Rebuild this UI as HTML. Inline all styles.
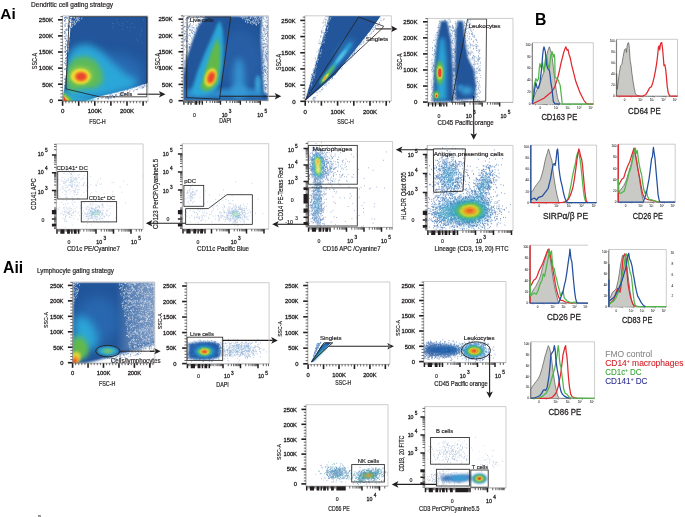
<!DOCTYPE html><html><head><meta charset="utf-8"><style>html,body{margin:0;padding:0;background:#fff;overflow:hidden}svg{display:block;will-change:transform}</style></head><body><svg width="685" height="517" viewBox="0 0 685 517" font-family='"Liberation Sans", sans-serif'>
<defs><filter id="b0_5" x="-50%" y="-50%" width="200%" height="200%"><feGaussianBlur stdDeviation="0.5"/></filter><filter id="b0_6" x="-50%" y="-50%" width="200%" height="200%"><feGaussianBlur stdDeviation="0.6"/></filter><filter id="b0_7" x="-50%" y="-50%" width="200%" height="200%"><feGaussianBlur stdDeviation="0.7"/></filter><filter id="b0_8" x="-50%" y="-50%" width="200%" height="200%"><feGaussianBlur stdDeviation="0.8"/></filter><filter id="b0_9" x="-50%" y="-50%" width="200%" height="200%"><feGaussianBlur stdDeviation="0.9"/></filter><filter id="b1" x="-50%" y="-50%" width="200%" height="200%"><feGaussianBlur stdDeviation="1"/></filter><filter id="b1_2" x="-50%" y="-50%" width="200%" height="200%"><feGaussianBlur stdDeviation="1.2"/></filter><filter id="b1_3" x="-50%" y="-50%" width="200%" height="200%"><feGaussianBlur stdDeviation="1.3"/></filter><filter id="b1_4" x="-50%" y="-50%" width="200%" height="200%"><feGaussianBlur stdDeviation="1.4"/></filter><filter id="b1_5" x="-50%" y="-50%" width="200%" height="200%"><feGaussianBlur stdDeviation="1.5"/></filter><filter id="b1_6" x="-50%" y="-50%" width="200%" height="200%"><feGaussianBlur stdDeviation="1.6"/></filter><filter id="b1_8" x="-50%" y="-50%" width="200%" height="200%"><feGaussianBlur stdDeviation="1.8"/></filter><filter id="b2" x="-50%" y="-50%" width="200%" height="200%"><feGaussianBlur stdDeviation="2"/></filter><filter id="b2_2" x="-50%" y="-50%" width="200%" height="200%"><feGaussianBlur stdDeviation="2.2"/></filter><filter id="b2_5" x="-50%" y="-50%" width="200%" height="200%"><feGaussianBlur stdDeviation="2.5"/></filter><filter id="b3" x="-50%" y="-50%" width="200%" height="200%"><feGaussianBlur stdDeviation="3"/></filter><filter id="b3_5" x="-50%" y="-50%" width="200%" height="200%"><feGaussianBlur stdDeviation="3.5"/></filter><filter id="b4" x="-50%" y="-50%" width="200%" height="200%"><feGaussianBlur stdDeviation="4"/></filter><filter id="b5" x="-50%" y="-50%" width="200%" height="200%"><feGaussianBlur stdDeviation="5"/></filter><filter id="b6" x="-50%" y="-50%" width="200%" height="200%"><feGaussianBlur stdDeviation="6"/></filter></defs>
<rect width="685" height="517" fill="#fff"/>
<text x="0.30" y="19.30" font-size="15.4" text-anchor="start" fill="#000" font-weight="bold" >Ai</text>
<text x="31.10" y="6.60" font-size="6.4" text-anchor="start" fill="#231f20" stroke="#231f20" stroke-width="0.19" textLength="82.00" lengthAdjust="spacingAndGlyphs" >Dendritic cell gating strategy</text>
<text x="535.00" y="25.40" font-size="15.8" text-anchor="start" fill="#000" font-weight="bold" >B</text>
<text x="3.00" y="272.50" font-size="15.8" text-anchor="start" fill="#000" font-weight="bold" >Aii</text>
<text x="37.10" y="273.20" font-size="6.4" text-anchor="start" fill="#231f20" stroke="#231f20" stroke-width="0.19" textLength="76.80" lengthAdjust="spacingAndGlyphs" >Lymphocyte gating strategy</text>
<clipPath id="c1"><rect x="62.90" y="16.10" width="85.10" height="85.10"/></clipPath>
<g clip-path="url(#c1)">
<path d="M72.00 16.50 L148.00 16.50 L148.00 83.00 L140.00 85.50 L130.00 88.50 L120.00 91.00 L110.00 93.50 L100.00 96.00 L92.00 98.50 L84.00 101.20 L63.50 101.20 L64.00 92.00 L66.00 75.00 L68.50 50.00 L70.50 28.00 Z" fill="#22559a" filter="url(#b0_5)"/>
<path d="M65.3 55.4h0.8M70.0 18.3h0.8M64.7 26.3h0.8M67.7 56.4h0.8M70.6 37.7h0.8M65.4 78.3h0.8M69.5 54.2h0.8M67.5 62.7h0.8M66.4 79.4h0.8M72.7 26.2h0.8M68.7 37.9h0.8M64.8 86.8h0.8M68.3 27.7h0.8M70.7 32.0h0.8M64.3 31.9h0.8M67.5 53.0h0.8M67.4 17.3h0.8M64.5 18.7h0.8M67.1 41.1h0.8M64.9 29.6h0.8M64.2 82.3h0.8M68.7 26.0h0.8M71.4 31.5h0.8M64.6 63.3h0.8M73.0 18.1h0.8M72.1 31.0h0.8M64.9 17.4h0.8M66.9 73.4h0.8M66.2 40.9h0.8M68.4 40.8h0.8M71.5 19.2h0.8M64.7 47.9h0.8M65.5 65.5h0.8M65.4 51.0h0.8M71.6 18.8h0.8M67.6 28.9h0.8M66.4 44.2h0.8M64.6 84.8h0.8M70.4 28.6h0.8M69.0 22.2h0.8M70.1 34.3h0.8M64.4 25.1h0.8M67.2 66.8h0.8M67.5 26.3h0.8M67.2 47.2h0.8M64.9 60.4h0.8M71.0 21.3h0.8M65.4 52.7h0.8M64.5 79.3h0.8M65.4 46.8h0.8M69.0 38.6h0.8M66.4 65.2h0.8M67.6 74.0h0.8M66.9 79.1h0.8M68.2 59.7h0.8M65.0 41.7h0.8M69.5 18.3h0.8M65.5 79.1h0.8M67.0 66.9h0.8M67.4 75.2h0.8M67.8 28.1h0.8M69.7 20.9h0.8M65.1 85.2h0.8M67.7 23.2h0.8M65.4 64.7h0.8M68.1 57.7h0.8M69.0 26.6h0.8M65.7 16.9h0.8M64.7 52.3h0.8M65.2 49.1h0.8M66.1 72.4h0.8M69.4 38.7h0.8M65.6 44.6h0.8M69.1 21.6h0.8M64.5 33.3h0.8M70.1 18.3h0.8M64.5 51.7h0.8M65.5 61.4h0.8M64.9 68.4h0.8M68.5 25.3h0.8M65.8 39.0h0.8M65.7 54.5h0.8M68.9 42.2h0.8M65.7 62.9h0.8M68.0 26.0h0.8M64.3 46.9h0.8M68.8 57.4h0.8M68.0 47.6h0.8M64.4 79.1h0.8M66.5 18.3h0.8M68.4 44.8h0.8M70.6 28.9h0.8M64.1 62.8h0.8M64.2 18.2h0.8M70.0 33.9h0.8M64.7 26.1h0.8M67.7 42.6h0.8M67.7 30.5h0.8M69.8 16.2h0.8M67.8 41.1h0.8M67.9 20.0h0.8M67.5 67.8h0.8M68.4 33.0h0.8M64.2 31.7h0.8M68.4 56.6h0.8M71.6 21.6h0.8M70.8 19.8h0.8M66.5 73.1h0.8M66.7 18.5h0.8M66.5 17.7h0.8M72.1 25.7h0.8M67.1 62.2h0.8M67.1 46.0h0.8M65.0 46.7h0.8M64.3 33.7h0.8M66.7 69.7h0.8M65.8 30.3h0.8M68.2 26.5h0.8M67.9 43.1h0.8M64.9 51.6h0.8M65.5 81.9h0.8M65.9 57.5h0.8M67.2 66.8h0.8M67.2 55.8h0.8M68.6 53.5h0.8M66.6 36.1h0.8M70.3 34.1h0.8M64.2 69.4h0.8M66.6 80.6h0.8M65.7 34.0h0.8M67.6 25.1h0.8M65.5 17.5h0.8M67.8 58.3h0.8M65.0 38.6h0.8M66.2 40.4h0.8M67.2 61.4h0.8M67.3 41.8h0.8M72.3 17.0h0.8M64.1 20.5h0.8M66.4 57.0h0.8M66.5 53.7h0.8M64.5 38.7h0.8M65.6 57.9h0.8M70.7 19.3h0.8M65.4 86.7h0.8M67.2 65.3h0.8M64.9 24.1h0.8M70.9 40.5h0.8M65.1 51.4h0.8M68.8 53.0h0.8M70.2 37.6h0.8M65.1 43.6h0.8M64.5 86.2h0.8M66.4 30.3h0.8M69.5 27.4h0.8M67.1 55.6h0.8M64.3 17.5h0.8M66.6 63.1h0.8M69.9 22.4h0.8M64.6 76.1h0.8M66.0 78.4h0.8M68.6 16.5h0.8M69.6 51.0h0.8M64.7 36.6h0.8M67.1 43.3h0.8M71.1 29.2h0.8M68.4 63.9h0.8M64.8 31.1h0.8M66.2 28.9h0.8M64.8 32.6h0.8M66.2 53.9h0.8M70.5 44.7h0.8M65.7 23.5h0.8M66.6 29.5h0.8M71.2 32.1h0.8M64.4 21.3h0.8M68.4 44.7h0.8M70.8 22.6h0.8M66.5 70.2h0.8M66.0 60.7h0.8M65.3 63.6h0.8M67.1 44.4h0.8M65.6 16.7h0.8M68.2 29.9h0.8M66.6 71.4h0.8M65.3 58.4h0.8M65.1 58.7h0.8M69.4 43.4h0.8M67.5 72.2h0.8M68.8 48.2h0.8M65.1 38.3h0.8M66.7 71.0h0.8M71.1 32.9h0.8M65.1 20.0h0.8M64.3 36.8h0.8M65.6 51.4h0.8M67.5 47.2h0.8M70.1 46.8h0.8M66.2 50.5h0.8M66.2 45.7h0.8M64.8 69.2h0.8M71.3 18.3h0.8M67.0 76.7h0.8M66.0 58.4h0.8M65.2 87.8h0.8M67.3 62.0h0.8M67.9 25.4h0.8M65.2 19.6h0.8M65.7 35.4h0.8M65.0 46.7h0.8M64.8 49.1h0.8M64.8 21.2h0.8M65.0 46.8h0.8M71.4 34.4h0.8M66.9 53.2h0.8M64.7 51.5h0.8M64.6 79.2h0.8M64.5 85.5h0.8M66.8 59.2h0.8M66.3 68.3h0.8" stroke="#22559a" stroke-width="0.8" opacity="0.85"/>
<path d="M71.1 27.4h0.8M78.6 17.0h0.8M71.2 21.8h0.8M77.2 18.3h0.8M73.1 23.1h0.8M77.7 17.6h0.8M71.0 27.5h0.8M71.7 23.7h0.8M75.2 19.9h0.8M72.2 23.2h0.8M76.1 17.0h0.8M75.9 21.4h0.8M78.4 19.1h0.8M81.1 18.8h0.8M74.5 24.3h0.8M76.0 22.1h0.8M74.2 17.4h0.8M81.6 17.9h0.8M77.7 20.9h0.8M75.5 19.0h0.8M74.0 24.8h0.8M74.4 20.9h0.8M76.5 18.9h0.8M77.5 19.9h0.8M78.9 20.7h0.8M73.7 17.7h0.8M72.5 25.3h0.8M74.0 22.5h0.8M71.7 21.6h0.8M73.6 17.3h0.8M77.4 20.0h0.8M71.6 26.9h0.8M71.3 17.4h0.8M71.6 25.3h0.8M77.4 17.0h0.8M78.9 18.3h0.8M74.4 23.9h0.8M75.1 23.7h0.8M76.7 21.0h0.8M72.2 17.0h0.8M73.6 21.7h0.8M72.3 20.7h0.8M74.5 22.9h0.8M73.8 18.3h0.8M71.7 26.1h0.8M70.6 24.0h0.8M77.5 19.7h0.8M73.7 21.3h0.8M76.8 18.7h0.8M76.2 18.0h0.8" stroke="#fff" stroke-width="0.8" opacity="0.8"/>
<path d="M108.3 98.1h0.8M98.4 97.9h0.8M123.4 91.5h0.8M143.0 86.8h0.8M106.8 98.1h0.8M145.3 83.4h0.8M118.8 93.7h0.8M127.7 89.4h0.8M110.4 97.6h0.8M116.4 95.0h0.8M107.8 97.2h0.8M111.4 93.8h0.8M127.1 89.8h0.8M105.2 98.0h0.8M119.4 95.5h0.8M136.1 87.0h0.8M101.6 97.7h0.8M131.9 88.9h0.8M109.7 95.5h0.8M135.8 89.4h0.8M116.3 96.3h0.8M108.0 98.8h0.8M127.3 90.1h0.8M120.9 91.8h0.8M108.8 97.9h0.8M110.6 95.7h0.8M136.7 89.7h0.8M121.2 95.3h0.8M106.8 96.7h0.8M146.3 84.3h0.8M124.6 93.6h0.8M120.5 95.4h0.8M138.7 86.9h0.8M107.6 98.7h0.8M97.5 98.8h0.8M115.9 92.6h0.8M132.9 91.2h0.8M125.7 90.8h0.8M143.0 87.5h0.8M117.9 91.9h0.8M119.9 93.3h0.8M114.0 97.7h0.8M117.0 92.3h0.8M111.0 97.3h0.8M113.3 97.1h0.8M122.3 90.9h0.8M140.7 88.0h0.8M133.7 90.2h0.8M144.1 86.4h0.8M115.5 95.2h0.8M144.1 85.6h0.8M114.2 96.5h0.8M140.4 86.6h0.8M142.3 87.9h0.8M112.4 95.5h0.8M129.8 90.9h0.8M111.0 94.7h0.8M144.5 86.7h0.8M145.3 86.1h0.8M120.9 93.8h0.8M143.3 85.1h0.8M134.6 89.3h0.8M138.8 87.7h0.8M110.5 98.5h0.8M147.3 85.5h0.8M120.1 95.3h0.8M129.0 90.9h0.8M109.3 95.9h0.8M122.8 93.2h0.8M147.2 86.4h0.8M105.6 98.0h0.8M113.3 96.4h0.8M142.1 86.3h0.8M134.5 86.7h0.8M106.9 96.9h0.8M97.4 98.9h0.8M114.7 94.5h0.8M115.1 95.5h0.8M134.8 87.0h0.8M102.0 97.1h0.8M101.5 98.4h0.8M103.2 97.1h0.8M124.1 90.5h0.8M137.6 88.2h0.8M144.9 83.4h0.8M109.6 94.6h0.8M121.1 93.1h0.8M130.6 89.6h0.8M141.8 86.9h0.8M114.4 93.1h0.8M105.6 97.7h0.8M110.5 95.0h0.8M114.1 97.1h0.8M130.4 88.9h0.8M112.1 95.2h0.8M142.0 87.9h0.8M107.8 97.7h0.8M126.3 90.0h0.8M137.0 89.0h0.8M122.1 94.7h0.8M121.7 93.5h0.8M144.3 84.4h0.8M144.0 85.6h0.8M140.9 86.3h0.8M97.9 98.8h0.8M113.2 97.1h0.8M121.5 92.5h0.8M115.7 94.5h0.8M141.4 86.9h0.8M144.4 84.8h0.8" stroke="#22559a" stroke-width="0.8" opacity="0.85"/>
<path d="M121.4 91.6h0.8M125.6 89.3h0.8M105.7 96.1h0.8M106.4 95.3h0.8M137.7 86.2h0.8M121.3 91.7h0.8M105.2 96.4h0.8M108.2 95.0h0.8M100.7 96.9h0.8M126.2 89.8h0.8M126.6 89.9h0.8M137.4 88.2h0.8M129.7 90.5h0.8M118.6 91.5h0.8M143.7 86.6h0.8M113.7 92.9h0.8M118.8 92.4h0.8M126.4 89.6h0.8M102.6 96.7h0.8M121.3 92.1h0.8M110.7 93.9h0.8M125.9 91.5h0.8M121.1 90.7h0.8M133.4 89.2h0.8M146.7 85.7h0.8M118.3 91.7h0.8M120.8 91.6h0.8M137.1 86.5h0.8M125.3 90.9h0.8M123.8 91.5h0.8M124.6 90.2h0.8M134.9 89.2h0.8M139.5 87.8h0.8M125.6 90.3h0.8M144.4 86.5h0.8M119.8 91.4h0.8M115.0 93.3h0.8M139.8 85.6h0.8M130.1 89.4h0.8M146.1 84.9h0.8M141.1 86.5h0.8M101.8 96.4h0.8M135.3 88.5h0.8M114.2 94.4h0.8M132.0 88.3h0.8M137.9 87.3h0.8M140.7 86.9h0.8M115.3 93.7h0.8M134.0 89.3h0.8M113.2 94.2h0.8M132.5 89.5h0.8M117.7 91.6h0.8M134.9 87.1h0.8M145.3 85.5h0.8M130.6 88.5h0.8M135.5 87.4h0.8M103.8 97.0h0.8M133.2 87.3h0.8M124.5 90.7h0.8M136.5 87.9h0.8M141.8 87.1h0.8M129.0 89.1h0.8M131.0 88.0h0.8M142.9 84.7h0.8M137.6 87.0h0.8M106.9 94.6h0.8M141.9 85.0h0.8M116.2 93.6h0.8M138.2 87.2h0.8M146.3 84.5h0.8M140.0 86.9h0.8M135.0 88.0h0.8M136.8 87.9h0.8M131.3 88.8h0.8M131.3 87.8h0.8M107.0 95.5h0.8M125.6 91.2h0.8M122.5 90.6h0.8M121.4 91.5h0.8M103.2 96.0h0.8M100.3 97.3h0.8M113.8 94.2h0.8M133.3 89.5h0.8M144.7 84.8h0.8M113.6 94.5h0.8M117.6 91.6h0.8M105.4 94.9h0.8M129.6 90.3h0.8M108.5 95.5h0.8M115.0 92.9h0.8M107.1 94.5h0.8M132.7 88.2h0.8M111.1 94.9h0.8M110.4 95.2h0.8M133.0 89.6h0.8M99.6 97.6h0.8M123.9 90.6h0.8M144.4 85.0h0.8M130.4 89.5h0.8M106.8 95.7h0.8M101.4 97.1h0.8M135.1 87.2h0.8M102.4 96.2h0.8M123.8 91.7h0.8M145.3 86.5h0.8M128.4 89.1h0.8M120.0 92.5h0.8M147.2 86.2h0.8M103.1 97.0h0.8M141.5 84.9h0.8M103.2 96.2h0.8M133.1 88.1h0.8M129.0 88.4h0.8M114.3 93.7h0.8M104.3 95.3h0.8M138.1 88.4h0.8M115.9 92.9h0.8M131.0 89.6h0.8M143.5 85.7h0.8M117.6 92.6h0.8" stroke="#fff" stroke-width="0.8" opacity="0.8"/>
<path d="M116.5 19.2h0.8M127.4 21.9h0.8M134.5 27.3h0.8M137.5 40.8h0.8M118.7 24.3h0.8M136.7 39.2h0.8M117.2 22.6h0.8M112.5 23.4h0.8M122.5 29.3h0.8M143.2 20.4h0.8M130.0 27.4h0.8M127.2 27.2h0.8M141.0 29.2h0.8M141.8 42.7h0.8M122.0 23.4h0.8M112.4 28.3h0.8M147.9 28.9h0.8M112.5 23.5h0.8M112.5 26.3h0.8M121.9 25.6h0.8M129.6 30.8h0.8M131.7 23.5h0.8M139.8 33.8h0.8M140.0 36.2h0.8M141.5 31.5h0.8" stroke="#6f95c8" stroke-width="0.8" opacity="0.6"/>
<clipPath id="c2"><path d="M72.00 16.50 L148.00 16.50 L148.00 83.50 L140.00 86.00 L130.00 89.00 L120.00 91.50 L110.00 94.00 L100.00 96.50 L92.00 99.00 L84.00 101.20 L63.50 101.20 L64.00 92.00 L66.00 75.00 L68.50 50.00 L70.50 28.00 Z"/></clipPath>
<g clip-path="url(#c2)">
<ellipse cx="110.00" cy="75.00" rx="34.00" ry="22.00" fill="#2a6db5" filter="url(#b6)" opacity="0.9"/>
<path d="M66.00 70.00 L68.00 55.00 L76.00 46.00 L88.00 44.00 L100.00 50.00 L112.00 62.00 L126.00 74.00 L140.00 82.00 L130.00 89.00 L112.00 94.00 L95.00 98.00 L80.00 101.00 L66.00 101.00 Z" fill="#2aa6d8" filter="url(#b3_5)"/>
<path d="M66.00 82.00 L68.00 66.00 L75.00 58.00 L86.00 56.00 L96.00 61.00 L102.00 71.00 L103.00 82.00 L96.00 88.00 L82.00 89.00 L70.00 92.00 Z" fill="#5cba5a" filter="url(#b2_5)"/>
<ellipse cx="81.00" cy="75.50" rx="12.00" ry="9.50" fill="#8cc84a" filter="url(#b2)"/>
<ellipse cx="80.60" cy="76.30" rx="9.80" ry="7.60" fill="#f2e435" filter="url(#b1_3)"/>
<ellipse cx="81.00" cy="76.50" rx="7.00" ry="5.20" fill="#f39a2b" filter="url(#b1)"/>
<ellipse cx="81.20" cy="76.60" rx="5.00" ry="3.80" fill="#e8452e" filter="url(#b0_9)"/>
</g>
<path d="M63.50 90.00 L70.00 95.00 L80.00 98.00 L95.00 99.00 L95.00 101.50 L63.50 101.50 Z" fill="#30a8d0" filter="url(#b1_5)"/>
<path d="M63.50 92.00 L68.00 96.00 L72.00 99.00 L72.00 101.50 L63.50 101.50 Z" fill="#62b94a" filter="url(#b1_2)"/>
<path d="M63.50 94.00 L66.50 98.00 L70.00 100.50 L63.50 101.50 Z" fill="#f2e435" filter="url(#b0_8)"/>
<path d="M63.50 95.50 L65.50 99.00 L68.00 101.00 L63.50 101.50 Z" fill="#e8452e" filter="url(#b0_6)"/>
</g>
<path d="M65.90 88.90 L69.30 16.60 L146.90 16.60 L146.90 96.80 L99.40 96.80 Z" stroke="#231f20" stroke-width="0.8" fill="none" stroke-linejoin="miter" />
<text x="120.00" y="96.00" font-size="5.2" text-anchor="start" fill="#231f20" stroke="#231f20" stroke-width="0.16" textLength="12.20" lengthAdjust="spacingAndGlyphs" >Cells</text>
<line x1="137.50" y1="94.20" x2="160.40" y2="94.20" stroke="#231f20" stroke-width="1.1" />
<path d="M165.50 94.20 L158.90 97.50 L160.48 94.20 L158.90 90.90 Z" fill="#231f20"/>
<path d="M62.60 15.80 H148.00 V101.20" stroke="#b8b8b8" stroke-width="0.7" fill="none"/>
<path d="M62.60 15.80 V101.20 H148.00" stroke="#555" stroke-width="0.5" fill="none"/>
<line x1="58.00" y1="100.30" x2="62.60" y2="100.30" stroke="#231f20" stroke-width="1.6"/>
<text x="53.00" y="102.60" font-size="6.1" text-anchor="end" fill="#231f20" stroke="#231f20" stroke-width="0.30" >0</text>
<line x1="58.00" y1="84.20" x2="62.60" y2="84.20" stroke="#231f20" stroke-width="1.6"/>
<text x="53.00" y="86.50" font-size="6.1" text-anchor="end" fill="#231f20" stroke="#231f20" stroke-width="0.30" >50K</text>
<line x1="58.00" y1="68.10" x2="62.60" y2="68.10" stroke="#231f20" stroke-width="1.6"/>
<text x="53.00" y="70.40" font-size="6.1" text-anchor="end" fill="#231f20" stroke="#231f20" stroke-width="0.30" >100K</text>
<line x1="58.00" y1="52.00" x2="62.60" y2="52.00" stroke="#231f20" stroke-width="1.6"/>
<text x="53.00" y="54.30" font-size="6.1" text-anchor="end" fill="#231f20" stroke="#231f20" stroke-width="0.30" >150K</text>
<line x1="58.00" y1="35.90" x2="62.60" y2="35.90" stroke="#231f20" stroke-width="1.6"/>
<text x="53.00" y="38.20" font-size="6.1" text-anchor="end" fill="#231f20" stroke="#231f20" stroke-width="0.30" >200K</text>
<line x1="58.00" y1="19.80" x2="62.60" y2="19.80" stroke="#231f20" stroke-width="1.6"/>
<text x="53.00" y="22.10" font-size="6.1" text-anchor="end" fill="#231f20" stroke="#231f20" stroke-width="0.30" >250K</text>
<path d="M60.40 97.08H62.60M60.40 93.86H62.60M60.40 90.64H62.60M60.40 87.42H62.60M60.40 80.98H62.60M60.40 77.76H62.60M60.40 74.54H62.60M60.40 71.32H62.60M60.40 64.88H62.60M60.40 61.66H62.60M60.40 58.44H62.60M60.40 55.22H62.60M60.40 48.78H62.60M60.40 45.56H62.60M60.40 42.34H62.60M60.40 39.12H62.60M60.40 32.68H62.60M60.40 29.46H62.60M60.40 26.24H62.60M60.40 23.02H62.60M60.40 16.58H62.60" stroke="#231f20" stroke-width="0.7"/>
<line x1="62.60" y1="101.20" x2="62.60" y2="105.80" stroke="#231f20" stroke-width="1.6"/>
<text x="62.60" y="113.20" font-size="6.1" text-anchor="middle" fill="#231f20" stroke="#231f20" stroke-width="0.30" >0</text>
<line x1="78.70" y1="101.20" x2="78.70" y2="105.80" stroke="#231f20" stroke-width="1.6"/>
<line x1="94.80" y1="101.20" x2="94.80" y2="105.80" stroke="#231f20" stroke-width="1.6"/>
<text x="94.80" y="113.20" font-size="6.1" text-anchor="middle" fill="#231f20" stroke="#231f20" stroke-width="0.30" >100K</text>
<line x1="110.90" y1="101.20" x2="110.90" y2="105.80" stroke="#231f20" stroke-width="1.6"/>
<line x1="127.00" y1="101.20" x2="127.00" y2="105.80" stroke="#231f20" stroke-width="1.6"/>
<text x="127.00" y="113.20" font-size="6.1" text-anchor="middle" fill="#231f20" stroke="#231f20" stroke-width="0.30" >200K</text>
<line x1="143.10" y1="101.20" x2="143.10" y2="105.80" stroke="#231f20" stroke-width="1.6"/>
<path d="M65.82 101.20V103.20M69.04 101.20V103.20M72.26 101.20V103.20M75.48 101.20V103.20M81.92 101.20V103.20M85.14 101.20V103.20M88.36 101.20V103.20M91.58 101.20V103.20M98.02 101.20V103.20M101.24 101.20V103.20M104.46 101.20V103.20M107.68 101.20V103.20M114.12 101.20V103.20M117.34 101.20V103.20M120.56 101.20V103.20M123.78 101.20V103.20M130.22 101.20V103.20M133.44 101.20V103.20M136.66 101.20V103.20M139.88 101.20V103.20M146.32 101.20V103.20" stroke="#231f20" stroke-width="0.7"/>
<text x="97.50" y="124.10" font-size="6.5" text-anchor="middle" fill="#231f20" stroke="#231f20" stroke-width="0.20" textLength="16.50" lengthAdjust="spacingAndGlyphs" >FSC-H</text>
<text x="37.20" y="61.00" font-size="6.5" text-anchor="middle" fill="#231f20" stroke="#231f20" stroke-width="0.20" textLength="16.30" lengthAdjust="spacingAndGlyphs" transform="rotate(-90 37.20 61.00)" >SSC-A</text>
<clipPath id="c3"><rect x="183.40" y="16.00" width="85.00" height="84.70"/></clipPath>
<g clip-path="url(#c3)">
<path d="M206.00 16.00 L268.40 16.00 L268.40 101.00 L183.00 101.00 L183.00 76.00 L186.00 60.00 L192.50 40.00 L198.00 26.00 Z" fill="#22559a" filter="url(#b1_2)"/>
<path d="M200.0 21.3h0.8M193.2 22.7h0.8M188.3 27.1h0.8M193.6 16.0h0.8M189.2 44.3h0.8M193.3 27.5h0.8M187.9 26.2h0.8M183.3 27.6h0.8M198.2 16.7h0.8M200.0 20.6h0.8M205.1 17.1h0.8M183.3 21.8h0.8M184.1 26.5h0.8M189.7 26.8h0.8M193.1 31.4h0.8M201.9 16.9h0.8M186.2 58.0h0.8M203.0 17.8h0.8M200.3 16.6h0.8M184.9 26.6h0.8M201.4 16.4h0.8M184.4 61.9h0.8M187.5 41.5h0.8M205.3 16.5h0.8M192.0 30.2h0.8M196.7 17.8h0.8M183.5 27.4h0.8M191.8 32.7h0.8M183.6 41.6h0.8M189.3 33.5h0.8M184.5 33.6h0.8M192.8 17.6h0.8M183.3 16.6h0.8M186.1 41.0h0.8M183.7 39.2h0.8M189.7 29.9h0.8M187.3 51.7h0.8M184.9 36.7h0.8M189.2 30.0h0.8M189.3 47.9h0.8M183.3 68.4h0.8M189.3 24.8h0.8M184.0 33.7h0.8M185.3 60.8h0.8M191.5 18.0h0.8M185.4 19.8h0.8M194.2 32.2h0.8M191.3 31.8h0.8M198.6 24.0h0.8M196.4 17.0h0.8M184.5 40.1h0.8M199.5 19.9h0.8M194.2 34.5h0.8M185.4 47.0h0.8M186.9 18.5h0.8M183.6 16.6h0.8M189.1 16.4h0.8M196.4 27.9h0.8M201.5 19.6h0.8M189.7 35.3h0.8M199.1 24.4h0.8M189.0 47.9h0.8M188.6 35.3h0.8M191.6 25.8h0.8M186.6 47.4h0.8M189.9 36.3h0.8M185.6 56.5h0.8M185.2 31.9h0.8M185.2 38.8h0.8M195.7 25.2h0.8M186.6 29.6h0.8M183.7 39.8h0.8M189.2 21.9h0.8M191.4 30.7h0.8M201.2 20.7h0.8M189.1 46.8h0.8M185.9 18.8h0.8M191.3 38.1h0.8M187.4 38.2h0.8M183.0 69.7h0.8M184.4 34.0h0.8M183.1 74.2h0.8M200.0 19.0h0.8M186.2 55.7h0.8M186.5 40.6h0.8M185.8 45.3h0.8M189.3 25.3h0.8M192.3 33.5h0.8M186.4 37.1h0.8M196.3 16.9h0.8M196.7 28.8h0.8M187.0 25.2h0.8M187.9 44.0h0.8M188.3 18.3h0.8M184.1 68.7h0.8M194.5 20.5h0.8M189.0 26.2h0.8M190.2 24.0h0.8M185.4 31.1h0.8M190.4 19.0h0.8M203.7 17.2h0.8M190.9 43.9h0.8M183.9 45.4h0.8M185.8 41.2h0.8M190.0 30.0h0.8M197.3 18.7h0.8M188.2 18.0h0.8M188.4 28.0h0.8M189.3 16.4h0.8M189.4 47.2h0.8" stroke="#22559a" stroke-width="0.8" opacity="0.85"/>
<path d="M191.8 28.0h0.8M185.1 55.2h0.8M184.2 49.3h0.8M197.6 19.0h0.8M193.1 22.2h0.8M192.4 27.2h0.8M184.6 46.7h0.8M185.6 58.3h0.8M193.1 21.2h0.8M187.5 49.1h0.8M198.8 17.6h0.8M194.3 29.3h0.8M187.5 34.5h0.8M190.6 33.9h0.8M185.7 34.1h0.8M186.4 35.6h0.8M184.0 30.6h0.8M193.9 27.9h0.8M185.5 61.3h0.8M189.0 39.6h0.8M184.2 63.8h0.8M200.6 21.6h0.8M193.4 28.1h0.8M183.6 25.0h0.8M187.1 45.9h0.8M193.1 24.4h0.8M201.9 21.0h0.8M191.6 29.4h0.8M187.5 53.7h0.8M184.0 39.9h0.8M187.9 52.7h0.8M184.3 60.4h0.8M199.1 20.3h0.8M184.6 37.4h0.8M183.8 31.5h0.8M184.9 22.7h0.8M196.0 28.0h0.8M195.5 19.2h0.8M187.5 36.6h0.8M187.5 46.4h0.8M195.9 28.2h0.8M184.3 40.2h0.8M184.8 38.8h0.8M186.6 49.3h0.8M184.6 54.6h0.8M184.0 49.5h0.8M188.5 18.9h0.8M194.7 34.4h0.8M184.4 63.0h0.8M190.2 23.7h0.8M191.5 27.4h0.8M197.0 17.6h0.8M186.6 18.7h0.8M183.8 63.4h0.8M191.0 32.4h0.8M196.9 21.2h0.8M183.5 36.1h0.8M184.8 23.2h0.8M188.4 16.2h0.8M185.6 39.8h0.8M197.8 23.5h0.8M187.4 53.6h0.8M184.6 57.7h0.8M183.3 24.9h0.8M183.7 54.3h0.8M188.0 28.7h0.8M183.2 51.6h0.8M196.4 28.2h0.8M184.8 61.0h0.8M189.6 19.5h0.8M188.1 22.7h0.8M185.6 59.6h0.8M185.9 52.6h0.8M203.4 18.2h0.8M183.1 68.1h0.8M186.0 40.2h0.8M187.1 27.5h0.8M187.9 47.2h0.8M194.7 18.7h0.8M183.8 36.4h0.8" stroke="#6f95c8" stroke-width="0.8" opacity="0.7"/>
<path d="M262.00 16.00 L268.40 16.00 L268.40 96.00 L264.00 92.00 L262.50 70.00 L261.00 40.00 Z" fill="#fff" filter="url(#b0_8)"/>
<path d="M266.1 67.3h0.7M262.0 25.1h0.7M265.8 84.3h0.7M262.5 33.4h0.7M266.3 53.7h0.7M264.1 43.9h0.7M263.2 47.1h0.7M265.0 70.7h0.7M265.6 75.4h0.7M265.0 84.1h0.7M267.9 17.0h0.7M267.1 36.3h0.7M265.6 77.2h0.7M267.3 91.2h0.7M265.7 84.7h0.7M264.7 34.7h0.7M262.2 55.8h0.7M266.5 51.9h0.7M266.0 26.0h0.7M268.2 53.9h0.7M267.1 74.3h0.7M266.8 46.7h0.7M261.8 52.4h0.7M263.5 47.9h0.7M268.3 40.7h0.7M266.8 29.3h0.7M265.4 43.7h0.7M262.8 47.4h0.7M267.9 62.3h0.7M264.8 80.3h0.7M264.7 25.0h0.7M262.0 73.5h0.7M264.5 32.7h0.7M268.2 37.6h0.7M266.8 41.3h0.7M266.5 58.2h0.7M263.2 50.8h0.7M264.3 69.8h0.7M264.6 69.3h0.7M262.1 69.4h0.7M261.5 23.0h0.7M267.5 76.0h0.7M261.7 38.5h0.7M267.3 78.1h0.7M266.2 69.8h0.7M261.2 20.5h0.7M263.2 62.2h0.7M267.1 51.4h0.7M262.8 66.8h0.7M268.0 54.8h0.7M265.2 39.2h0.7M266.6 27.7h0.7M266.0 33.5h0.7M266.0 56.2h0.7M267.1 61.3h0.7M267.7 52.1h0.7M266.7 81.8h0.7M267.1 26.1h0.7M267.5 22.7h0.7M263.3 28.8h0.7M264.6 31.2h0.7M262.6 62.3h0.7M262.2 54.6h0.7M266.1 17.3h0.7M267.5 76.4h0.7M266.6 73.9h0.7M268.1 27.5h0.7M265.6 89.9h0.7M261.7 44.2h0.7M266.6 43.9h0.7M263.2 30.4h0.7M266.4 49.5h0.7M265.5 92.2h0.7M262.3 67.5h0.7M266.0 56.7h0.7M263.5 29.0h0.7M263.8 60.3h0.7M268.2 37.9h0.7M267.4 78.8h0.7M263.7 62.1h0.7M264.6 28.3h0.7M266.9 85.7h0.7M266.5 94.6h0.7M263.1 60.3h0.7M264.3 67.1h0.7M263.1 70.5h0.7M264.5 46.7h0.7M266.2 37.8h0.7M263.9 43.1h0.7M268.1 91.0h0.7M267.8 23.9h0.7M267.0 32.8h0.7M265.8 84.5h0.7M266.5 20.7h0.7M265.4 29.7h0.7M267.1 34.1h0.7M262.5 44.4h0.7M265.1 88.2h0.7M262.3 83.2h0.7M265.7 33.7h0.7M264.8 75.4h0.7M267.2 53.4h0.7M263.8 74.9h0.7M261.8 72.5h0.7M263.9 71.6h0.7M261.6 36.2h0.7M263.1 40.3h0.7M268.2 84.3h0.7M261.6 62.2h0.7M268.0 80.8h0.7M266.8 88.2h0.7M265.3 51.0h0.7M262.4 63.6h0.7M263.1 39.0h0.7M264.9 21.9h0.7M264.6 36.1h0.7M264.4 31.0h0.7M266.5 85.1h0.7M266.1 87.6h0.7M267.5 63.1h0.7M266.6 27.4h0.7M265.1 93.3h0.7M266.5 93.6h0.7M263.3 27.8h0.7M261.5 17.6h0.7M265.4 72.4h0.7M262.3 92.2h0.7M263.1 34.9h0.7M266.2 18.1h0.7M264.4 69.5h0.7M265.1 34.6h0.7M267.0 60.4h0.7M265.2 46.9h0.7M268.2 20.6h0.7M262.9 73.2h0.7M263.3 76.4h0.7M266.5 49.1h0.7M267.2 71.5h0.7M266.0 59.6h0.7M265.2 89.7h0.7M267.1 35.7h0.7M267.6 64.7h0.7M264.5 59.0h0.7M265.0 54.7h0.7M268.1 76.3h0.7M261.8 38.5h0.7M265.2 66.3h0.7M268.1 82.1h0.7M262.7 36.5h0.7M265.4 56.4h0.7M268.0 70.6h0.7M262.0 72.2h0.7M265.0 87.4h0.7M266.7 93.4h0.7M264.8 55.6h0.7M262.8 37.1h0.7M265.4 69.0h0.7M261.9 58.8h0.7M261.1 19.0h0.7M265.2 72.2h0.7M264.1 66.1h0.7M267.2 59.2h0.7M267.6 54.0h0.7M267.1 67.9h0.7M265.7 55.3h0.7M266.8 66.7h0.7M267.4 83.9h0.7M265.9 44.9h0.7M268.0 65.7h0.7M263.0 82.1h0.7M262.7 16.8h0.7M267.6 35.3h0.7M263.7 54.2h0.7M261.8 56.2h0.7M263.8 19.2h0.7M263.7 70.2h0.7M267.9 64.6h0.7M268.1 65.1h0.7M263.9 65.9h0.7M265.6 81.1h0.7M264.5 80.6h0.7M262.6 40.4h0.7M264.2 36.6h0.7M263.3 43.9h0.7M266.6 53.7h0.7M262.7 22.7h0.7M267.4 72.4h0.7M266.0 22.5h0.7M261.2 32.5h0.7M268.2 51.6h0.7M266.6 88.9h0.7M264.7 78.2h0.7M265.4 52.4h0.7M266.8 31.5h0.7M262.8 62.6h0.7M262.9 26.0h0.7M265.2 71.2h0.7M263.7 47.6h0.7M265.5 38.9h0.7M263.4 30.6h0.7M266.3 53.8h0.7M266.7 58.1h0.7M267.1 68.3h0.7M264.5 66.1h0.7M266.0 29.9h0.7M264.4 28.3h0.7M266.5 58.3h0.7M267.2 45.7h0.7M267.4 20.7h0.7M261.6 42.4h0.7M262.7 54.2h0.7M263.0 72.8h0.7M267.0 80.1h0.7M267.1 26.3h0.7M262.6 86.0h0.7M267.7 93.8h0.7M267.9 57.1h0.7M263.0 18.4h0.7M264.7 20.1h0.7M265.2 25.8h0.7M262.3 35.0h0.7M264.6 33.2h0.7M264.0 88.4h0.7M264.1 84.8h0.7M263.9 29.8h0.7M263.5 84.8h0.7M265.4 44.3h0.7M262.6 67.9h0.7M264.0 81.3h0.7M262.2 89.8h0.7M266.7 78.9h0.7M265.0 70.9h0.7M262.5 58.3h0.7M265.6 46.2h0.7M265.0 89.2h0.7M264.1 40.6h0.7M264.3 86.8h0.7M262.1 51.0h0.7M266.1 39.6h0.7M264.8 87.5h0.7M263.3 51.7h0.7M261.8 25.2h0.7M265.7 60.8h0.7M266.8 33.0h0.7M267.2 47.0h0.7M262.3 68.0h0.7M265.0 57.5h0.7M261.6 26.3h0.7M263.5 43.9h0.7M267.3 25.5h0.7M266.7 27.3h0.7M265.2 87.1h0.7M266.2 73.3h0.7M264.7 21.7h0.7M267.4 86.9h0.7M261.7 59.0h0.7M262.7 80.9h0.7M262.9 49.2h0.7M266.5 41.4h0.7M261.5 37.9h0.7" stroke="#22559a" stroke-width="0.7" opacity="0.9"/>
<path d="M245.9 20.1h0.7M251.8 21.1h0.7M251.5 21.7h0.7M259.0 16.9h0.7M255.8 24.2h0.7M255.1 20.1h0.7M260.6 16.3h0.7M257.3 22.0h0.7M247.1 17.8h0.7M253.4 20.4h0.7M255.2 19.7h0.7M255.6 16.8h0.7M249.2 20.6h0.7M242.5 18.2h0.7M242.6 18.6h0.7M250.0 18.1h0.7M245.5 19.3h0.7M240.5 17.0h0.7M255.2 24.3h0.7M254.5 18.5h0.7M258.4 18.4h0.7M258.5 21.9h0.7M259.0 22.4h0.7M246.2 18.8h0.7M256.7 17.4h0.7M255.5 21.5h0.7M249.9 18.3h0.7M254.4 23.3h0.7M253.0 22.6h0.7M255.0 17.1h0.7M257.9 20.5h0.7M243.4 16.9h0.7M256.3 19.1h0.7M252.7 20.0h0.7M248.6 20.3h0.7M250.6 17.4h0.7M256.1 24.2h0.7M250.8 23.1h0.7M254.5 22.0h0.7M244.8 20.0h0.7M246.4 19.7h0.7M248.4 19.3h0.7M253.8 19.7h0.7M256.1 24.9h0.7M247.1 20.1h0.7M243.6 17.2h0.7M256.7 20.2h0.7M249.4 20.6h0.7M251.0 16.2h0.7M251.9 18.4h0.7M241.8 16.8h0.7M253.1 16.3h0.7M247.0 22.4h0.7M246.0 17.2h0.7M255.0 17.6h0.7M248.3 19.4h0.7M247.1 19.6h0.7M259.2 17.5h0.7M258.2 23.7h0.7M253.1 23.1h0.7M250.2 22.8h0.7M252.1 22.0h0.7M255.8 22.5h0.7M256.6 19.3h0.7M247.1 19.9h0.7M258.7 18.8h0.7M260.4 19.6h0.7M246.0 17.0h0.7M241.7 17.4h0.7M244.2 18.9h0.7M238.4 16.2h0.7M256.3 24.2h0.7M245.3 21.7h0.7M258.3 23.1h0.7M245.4 21.8h0.7M247.2 22.9h0.7M251.9 24.7h0.7M250.2 16.9h0.7M250.2 18.4h0.7M250.1 18.1h0.7M252.3 22.4h0.7M260.8 18.8h0.7M256.4 18.5h0.7M244.5 17.8h0.7M251.6 17.3h0.7M251.8 21.7h0.7M250.3 21.3h0.7M254.0 17.2h0.7M258.6 19.1h0.7M255.0 20.6h0.7M259.9 16.8h0.7M249.9 22.6h0.7M241.4 16.5h0.7M254.1 17.7h0.7M246.7 16.3h0.7M253.6 18.0h0.7M243.8 17.3h0.7M247.1 21.2h0.7M248.5 19.8h0.7M256.2 18.0h0.7M254.2 22.7h0.7M244.8 16.8h0.7M252.7 20.7h0.7M257.4 19.6h0.7M250.3 23.6h0.7M258.4 21.9h0.7M254.5 22.9h0.7M248.4 22.4h0.7M260.3 19.6h0.7M255.9 25.3h0.7M256.7 20.3h0.7M255.4 23.6h0.7M260.0 18.1h0.7M252.9 23.4h0.7M242.4 18.9h0.7M247.6 22.1h0.7M255.0 16.9h0.7M253.4 21.2h0.7M245.1 21.6h0.7M249.7 18.4h0.7" stroke="#fff" stroke-width="0.7" opacity="0.8"/>
<ellipse cx="240.00" cy="60.00" rx="22.00" ry="30.00" fill="#2a64aa" filter="url(#b5)" opacity="0.7"/>
<path d="M186.00 89.00 L262.00 89.00 L263.00 97.00 L186.00 99.00 Z" fill="#2d8ccc" filter="url(#b2)"/>
<ellipse cx="239.00" cy="78.00" rx="5.50" ry="20.00" fill="#3592d0" filter="url(#b3)"/>
<ellipse cx="239.00" cy="91.00" rx="8.50" ry="6.50" fill="#3598d4" filter="url(#b2_5)"/>
<ellipse cx="258.00" cy="84.00" rx="3.00" ry="9.00" fill="#38a0d6" filter="url(#b1_8)"/>
<path d="M191.00 93.00 L193.00 86.00 L197.80 70.70 L204.90 52.90 L212.00 36.90 L217.40 24.50 L220.00 20.50 L222.70 29.80 L223.60 47.60 L222.70 65.40 L220.00 83.20 L215.60 90.30 L206.70 94.50 L196.00 96.00 Z" fill="#2aa6d8" filter="url(#b1_6)"/>
<path d="M200.50 87.50 L206.70 65.40 L212.90 47.60 L217.40 38.00 L220.00 47.60 L220.00 65.40 L217.40 83.20 L210.20 90.30 L204.00 91.00 Z" fill="#62b94a" filter="url(#b1_6)"/>
<ellipse cx="210.60" cy="77.50" rx="5.60" ry="9.40" fill="#f2e435" filter="url(#b1_2)" transform="rotate(18 210.60 77.50)"/>
<ellipse cx="211.00" cy="77.50" rx="4.10" ry="7.00" fill="#f39a2b" filter="url(#b0_9)" transform="rotate(18 211.00 77.50)"/>
<ellipse cx="211.30" cy="77.50" rx="3.00" ry="5.30" fill="#e8452e" filter="url(#b0_8)" transform="rotate(18 211.30 77.50)"/>
</g>
<path d="M186.60 97.60 L187.10 17.00 L230.70 17.00 L219.50 99.20 Z" stroke="#231f20" stroke-width="0.8" fill="none" stroke-linejoin="miter" />
<text x="189.80" y="22.20" font-size="5.2" text-anchor="start" fill="#231f20" stroke="#231f20" stroke-width="0.16" textLength="24.00" lengthAdjust="spacingAndGlyphs" >Live cells</text>
<line x1="219.70" y1="96.20" x2="276.20" y2="96.20" stroke="#231f20" stroke-width="1.1" />
<path d="M281.30 96.20 L274.70 99.50 L276.28 96.20 L274.70 92.90 Z" fill="#231f20"/>
<path d="M183.10 15.70 H268.40 V100.70" stroke="#b8b8b8" stroke-width="0.7" fill="none"/>
<path d="M183.10 15.70 V100.70 H268.40" stroke="#555" stroke-width="0.5" fill="none"/>
<line x1="178.50" y1="100.70" x2="183.10" y2="100.70" stroke="#231f20" stroke-width="1.6"/>
<text x="172.70" y="103.00" font-size="6.1" text-anchor="end" fill="#231f20" stroke="#231f20" stroke-width="0.30" >0</text>
<line x1="178.50" y1="84.38" x2="183.10" y2="84.38" stroke="#231f20" stroke-width="1.6"/>
<text x="172.70" y="86.68" font-size="6.1" text-anchor="end" fill="#231f20" stroke="#231f20" stroke-width="0.30" >50K</text>
<line x1="178.50" y1="68.06" x2="183.10" y2="68.06" stroke="#231f20" stroke-width="1.6"/>
<text x="172.70" y="70.36" font-size="6.1" text-anchor="end" fill="#231f20" stroke="#231f20" stroke-width="0.30" >100K</text>
<line x1="178.50" y1="51.74" x2="183.10" y2="51.74" stroke="#231f20" stroke-width="1.6"/>
<text x="172.70" y="54.04" font-size="6.1" text-anchor="end" fill="#231f20" stroke="#231f20" stroke-width="0.30" >150K</text>
<line x1="178.50" y1="35.42" x2="183.10" y2="35.42" stroke="#231f20" stroke-width="1.6"/>
<text x="172.70" y="37.72" font-size="6.1" text-anchor="end" fill="#231f20" stroke="#231f20" stroke-width="0.30" >200K</text>
<line x1="178.50" y1="19.10" x2="183.10" y2="19.10" stroke="#231f20" stroke-width="1.6"/>
<text x="172.70" y="21.40" font-size="6.1" text-anchor="end" fill="#231f20" stroke="#231f20" stroke-width="0.30" >250K</text>
<path d="M180.90 97.44H183.10M180.90 94.17H183.10M180.90 90.91H183.10M180.90 87.64H183.10M180.90 81.12H183.10M180.90 77.85H183.10M180.90 74.59H183.10M180.90 71.32H183.10M180.90 64.80H183.10M180.90 61.53H183.10M180.90 58.27H183.10M180.90 55.00H183.10M180.90 48.48H183.10M180.90 45.21H183.10M180.90 41.95H183.10M180.90 38.68H183.10M180.90 32.16H183.10M180.90 28.89H183.10M180.90 25.63H183.10M180.90 22.36H183.10M180.90 15.84H183.10" stroke="#231f20" stroke-width="0.7"/>
<path d="M183.90 100.70V104.70M188.15 100.70V104.70M190.98 100.70V104.70M195.22 100.70V104.70M196.64 100.70V104.70M199.47 100.70V104.70M202.30 100.70V104.70M220.50 100.70V104.70M240.40 100.70V104.70M260.30 100.70V104.70" stroke="#231f20" stroke-width="1.3"/>
<path d="M185.32 100.70V103.00M186.73 100.70V103.00M189.56 100.70V103.00M192.39 100.70V103.00M193.81 100.70V103.00M198.05 100.70V103.00M200.88 100.70V103.00M206.59 100.70V103.00M210.09 100.70V103.00M212.58 100.70V103.00M214.51 100.70V103.00M216.09 100.70V103.00M217.42 100.70V103.00M218.57 100.70V103.00M219.59 100.70V103.00M226.49 100.70V103.00M229.99 100.70V103.00M232.48 100.70V103.00M234.41 100.70V103.00M235.99 100.70V103.00M237.32 100.70V103.00M238.47 100.70V103.00M239.49 100.70V103.00M246.39 100.70V103.00M249.89 100.70V103.00M252.38 100.70V103.00M254.31 100.70V103.00M255.89 100.70V103.00M257.22 100.70V103.00M258.37 100.70V103.00M259.39 100.70V103.00" stroke="#231f20" stroke-width="0.7"/>
<text x="194.50" y="116.60" font-size="5.2" text-anchor="middle" fill="#231f20" stroke="#231f20" stroke-width="0.16" >0</text>
<text x="221.65" y="116.60" font-size="5.3" text-anchor="start" fill="#231f20" stroke="#231f20" stroke-width="0.28" >10</text>
<text x="228.75" y="112.70" font-size="4.77" text-anchor="start" fill="#231f20" stroke="#231f20" stroke-width="0.28" >3</text>
<text x="257.35" y="116.60" font-size="5.3" text-anchor="start" fill="#231f20" stroke="#231f20" stroke-width="0.28" >10</text>
<text x="264.45" y="112.70" font-size="4.77" text-anchor="start" fill="#231f20" stroke="#231f20" stroke-width="0.28" >5</text>
<text x="225.30" y="123.00" font-size="6.5" text-anchor="middle" fill="#231f20" stroke="#231f20" stroke-width="0.20" textLength="12.00" lengthAdjust="spacingAndGlyphs" >DAPI</text>
<text x="159.60" y="61.00" font-size="6.5" text-anchor="middle" fill="#231f20" stroke="#231f20" stroke-width="0.20" textLength="16.30" lengthAdjust="spacingAndGlyphs" transform="rotate(-90 159.60 61.00)" >SSC-A</text>
<clipPath id="c4"><rect x="305.20" y="16.10" width="86.10" height="85.00"/></clipPath>
<g clip-path="url(#c4)">
<path d="M305.00 101.00 L329.40 15.60 L381.00 15.60 L371.00 29.80 L360.50 43.10 L349.80 56.50 L335.60 74.30 L317.80 90.30 Z" fill="#22559a" filter="url(#b0_5)"/>
<path d="M328.5 21.8h0.7M323.3 33.9h0.7M322.7 43.0h0.7M310.9 77.7h0.7M322.3 43.0h0.7M306.7 94.9h0.7M306.8 94.2h0.7M320.3 36.4h0.7M323.1 20.9h0.7M325.5 16.4h0.7M315.3 62.1h0.7M317.4 55.8h0.7M327.8 18.3h0.7M322.4 32.4h0.7M323.9 37.5h0.7M322.4 38.4h0.7M321.1 42.5h0.7M330.4 17.4h0.7M319.6 49.7h0.7M324.6 22.6h0.7M315.8 61.4h0.7M322.5 41.4h0.7M328.5 22.8h0.7M311.3 74.3h0.7M324.9 21.2h0.7M320.3 41.8h0.7M312.4 75.1h0.7M320.9 36.1h0.7M326.5 30.7h0.7M327.7 22.6h0.7M318.0 54.6h0.7M323.0 30.1h0.7M322.1 44.5h0.7M325.5 23.8h0.7M325.2 24.2h0.7M328.5 23.0h0.7M323.8 19.1h0.7M314.2 70.0h0.7M312.2 75.6h0.7M317.9 55.8h0.7M319.3 48.3h0.7M326.6 23.8h0.7M330.3 16.7h0.7M316.1 64.8h0.7M319.9 45.0h0.7M325.1 22.6h0.7M320.4 46.9h0.7M328.3 17.4h0.7M327.4 27.8h0.7M321.5 32.7h0.7M326.9 28.4h0.7M322.2 42.5h0.7M318.0 58.0h0.7M327.1 22.2h0.7M320.9 31.1h0.7M306.9 93.8h0.7M327.6 24.3h0.7M322.7 22.7h0.7M313.9 65.0h0.7M323.4 33.1h0.7M318.3 54.1h0.7M314.3 70.9h0.7M325.8 28.9h0.7M321.9 28.1h0.7M327.6 17.1h0.7M325.2 19.5h0.7M319.3 40.0h0.7M315.1 59.4h0.7M312.7 69.9h0.7M321.2 32.1h0.7M320.1 37.7h0.7M313.3 68.7h0.7M319.7 43.9h0.7M312.8 70.0h0.7M311.2 75.0h0.7M324.5 25.1h0.7M322.4 40.5h0.7M325.7 19.9h0.7M324.1 35.9h0.7M326.9 16.2h0.7M310.2 78.9h0.7M325.8 32.2h0.7M326.0 16.6h0.7M323.4 33.0h0.7M323.3 26.4h0.7M317.9 49.8h0.7M326.8 19.9h0.7M322.0 44.8h0.7M328.0 21.9h0.7M317.9 51.5h0.7M318.6 43.4h0.7M318.6 43.6h0.7M327.2 20.7h0.7M312.2 75.0h0.7M328.3 16.3h0.7M320.2 35.9h0.7M321.0 47.6h0.7M323.1 35.6h0.7M324.2 35.3h0.7M322.7 22.8h0.7M321.5 30.7h0.7M311.4 80.0h0.7M318.8 49.0h0.7M311.4 75.6h0.7M321.7 31.1h0.7M326.4 29.9h0.7M329.4 18.7h0.7M325.4 29.6h0.7M318.7 42.0h0.7M312.3 73.6h0.7M326.1 26.6h0.7M327.6 16.9h0.7M330.4 17.8h0.7M325.1 31.7h0.7M306.3 96.8h0.7M314.8 58.8h0.7M319.9 43.6h0.7M314.8 57.8h0.7M323.1 38.5h0.7M324.4 37.7h0.7M318.5 56.0h0.7M317.2 61.3h0.7M327.0 22.0h0.7M309.5 85.4h0.7M311.2 74.3h0.7M312.8 71.2h0.7M321.9 37.3h0.7M321.1 31.8h0.7M314.8 62.8h0.7M325.8 26.4h0.7M325.7 19.7h0.7M324.8 17.9h0.7M326.5 29.0h0.7M317.9 50.8h0.7M320.1 43.5h0.7M310.6 76.8h0.7M321.5 33.2h0.7M316.6 52.1h0.7M318.5 55.9h0.7M321.4 45.7h0.7M311.8 78.0h0.7M328.3 16.4h0.7M324.2 36.1h0.7M326.4 28.8h0.7M316.1 64.0h0.7M326.8 27.4h0.7M310.8 80.8h0.7M328.2 21.3h0.7M324.9 25.7h0.7M330.0 18.6h0.7" stroke="#22559a" stroke-width="0.7" opacity="0.7"/>
<path d="M374.9 27.8h0.7M372.6 31.7h0.7M362.9 43.0h0.7M375.4 25.6h0.7M381.5 20.5h0.7M329.1 80.5h0.7M325.5 83.6h0.7M327.8 82.7h0.7M366.8 35.8h0.7M314.4 97.3h0.7M326.4 82.1h0.7M361.5 41.2h0.7M344.9 61.2h0.7M366.2 35.6h0.7M355.7 50.1h0.7M334.7 74.3h0.7M331.4 79.4h0.7M362.6 39.5h0.7M340.0 66.4h0.7M345.9 59.4h0.7M328.6 83.1h0.7M355.9 47.3h0.7M312.0 98.9h0.7M370.5 31.1h0.7M353.8 51.2h0.7M312.9 97.4h0.7M358.7 48.1h0.7M378.9 23.0h0.7M377.9 26.2h0.7M313.5 100.0h0.7M371.1 33.7h0.7M339.0 69.0h0.7M341.6 65.5h0.7M379.3 22.9h0.7M346.8 58.8h0.7M332.1 78.6h0.7M330.1 77.3h0.7M336.7 70.4h0.7M340.9 68.9h0.7M374.3 29.7h0.7M384.2 18.8h0.7M348.2 56.3h0.7M334.7 74.8h0.7M313.7 99.8h0.7M332.1 77.8h0.7M353.8 53.7h0.7M357.7 45.3h0.7M375.1 27.8h0.7M377.3 25.4h0.7M313.6 97.5h0.7M350.7 57.0h0.7M374.7 26.8h0.7M324.5 85.6h0.7M352.6 53.4h0.7M348.3 58.2h0.7M371.1 32.9h0.7M361.6 42.3h0.7M322.4 87.8h0.7M313.3 98.4h0.7M343.7 62.5h0.7M370.0 34.1h0.7M320.1 91.2h0.7M332.2 77.1h0.7M321.1 89.5h0.7M326.3 84.3h0.7M354.2 53.4h0.7M368.6 32.5h0.7M350.3 57.8h0.7M356.8 50.3h0.7M346.0 60.0h0.7M360.1 42.2h0.7M342.3 67.2h0.7M330.3 77.7h0.7M336.4 72.2h0.7M378.2 24.1h0.7M373.7 27.5h0.7M344.5 63.7h0.7M329.0 78.2h0.7M366.8 37.3h0.7M363.5 41.0h0.7M314.5 97.5h0.7M330.3 77.2h0.7M364.6 39.0h0.7M315.4 97.2h0.7M316.7 92.7h0.7M314.0 97.6h0.7M340.6 65.3h0.7M366.5 35.4h0.7M349.0 55.0h0.7M332.9 75.2h0.7M340.9 64.5h0.7M316.6 92.6h0.7M339.8 66.1h0.7M383.3 19.1h0.7M326.0 86.0h0.7M380.0 20.8h0.7M324.6 85.4h0.7M373.0 27.5h0.7M377.6 25.5h0.7M376.5 25.3h0.7M361.5 43.2h0.7M313.8 100.0h0.7M375.1 25.5h0.7M339.4 68.9h0.7M359.3 45.3h0.7M334.6 73.0h0.7M354.3 52.9h0.7M373.8 29.4h0.7M361.1 41.2h0.7M373.2 30.9h0.7M361.4 44.6h0.7M369.1 35.1h0.7M316.8 95.4h0.7M322.8 88.7h0.7M313.5 99.0h0.7M359.2 44.1h0.7M321.0 89.8h0.7M379.2 22.7h0.7M380.5 18.6h0.7M360.1 43.5h0.7M372.1 29.5h0.7M353.9 51.0h0.7M340.8 68.8h0.7M351.8 54.1h0.7M343.6 63.5h0.7M364.4 38.5h0.7M383.0 19.9h0.7M324.8 84.4h0.7M353.8 51.1h0.7M353.9 53.4h0.7M330.8 76.9h0.7M373.1 31.4h0.7M337.5 71.8h0.7M339.7 66.2h0.7M332.2 78.0h0.7M372.5 29.1h0.7M360.2 44.7h0.7M350.3 53.7h0.7M322.0 89.7h0.7M341.9 65.2h0.7M352.2 55.3h0.7M352.4 55.2h0.7M369.3 31.6h0.7M363.5 41.5h0.7M363.5 42.4h0.7M314.8 98.4h0.7M374.9 26.7h0.7M343.7 61.7h0.7M344.5 61.8h0.7M319.3 91.7h0.7" stroke="#22559a" stroke-width="0.7" opacity="0.7"/>
<path d="M317.1 61.9h0.7M320.7 45.4h0.7M319.2 51.1h0.7M312.2 80.6h0.7M320.3 45.7h0.7M312.1 80.8h0.7M322.8 33.2h0.7M312.7 74.8h0.7M310.8 81.3h0.7M314.9 64.6h0.7M327.3 24.8h0.7M324.8 31.5h0.7M324.0 35.3h0.7M313.7 75.7h0.7M319.6 54.1h0.7M330.4 18.8h0.7M317.4 59.4h0.7M315.6 67.0h0.7M324.3 38.4h0.7M317.4 62.4h0.7M316.2 65.1h0.7M317.0 60.0h0.7M323.8 42.0h0.7M310.6 84.4h0.7M322.7 40.8h0.7M329.8 19.2h0.7M309.3 84.5h0.7M317.5 58.3h0.7M309.9 82.8h0.7M328.3 21.2h0.7M312.0 78.6h0.7M312.6 71.2h0.7M325.7 26.0h0.7M310.4 80.1h0.7M316.9 57.4h0.7M324.0 42.0h0.7M314.6 74.8h0.7M312.8 74.1h0.7M326.6 21.4h0.7M311.4 82.1h0.7M317.1 61.2h0.7M320.2 52.1h0.7M323.6 42.9h0.7M321.1 49.6h0.7M323.9 29.3h0.7M313.9 75.3h0.7M325.7 23.6h0.7M318.1 55.3h0.7M313.7 69.5h0.7M323.5 39.9h0.7M313.8 78.3h0.7M327.0 31.5h0.7M324.4 34.7h0.7M326.0 22.9h0.7M315.3 66.5h0.7M306.4 95.1h0.7M313.3 75.7h0.7M327.7 19.6h0.7M328.4 17.2h0.7M317.9 59.7h0.7M326.6 27.5h0.7M329.4 20.9h0.7M322.8 42.1h0.7M315.2 63.0h0.7M311.8 76.5h0.7M320.9 45.2h0.7M307.0 93.0h0.7M323.5 30.7h0.7M327.6 27.4h0.7M316.3 60.1h0.7M311.0 85.0h0.7M325.8 23.3h0.7M325.0 30.9h0.7M323.8 33.7h0.7M328.6 20.6h0.7M327.6 25.1h0.7M324.3 30.8h0.7M314.3 68.0h0.7M315.9 67.8h0.7M316.1 66.2h0.7M311.2 80.6h0.7M320.3 43.5h0.7M322.4 43.1h0.7M320.7 53.7h0.7M317.7 56.5h0.7M317.6 53.6h0.7M324.7 38.3h0.7M318.9 48.0h0.7M322.9 38.1h0.7M316.4 62.3h0.7M327.0 27.7h0.7M329.7 18.4h0.7M328.4 22.6h0.7M311.4 84.0h0.7M309.4 86.6h0.7M314.7 71.0h0.7M325.1 33.7h0.7M319.9 44.9h0.7M313.1 77.3h0.7M314.1 77.0h0.7M322.2 43.1h0.7M314.1 68.2h0.7M310.2 91.6h0.7M319.8 56.4h0.7M321.1 50.8h0.7M313.1 71.8h0.7M326.7 23.1h0.7M311.4 86.0h0.7M330.6 17.6h0.7M320.0 44.9h0.7M321.5 49.9h0.7M319.8 53.4h0.7M323.7 36.0h0.7M308.8 95.0h0.7M327.3 29.2h0.7M314.1 75.1h0.7M320.9 52.3h0.7M314.8 63.4h0.7M325.1 33.6h0.7M325.4 31.3h0.7M326.9 28.0h0.7M319.9 53.4h0.7M319.4 52.4h0.7M320.5 42.7h0.7M327.4 24.6h0.7M313.0 73.4h0.7M327.0 28.8h0.7M327.6 17.8h0.7M328.8 18.8h0.7M315.1 73.0h0.7M310.8 78.4h0.7M313.1 74.6h0.7M314.7 68.0h0.7M326.3 32.1h0.7M315.7 59.6h0.7M308.1 94.6h0.7M318.8 49.2h0.7M323.8 29.4h0.7M324.8 36.6h0.7M314.5 66.8h0.7M314.8 69.8h0.7M328.0 26.3h0.7M312.4 79.5h0.7M317.8 59.4h0.7M330.5 17.6h0.7M316.8 59.3h0.7M324.7 29.8h0.7M328.2 21.1h0.7M315.9 60.0h0.7M314.3 74.2h0.7" stroke="#fff" stroke-width="0.7" opacity="0.7"/>
<ellipse cx="345.00" cy="50.00" rx="14.00" ry="6.00" fill="#2c72b8" filter="url(#b3)" transform="rotate(-52 345.00 50.00)"/>
<ellipse cx="336.00" cy="63.00" rx="26.00" ry="2.30" fill="#2aa6d8" filter="url(#b1_3)" transform="rotate(-52.5 336.00 63.00)"/>
<ellipse cx="341.00" cy="56.50" rx="9.00" ry="1.20" fill="#6fd0ee" filter="url(#b1)" transform="rotate(-52.5 341.00 56.50)"/>
<ellipse cx="327.50" cy="74.50" rx="12.00" ry="1.70" fill="#62b94a" filter="url(#b0_9)" transform="rotate(-52.5 327.50 74.50)"/>
<ellipse cx="325.50" cy="77.50" rx="5.00" ry="1.00" fill="#f2e435" filter="url(#b0_6)" transform="rotate(-52.5 325.50 77.50)"/>
<ellipse cx="324.80" cy="78.60" rx="2.50" ry="0.80" fill="#f39a2b" filter="url(#b0_5)" transform="rotate(-52.5 324.80 78.60)"/>
</g>
<path d="M305.00 100.40 L358.70 17.00 L383.60 26.20 L382.20 28.40 Z" stroke="#231f20" stroke-width="0.8" fill="none" stroke-linejoin="miter" />
<text x="365.80" y="40.90" font-size="5.4" text-anchor="start" fill="#231f20" stroke="#231f20" stroke-width="0.16" textLength="22.30" lengthAdjust="spacingAndGlyphs" >Singlets</text>
<line x1="375.50" y1="28.90" x2="392.40" y2="28.90" stroke="#231f20" stroke-width="1.1" />
<path d="M397.50 28.90 L390.90 32.20 L392.48 28.90 L390.90 25.60 Z" fill="#231f20"/>
<path d="M304.90 15.80 H391.30 V101.10" stroke="#b8b8b8" stroke-width="0.7" fill="none"/>
<path d="M304.90 15.80 V101.10 H391.30" stroke="#555" stroke-width="0.5" fill="none"/>
<line x1="300.30" y1="101.30" x2="304.90" y2="101.30" stroke="#231f20" stroke-width="1.6"/>
<text x="295.60" y="103.60" font-size="6.1" text-anchor="end" fill="#231f20" stroke="#231f20" stroke-width="0.30" >0</text>
<line x1="300.30" y1="85.12" x2="304.90" y2="85.12" stroke="#231f20" stroke-width="1.6"/>
<text x="295.60" y="87.42" font-size="6.1" text-anchor="end" fill="#231f20" stroke="#231f20" stroke-width="0.30" >50K</text>
<line x1="300.30" y1="68.94" x2="304.90" y2="68.94" stroke="#231f20" stroke-width="1.6"/>
<text x="295.60" y="71.24" font-size="6.1" text-anchor="end" fill="#231f20" stroke="#231f20" stroke-width="0.30" >100K</text>
<line x1="300.30" y1="52.76" x2="304.90" y2="52.76" stroke="#231f20" stroke-width="1.6"/>
<text x="295.60" y="55.06" font-size="6.1" text-anchor="end" fill="#231f20" stroke="#231f20" stroke-width="0.30" >150K</text>
<line x1="300.30" y1="36.58" x2="304.90" y2="36.58" stroke="#231f20" stroke-width="1.6"/>
<text x="295.60" y="38.88" font-size="6.1" text-anchor="end" fill="#231f20" stroke="#231f20" stroke-width="0.30" >200K</text>
<line x1="300.30" y1="20.40" x2="304.90" y2="20.40" stroke="#231f20" stroke-width="1.6"/>
<text x="295.60" y="22.70" font-size="6.1" text-anchor="end" fill="#231f20" stroke="#231f20" stroke-width="0.30" >250K</text>
<path d="M302.70 98.06H304.90M302.70 94.83H304.90M302.70 91.59H304.90M302.70 88.36H304.90M302.70 81.88H304.90M302.70 78.65H304.90M302.70 75.41H304.90M302.70 72.18H304.90M302.70 65.70H304.90M302.70 62.47H304.90M302.70 59.23H304.90M302.70 56.00H304.90M302.70 49.52H304.90M302.70 46.29H304.90M302.70 43.05H304.90M302.70 39.82H304.90M302.70 33.34H304.90M302.70 30.11H304.90M302.70 26.87H304.90M302.70 23.64H304.90M302.70 17.16H304.90" stroke="#231f20" stroke-width="0.7"/>
<line x1="305.20" y1="101.10" x2="305.20" y2="105.70" stroke="#231f20" stroke-width="1.6"/>
<text x="305.20" y="114.40" font-size="6.1" text-anchor="middle" fill="#231f20" stroke="#231f20" stroke-width="0.30" >0</text>
<line x1="321.40" y1="101.10" x2="321.40" y2="105.70" stroke="#231f20" stroke-width="1.6"/>
<line x1="337.60" y1="101.10" x2="337.60" y2="105.70" stroke="#231f20" stroke-width="1.6"/>
<text x="337.60" y="114.40" font-size="6.1" text-anchor="middle" fill="#231f20" stroke="#231f20" stroke-width="0.30" >100K</text>
<line x1="353.80" y1="101.10" x2="353.80" y2="105.70" stroke="#231f20" stroke-width="1.6"/>
<line x1="370.00" y1="101.10" x2="370.00" y2="105.70" stroke="#231f20" stroke-width="1.6"/>
<text x="370.00" y="114.40" font-size="6.1" text-anchor="middle" fill="#231f20" stroke="#231f20" stroke-width="0.30" >200K</text>
<line x1="386.20" y1="101.10" x2="386.20" y2="105.70" stroke="#231f20" stroke-width="1.6"/>
<path d="M308.44 101.10V103.10M311.68 101.10V103.10M314.92 101.10V103.10M318.16 101.10V103.10M324.64 101.10V103.10M327.88 101.10V103.10M331.12 101.10V103.10M334.36 101.10V103.10M340.84 101.10V103.10M344.08 101.10V103.10M347.32 101.10V103.10M350.56 101.10V103.10M357.04 101.10V103.10M360.28 101.10V103.10M363.52 101.10V103.10M366.76 101.10V103.10M373.24 101.10V103.10M376.48 101.10V103.10M379.72 101.10V103.10M382.96 101.10V103.10M389.44 101.10V103.10" stroke="#231f20" stroke-width="0.7"/>
<text x="345.50" y="124.10" font-size="6.5" text-anchor="middle" fill="#231f20" stroke="#231f20" stroke-width="0.20" textLength="16.50" lengthAdjust="spacingAndGlyphs" >SSC-H</text>
<text x="281.30" y="62.00" font-size="6.5" text-anchor="middle" fill="#231f20" stroke="#231f20" stroke-width="0.20" textLength="16.30" lengthAdjust="spacingAndGlyphs" transform="rotate(-90 281.30 62.00)" >SSC-A</text>
<clipPath id="c5"><rect x="427.90" y="18.70" width="85.10" height="83.70"/></clipPath>
<g clip-path="url(#c5)">
<path d="M435.0 87.5h0.7M450.5 68.6h0.7M443.6 70.2h0.7M459.3 90.3h0.7M443.5 54.1h0.7M453.8 100.0h0.7M441.1 67.0h0.7M463.5 93.3h0.7M439.1 31.7h0.7M461.6 101.5h0.7M433.3 65.6h0.7M444.1 77.6h0.7M443.1 39.0h0.7M464.0 82.2h0.7M446.6 87.9h0.7M440.1 95.5h0.7M434.2 78.7h0.7M441.6 51.0h0.7M463.3 85.9h0.7M431.8 92.8h0.7M431.4 70.3h0.7M452.1 26.1h0.7M446.2 66.7h0.7M456.1 67.6h0.7M448.7 90.8h0.7M450.6 77.8h0.7M436.8 81.4h0.7M448.1 78.0h0.7M432.7 87.4h0.7M449.9 48.4h0.7M450.7 36.3h0.7M439.2 84.1h0.7M446.9 87.3h0.7M437.5 89.5h0.7M448.3 81.4h0.7M435.5 39.6h0.7M456.0 72.1h0.7M433.6 84.3h0.7M448.3 66.9h0.7M441.3 52.7h0.7M444.2 98.3h0.7M448.3 36.4h0.7M436.9 65.3h0.7M441.8 75.5h0.7M437.9 79.1h0.7M455.2 83.6h0.7M453.6 89.5h0.7M443.3 25.7h0.7M440.8 91.4h0.7M461.8 73.5h0.7M465.1 87.0h0.7M441.8 30.1h0.7M442.4 44.6h0.7M440.0 33.9h0.7M453.9 49.7h0.7M447.3 82.3h0.7M454.8 36.1h0.7M456.7 87.4h0.7M449.5 99.2h0.7M460.2 73.0h0.7M452.3 100.2h0.7M450.2 70.2h0.7M451.8 55.6h0.7M441.0 23.1h0.7M438.4 38.8h0.7M447.5 80.1h0.7M431.6 71.9h0.7M440.3 73.6h0.7M447.0 18.2h0.7M439.5 61.2h0.7M443.2 50.3h0.7M452.0 53.7h0.7M447.2 46.9h0.7M455.0 79.9h0.7M441.2 80.4h0.7M450.5 80.7h0.7M450.8 35.3h0.7M433.3 79.3h0.7M453.7 81.7h0.7M449.4 73.8h0.7M447.6 26.1h0.7M465.9 95.5h0.7M431.9 54.6h0.7M457.6 60.9h0.7M436.9 32.5h0.7M449.7 94.6h0.7M438.8 90.1h0.7M447.0 45.4h0.7M446.9 47.8h0.7M438.4 64.7h0.7M447.9 59.1h0.7M443.5 72.3h0.7M432.2 98.2h0.7M438.7 55.7h0.7M452.1 73.6h0.7M449.3 74.7h0.7M437.9 42.6h0.7M433.1 88.0h0.7M454.2 70.2h0.7M438.4 83.6h0.7M434.9 78.5h0.7M431.6 95.4h0.7M464.7 101.4h0.7M448.8 68.3h0.7M434.0 53.7h0.7M432.0 71.6h0.7M457.8 97.3h0.7M458.1 96.4h0.7M440.1 100.1h0.7M442.2 74.8h0.7M455.6 92.7h0.7M443.5 39.4h0.7M459.4 77.4h0.7M452.0 25.3h0.7M440.0 72.8h0.7M445.6 39.5h0.7M443.7 31.1h0.7M455.8 92.5h0.7M458.9 87.1h0.7M430.7 81.7h0.7M446.1 76.4h0.7M452.9 31.4h0.7M438.1 39.2h0.7M450.2 77.0h0.7M446.5 29.2h0.7M438.0 40.6h0.7M453.4 68.9h0.7M448.7 19.6h0.7M457.3 53.2h0.7M463.6 85.9h0.7M437.7 70.2h0.7M452.8 92.7h0.7M466.3 87.2h0.7M448.0 85.0h0.7M437.4 27.6h0.7M465.5 83.6h0.7M437.3 61.6h0.7M467.3 95.4h0.7M437.6 85.8h0.7M435.9 69.6h0.7M452.3 75.7h0.7M453.9 89.1h0.7M441.9 67.0h0.7M458.0 90.0h0.7M433.8 76.2h0.7M438.6 76.6h0.7M468.4 96.5h0.7M451.1 85.3h0.7M451.2 87.5h0.7M447.5 36.2h0.7M438.4 52.0h0.7M455.8 43.3h0.7M439.7 21.6h0.7M457.4 100.1h0.7M443.6 102.0h0.7M459.4 60.9h0.7M438.9 70.3h0.7M436.9 101.0h0.7M459.6 71.6h0.7M451.6 30.6h0.7M431.9 96.2h0.7M439.7 98.5h0.7M447.6 28.1h0.7M449.1 42.5h0.7M444.7 98.6h0.7M438.2 66.3h0.7M457.4 97.9h0.7M448.4 55.5h0.7M439.9 82.8h0.7M432.8 77.9h0.7M459.3 85.9h0.7M440.0 57.5h0.7M436.7 68.9h0.7M457.8 65.5h0.7M451.8 26.0h0.7M434.2 94.6h0.7M443.9 78.2h0.7M452.9 55.6h0.7M431.3 100.6h0.7M445.8 22.2h0.7M431.0 83.2h0.7M443.2 87.5h0.7M441.8 61.2h0.7M444.5 91.0h0.7M441.6 50.4h0.7M439.4 56.3h0.7M453.6 45.8h0.7M432.7 89.7h0.7M448.8 22.0h0.7M437.5 73.8h0.7M443.6 22.2h0.7M434.8 84.8h0.7M442.0 87.4h0.7M441.3 75.0h0.7M453.9 34.5h0.7M440.0 52.4h0.7M452.1 80.4h0.7M438.6 50.0h0.7M448.4 55.4h0.7M450.7 35.7h0.7M453.4 76.1h0.7M453.5 68.9h0.7M453.8 84.7h0.7M443.4 96.0h0.7M438.5 61.0h0.7M436.7 47.8h0.7M444.9 99.6h0.7M442.5 41.3h0.7M454.3 30.9h0.7M454.2 63.4h0.7M453.3 64.6h0.7M461.5 100.7h0.7M441.3 52.9h0.7M451.8 35.1h0.7M448.3 82.9h0.7M434.7 37.4h0.7M460.5 82.8h0.7M454.6 65.2h0.7M433.7 65.3h0.7M457.9 73.5h0.7M464.9 100.2h0.7M449.6 57.3h0.7M450.6 80.5h0.7M449.4 83.7h0.7M442.5 33.6h0.7M447.6 62.8h0.7M468.8 97.9h0.7M453.3 65.7h0.7M460.8 87.4h0.7M440.0 75.6h0.7M463.4 75.1h0.7M437.1 59.9h0.7M443.1 32.3h0.7M440.0 33.1h0.7M442.2 92.3h0.7M444.7 44.1h0.7M446.5 72.4h0.7M456.8 89.3h0.7M453.3 27.5h0.7M457.1 61.2h0.7M433.9 40.3h0.7M447.3 30.1h0.7M455.4 71.3h0.7M445.5 53.8h0.7M466.8 89.3h0.7M450.2 66.5h0.7M445.0 82.9h0.7M464.6 80.5h0.7M454.3 51.5h0.7M457.1 52.1h0.7M446.0 33.0h0.7M434.6 50.1h0.7M432.0 68.7h0.7M448.5 68.4h0.7M431.1 94.7h0.7M451.0 87.5h0.7M450.3 21.1h0.7M439.0 21.2h0.7M454.7 67.7h0.7M462.0 75.7h0.7M447.7 52.2h0.7M459.6 89.9h0.7M454.2 68.8h0.7M459.6 91.3h0.7M432.4 92.5h0.7M440.7 69.7h0.7M437.4 101.0h0.7M441.2 46.6h0.7M436.9 62.8h0.7M468.1 95.7h0.7M451.1 48.7h0.7M453.6 57.2h0.7M452.5 90.5h0.7M450.6 27.3h0.7M464.8 91.7h0.7M440.6 47.9h0.7M457.7 74.4h0.7M446.0 26.1h0.7M437.2 54.5h0.7M436.9 69.9h0.7M438.8 27.9h0.7M455.5 36.6h0.7M437.4 86.8h0.7M440.3 36.1h0.7M447.8 50.0h0.7M437.3 87.9h0.7M446.9 86.0h0.7M448.6 45.4h0.7M452.8 50.5h0.7M441.6 46.7h0.7M443.2 85.9h0.7M434.1 60.1h0.7M438.8 62.3h0.7M431.1 85.2h0.7M439.2 41.7h0.7M446.6 22.2h0.7M441.3 28.2h0.7M448.8 76.0h0.7M439.7 21.9h0.7M459.4 57.3h0.7M433.0 70.4h0.7M444.2 42.6h0.7M449.6 91.8h0.7M461.5 88.5h0.7M454.6 71.4h0.7M464.8 83.5h0.7M453.3 62.6h0.7M455.2 74.4h0.7M439.3 73.0h0.7M433.2 40.2h0.7M435.1 53.8h0.7M457.9 59.0h0.7M452.8 57.2h0.7M434.8 72.3h0.7M439.6 48.9h0.7M434.9 90.9h0.7M443.4 99.4h0.7M438.8 56.8h0.7M463.1 77.9h0.7M433.9 90.8h0.7M450.9 81.2h0.7M431.4 64.0h0.7M454.4 70.5h0.7M448.8 18.1h0.7M465.3 83.7h0.7M432.7 66.8h0.7M461.0 94.3h0.7M449.5 40.1h0.7M454.0 93.4h0.7M456.0 76.7h0.7M441.1 92.1h0.7M453.2 30.8h0.7M442.3 62.4h0.7M458.1 52.1h0.7M453.7 38.7h0.7M440.4 31.3h0.7M444.1 39.9h0.7M447.4 89.3h0.7M440.5 41.8h0.7M432.3 69.0h0.7M449.4 95.7h0.7M462.3 85.7h0.7M458.4 54.7h0.7M432.0 50.7h0.7M433.6 66.2h0.7M446.3 69.4h0.7M451.1 76.6h0.7M457.9 72.5h0.7M445.7 46.2h0.7M458.8 88.3h0.7M450.0 33.5h0.7M452.4 31.3h0.7M435.2 72.7h0.7M462.1 81.4h0.7M451.3 80.8h0.7M434.3 84.1h0.7M451.0 65.4h0.7M461.8 70.4h0.7M444.9 29.9h0.7M454.7 72.3h0.7M435.0 84.8h0.7M437.2 78.3h0.7M452.7 70.0h0.7M453.9 85.1h0.7M467.0 97.9h0.7M439.5 73.4h0.7M438.4 30.5h0.7M458.1 66.5h0.7M443.6 25.8h0.7M451.8 32.7h0.7M434.1 54.3h0.7M447.2 36.1h0.7M446.2 49.0h0.7M447.6 49.3h0.7M436.9 100.4h0.7M449.9 68.7h0.7M441.0 77.8h0.7M460.4 68.2h0.7M435.2 73.5h0.7M455.6 71.7h0.7M439.5 46.4h0.7M454.6 84.9h0.7M454.4 69.1h0.7M456.9 99.8h0.7M459.2 80.0h0.7M434.6 70.8h0.7M438.4 35.3h0.7M461.4 70.7h0.7M457.9 73.4h0.7M443.7 37.8h0.7M454.8 79.4h0.7M432.1 47.6h0.7M456.9 62.2h0.7M466.7 92.6h0.7M461.5 90.6h0.7M465.5 93.6h0.7M440.0 61.5h0.7M446.0 48.0h0.7M457.6 94.6h0.7M450.4 41.9h0.7M447.2 26.1h0.7M463.9 98.7h0.7M436.9 34.4h0.7M435.6 79.2h0.7M441.1 39.1h0.7M449.6 89.1h0.7M442.3 28.6h0.7M432.5 99.3h0.7M434.0 100.8h0.7M443.2 48.9h0.7M446.6 54.3h0.7M448.0 92.6h0.7M447.2 75.7h0.7M467.0 102.0h0.7M443.3 30.8h0.7M449.3 97.5h0.7M452.8 26.4h0.7M439.6 59.1h0.7M445.8 65.6h0.7M452.7 101.5h0.7M430.9 80.0h0.7M441.9 60.2h0.7M450.6 29.7h0.7M456.3 44.0h0.7M449.2 26.4h0.7M448.0 61.4h0.7M457.2 62.8h0.7M466.1 98.6h0.7M434.0 51.0h0.7M452.2 56.9h0.7M444.4 63.6h0.7M457.6 53.5h0.7M449.9 68.0h0.7M450.0 43.1h0.7M434.0 75.6h0.7M434.9 83.5h0.7M454.4 83.9h0.7M431.5 87.6h0.7M461.7 68.0h0.7M444.9 20.7h0.7M433.0 55.6h0.7M448.0 71.3h0.7M447.3 60.2h0.7M449.1 61.9h0.7M461.2 67.7h0.7M433.7 100.4h0.7M442.5 57.4h0.7M451.7 57.8h0.7M446.6 101.4h0.7M446.1 28.4h0.7M446.8 77.0h0.7M431.4 89.1h0.7M459.1 100.8h0.7M456.1 64.2h0.7M459.8 59.7h0.7M454.1 49.9h0.7M457.9 91.1h0.7M434.3 73.6h0.7M433.8 91.3h0.7M444.6 86.4h0.7M452.0 76.7h0.7M449.9 53.0h0.7M445.5 73.1h0.7M448.6 88.3h0.7M436.5 32.9h0.7M457.3 80.9h0.7M434.6 95.7h0.7M454.5 65.0h0.7M435.0 56.5h0.7M452.6 95.7h0.7M448.1 26.8h0.7M452.8 69.5h0.7M452.2 27.5h0.7M449.7 92.4h0.7M435.9 54.1h0.7M432.5 42.7h0.7M453.3 43.8h0.7M453.9 87.9h0.7M460.4 79.4h0.7M434.2 62.5h0.7M450.0 72.6h0.7M451.6 56.0h0.7M447.2 45.3h0.7M451.2 30.5h0.7M440.0 41.5h0.7M437.0 95.5h0.7M457.5 80.7h0.7M455.1 70.1h0.7M457.0 66.5h0.7M461.4 73.4h0.7M443.2 40.2h0.7M454.1 30.1h0.7M461.8 98.3h0.7M431.8 67.1h0.7M443.9 82.7h0.7M457.4 56.6h0.7M437.4 47.8h0.7M446.7 48.6h0.7M452.6 85.6h0.7M438.1 83.3h0.7M443.0 31.1h0.7M444.6 80.6h0.7M448.9 58.4h0.7M443.2 99.7h0.7M435.0 85.6h0.7M438.8 99.0h0.7M457.8 62.1h0.7M439.8 35.8h0.7M436.3 70.8h0.7M447.5 78.8h0.7M449.8 94.5h0.7M452.6 89.8h0.7M464.5 93.1h0.7M451.6 42.0h0.7M432.6 54.3h0.7M459.3 77.0h0.7M451.7 75.9h0.7M453.7 67.6h0.7M446.8 60.7h0.7M443.4 46.6h0.7M446.8 90.6h0.7M455.9 84.1h0.7M438.2 90.2h0.7M462.9 93.6h0.7M465.2 94.7h0.7M448.5 29.8h0.7M437.4 79.9h0.7M452.0 90.5h0.7M439.1 67.5h0.7M446.8 70.7h0.7M448.4 100.2h0.7M436.8 93.6h0.7M459.8 81.0h0.7M435.4 46.6h0.7M455.4 73.9h0.7M465.4 94.1h0.7M461.5 72.4h0.7M436.8 66.1h0.7M458.4 92.3h0.7M430.7 100.2h0.7M447.5 43.9h0.7M440.8 63.8h0.7M433.8 71.3h0.7M462.4 99.7h0.7M453.1 71.8h0.7M433.1 85.9h0.7M458.5 76.4h0.7M431.2 94.0h0.7M437.7 63.5h0.7M440.4 69.1h0.7M451.7 98.9h0.7M447.3 58.2h0.7M442.4 64.2h0.7M439.2 46.7h0.7M441.8 91.3h0.7M442.4 25.8h0.7M450.5 83.5h0.7M446.9 37.0h0.7M459.9 98.6h0.7M445.5 72.9h0.7M447.5 87.0h0.7M455.0 34.7h0.7M450.8 50.9h0.7M448.0 99.3h0.7M450.4 36.4h0.7M439.0 51.6h0.7M436.5 73.3h0.7M442.1 76.1h0.7M459.5 79.2h0.7M462.3 77.3h0.7M447.5 59.0h0.7M450.9 42.4h0.7M443.4 31.2h0.7M450.3 74.8h0.7M460.0 91.8h0.7M445.6 80.2h0.7M452.4 74.5h0.7M433.6 71.1h0.7M446.6 37.7h0.7M436.7 68.1h0.7M451.2 87.3h0.7M444.4 36.6h0.7M450.8 82.7h0.7M435.5 87.0h0.7M438.9 87.2h0.7M431.5 99.1h0.7M463.6 90.5h0.7M450.3 26.8h0.7M441.9 61.1h0.7M434.5 95.9h0.7M440.6 90.6h0.7M447.9 18.7h0.7M443.2 71.8h0.7M437.2 55.6h0.7M449.0 51.9h0.7M437.0 86.6h0.7M454.7 81.9h0.7M432.5 64.0h0.7M453.7 79.2h0.7M444.3 20.5h0.7M441.0 37.4h0.7M445.3 88.1h0.7M434.6 51.8h0.7M449.5 101.4h0.7M438.3 27.5h0.7M453.1 70.7h0.7M438.5 96.9h0.7M452.1 42.3h0.7M443.9 97.8h0.7M442.7 77.0h0.7M438.4 38.1h0.7M441.0 37.0h0.7M439.7 46.7h0.7M435.4 45.6h0.7M454.9 65.7h0.7M457.1 65.9h0.7M439.1 79.2h0.7M432.0 100.7h0.7M463.4 79.5h0.7M434.9 77.1h0.7M436.8 32.7h0.7M442.2 75.4h0.7M444.2 53.8h0.7M468.0 95.9h0.7M445.8 34.1h0.7M438.4 59.6h0.7M433.2 65.1h0.7M436.9 53.7h0.7M449.1 83.0h0.7M439.6 92.2h0.7M458.4 60.1h0.7M440.2 41.3h0.7M452.6 36.9h0.7M439.8 58.9h0.7M446.8 68.7h0.7M450.1 22.2h0.7M434.1 101.9h0.7M438.1 83.8h0.7M442.9 97.4h0.7M441.1 87.7h0.7M455.2 80.3h0.7M452.4 49.6h0.7M449.5 93.6h0.7M448.0 28.8h0.7M448.1 62.0h0.7M443.0 50.4h0.7M434.1 49.7h0.7M450.9 95.2h0.7M447.9 54.4h0.7M461.6 91.6h0.7M437.4 63.0h0.7M436.4 43.3h0.7M437.5 32.1h0.7M450.2 87.8h0.7M450.3 70.6h0.7M447.1 83.0h0.7M452.2 40.7h0.7M445.8 79.0h0.7M440.0 52.7h0.7M432.0 96.1h0.7M449.8 27.1h0.7M455.2 52.1h0.7M447.4 67.9h0.7M453.1 49.1h0.7M461.9 74.8h0.7M436.6 52.3h0.7M448.8 94.3h0.7M452.5 40.5h0.7M436.5 69.8h0.7M433.7 83.8h0.7M454.0 42.0h0.7M437.1 40.3h0.7M431.4 98.3h0.7M437.2 95.1h0.7M438.9 29.9h0.7M437.1 100.9h0.7M431.5 60.4h0.7M431.1 69.6h0.7M451.2 77.0h0.7M436.0 58.7h0.7M441.4 36.4h0.7M431.5 67.2h0.7M456.1 59.1h0.7M440.6 72.1h0.7M435.5 52.2h0.7M446.4 44.5h0.7M444.9 74.7h0.7M457.1 72.0h0.7M439.1 43.2h0.7M454.2 91.8h0.7M452.4 70.0h0.7M450.2 34.3h0.7M456.1 80.7h0.7M453.7 56.2h0.7M442.0 31.5h0.7M448.6 70.7h0.7M438.1 67.2h0.7M443.1 53.0h0.7M460.9 71.6h0.7M456.6 75.9h0.7M454.5 87.0h0.7M454.0 86.9h0.7M451.3 96.8h0.7M440.1 74.8h0.7M454.6 69.8h0.7M454.7 78.5h0.7M440.5 35.2h0.7M447.2 47.7h0.7M467.1 96.2h0.7M458.5 61.4h0.7M431.8 59.1h0.7M458.9 56.1h0.7M447.6 92.5h0.7M435.4 80.3h0.7M447.7 39.3h0.7M463.7 91.1h0.7M438.1 87.6h0.7M439.1 55.5h0.7M449.5 20.0h0.7M435.4 67.8h0.7M454.5 31.6h0.7M445.8 101.3h0.7M458.1 70.7h0.7M455.7 92.5h0.7M434.1 95.5h0.7M434.2 101.6h0.7M453.4 101.9h0.7M441.7 82.1h0.7M444.1 35.7h0.7M455.5 83.0h0.7M453.5 84.4h0.7M431.9 86.8h0.7M439.6 97.0h0.7M432.7 91.3h0.7M441.9 30.3h0.7M454.7 89.3h0.7M455.5 76.1h0.7M441.1 60.0h0.7M450.7 97.5h0.7M456.3 87.3h0.7M458.1 76.8h0.7M445.1 93.1h0.7M463.6 97.5h0.7M445.9 64.4h0.7M457.4 96.1h0.7M438.9 66.2h0.7M438.2 65.9h0.7M459.2 58.4h0.7M437.6 92.0h0.7M434.7 46.5h0.7M458.4 65.6h0.7M450.0 64.8h0.7M450.3 69.2h0.7M440.9 53.0h0.7M430.2 96.1h0.7M446.1 97.9h0.7M450.1 81.6h0.7M442.4 31.3h0.7M447.8 23.2h0.7M442.1 35.8h0.7M455.4 47.8h0.7M438.8 31.8h0.7M457.1 80.8h0.7M449.5 100.4h0.7M441.3 32.1h0.7M437.3 88.2h0.7M452.2 33.4h0.7M464.6 93.4h0.7M445.7 65.9h0.7M467.9 98.1h0.7M442.3 53.3h0.7M446.7 33.1h0.7M438.2 56.3h0.7M460.5 94.0h0.7M441.1 67.3h0.7M448.9 65.6h0.7M454.3 93.6h0.7M452.2 62.8h0.7M454.9 48.6h0.7M453.8 79.9h0.7M441.1 77.4h0.7M448.0 97.1h0.7M436.6 35.5h0.7M434.8 35.0h0.7M449.1 52.2h0.7M457.0 55.8h0.7M448.9 80.3h0.7M441.6 23.1h0.7M440.9 78.2h0.7M460.7 91.8h0.7M443.0 99.1h0.7M449.7 86.1h0.7M431.4 97.8h0.7M445.7 42.4h0.7M451.2 96.1h0.7M455.5 51.1h0.7M440.3 40.4h0.7M461.6 98.2h0.7M453.2 38.5h0.7M438.2 26.2h0.7M444.9 49.2h0.7M444.5 86.0h0.7M442.3 33.3h0.7M435.4 98.9h0.7M451.8 92.6h0.7M459.9 65.6h0.7M450.2 56.6h0.7M433.0 90.1h0.7M440.0 37.1h0.7M441.5 26.4h0.7M443.0 72.5h0.7M439.8 90.1h0.7M439.2 77.2h0.7M455.0 34.4h0.7M453.5 48.9h0.7M443.3 34.7h0.7M434.4 75.6h0.7M446.6 66.7h0.7M445.8 24.5h0.7M446.9 42.0h0.7M449.4 47.8h0.7M458.6 87.6h0.7M439.9 101.6h0.7M452.2 43.4h0.7M435.1 85.9h0.7M448.6 86.4h0.7M443.6 83.6h0.7M463.6 77.2h0.7M438.9 23.5h0.7M434.0 45.0h0.7M435.5 52.6h0.7M466.6 98.7h0.7M444.7 19.8h0.7M461.7 81.3h0.7M453.2 53.5h0.7M457.3 46.9h0.7M450.7 54.8h0.7M439.9 47.8h0.7M441.0 40.5h0.7M441.4 47.3h0.7M462.6 88.6h0.7M456.4 94.1h0.7M450.5 87.6h0.7M455.8 59.9h0.7M446.7 96.1h0.7M462.0 89.6h0.7M458.6 77.3h0.7M442.1 84.2h0.7M453.6 71.4h0.7M449.4 25.9h0.7M461.5 68.2h0.7M456.1 80.7h0.7M434.0 66.3h0.7M455.4 69.5h0.7M466.9 92.4h0.7M455.5 72.4h0.7M454.3 30.3h0.7M442.8 43.3h0.7M459.0 57.9h0.7M437.4 42.3h0.7M436.6 85.3h0.7M443.8 65.0h0.7M447.1 92.5h0.7M455.7 73.8h0.7M442.4 34.0h0.7M450.9 70.5h0.7M456.5 83.4h0.7M444.8 44.2h0.7M439.8 50.6h0.7M431.8 62.5h0.7M432.0 48.6h0.7M443.9 41.3h0.7M435.3 57.2h0.7M465.6 92.7h0.7M453.1 28.6h0.7M454.9 88.9h0.7M454.6 62.4h0.7M458.7 57.1h0.7M439.3 41.3h0.7M463.4 89.1h0.7M438.4 25.0h0.7M454.4 52.3h0.7M445.2 24.3h0.7M443.3 95.3h0.7M455.2 67.1h0.7M456.8 80.4h0.7M434.3 85.7h0.7M434.5 76.5h0.7M446.3 36.4h0.7M438.1 94.9h0.7M453.6 75.4h0.7M448.7 27.3h0.7M441.5 63.5h0.7M437.7 96.4h0.7M452.6 39.8h0.7M445.7 37.6h0.7M452.5 28.5h0.7M435.5 88.8h0.7M451.4 69.3h0.7M443.4 24.3h0.7" stroke="#22559a" stroke-width="0.7" opacity="0.8"/>
<path d="M473.7 56.0h0.7M476.0 77.2h0.7M454.6 100.0h0.7M473.3 84.5h0.7M455.6 56.9h0.7M462.4 96.0h0.7M470.0 87.5h0.7M464.4 38.6h0.7M467.5 25.2h0.7M475.2 71.8h0.7M473.2 49.1h0.7M479.2 93.2h0.7M473.8 36.0h0.7M465.1 23.6h0.7M456.3 76.0h0.7M472.9 99.3h0.7M461.1 50.4h0.7M465.1 35.5h0.7M455.6 59.0h0.7M458.4 74.9h0.7M464.2 88.3h0.7M471.6 45.6h0.7M475.3 86.0h0.7M462.8 43.6h0.7M471.1 31.5h0.7M457.6 20.6h0.7M474.0 74.5h0.7M471.7 84.0h0.7M464.8 66.6h0.7M455.9 29.4h0.7M470.7 58.6h0.7M467.8 82.7h0.7M469.8 65.4h0.7M467.7 44.9h0.7M458.0 53.5h0.7M475.9 39.2h0.7M460.2 74.3h0.7M467.6 84.3h0.7M470.6 53.3h0.7M472.2 57.9h0.7M456.5 61.1h0.7M456.3 77.1h0.7M464.5 51.2h0.7M460.4 71.7h0.7M462.1 27.2h0.7M455.3 98.9h0.7M477.4 77.4h0.7M459.4 99.5h0.7M473.8 78.8h0.7M464.6 42.3h0.7M454.7 94.0h0.7M464.8 36.6h0.7M460.6 67.5h0.7M456.9 90.2h0.7M473.2 79.0h0.7M464.1 71.4h0.7M468.4 73.3h0.7M454.4 54.1h0.7M461.2 31.9h0.7M454.9 68.2h0.7M456.8 95.9h0.7M468.3 48.4h0.7M468.5 21.9h0.7M478.8 59.5h0.7M465.6 60.2h0.7M478.3 66.9h0.7M465.3 41.9h0.7M461.3 62.7h0.7M464.3 21.8h0.7M475.1 93.5h0.7M455.9 65.4h0.7M455.0 75.1h0.7M459.9 74.1h0.7M472.4 83.0h0.7M455.0 95.1h0.7M458.4 23.1h0.7M467.5 50.4h0.7M475.2 86.3h0.7M460.9 98.1h0.7M460.1 62.2h0.7M459.2 96.8h0.7M456.6 23.7h0.7M464.2 101.4h0.7M477.0 81.4h0.7M476.9 93.3h0.7M466.5 45.9h0.7M473.6 74.3h0.7M462.5 27.7h0.7M472.9 41.5h0.7M455.4 88.2h0.7M456.3 34.7h0.7M468.8 91.7h0.7M457.5 45.4h0.7M473.8 99.7h0.7M466.0 31.8h0.7M455.7 75.6h0.7M455.4 61.5h0.7M471.4 67.7h0.7M457.6 85.9h0.7M472.0 80.6h0.7M455.7 30.1h0.7M478.0 52.6h0.7M460.4 60.1h0.7M470.6 98.4h0.7M460.0 95.8h0.7M469.8 28.7h0.7M455.9 54.4h0.7M479.1 68.9h0.7M478.1 86.0h0.7M465.1 84.4h0.7M475.2 85.3h0.7M458.5 63.5h0.7M469.0 91.2h0.7M468.9 53.8h0.7M462.5 54.9h0.7M470.3 91.1h0.7M464.7 40.3h0.7M458.6 81.2h0.7M453.9 68.7h0.7M456.1 87.6h0.7M460.7 31.8h0.7M460.0 32.6h0.7M455.2 21.7h0.7M453.5 68.5h0.7M471.1 52.3h0.7M460.9 61.4h0.7M476.5 89.8h0.7M458.6 40.4h0.7M468.0 54.1h0.7M466.7 28.3h0.7M475.6 94.0h0.7M479.4 85.8h0.7M473.8 72.7h0.7M467.0 62.2h0.7M476.0 57.9h0.7M462.8 72.4h0.7M459.5 31.5h0.7M465.4 54.2h0.7M458.5 50.1h0.7M462.3 46.9h0.7M462.6 76.2h0.7M460.3 97.8h0.7M477.7 59.4h0.7M461.2 63.9h0.7M475.8 73.5h0.7M474.5 63.7h0.7M469.7 43.6h0.7M472.6 36.6h0.7M471.5 90.6h0.7M455.7 70.4h0.7M454.7 79.5h0.7M454.4 96.7h0.7M455.8 98.6h0.7M474.4 68.7h0.7M473.9 85.2h0.7M468.5 27.8h0.7M469.3 34.0h0.7M467.8 66.9h0.7M465.0 62.9h0.7M473.4 85.5h0.7M465.8 69.2h0.7M455.3 27.2h0.7M470.4 54.3h0.7M473.7 75.0h0.7M461.3 93.7h0.7M473.4 42.2h0.7M462.2 45.8h0.7M456.4 32.1h0.7M478.2 55.9h0.7M462.7 79.8h0.7M467.5 96.8h0.7M473.8 59.3h0.7M462.5 100.9h0.7M472.1 98.0h0.7M455.3 89.7h0.7M469.8 30.0h0.7M468.5 76.3h0.7M475.1 44.2h0.7M464.8 56.3h0.7M460.5 95.3h0.7M479.9 92.1h0.7M459.9 88.6h0.7M455.0 101.9h0.7M470.6 73.3h0.7M454.5 93.6h0.7M456.0 83.7h0.7M457.5 94.7h0.7M470.4 23.0h0.7M469.0 85.7h0.7M458.7 89.7h0.7M453.6 85.7h0.7M478.0 83.3h0.7M471.5 88.7h0.7M455.5 61.4h0.7M472.9 71.7h0.7M472.6 35.8h0.7M459.6 78.2h0.7M479.4 70.1h0.7M453.5 70.5h0.7M453.2 92.5h0.7M471.9 34.2h0.7M454.6 35.0h0.7M479.4 57.6h0.7M474.0 72.2h0.7M468.0 31.9h0.7M468.2 77.4h0.7M470.2 97.1h0.7M456.2 61.7h0.7M463.3 58.9h0.7M455.3 31.0h0.7M459.8 45.0h0.7M464.0 70.1h0.7M469.8 53.8h0.7M463.4 37.8h0.7M468.5 46.0h0.7M465.3 38.5h0.7M468.0 66.4h0.7M471.7 73.1h0.7M470.3 45.9h0.7M474.0 65.0h0.7M464.1 71.3h0.7M462.1 62.0h0.7M472.6 92.7h0.7M477.8 61.3h0.7M466.6 85.6h0.7M460.8 88.7h0.7M465.8 29.5h0.7M454.0 89.0h0.7M461.4 34.2h0.7M460.8 80.9h0.7M476.0 50.5h0.7M456.3 69.3h0.7M455.4 49.9h0.7M478.8 101.6h0.7M473.6 45.5h0.7M471.3 77.8h0.7M462.9 72.6h0.7M466.7 33.4h0.7M456.6 88.6h0.7M479.7 65.6h0.7M475.5 101.2h0.7M456.0 56.8h0.7M463.0 26.6h0.7M473.1 55.6h0.7M465.1 32.4h0.7M457.1 94.4h0.7M460.2 60.2h0.7M468.4 60.4h0.7M454.4 40.0h0.7M475.6 72.3h0.7M470.2 75.0h0.7M462.3 64.2h0.7M461.5 89.2h0.7M465.5 83.0h0.7M475.9 61.4h0.7M477.5 68.1h0.7M475.8 47.9h0.7M466.0 63.6h0.7M454.9 52.7h0.7M477.7 71.7h0.7M457.0 47.8h0.7M457.4 22.0h0.7M478.0 56.8h0.7M460.6 69.1h0.7M471.7 72.0h0.7M479.5 70.9h0.7M465.4 82.4h0.7M477.3 79.1h0.7M479.0 84.1h0.7M472.5 56.1h0.7M467.5 73.6h0.7M479.2 100.7h0.7M460.1 80.2h0.7M473.0 48.4h0.7M455.5 23.4h0.7M473.8 60.2h0.7M479.6 58.1h0.7M479.4 53.7h0.7M467.6 85.8h0.7M477.9 87.5h0.7M470.9 78.5h0.7M473.7 91.0h0.7M472.7 85.7h0.7M469.4 90.4h0.7M463.2 93.4h0.7M470.8 39.5h0.7M475.9 48.5h0.7M475.9 44.5h0.7M468.5 52.5h0.7M459.7 92.7h0.7M457.3 27.0h0.7M461.6 78.8h0.7M474.6 101.9h0.7M460.3 53.5h0.7M455.8 67.1h0.7M479.9 77.5h0.7M468.7 52.2h0.7M477.6 60.7h0.7M455.8 50.0h0.7M469.8 48.1h0.7M463.8 98.7h0.7M473.1 64.4h0.7M460.0 93.6h0.7M458.6 46.7h0.7M477.5 63.4h0.7M472.8 68.4h0.7M470.3 44.5h0.7M458.8 46.4h0.7M456.4 91.7h0.7M459.9 66.0h0.7M474.2 84.3h0.7M464.3 59.1h0.7M479.9 75.3h0.7M474.8 94.0h0.7M474.1 35.2h0.7M467.7 28.4h0.7M470.3 98.3h0.7M466.4 55.5h0.7M453.0 98.7h0.7M454.9 23.4h0.7M458.9 25.4h0.7M464.7 62.3h0.7M460.8 24.2h0.7M455.1 51.5h0.7M453.7 77.3h0.7M457.8 44.8h0.7M463.0 54.2h0.7M466.2 60.1h0.7M461.3 55.4h0.7M473.9 89.0h0.7M459.3 46.4h0.7M458.8 59.3h0.7M471.1 38.7h0.7M461.3 96.3h0.7M471.9 32.3h0.7M457.3 22.6h0.7M455.1 70.9h0.7M458.8 66.7h0.7M468.5 89.7h0.7M469.3 33.3h0.7M473.6 90.2h0.7M459.1 95.3h0.7M464.7 69.5h0.7M479.6 49.6h0.7M474.8 46.1h0.7M474.4 69.3h0.7M458.1 54.0h0.7M460.9 26.4h0.7M472.3 78.1h0.7M472.7 46.0h0.7M476.9 68.7h0.7M455.5 31.8h0.7M471.4 34.2h0.7M466.2 101.3h0.7M479.8 67.9h0.7M455.6 93.6h0.7M476.7 64.0h0.7M469.4 42.4h0.7M453.4 68.8h0.7M460.3 74.4h0.7M468.7 39.0h0.7M476.5 40.8h0.7M469.1 65.4h0.7M463.1 75.6h0.7M472.3 66.5h0.7M473.2 100.6h0.7M463.7 62.2h0.7M466.6 53.5h0.7M454.6 93.0h0.7M463.1 76.0h0.7M456.2 98.8h0.7M457.0 36.4h0.7M476.1 94.8h0.7M457.9 58.5h0.7M472.5 92.0h0.7M462.6 62.4h0.7M472.8 80.0h0.7M473.9 66.7h0.7M454.9 94.1h0.7M476.2 85.4h0.7M454.8 36.8h0.7M479.4 50.9h0.7M472.1 92.8h0.7M463.0 46.2h0.7M469.0 67.6h0.7M463.5 69.3h0.7M478.2 58.3h0.7M457.5 50.9h0.7M463.0 30.8h0.7M456.6 76.1h0.7M461.5 98.3h0.7M458.8 28.1h0.7M473.1 92.2h0.7M459.8 36.6h0.7M457.2 62.8h0.7M465.1 41.3h0.7M478.9 73.5h0.7M465.9 29.1h0.7M459.1 44.2h0.7M473.4 91.9h0.7M477.2 100.7h0.7M479.5 98.1h0.7M460.5 65.3h0.7M454.7 89.4h0.7M469.3 64.5h0.7M456.6 40.8h0.7M456.5 89.9h0.7M468.4 80.3h0.7M460.3 50.4h0.7M463.3 82.3h0.7M473.6 37.0h0.7M459.4 89.4h0.7M457.0 53.9h0.7M464.6 40.1h0.7M471.9 89.8h0.7M476.5 47.8h0.7M466.9 40.4h0.7M458.9 33.2h0.7M478.3 92.8h0.7M473.8 62.4h0.7M465.7 63.4h0.7M467.0 55.6h0.7M455.7 30.3h0.7M478.7 59.5h0.7M467.5 37.0h0.7M459.1 22.5h0.7M455.3 95.2h0.7M461.0 69.9h0.7M465.0 52.8h0.7M466.9 35.4h0.7M479.7 87.1h0.7M472.8 58.4h0.7M456.3 95.5h0.7M461.6 24.1h0.7M461.6 85.1h0.7M469.4 81.6h0.7M474.2 37.4h0.7M477.9 55.9h0.7M469.9 20.2h0.7M453.7 57.6h0.7M455.6 32.5h0.7M469.7 52.2h0.7M477.8 46.2h0.7M472.3 57.8h0.7M470.5 69.2h0.7M465.2 97.9h0.7M461.6 34.5h0.7M471.0 89.4h0.7M477.0 81.5h0.7M479.8 63.6h0.7M470.5 44.8h0.7M478.5 50.0h0.7M472.7 53.1h0.7M467.7 79.0h0.7M466.3 94.4h0.7M463.7 73.1h0.7M461.6 53.5h0.7M464.3 30.3h0.7M454.6 74.7h0.7M470.4 74.4h0.7M457.5 83.8h0.7M476.1 40.2h0.7M470.7 30.6h0.7M459.7 31.4h0.7M459.9 75.3h0.7M467.2 77.5h0.7M478.7 70.0h0.7M459.1 71.3h0.7M461.0 100.0h0.7M463.2 76.2h0.7M476.5 70.0h0.7M464.4 96.7h0.7M475.9 46.4h0.7M467.2 60.2h0.7M469.7 47.4h0.7M458.8 94.8h0.7M477.9 89.2h0.7M479.4 81.1h0.7M473.4 82.5h0.7M465.5 57.4h0.7M458.7 72.9h0.7M460.1 41.1h0.7M468.4 53.6h0.7M458.1 86.9h0.7M474.3 88.8h0.7M455.9 83.5h0.7M455.2 52.0h0.7M456.3 54.7h0.7M469.4 96.5h0.7M455.9 84.8h0.7M459.6 92.6h0.7M470.6 29.2h0.7M463.9 65.3h0.7M466.0 76.3h0.7M470.3 101.3h0.7M480.0 62.3h0.7M454.7 79.7h0.7M464.9 54.8h0.7M453.4 75.1h0.7M461.9 84.6h0.7M475.3 87.3h0.7M463.7 46.4h0.7M473.0 85.7h0.7M465.8 93.2h0.7M456.0 92.1h0.7M454.7 32.6h0.7M466.9 25.5h0.7M464.2 83.5h0.7M456.1 90.6h0.7M475.0 64.2h0.7M463.0 80.5h0.7M459.2 81.7h0.7M466.1 81.5h0.7M465.0 50.2h0.7M458.1 37.1h0.7M473.0 29.8h0.7M456.9 87.5h0.7M463.2 101.2h0.7M455.8 73.6h0.7M464.6 52.2h0.7M476.5 100.0h0.7M458.2 73.8h0.7M460.1 80.2h0.7M467.9 65.2h0.7M475.2 78.3h0.7M468.8 59.9h0.7M459.3 54.3h0.7M473.2 87.8h0.7M467.7 51.6h0.7M459.6 62.8h0.7M460.8 66.3h0.7M470.9 25.4h0.7M477.0 73.0h0.7M456.8 93.0h0.7M465.2 59.0h0.7M458.0 68.0h0.7M457.5 75.7h0.7M458.0 28.1h0.7M457.8 54.7h0.7M456.9 31.0h0.7M476.1 46.3h0.7M462.1 24.5h0.7M462.0 41.7h0.7M469.1 36.8h0.7M476.9 96.2h0.7M454.8 28.8h0.7M455.2 70.8h0.7M455.4 89.9h0.7M473.1 87.2h0.7M466.7 101.7h0.7M461.1 97.8h0.7M468.2 86.1h0.7M456.8 100.2h0.7M466.0 60.5h0.7M479.2 51.2h0.7M463.1 67.9h0.7M455.6 46.3h0.7M457.4 28.5h0.7M476.3 68.3h0.7M462.0 53.5h0.7M464.1 71.9h0.7M477.9 96.5h0.7M463.0 47.0h0.7M464.6 66.6h0.7M464.9 74.0h0.7M467.5 46.3h0.7M461.7 51.0h0.7M454.6 33.6h0.7M472.2 51.9h0.7M458.0 66.1h0.7M473.2 41.1h0.7M475.2 96.1h0.7M468.7 74.9h0.7M453.5 97.5h0.7M463.0 95.8h0.7M468.2 20.4h0.7M453.1 75.8h0.7M467.8 22.2h0.7M472.8 89.9h0.7M465.9 58.2h0.7M461.3 92.1h0.7M462.4 66.3h0.7M459.6 33.2h0.7M473.7 60.7h0.7M467.0 99.2h0.7M479.0 90.2h0.7M457.3 68.7h0.7M476.6 50.7h0.7M454.8 86.5h0.7M465.5 66.3h0.7M479.5 69.8h0.7M463.9 50.3h0.7M463.7 29.7h0.7M474.3 88.7h0.7M460.0 44.9h0.7M466.6 58.0h0.7M471.3 33.4h0.7M470.7 50.9h0.7M469.3 23.3h0.7M464.9 62.8h0.7M458.0 31.4h0.7M457.3 48.2h0.7M454.7 97.7h0.7M463.3 86.3h0.7M470.2 91.5h0.7M469.8 55.2h0.7M464.1 22.9h0.7M467.0 101.5h0.7M471.8 44.7h0.7M478.2 88.7h0.7M455.3 24.9h0.7M467.0 95.1h0.7M467.9 52.6h0.7M464.5 25.2h0.7M457.3 43.5h0.7M476.3 78.0h0.7M475.2 100.0h0.7M475.6 97.4h0.7M455.6 85.3h0.7M467.3 64.6h0.7M477.2 99.7h0.7M471.7 59.6h0.7M464.8 51.7h0.7M462.1 52.1h0.7M473.8 56.6h0.7M478.1 70.2h0.7M457.8 100.0h0.7M458.1 62.3h0.7M478.2 100.1h0.7M458.6 24.0h0.7M456.3 25.2h0.7M457.5 66.6h0.7M477.5 64.1h0.7M469.5 36.6h0.7M474.4 70.7h0.7M476.2 97.8h0.7M461.7 27.4h0.7M458.3 55.9h0.7M478.5 51.0h0.7M473.6 64.3h0.7M457.1 46.3h0.7M470.3 75.2h0.7M464.2 38.7h0.7M472.2 33.8h0.7M455.0 60.8h0.7M466.5 61.7h0.7M464.2 101.6h0.7M465.6 59.2h0.7M463.8 25.5h0.7M468.6 38.7h0.7M469.9 24.2h0.7M479.5 58.5h0.7M477.1 59.0h0.7M453.7 87.4h0.7M470.1 84.1h0.7M464.0 72.3h0.7M476.0 71.7h0.7M461.7 74.3h0.7M470.8 98.8h0.7M462.4 54.9h0.7M474.7 61.5h0.7M472.6 57.7h0.7M458.0 81.1h0.7M455.7 36.3h0.7M469.6 81.3h0.7M477.1 42.4h0.7M455.1 98.4h0.7M456.3 36.2h0.7M460.2 63.4h0.7M476.7 82.4h0.7M471.8 34.4h0.7M462.0 59.2h0.7M456.1 42.4h0.7M460.6 30.4h0.7M467.4 77.8h0.7M454.0 59.5h0.7M473.9 81.3h0.7M474.8 56.8h0.7M475.0 39.7h0.7M462.1 34.5h0.7M465.1 52.1h0.7M458.7 81.6h0.7M460.8 42.4h0.7M455.7 56.0h0.7M460.5 50.3h0.7M458.6 82.6h0.7M478.0 60.8h0.7M470.0 91.1h0.7M480.0 70.3h0.7M476.9 94.5h0.7M474.2 57.8h0.7M465.4 60.5h0.7M463.4 66.6h0.7M467.5 88.6h0.7M455.0 38.5h0.7M474.2 89.5h0.7M479.9 91.6h0.7M476.9 45.8h0.7M463.2 42.0h0.7M469.0 97.0h0.7" stroke="#22559a" stroke-width="0.7" opacity="0.8"/>
<path d="M433.00 101.50 L434.00 70.00 L437.00 40.00 L441.00 21.00 L447.00 21.00 L451.00 40.00 L453.00 70.00 L453.50 101.50 Z" fill="#22559a" filter="url(#b1)"/>
<path d="M455.50 100.00 L455.00 60.00 L456.00 30.00 L458.00 21.00 L463.00 21.00 L465.00 40.00 L468.00 58.00 L474.00 70.00 L476.00 85.00 L475.00 99.00 Z" fill="#22559a" filter="url(#b1)"/>
<path d="M436.50 100.00 L437.50 60.00 L440.00 38.00 L444.00 38.00 L446.50 60.00 L446.50 100.00 Z" fill="#2aa6d8" filter="url(#b2)"/>
<ellipse cx="439.80" cy="72.70" rx="3.80" ry="12.00" fill="#62b94a" filter="url(#b1_5)"/>
<ellipse cx="439.80" cy="72.70" rx="2.60" ry="7.00" fill="#f2e435" filter="url(#b1)"/>
<ellipse cx="439.80" cy="72.70" rx="1.70" ry="4.50" fill="#e8452e" filter="url(#b0_7)"/>
<ellipse cx="436.50" cy="95.00" rx="3.20" ry="4.00" fill="#62b94a" filter="url(#b1)"/>
<ellipse cx="436.50" cy="95.50" rx="1.70" ry="2.20" fill="#f2e435" filter="url(#b0_6)"/>
<ellipse cx="436.50" cy="95.80" rx="1.10" ry="1.50" fill="#e8452e" filter="url(#b0_5)"/>
<ellipse cx="466.70" cy="90.50" rx="6.00" ry="4.00" fill="#3aa0d8" filter="url(#b2)"/>
<ellipse cx="460.50" cy="87.80" rx="3.00" ry="3.00" fill="#3392d2" filter="url(#b1_5)"/>
</g>
<path d="M451.60 102.40 L467.60 19.00 L486.60 19.00 L485.70 101.20 Z" stroke="#231f20" stroke-width="0.8" fill="none" stroke-linejoin="miter" />
<text x="468.50" y="28.00" font-size="5.6" text-anchor="start" fill="#231f20" stroke="#231f20" stroke-width="0.17" textLength="32.00" lengthAdjust="spacingAndGlyphs" >Leukocytes</text>
<line x1="473.70" y1="96.00" x2="473.70" y2="134.70" stroke="#231f20" stroke-width="1.1" />
<path d="M473.70 139.80 L470.40 133.20 L473.70 134.78 L477.00 133.20 Z" fill="#231f20"/>
<path d="M427.60 18.40 H513.00 V102.40" stroke="#b8b8b8" stroke-width="0.7" fill="none"/>
<path d="M427.60 18.40 V102.40 H513.00" stroke="#555" stroke-width="0.5" fill="none"/>
<line x1="423.00" y1="102.10" x2="427.60" y2="102.10" stroke="#231f20" stroke-width="1.6"/>
<text x="417.50" y="104.40" font-size="6.1" text-anchor="end" fill="#231f20" stroke="#231f20" stroke-width="0.30" >0</text>
<line x1="423.00" y1="86.04" x2="427.60" y2="86.04" stroke="#231f20" stroke-width="1.6"/>
<text x="417.50" y="88.34" font-size="6.1" text-anchor="end" fill="#231f20" stroke="#231f20" stroke-width="0.30" >50K</text>
<line x1="423.00" y1="69.98" x2="427.60" y2="69.98" stroke="#231f20" stroke-width="1.6"/>
<text x="417.50" y="72.28" font-size="6.1" text-anchor="end" fill="#231f20" stroke="#231f20" stroke-width="0.30" >100K</text>
<line x1="423.00" y1="53.92" x2="427.60" y2="53.92" stroke="#231f20" stroke-width="1.6"/>
<text x="417.50" y="56.22" font-size="6.1" text-anchor="end" fill="#231f20" stroke="#231f20" stroke-width="0.30" >150K</text>
<line x1="423.00" y1="37.86" x2="427.60" y2="37.86" stroke="#231f20" stroke-width="1.6"/>
<text x="417.50" y="40.16" font-size="6.1" text-anchor="end" fill="#231f20" stroke="#231f20" stroke-width="0.30" >200K</text>
<line x1="423.00" y1="21.80" x2="427.60" y2="21.80" stroke="#231f20" stroke-width="1.6"/>
<text x="417.50" y="24.10" font-size="6.1" text-anchor="end" fill="#231f20" stroke="#231f20" stroke-width="0.30" >250K</text>
<path d="M425.40 98.89H427.60M425.40 95.68H427.60M425.40 92.46H427.60M425.40 89.25H427.60M425.40 82.83H427.60M425.40 79.62H427.60M425.40 76.40H427.60M425.40 73.19H427.60M425.40 66.77H427.60M425.40 63.56H427.60M425.40 60.34H427.60M425.40 57.13H427.60M425.40 50.71H427.60M425.40 47.50H427.60M425.40 44.28H427.60M425.40 41.07H427.60M425.40 34.65H427.60M425.40 31.44H427.60M425.40 28.22H427.60M425.40 25.01H427.60M425.40 18.59H427.60" stroke="#231f20" stroke-width="0.7"/>
<path d="M428.40 102.40V106.40M432.63 102.40V106.40M435.44 102.40V106.40M439.67 102.40V106.40M441.08 102.40V106.40M443.89 102.40V106.40M446.71 102.40V106.40M464.70 102.40V106.40M482.20 102.40V106.40M499.70 102.40V106.40" stroke="#231f20" stroke-width="1.3"/>
<path d="M429.81 102.40V104.70M431.22 102.40V104.70M434.03 102.40V104.70M436.85 102.40V104.70M438.26 102.40V104.70M442.48 102.40V104.70M445.30 102.40V104.70M452.47 102.40V104.70M455.55 102.40V104.70M457.74 102.40V104.70M459.43 102.40V104.70M460.82 102.40V104.70M461.99 102.40V104.70M463.00 102.40V104.70M463.90 102.40V104.70M469.97 102.40V104.70M473.05 102.40V104.70M475.24 102.40V104.70M476.93 102.40V104.70M478.32 102.40V104.70M479.49 102.40V104.70M480.50 102.40V104.70M481.40 102.40V104.70M487.47 102.40V104.70M490.55 102.40V104.70M492.74 102.40V104.70M494.43 102.40V104.70M495.82 102.40V104.70M496.99 102.40V104.70M498.00 102.40V104.70M498.90 102.40V104.70" stroke="#231f20" stroke-width="0.7"/>
<text x="439.00" y="117.60" font-size="5.2" text-anchor="middle" fill="#231f20" stroke="#231f20" stroke-width="0.16" >0</text>
<text x="465.85" y="117.60" font-size="5.3" text-anchor="start" fill="#231f20" stroke="#231f20" stroke-width="0.28" >10</text>
<text x="472.95" y="113.70" font-size="4.77" text-anchor="start" fill="#231f20" stroke="#231f20" stroke-width="0.28" >3</text>
<text x="500.55" y="117.60" font-size="5.3" text-anchor="start" fill="#231f20" stroke="#231f20" stroke-width="0.28" >10</text>
<text x="507.65" y="113.70" font-size="4.77" text-anchor="start" fill="#231f20" stroke="#231f20" stroke-width="0.28" >5</text>
<text x="465.60" y="124.50" font-size="6.5" text-anchor="middle" fill="#231f20" stroke="#231f20" stroke-width="0.20" textLength="56.00" lengthAdjust="spacingAndGlyphs" >CD45 Pacific orange</text>
<text x="402.50" y="61.70" font-size="6.5" text-anchor="middle" fill="#231f20" stroke="#231f20" stroke-width="0.20" textLength="16.30" lengthAdjust="spacingAndGlyphs" transform="rotate(-90 402.50 61.70)" >SSC-A</text>
<clipPath id="c6"><rect x="56.60" y="144.20" width="86.50" height="85.10"/></clipPath>
<g clip-path="url(#c6)">
<path transform="scale(.1)" d="M651 1684h8m29 2h8m-99 5h8m-9 6h8m117 1h8m-112 9h8m38-2h8m62 0h8m-54 9h8m27 1h8m3 5h8m-167 7h8m107-4h8m18 2h8m-85 4h8m-20 4h8m65 0h8m-40 8h8m23 1h8m5-4h8m19 4h8m-35 3h8m73 2h8m-94 3h8m63 2h8m53 4h8m-125 3h8m693 1h8m-530 3h8m-201 6h8m66 1h8m-168 4h8m70 1h8m0 0h8m14-2h8m14 3h8m5 0h8m15 0h8m-45 6h8m71-1h8m-158 3h8m26 3h8m5-4h8m12 2h8m10 2h8m48-4h8m30 2h8m137-1h8m-370 7h8m89-1h8m-160 7h8m105-2h8m40 2h8m-1-2h8m45-1h8m-243 8h8m85-2h8m7-2h8m23 3h8m-3 0h8m10 0h8m22-3h8m206 3h8m-374 3h8m44 0h8m9 1h8m45 2h8m-40 5h8m-4-3h8m10 0h8m24-1h8m466 4h8m-664 2h8m43 2h8m-5 1h8m20-4h8m52 2h8m1-1h8m-92 7h8m3 0h8m6-1h8m24 1h8m65 0h8m-39 6h8m9-1h8m27 0h8m168 1h8m141-3h8m9 2h8m-495 3h8m184 0h8m-214 5h8m-3 3h8m189-3h8m28 1h8m-95 4h8m203 2h8m5-1h8m-418 3h8m132 1h8m85 1h8m-176 6h8m14-1h8m50 1h8m17 0h8m127-3h8m40 4h8m2-3h8m299-1h8m-628 6h8m99-1h8m5 1h8m-5 3h8m35-1h8m6-3h8m-4 0h8m23 2h8m-249 6h8m46 0h8m102-1h8m167-1h8m-249 6h8m-101 3h8m78 0h8m25 0h8m8 1h8m8 2h8m90-2h8m313 1h8m-597 6h8m34 1h8m8-2h8m-6-1h8m40 0h8m-105 12h8m101-2h8m-106 4h8m116 1h8m-5 3h8m-71 2h8m88 0h8m-199 4h8m81 0h8m44 4h8m23-4h8m0 2h8m-145 3h8m35 1h8m34 3h8m128 0h8m-215 3h8m0 2h8m35 0h8m21-1h8m4-3h8m200 9h8m-344 5h8m27-4h8m78 0h8m1 3h8m366-3h8m84 4h8m-480 5h8m20 0h8m-1-4h8m48 1h8m71 2h8m-256 2h8m25 4h8m21-1h8m300 3h8m-143 4h8m-263 7h8m4 1h8m76 1h8m12-2h8m3-1h8m344 2h8m-321 6h8m-157 13h8m-77 4h8m115 0h8m-69 4h8m203 3h8m-213 2h8m334 1h8m-238 8h8m0-1h8m-121 3h8m40 0h8m1 2h8m36-3h8m9 4h8m-57 1h8m-120 6h8m365 1h8m84-2h8m-438 7h8m51-2h8m225 3h8m148 9h8m-380 7h8m54 0h8m-193 3h8m95-1h8m20-1h8m85 7h8m78-1h8m318 0h8m-581 5h8m335 3h8m-375 2h8m240 1h8m-6-2h8m108 2h8m-395 5h8m80-1h8m197 1h8m22 2h8m55-1h8m-129 2h8m23 3h8m84-2h8m46 2h8m-75 2h8m13 1h8m-308 7h8m64-3h8m101 2h8m54-1h8m4 1h8m30 2h8m-158 1h8m-3 0h8m100 1h8m-6 2h8m108-3h8m-452 6h8m29 3h8m63-3h8m105 1h8m67 2h8m31-2h8m-410 3h8m38 0h8m174 4h8m69-1h8m51-1h8m7-2h8m12 3h8m35-3h8m-411 9h8m19-1h8m11 1h8m174-3h8m0 1h8m32 0h8m0-2h8m95 1h8m-449 6h8m107 1h8m14 0h8m27-2h8m42-1h8m280 3h8m-390 6h8m-131 5h8m51-3h8m24 2h8m48 0h8m122-1h8m-3-2h8m16 0h8m-8 2h8m165 7h8m-361 4h8m314-2h8m36 1h8m-423 7h8m21-2h8m0 0h8m47-2h8m71 3h8m-212 3h8m8 0h8m84 1h8m6 1h8m312 0h8m-434 3h8m2 2h8m0-1h8m21-2h8m88 3h8m-120 3h8m3 3h8m-6-2h8m40 1h8m103-1h8m-236 6h8m56-3h8m-2 2h8m28-2h8m324 2h8m41 2h8m-508 5h8m56-3h8m20 3h8m27-1h8m31-3h8m41 2h8m27 1h8m-218 5h8m39 1h8m11-1h8m129-3h8m0 3h8m-234 5h8m44-3h8m175 0h8m-7 4h8m190-3h8m-438 4h8m9 1h8m55 3h8m113 0h8m220-3h8m-411 6h8m46-1h8m27 3h8m38-4h8m264 4h8m20-2h8m-376 3h8m127 4h8m5 0h8m151-2h8m2 2h8m31-1h8m-438 5h8m198 0h8m-2 1h8m168-2h8m-394 3h8m28 1h8m-3 0h8m173 2h8m-2-1h8m152 1h8m-396 4h8m44 1h8m119-2h8m48 8h8m8-2h8m4 0h8m-3 2h8m76-1h8m-1 1h8m3 0h8m121-3h8m-534 5h8m99 2h8m115-3h8m15 2h8m17-2h8m4 1h8m97 1h8m-391 3h8m160 2h8m62 1h8m15-2h8m60 1h8m-2 1h8m11-2h8m-5 2h8m-358 6h8m119-4h8m55 4h8m39-2h8m67-2h8m-2 2h8m-322 5h8m278 2h8m59-2h8m-136 3h8m53 4h8m22-4h8m-315 8h8m359-3h8m30 2h8m-430 4h8m16 2h8m152 6h8m207-2h8m-71 6h8m97 1h8m-219 6h8m-160 18h8m181-3h8m-55 6h8m-222 18h8" stroke="#194d9a" stroke-width="8" opacity="0.32"/>
<path transform="scale(.1)" d="M711 1818h8m-23 8h8m-5 1h8m18 0h8m-17 8h8m-24 11h8m13-2h8m-31 8h8m1-2h8m-22 5h8m18 1h8m-14 3h8m-9 5h8m201 218h8m30-3h8m19 3h8m-82 2h8m-2 3h8m0-3h8m0 1h8m8 2h8m-63 3h8m10-1h8m27 3h8m-34 3h8m5 0h8m2-2h8m-55 12h8m-6 2h8m84-4h8m-119 5h8m16 2h8m88-2h8m8 1h8m-148 7h8m16-1h8m-17 6h8m125 2h8m-159 6h8m10 3h8m124-4h8m-162 5h8m3 3h8m128 0h8m-151 3h8m8-1h8m115 0h8m-4 3h8m-3-1h8m-11 6h8m-3-2h8m-155 5h8m14-1h8m-18 9h8m4-1h8m-6 1h8m101-2h8m-111 3h8m-26 5h8m14 2h8m-4 2h8m76-3h8m-100 5h8m56 3h8m-31 2h8m-33 6h8m5 1h8m41-3h8m-46 6h8" stroke="#1b57a3" stroke-width="8" opacity="0.32"/>
<path transform="scale(.1)" d="M939 2097h8m18-1h8m-29 5h8m17 0h8m-5-1h8m-8 1h8m-1-1h8m-74 7h8m-5-2h8m53-1h8m-7 0h8m3 8h8m-92 4h8m89-1h8m-107 5h8m-4 2h8m-3-2h8m-6-2h8m78 8h8m-2 5h8m-113 2h8m-3 3h8m-3 9h8m-6 6h8m-8 0h8m71 5h8m-74 4h8m3 6h8m15 4h8m2-2h8" stroke="#1d61ac" stroke-width="8" opacity="0.32"/>
<path transform="scale(.1)" d="M946 2105h8m-1-1h8m8 1h8m-20 3h8m7 2h8m-5 1h8m-6-3h8m-66 7h8m2-1h8m44 1h8m0 2h8m-75 3h8m66 4h8m-92 7h8m72-1h8m-7-2h8m-86 5h8m-5 8h8m-6 3h8m62 4h8m-74 6h8m31 8h8m-26 1h8m1 1h8" stroke="#1f70b4" stroke-width="8" opacity="0.32"/>
<path transform="scale(.1)" d="M946 2109h8m-7-1h8m8 4h8m-34 1h8m-19 9h8m46-1h8m-5-1h8m-71 5h8m56 1h8m-69 4h8m-13 6h8m63-1h8m-75 4h8m-5 8h8m48 0h8m-4-1h8m-15 3h8m-35 9h8" stroke="#2282bc" stroke-width="8" opacity="0.32"/>
<path transform="scale(.1)" d="M950 2113h8m0 1h8m-29 7h8m24-2h8m-51 7h8m-2 0h8m-7-1h8m-17 11h8m-5 4h8m44 0h8m-3 0h8m-62 7h8m-1 2h8" stroke="#2793bb" stroke-width="8" opacity="0.32"/>
<path transform="scale(.1)" d="M950 2117h8m-19 5h8m-6-1h8m1-1h8m-6-1h8m3 3h8m-34 2h8m23-1h8m-43 9h8m-8 0h8m33-4h8m-49 7h8m35 5h8m-41 7h8m21 0h8m-36 1h8" stroke="#2ea2b3" stroke-width="8" opacity="0.32"/>
<path transform="scale(.1)" d="M943 2126h8m11-3h8m-27 6h8m15 0h8m-1 3h8m-44 1h8m28 1h8m-7 2h8m-45 2h8m-6 4h8m-6 1h8m14 3h8m-7-1h8m-6-1h8m-22 4h8m-3 0h8" stroke="#40af92" stroke-width="8" opacity="0.32"/>
<path transform="scale(.1)" d="M955 2125h8m-11 6h8m2 0h8m-21 3h8m-4 6h8m-5 1h8m-2 1h8m-19 1h8" stroke="#5ebb5a" stroke-width="8" opacity="0.32"/>
<path transform="scale(.1)" d="M953 2132h8m-10 1h8m-3 0h8" stroke="#94ca43" stroke-width="8" opacity="0.32"/>
</g>
<rect x="57.70" y="171.40" width="29.90" height="27.60" fill="none" stroke="#333" stroke-width="0.9"/>
<rect x="81.30" y="201.60" width="35.30" height="20.30" fill="none" stroke="#333" stroke-width="0.9"/>
<text x="56.40" y="169.60" font-size="5.6" text-anchor="start" fill="#231f20" stroke="#231f20" stroke-width="0.17" textLength="31.50" lengthAdjust="spacingAndGlyphs" >CD141<tspan font-size="3.3" dy="-2">+</tspan><tspan dy="2"> DC</tspan></text>
<text x="88.80" y="200.00" font-size="5.6" text-anchor="start" fill="#231f20" stroke="#231f20" stroke-width="0.17" textLength="26.50" lengthAdjust="spacingAndGlyphs" >CD1c<tspan font-size="3.3" dy="-2">+</tspan><tspan dy="2"> DC</tspan></text>
<path d="M56.30 143.90 H143.10 V229.30" stroke="#b8b8b8" stroke-width="0.7" fill="none"/>
<path d="M56.30 143.90 V229.30 H143.10" stroke="#555" stroke-width="0.5" fill="none"/>
<path d="M51.90 225.85H56.30M51.90 224.48H56.30M51.90 218.99H56.30M51.90 213.49H56.30M51.90 212.12H56.30M51.90 210.75H56.30M51.90 190.40H56.30M51.90 172.70H56.30M51.90 155.00H56.30" stroke="#231f20" stroke-width="1.5"/>
<path d="M54.00 228.60H56.30M54.00 227.23H56.30M54.00 223.11H56.30M54.00 221.73H56.30M54.00 220.36H56.30M54.00 217.61H56.30M54.00 216.24H56.30M54.00 214.87H56.30M54.00 209.37H56.30M54.00 208.00H56.30M54.00 202.77H56.30M54.00 199.65H56.30M54.00 197.44H56.30M54.00 195.73H56.30M54.00 194.33H56.30M54.00 193.14H56.30M54.00 192.12H56.30M54.00 191.21H56.30M54.00 185.07H56.30M54.00 181.95H56.30M54.00 179.74H56.30M54.00 178.03H56.30M54.00 176.63H56.30M54.00 175.44H56.30M54.00 174.42H56.30M54.00 173.51H56.30M54.00 167.37H56.30M54.00 164.25H56.30M54.00 162.04H56.30M54.00 160.33H56.30M54.00 158.93H56.30M54.00 157.74H56.30M54.00 156.72H56.30M54.00 155.81H56.30M54.00 149.67H56.30M54.00 146.55H56.30M54.00 144.34H56.30" stroke="#231f20" stroke-width="0.7"/>
<path d="M57.00 229.30V233.70M61.06 229.30V233.70M62.41 229.30V233.70M63.76 229.30V233.70M67.82 229.30V233.70M69.18 229.30V233.70M71.88 229.30V233.70M74.59 229.30V233.70M75.94 229.30V233.70M78.65 229.30V233.70M96.00 229.30V233.70M113.50 229.30V233.70M131.00 229.30V233.70" stroke="#231f20" stroke-width="1.5"/>
<path d="M58.35 229.30V231.60M59.71 229.30V231.60M65.12 229.30V231.60M66.47 229.30V231.60M70.53 229.30V231.60M73.24 229.30V231.60M77.29 229.30V231.60M80.00 229.30V231.60M83.77 229.30V231.60M86.85 229.30V231.60M89.04 229.30V231.60M90.73 229.30V231.60M92.12 229.30V231.60M93.29 229.30V231.60M94.30 229.30V231.60M95.20 229.30V231.60M101.27 229.30V231.60M104.35 229.30V231.60M106.54 229.30V231.60M108.23 229.30V231.60M109.62 229.30V231.60M110.79 229.30V231.60M111.80 229.30V231.60M112.70 229.30V231.60M118.77 229.30V231.60M121.85 229.30V231.60M124.04 229.30V231.60M125.73 229.30V231.60M127.12 229.30V231.60M128.29 229.30V231.60M129.30 229.30V231.60M130.20 229.30V231.60M136.27 229.30V231.60M139.35 229.30V231.60M141.54 229.30V231.60" stroke="#231f20" stroke-width="0.7"/>
<text x="37.80" y="155.60" font-size="5.3" text-anchor="start" fill="#231f20" stroke="#231f20" stroke-width="0.28" >10</text>
<text x="44.90" y="151.70" font-size="4.77" text-anchor="start" fill="#231f20" stroke="#231f20" stroke-width="0.28" >5</text>
<text x="37.80" y="174.30" font-size="5.3" text-anchor="start" fill="#231f20" stroke="#231f20" stroke-width="0.28" >10</text>
<text x="44.90" y="170.40" font-size="4.77" text-anchor="start" fill="#231f20" stroke="#231f20" stroke-width="0.28" >4</text>
<text x="37.80" y="194.00" font-size="5.3" text-anchor="start" fill="#231f20" stroke="#231f20" stroke-width="0.28" >10</text>
<text x="44.90" y="190.10" font-size="4.77" text-anchor="start" fill="#231f20" stroke="#231f20" stroke-width="0.28" >3</text>
<text x="42.90" y="221.80" font-size="5.2" text-anchor="middle" fill="#231f20" stroke="#231f20" stroke-width="0.16" >0</text>
<text x="69.00" y="244.20" font-size="5.2" text-anchor="middle" fill="#231f20" stroke="#231f20" stroke-width="0.16" >0</text>
<text x="96.35" y="244.20" font-size="5.3" text-anchor="start" fill="#231f20" stroke="#231f20" stroke-width="0.28" >10</text>
<text x="103.45" y="240.30" font-size="4.77" text-anchor="start" fill="#231f20" stroke="#231f20" stroke-width="0.28" >3</text>
<text x="131.05" y="244.20" font-size="5.3" text-anchor="start" fill="#231f20" stroke="#231f20" stroke-width="0.28" >10</text>
<text x="138.15" y="240.30" font-size="4.77" text-anchor="start" fill="#231f20" stroke="#231f20" stroke-width="0.28" >5</text>
<text x="93.40" y="251.20" font-size="6.5" text-anchor="middle" fill="#231f20" stroke="#231f20" stroke-width="0.20" textLength="53.00" lengthAdjust="spacingAndGlyphs" >CD1c PE/Cyanine7</text>
<text x="36.40" y="194.00" font-size="6.5" text-anchor="middle" fill="#231f20" stroke="#231f20" stroke-width="0.20" textLength="31.50" lengthAdjust="spacingAndGlyphs" transform="rotate(-90 36.40 194.00)" >CD141  APC</text>
<clipPath id="c7"><rect x="182.60" y="144.00" width="86.10" height="85.10"/></clipPath>
<g clip-path="url(#c7)">
<path transform="scale(.1)" d="M2353 1822h8m155 11h8m-601 18h8m-24 4h8m-15 9h8m0-1h8m-12 21h8m8 9h8m-36 5h8m-4 2h8m65 2h8m255-3h8m-355 8h8m69 0h8m-99 3h8m51 2h8m110-3h8m-134 7h8m25 0h8m-94 3h8m20 0h8m17 3h8m-1-2h8m-60 6h8m40 0h8m-75 3h8m4 1h8m69-1h8m-84 4h8m68 3h8m457 6h8m-479 3h8m293 1h8m-316 5h8m6 0h8m132-3h8m93 1h8m-312 4h8m424 6h8m-453 18h8m55-1h8m53-3h8m-117 6h8m6 2h8m2 1h8m2 4h8m-104 3h8m21-1h8m714 3h8m-431 3h8m95 2h8m-364 5h8m-5-2h8m313 4h8m48 4h8m35-2h8m-433 3h8m3 0h8m24 6h8m-78 8h8m1-2h8m180-1h8m-150 5h8m-15 6h8m261 0h8m90 7h8m-5-1h8m3-3h8m-418 8h8m141-1h8m269 0h8m10 2h8m86-2h8m33-2h8m-120 9h8m-132 2h8m162 2h8m-242 2h8m173 3h8m38 0h8m-4-2h8m30 1h8m-311 7h8m22-3h8m68 0h8m84 1h8m-102 7h8m50 0h8m156-1h8m-346 6h8m110-1h8m80 1h8m6-3h8m3-1h8m-3 3h8m-7-1h8m12-2h8m-6 2h8m-4 0h8m4 1h8m-2 0h8m-190 6h8m54-3h8m-106 7h8m100 1h8m83-2h8m-7-1h8m2-1h8m12 3h8m17-1h8m12 2h8m-70 5h8m10 0h8m5-4h8m19 2h8m-334 3h8m89 4h8m40 0h8m-8-1h8m160 0h8m-476 4h8m-6 2h8m15-2h8m17-1h8m138 2h8m240 0h8m61 6h8m-600 1h8m526 1h8m1-1h8m-5 4h8m18-4h8m-358 6h8m103 1h8m2 1h8m192 1h8m-622 4h8m102-3h8m48 0h8m40 0h8m148 3h8m-341 5h8m151 0h8m81-2h8m127 3h8m185-1h8m0 1h8m46-4h8m-570 6h8m-4 3h8m10-1h8m273-2h8m250 3h8m-472 4h8m20-2h8m117 2h8m2-1h8m5-2h8m9 0h8m4 3h8m233-3h8m-515 8h8m77 0h8m383-2h8m8 1h8m76-2h8m65 1h8m-526 7h8m-268 6h8m115-1h8m115-1h8m-72 5h8m177 1h8m218 1h8m0-3h8m-547 8h8m112-3h8m141 0h8m-4 1h8m34 0h8m-374 7h8m104-1h8m30-3h8m25 4h8m6-4h8m66 3h8m18-1h8m21 0h8m15 0h8m-7-2h8m16 3h8m198-1h8m-6 1h8m-7-3h8m-6 1h8m37 2h8m-507 6h8m226-4h8m-290 9h8m70-4h8m154 2h8m7-2h8m39 1h8m-4 2h8m188 1h8m-7 0h8m-7-4h8m4 4h8m-8 0h8m4-3h8m-582 7h8m60-2h8m-4 0h8m43 0h8m186 1h8m-390 7h8m143-2h8m3 1h8m84-1h8m113-2h8m43 0h8m-276 5h8m89 1h8m96 3h8m64-4h8m6 0h8m-343 7h8m46-1h8m21 0h8m120 1h8m20 2h8m6-3h8m33 1h8m42 0h8m135 1h8m31 1h8m-6-1h8m-224 5h8m-7 0h8m-6-2h8m10-1h8m15 3h8m-5 1h8m109-1h8m15-3h8m36 1h8m-482 7h8m18-2h8m246 2h8m7 0h8m-7 0h8m-302 4h8m174 2h8m138-1h8m9 0h8m26-3h8m-391 5h8m42 3h8m117-3h8m104 0h8m15 0h8m49 3h8m46 0h8m5 0h8m-202 2h8m42 3h8m34-1h8m4-1h8m-5 1h8m41 1h8m-508 4h8m201 1h8m211-1h8m5-2h8m-4 3h8m74 0h8m-461 3h8m375 0h8m4-1h8m-55 8h8m6-1h8m94 0h8m-93 6h8m-77 10h8m49 1h8m-6 9h8m19-1h8m-2-1h8m31 0h8" stroke="#194d9a" stroke-width="8" opacity="0.35"/>
<path transform="scale(.1)" d="M1900 1932h8m0-2h8m-14 6h8m0-3h8m-12 14h8m4-1h8m0-2h8m-13 6h8m-28 3h8m-15 8h8m-1 0h8m7 1h8m-10 5h8m-23 1h8m3 0h8m4 1h8m388 113h8m33-1h8m-46 3h8m19 2h8m34 0h8m-89 2h8m-3 1h8m25 1h8m-4 0h8m16 7h8m2-1h8m-6-1h8m5-1h8m-3-1h8m-4 1h8m-5 3h8m-131 1h8m-3 4h8m18-3h8m89 7h8m-7-1h8m-156 3h8m3 3h8m3 1h8m-20 2h8m124 1h8m-1 5h8m-168 5h8m10 2h8m135 0h8m8-3h8m-168 7h8m135-2h8m-9 7h8m-6-2h8m-161 4h8m152 0h8m-177 9h8m159-4h8m-5 4h8m-168 4h8m-4 1h8m-4 1h8m129 2h8m-156 4h8m-6 2h8m3-3h8m-20 11h8m-4 0h8m19 3h8m114 0h8m-157 1h8m-1 1h8m135 0h8m-41 8h8m0-4h8m-1 1h8m4 1h8m-136 5h8m6 1h8m-5-2h8m-1-1h8m14 4h8m61-1h8m-83 6h8m9-3h8m24-1h8m-43 5h8m-2 4h8m5-1h8m1-3h8m-30 6h8m-2-1h8" stroke="#1b57a3" stroke-width="8" opacity="0.35"/>
<path transform="scale(.1)" d="M2341 2099h8m-7 1h8m-5 1h8m-1 0h8m-1-2h8m-54 8h8m8-4h8m-2 2h8m22 2h8m-60 1h8m6 2h8m48 2h8m-74 3h8m-27 4h8m-2 1h8m-26 6h8m-5-3h8m-3 0h8m-1 4h8m97-3h8m-120 7h8m-7 2h8m-6 0h8m-24 5h8m116 6h8m-126 8h8m108-2h8m-115 6h8m4 5h8m-13 2h8m89 7h8m-32 7h8m-5-2h8m-2 2h8m1-2h8m-82 4h8m-3 2h8m-6-2h8m22 2h8m-4 6h8m3-4h8" stroke="#1d61ac" stroke-width="8" opacity="0.35"/>
<path transform="scale(.1)" d="M2356 2106h8m-7 1h8m-35 5h8m33-1h8m-54 6h8m-8-4h8m40 0h8m-2 1h8m-68 7h8m-6 0h8m-16 2h8m69 4h8m-6 4h8m-2-2h8m-104 4h8m0 1h8m-13 6h8m-6-2h8m81 7h8m-94 10h8m-7-2h8m72 4h8m-11 3h8m-3-2h8m-7 2h8m-8 1h8m-78 8h8m-3 1h8m48 0h8m-52 4h8m5 2h8m16-2h8" stroke="#1f70b4" stroke-width="8" opacity="0.35"/>
<path transform="scale(.1)" d="M2344 2117h8m-1-2h8m-1 0h8m-40 7h8m1-3h8m-8-1h8m-6 0h8m26 0h8m-6 1h8m-53 6h8m-18 6h8m63 0h8m-80 3h8m65 2h8m-79 9h8m64 4h8m-11 5h8m-72 4h8m50 4h8m-8-3h8m-66 4h8m44 3h8m-6-2h8m-27 7h8m-2-1h8m0-1h8" stroke="#2282bc" stroke-width="8" opacity="0.35"/>
<path transform="scale(.1)" d="M2341 2121h8m6 0h8m-7 1h8m-2 0h8m-41 4h8m-7 1h8m7-4h8m12 0h8m1 3h8m-61 11h8m-5-2h8m49 1h8m-67 6h8m55-3h8m-14 16h8m-13 4h8m-49 4h8m9 4h8m-7-1h8m5 1h8m-7-3h8m-7 0h8" stroke="#2793bb" stroke-width="8" opacity="0.35"/>
<path transform="scale(.1)" d="M2358 2126h8m-7-3h8m-35 7h8m-5-1h8m31 4h8m-55 6h8m-6 2h8m-11 5h8m44 0h8m-9 5h8m-8-1h8m-54 4h8m-5 1h8m21 7h8m1-3h8m-31 5h8m-4 2h8" stroke="#2ea2b3" stroke-width="8" opacity="0.35"/>
<path transform="scale(.1)" d="M2342 2131h8m-2-1h8m-1 1h8m-26 11h8m24-4h8m-6 2h8m-8-2h8m-47 7h8m-6 5h8m30-2h8m-44 7h8m-4-1h8m20 0h8m-8 0h8m-7-1h8m-4 0h8m-37 6h8m-8 1h8m-7-1h8m-2-1h8m1 2h8" stroke="#40af92" stroke-width="8" opacity="0.35"/>
<path transform="scale(.1)" d="M2345 2134h8m-1 1h8m-6-1h8m-8 0h8m-5 0h8m-2 1h8m-6 1h8m-31 5h8m-7 1h8m-11 7h8m11 2h8m-21 3h8m-1-1h8m-4 1h8" stroke="#5ebb5a" stroke-width="8" opacity="0.35"/>
<path transform="scale(.1)" d="M2346 2142h8m-2-2h8m-6-2h8m-5 6h8m-8 1h8m-2 0h8m-15 3h8" stroke="#94ca43" stroke-width="8" opacity="0.35"/>
</g>
<rect x="183.90" y="185.40" width="19.80" height="20.90" fill="none" stroke="#333" stroke-width="0.9"/>
<path d="M185.60 208.60 L208.30 208.60 L226.90 194.70 L252.40 194.70 L252.40 224.40 L185.60 224.40 Z" stroke="#333" stroke-width="0.9" fill="none" stroke-linejoin="miter" />
<text x="184.20" y="183.00" font-size="5.8" text-anchor="start" fill="#231f20" stroke="#231f20" stroke-width="0.17" textLength="12.00" lengthAdjust="spacingAndGlyphs" >pDC</text>
<line x1="185.60" y1="223.30" x2="150.90" y2="223.30" stroke="#231f20" stroke-width="1.1" />
<path d="M145.80 223.30 L152.40 220.00 L150.82 223.30 L152.40 226.60 Z" fill="#231f20"/>
<path d="M182.30 143.70 H268.70 V229.10" stroke="#b8b8b8" stroke-width="0.7" fill="none"/>
<path d="M182.30 143.70 V229.10 H268.70" stroke="#555" stroke-width="0.5" fill="none"/>
<path d="M177.90 225.68H182.30M177.90 224.32H182.30M177.90 218.88H182.30M177.90 213.44H182.30M177.90 212.08H182.30M177.90 210.72H182.30M177.90 190.00H182.30M177.90 172.00H182.30M177.90 154.00H182.30" stroke="#231f20" stroke-width="1.5"/>
<path d="M180.00 228.40H182.30M180.00 227.04H182.30M180.00 222.96H182.30M180.00 221.60H182.30M180.00 220.24H182.30M180.00 217.52H182.30M180.00 216.16H182.30M180.00 214.80H182.30M180.00 209.36H182.30M180.00 208.00H182.30M180.00 202.58H182.30M180.00 199.41H182.30M180.00 197.16H182.30M180.00 195.42H182.30M180.00 193.99H182.30M180.00 192.79H182.30M180.00 191.74H182.30M180.00 190.82H182.30M180.00 184.58H182.30M180.00 181.41H182.30M180.00 179.16H182.30M180.00 177.42H182.30M180.00 175.99H182.30M180.00 174.79H182.30M180.00 173.74H182.30M180.00 172.82H182.30M180.00 166.58H182.30M180.00 163.41H182.30M180.00 161.16H182.30M180.00 159.42H182.30M180.00 157.99H182.30M180.00 156.79H182.30M180.00 155.74H182.30M180.00 154.82H182.30M180.00 148.58H182.30M180.00 145.41H182.30" stroke="#231f20" stroke-width="0.7"/>
<path d="M183.00 229.10V233.50M187.12 229.10V233.50M188.50 229.10V233.50M189.88 229.10V233.50M194.00 229.10V233.50M195.38 229.10V233.50M198.12 229.10V233.50M200.88 229.10V233.50M202.25 229.10V233.50M205.00 229.10V233.50M211.50 229.10V233.50M229.00 229.10V233.50M246.50 229.10V233.50M264.00 229.10V233.50" stroke="#231f20" stroke-width="1.5"/>
<path d="M184.38 229.10V231.40M185.75 229.10V231.40M191.25 229.10V231.40M192.62 229.10V231.40M196.75 229.10V231.40M199.50 229.10V231.40M203.62 229.10V231.40M216.77 229.10V231.40M219.85 229.10V231.40M222.04 229.10V231.40M223.73 229.10V231.40M225.12 229.10V231.40M226.29 229.10V231.40M227.30 229.10V231.40M228.20 229.10V231.40M234.27 229.10V231.40M237.35 229.10V231.40M239.54 229.10V231.40M241.23 229.10V231.40M242.62 229.10V231.40M243.79 229.10V231.40M244.80 229.10V231.40M245.70 229.10V231.40M251.77 229.10V231.40M254.85 229.10V231.40M257.04 229.10V231.40M258.73 229.10V231.40M260.12 229.10V231.40M261.29 229.10V231.40M262.30 229.10V231.40M263.20 229.10V231.40" stroke="#231f20" stroke-width="0.7"/>
<text x="162.80" y="156.00" font-size="5.3" text-anchor="start" fill="#231f20" stroke="#231f20" stroke-width="0.28" >10</text>
<text x="169.90" y="152.10" font-size="4.77" text-anchor="start" fill="#231f20" stroke="#231f20" stroke-width="0.28" >5</text>
<text x="162.80" y="174.00" font-size="5.3" text-anchor="start" fill="#231f20" stroke="#231f20" stroke-width="0.28" >10</text>
<text x="169.90" y="170.10" font-size="4.77" text-anchor="start" fill="#231f20" stroke="#231f20" stroke-width="0.28" >4</text>
<text x="162.80" y="193.00" font-size="5.3" text-anchor="start" fill="#231f20" stroke="#231f20" stroke-width="0.28" >10</text>
<text x="169.90" y="189.10" font-size="4.77" text-anchor="start" fill="#231f20" stroke="#231f20" stroke-width="0.28" >3</text>
<text x="168.00" y="221.00" font-size="5.2" text-anchor="middle" fill="#231f20" stroke="#231f20" stroke-width="0.16" >0</text>
<text x="197.90" y="244.20" font-size="5.2" text-anchor="middle" fill="#231f20" stroke="#231f20" stroke-width="0.16" >0</text>
<text x="230.85" y="244.20" font-size="5.3" text-anchor="start" fill="#231f20" stroke="#231f20" stroke-width="0.28" >10</text>
<text x="237.95" y="240.30" font-size="4.77" text-anchor="start" fill="#231f20" stroke="#231f20" stroke-width="0.28" >3</text>
<text x="223.00" y="251.40" font-size="6.5" text-anchor="middle" fill="#231f20" stroke="#231f20" stroke-width="0.20" textLength="52.00" lengthAdjust="spacingAndGlyphs" >CD11c Pacific Blue</text>
<text x="158.40" y="194.00" font-size="6.5" text-anchor="middle" fill="#231f20" stroke="#231f20" stroke-width="0.20" textLength="70.00" lengthAdjust="spacingAndGlyphs" transform="rotate(-90 158.40 194.00)" >CD123  PerCP/Cyanine5.5</text>
<clipPath id="c8"><rect x="308.20" y="141.80" width="84.40" height="85.60"/></clipPath>
<g clip-path="url(#c8)">
<path transform="scale(.1)" d="M3209 1427h8m-61 8h8m26 22h8m97-1h8m-144 4h8m48 2h8m-12 3h8m-91 3h8m54 1h8m69 3h8m136-2h8m-279 7h8m25 0h8m11 0h8m72-4h8m40 3h8m-210 4h8m61 0h8m129 1h8m-165 9h8m46 2h8m6-1h8m-114 2h8m-7 3h8m-4-1h8m27-2h8m60 2h8m-98 3h8m53 4h8m-93 4h8m-2-2h8m73 2h8m-7-2h8m19 2h8m26-3h8m-154 8h8m99-3h8m-3 0h8m130 8h8m477 3h8m-746 5h8m111 3h8m11-3h8m1 2h8m-170 3h8m172-1h8m18 0h8m80 0h8m-309 8h8m123-2h8m9 6h8m-2 0h8m84 1h8m-97 6h8m243-4h8m-427 8h8m208-3h8m-52 12h8m34-1h8m36 1h8m-258 4h8m-2 2h8m161-1h8m31-1h8m12 3h8m-243 3h8m427 0h8m-444 3h8m173 4h8m31-3h8m58-1h8m-68 5h8m-40 6h8m22 0h8m-235 5h8m206 1h8m141 0h8m-194 4h8m93 1h8m-2 0h8m-306 6h8m342 0h8m-343 2h8m193 4h8m115-2h8m404-2h8m-503 7h8m-40 5h8m-5 1h8m-7-1h8m106 2h8m40-3h8m-196 4h8m62 1h8m11 1h8m114-2h8m-194 9h8m62-4h8m42 1h8m-54 4h8m64 3h8m-146 5h8m5-1h8m-38 3h8m-217 9h8m216-2h8m3 1h8m24-2h8m-38 8h8m49-2h8m26-1h8m21 3h8m-149 5h8m88 5h8m-100 2h8m146 0h8m-164 5h8m-2 0h8m4 1h8m29 2h8m10-4h8m-305 7h8m261-1h8m88 2h8m-119 6h8m2-3h8m61 0h8m257-1h8m-598 5h8m210 2h8m-4 0h8m7 1h8m12-1h8m-48 3h8m-3 0h8m21 3h8m66-3h8m6 4h8m-104 3h8m-7 0h8m122 2h8m109-4h8m138 10h8m-431 5h8m58 4h8m-76 5h8m13-1h8m45-3h8m18 0h8m-328 5h8m224 2h8m-13 3h8m30 2h8m-64 3h8m36 2h8m-46 11h8m23-3h8m91 4h8m-342 4h8m-3-1h8m173 1h8m-6-3h8m69 4h8m25-2h8m20 1h8m50-3h8m45 2h8m-262 3h8m46 3h8m-246 6h8m183-3h8m38-1h8m78 2h8m-5 1h8m-334 2h8m234 0h8m53 3h8m-315 3h8m167 0h8m61 2h8m100 0h8m-362 3h8m219 2h8m90-3h8m43 1h8m45 1h8m-263 5h8m130 2h8m119-4h8m-427 6h8m143 0h8m9 3h8m22 0h8m-51 1h8m369 3h8m-554 4h8m-8-1h8m227 0h8m13 2h8m-104 6h8m11-1h8m-10 2h8m0 2h8m-5 2h8m14-1h8m80 0h8m-86 6h8m59 0h8m-155 2h8m81 3h8m-7-1h8m13 0h8m111-3h8m-240 9h8m85-3h8m137 2h8m-349 8h8m168-1h8m-182 5h8m142 3h8m95-1h8m-94 11h8m-1-3h8m86 13h8m-302 2h8m205 7h8m317-1h8m-523 7h8m-17 6h8m362-4h8m269 1h8m-651 4h8m95 4h8m339-4h8m29 1h8m-490 4h8m127 0h8m-5 2h8m-8-2h8m429 3h8m132-1h8m-612 10h8m7-1h8m78 3h8m245-4h8m93 1h8m-408 6h8m31-1h8m-245 6h8m156 0h8m-142 4h8m-19 7h8m114-1h8m-117 7h8m204-2h8m-104 6h8m113-3h8m-254 19h8m108-1h8m16-2h8m91-1h8m-242 6h8m110 2h8m5 0h8m238-3h8m-293 7h8m4 2h8m-130 1h8m102 0h8m24 1h8m-159 8h8m7-1h8m100-1h8m-117 3h8m-1 3h8m384 0h8m-287 5h8m89 1h8m-225 8h8m471-2h8m-200 6h8m36 1h8m47 1h8m-411 4h8m10 7h8m-37 2h8m156-1h8m7 0h8m-158 15h8m-18 14h8m132-1h8m87 1h8m-245 1h8m-5 1h8m-2-1h8m522 4h8m-409 4h8m108 2h8m164 3h8m-452 3h8m143-1h8m504 1h8m-649 6h8m-23 11h8m8-3h8m-5 2h8m502-2h8m-526 9h8m153-1h8m211 4h8m-245 5h8m489-1h8m-642 8h8m-5 2h8m116 3h8m-14 2h8m1 3h8m389-3h8m-419 13h8m8-2h8m-150 7h8m120 4h8m0 0h8m86 1h8m210-3h8m-445 6h8m-24 8h8m131 4h8m-5-3h8m67 3h8m318 2h8m-553 6h8m11 6h8m-6 11h8m-22 6h8m120 2h8m357-1h8m-365 18h8m99-3h8m-97 5h8m104 1h8m-136 7h8m325-3h8m-348 7h8m283 1h8m-419 4h8m109 0h8m486-3h8m19 3h8m-532 3h8m6-1h8m-22 5h8m-18 5h8m-111 13h8m2-2h8m325 0h8m-150 7h8m-184 6h8m59-2h8m-6 1h8m-90 3h8m64 3h8m41-1h8m480-1h8m-644 6h8m124 0h8m-37 4h8m0 1h8m18-3h8m-70 8h8m10 1h8m49-4h8m100 1h8m-183 6h8m12 2h8m428 7h8m-435 8h8m-116 2h8m45-1h8m12 1h8m24-1h8m406 0h8m-450 6h8" stroke="#194d9a" stroke-width="8" opacity="0.6"/>
<path transform="scale(.1)" d="M3169 1496h8m-18 4h8m-6-2h8m15 3h8m8 5h8m-10 6h8m-60 2h8m5 3h8m38-1h8m-60 5h8m-4-1h8m34 2h8m4-2h8m1-1h8m-31 7h8m17 1h8m-14 5h8m-103 3h8m89 1h8m-11 3h8m-98 8h8m-8 0h8m91 0h8m6 9h8m-2 6h8m1 8h8m-147 7h8m-8-2h8m118 1h8m6 2h8m-157 6h8m-7 0h8m-7 5h8m137 2h8m-7 1h8m-2 3h8m-8 2h8m-166 1h8m-1 1h8m130 3h8m0-4h8m2 0h8m-7 6h8m-18 13h8m-2-3h8m3 3h8m-26 1h8m-2 1h8m11 1h8m-188 5h8m162-1h8m0 1h8m-5 1h8m-23 10h8m-1-3h8m-3 3h8m-6-1h8m-194 7h8m-1-1h8m-3-2h8m147 2h8m-7 1h8m-7-1h8m-8 3h8m22 6h8m-198 4h8m152 0h8m-2 6h8m-179 3h8m-2 3h8m-5-1h8m150 0h8m-169 4h8m147-1h8m-8 1h8m-7 3h8m23-4h8m-6 2h8m-41 5h8m2-1h8m25 0h8m-214 4h8m158 1h8m0 2h8m20-3h8m-5 3h8m-213 3h8m-8-1h8m-1 1h8m-3-1h8m154 4h8m27-1h8m-44 4h8m-4-2h8m9 0h8m3 0h8m-204 5h8m142 2h8m24 1h8m3 0h8m-199 4h8m160 2h8m-4-1h8m9-2h8m-204 5h8m163 2h8m-4-1h8m-173 4h8m151 2h8m14-1h8m-44 10h8m-4 2h8m-5-3h8m7 0h8m-3 5h8m-175 6h8m126 1h8m-2 1h8m-4-2h8m3 2h8m-4-1h8m-179 5h8m139-2h8m-1 1h8m-3 0h8m-8-2h8m5 3h8m-174 8h8m126 0h8m-138 5h8m-7 1h8m-2 1h8m122-2h8m11 0h8m-21 8h8m0-4h8m-159 8h8m114 0h8m-1 1h8m9-3h8m-145 5h8m108-1h8m-7 5h8m-124 8h8m96 0h8m3 1h8m-112 5h8m93-2h8m-25 11h8m-89 6h8m-7-2h8m-1 1h8m66 1h8m-81 5h8m-8 0h8m-20 3h8m4 4h8m-7-1h8m-3 3h8m-25 2h8m3 1h8m53 0h8m4 1h8m-88 3h8m-7 8h8m-1 4h8m-4-1h8m48 3h8m-3-4h8m2 3h8m-89 12h8m-6 2h8m-4 2h8m-18 9h8m65 8h8m-5-1h8m-8 0h8m-81 7h8m-5 0h8m61 2h8m-7-1h8m-10 3h8m-80 7h8m65 0h8m-9 6h8m-88 9h8m-6 9h8m1 1h8m-4-2h8m51 2h8m0 4h8m-88 4h8m-6 2h8m-7-1h8m-2-1h8m58 3h8m-83 1h8m-7 0h8m73 0h8m-20 8h8m-4 1h8m-84 2h8m-2 1h8m-17 8h8m62 3h8m-75 10h8m-5-2h8m-5 1h8m51 1h8m-4-3h8m-10 6h8m-74 7h8m-4 1h8m-14 1h8m-14 8h8m0-2h8m-7 1h8m61 0h8m-6 3h8m-1 4h8m-13 4h8m-5-3h8m-4 2h8m-8 1h8m-95 5h8m72 0h8m-6 1h8m-6-3h8m-105 11h8m5 1h8m77-2h8m-6 1h8m-106 6h8m85-2h8m-101 11h8m89 0h8m-13 5h8m-104 4h8m97 12h8m-8 1h8m-102 7h8m82 2h8m-97 2h8m87 2h8m-113 3h8m87 2h8m-8 1h8m-5-2h8m-106 5h8m-6 0h8m86 3h8m-5 9h8m-108 5h8m2-2h8m82 3h8m-6-3h8m-108 4h8m-6 1h8m-10 13h8m89-1h8m-8-3h8m-6 0h8m-99 8h8m79 1h8m-8-2h8m-2 7h8m-108 2h8m84 3h8m-95 3h8m-7 0h8m82-1h8m-8 3h8m-9 4h8m-104 4h8m82-1h8m2 3h8m-105 4h8m91 2h8m-18 9h8m-87 2h8m69 3h8m-6-1h8m-5-1h8m-102 4h8m-3 7h8m-6 0h8m-4-3h8m66 0h8m-87 8h8m-3 0h8m-8 2h8m-6 9h8m60-2h8m4-1h8m-93 15h8m-4-1h8m60 2h8m-85 7h8m-4 0h8m-7-3h8m62 2h8m-82 5h8m7 3h8m59 2h8m-7-1h8m-7 7h8m-5 0h8m-6-2h8m-87 4h8m-7 1h8m3-1h8m-5 0h8m37 1h8m6-2h8m-72 5h8m33 4h8m14-2h8m-65 3h8m-7 4h8m6-2h8m19 1h8m5-2h8m-58 4h8m-1 3h8m11-3h8m13 0h8m-54 8h8m9-3h8m-2 3h8m-7-3h8m-5 3h8m-51 6h8m35-2h8m-29 6h8m0-2h8m-1-1h8m5 0h8m-22 8h8m3-2h8" stroke="#1b57a3" stroke-width="8" opacity="0.6"/>
<path transform="scale(.1)" d="M3169 1526h8m8-1h8m-34 4h8m-7 1h8m3 0h8m-4 2h8m-7-2h8m-32 4h8m-7 0h8m3-1h8m11 2h8m-7 1h8m2-2h8m-58 6h8m5 0h8m-8 0h8m35 0h8m1 0h8m-83 4h8m-6-1h8m-3 4h8m-9 5h8m-12 3h8m-17 4h8m-11 5h8m95-1h8m-110 5h8m98 8h8m-119 2h8m97 3h8m-7 4h8m-6 0h8m-119 6h8m-6-2h8m106 1h8m-127 4h8m-3 0h8m106 2h8m-131 5h8m-3 1h8m-7 3h8m120 0h8m-141 6h8m-7 2h8m117 7h8m-6-2h8m-6 0h8m-6 2h8m-140 7h8m119-1h8m-132 7h8m-7 0h8m116 1h8m-7-1h8m-7 4h8m-7 3h8m-4 7h8m-14 5h8m-7 0h8m-6-3h8m-6 7h8m-139 6h8m-8-1h8m-14 2h8m131 1h8m-138 5h8m123 2h8m-142 6h8m128-4h8m-7 2h8m-143 5h8m-6-2h8m-10 7h8m121 5h8m-142 5h8m-5 2h8m-3-3h8m125-1h8m-149 7h8m131 2h8m-147 1h8m123 0h8m-131 7h8m112 2h8m-7 0h8m-5-3h8m0 3h8m-142 2h8m-8 2h8m117-1h8m-12 3h8m5 1h8m-8-1h8m-136 9h8m-15 6h8m-2 4h8m106-3h8m2-1h8m-126 8h8m98-3h8m-5 3h8m-120 4h8m-5-1h8m105-1h8m-17 6h8m-12 4h8m-110 5h8m3 4h8m81-3h8m-104 8h8m6 5h8m66-3h8m-4-1h8m0 0h8m-101 9h8m6 4h8m46 1h8m-1 0h8m-4-4h8m-84 6h8m11 3h8m42-3h8m-6 3h8m-4-4h8m-77 5h8m-5 0h8m-6 4h8m4 0h8m-23 1h8m6 0h8m17 4h8m8 0h8m-36 1h8m-30 5h8m13 1h8m-7-1h8m9 4h8m3-3h8m-56 8h8m7-1h8m-6-3h8m15 0h8m0 6h8m-57 4h8m1 4h8m-4 0h8m7-3h8m4 2h8m-7-3h8m-5 1h8m-49 4h8m3 0h8m4 4h8m-2-1h8m-4-1h8m3 0h8m-15 7h8m2 0h8m-55 5h8m36-2h8m-55 3h8m36 4h8m-7-3h8m-58 7h8m4-2h8m28 0h8m-4-1h8m-7 2h8m-8 1h8m-57 6h8m41-1h8m-57 6h8m-5-1h8m43 1h8m-8 4h8m-16 5h8m-8 2h8m-60 9h8m0-1h8m-7 0h8m41 0h8m-58 4h8m-7-1h8m-17 7h8m4 2h8m30 2h8m-58 4h8m-6 6h8m-5 1h8m-7-3h8m-9 7h8m-5 1h8m-6 4h8m23 1h8m-6-2h8m4 3h8m-22 3h8m-3 2h8m-5-4h8m-7 2h8m-51 6h8m13 0h8m-6-1h8m-4-2h8m-5 4h8m-4-4h8m-40 9h8m9 0h8m-22 5h8m-5-2h8m12 0h8m5 0h8m-58 3h8m11 3h8m22 0h8m-50 6h8m0-2h8m8 1h8m-6-1h8m-42 6h8m-7-2h8m-5-1h8m-6 2h8m-4 1h8m11 1h8m-7 0h8m-8-1h8m11 0h8m-47 4h8m-7 1h8m-8-3h8m-8 4h8m-6-4h8m-6 0h8m-4 1h8m-6-1h8m1 1h8m-43 7h8m22-2h8m-6 0h8m1-1h8m1 1h8m-5-1h8m-52 7h8m33-2h8m-4 4h8m-6-1h8m-23 4h8m1 2h8m-63 5h8m-2 0h8m2 0h8m34-1h8m-5-2h8m-62 5h8m-6 5h8m34 1h8m5 2h8m-75 1h8m-4 0h8m44 3h8m2-1h8m-63 3h8m42 2h8m-58 4h8m40 3h8m-3-1h8m-6 1h8m-67 12h8m51 0h8m-2 2h8m-75 4h8m-7 1h8m55-3h8m-4 3h8m-78 3h8m53 0h8m-75 4h8m-4 4h8m-8-1h8m-8-1h8m55-1h8m-71 5h8m-10 7h8m-7-2h8m59 0h8m-4 6h8m-86 10h8m-6-2h8m72 3h8m-89 4h8m67 2h8m-10 2h8m-82 4h8m69 3h8m-80 8h8m68-1h8m-86 6h8m-9 7h8m0-1h8m53 2h8m0-3h8m-11 6h8m-76 7h8m55 3h8m-6 2h8m-9 4h8m-65 5h8m-6 0h8m48 0h8m-9 3h8m-72 8h8m5 3h8m33 2h8m-60 4h8m-2 1h8m42-4h8m-67 8h8m6-3h8m36 1h8m-62 5h8m-6 2h8m35-1h8m-45 3h8m-3 3h8m-21 5h8m-6 0h8m33-2h8m-7 3h8m-53 4h8m-1-2h8m3 3h8m-7-3h8m20 3h8m-18 4h8m3 1h8m-49 5h8m9 0h8m-21 1h8m2 4h8m-5-4h8m-6 2h8m23-2h8m-53 8h8m12-2h8m-7-1h8m-4 0h8m-40 5h8m6 1h8m-4 1h8m-5 1h8m10-1h8m-46 3h8m-6 1h8m-1-1h8m-4 3h8m-1-1h8m21 0h8m-57 5h8m-4-1h8m-3-1h8m0 3h8m-6 0h8m-8-1h8m8-2h8m-4 4h8m-6 3h8m-17 4h8m-7 5h8m-19 4h8" stroke="#1d61ac" stroke-width="8" opacity="0.6"/>
<path transform="scale(.1)" d="M3170 1537h8m-19 3h8m13-1h8m-32 7h8m3-3h8m9 1h8m-7 2h8m-5 1h8m-4-2h8m-49 4h8m-2-1h8m-7 0h8m-1 0h8m21 3h8m-7 1h8m-7-1h8m-5 0h8m-7-2h8m-70 8h8m-4-4h8m-13 5h8m61 2h8m-8 0h8m-80 4h8m-4 0h8m63 0h8m-1 5h8m-4 3h8m-8 0h8m-14 2h8m-7 0h8m-7-1h8m-100 7h8m87 2h8m-7 0h8m-7-4h8m-105 8h8m95 4h8m-110 6h8m-8-2h8m94 2h8m-5 1h8m-116 4h8m-10 6h8m-7-2h8m100 1h8m-5-1h8m-117 7h8m95-1h8m-5 1h8m-4-1h8m-120 3h8m99 0h8m-114 5h8m106 10h8m-125 7h8m104 1h8m-120 5h8m-6 0h8m-7-2h8m106-2h8m-12 6h8m-120 4h8m-7 0h8m106 4h8m-8-2h8m-5-2h8m-123 6h8m98 2h8m-4 0h8m-3-1h8m-129 5h8m113-2h8m-121 9h8m97-1h8m-8 6h8m-4-4h8m-9 5h8m-4 1h8m-121 8h8m-7-4h8m-8 1h8m-8 0h8m98 2h8m-115 4h8m105 1h8m-6-2h8m-11 6h8m-123 5h8m-7 0h8m-5 4h8m-10 6h8m100-1h8m-7-1h8m-7 4h8m-5-3h8m-119 10h8m-5 1h8m98 1h8m-116 11h8m97 2h8m-7 0h8m-110 10h8m-4-1h8m82 3h8m-98 5h8m-5 0h8m78-2h8m-5 3h8m-99 1h8m-6 7h8m-8 4h8m-3-1h8m59 4h8m1-1h8m-5-2h8m-81 6h8m50 1h8m-6-3h8m-67 7h8m-6 1h8m-5 0h8m38-1h8m-4 2h8m-63 2h8m-4 1h8m-7-2h8m0 2h8m21 2h8m-5-1h8m-3 1h8m-1-3h8m-56 6h8m0 1h8m-5 0h8m-4-2h8m6-1h8m3 0h8m-6 1h8m-7 1h8m-43 6h8m-4-1h8m4-2h8m4 3h8m-36 2h8m-3 1h8m-3 3h8m-7-2h8m-4-1h8m-6 0h8m-5-1h8m-21 43h8m-10 6h8m-7-2h8m-5 0h8m-2-2h8m-4 2h8m-23 5h8m-8-1h8m-8 2h8m-5 0h8m-1-1h8m-2-1h8m-6 0h8m-32 5h8m-6 0h8m17 2h8m-37 5h8m3-3h8m-5 2h8m-7-1h8m-8 1h8m-7 0h8m-7 1h8m-4-3h8m-3 2h8m-3 0h8m-32 5h8m-7 2h8m-6-3h8m2-1h8m-4 0h8m-8 1h8m-34 5h8m-6 0h8m3 1h8m8 1h8m0 1h8m-13 3h8m-2-1h8m-45 5h8m-6 1h8m-4-1h8m-4 2h8m10-2h8m-34 5h8m-1-1h8m2 4h8m-5-2h8m-23 5h8m5 0h8m-5-2h8m-5 0h8m-26 7h8m-1 2h8m-4-2h8m-8 0h8m-7 1h8m-6 0h8m1-2h8m-7 2h8m-34 3h8m-6 2h8m0-1h8m1 1h8m-7 1h8m-8-2h8m-35 3h8m1 2h8m10 2h8m-33 1h8m-4 4h8m4-4h8m-5 4h8m-4-4h8m-25 6h8m-5 3h8m-2 0h8m-4-1h8m-20 5h8m-1-3h8m-10 5h8m-8 0h8m-8 0h8m-4 0h8m-5 0h8m-26 48h8m-8 5h8m-16 5h8m14 1h8m-26 4h8m9-3h8m-6 4h8m-7-4h8m-35 6h8m4 0h8m-6 6h8m-8-1h8m0 2h8m-6-3h8m-6 1h8m-38 5h8m-7 0h8m-5 0h8m-6 2h8m0 0h8m-3-2h8m-5 2h8m-6-1h8m-6 0h8m-4 2h8m-4-4h8m-41 5h8m-2 0h8m-6 2h8m-7 0h8m-2-2h8m3 2h8m-7 1h8m-4 1h8m-7-1h8m-2-3h8m-18 9h8m-7-2h8m-13 3h8m7 4h8m-54 5h8m-5-1h8m-8 0h8m-8 0h8m26-1h8m5 2h8m-62 4h8m4-3h8m29 1h8m-49 5h8m-5 2h8m29-2h8m-52 12h8m-13 5h8m40-1h8m-1-2h8m-61 5h8m-3 1h8m-7 3h8m-8 0h8m-7-4h8m37 1h8m-16 5h8m-47 6h8m34 2h8m-8-2h8m-11 3h8m-50 5h8m-3 0h8m-13 8h8m-6 0h8m31-1h8m-1 0h8m-5-1h8m-57 8h8m33-3h8m-53 6h8m-8-1h8m-4 0h8m-7 2h8m-2-2h8m25 1h8m-3 0h8m-51 12h8m25 0h8m-6-3h8m-2 3h8m-5 0h8m-56 1h8m29 1h8m1 3h8m-7-3h8m-49 7h8m19-1h8m-6 4h8m3 1h8m-52 6h8m7-3h8m-2 2h8m-6 1h8m-5 1h8m-3-2h8m-2 1h8m-42 5h8m-5 0h8m8 0h8m0-2h8m5 1h8m-49 4h8m-2-1h8m-7 3h8m-5-3h8m-7 3h8m0 0h8m-2-1h8m-3-2h8m-8 4h8m-23 5h8m10-3h8m-7-1h8m-6 4h8m-42 5h8m-3-4h8m-1 0h8m-7 1h8m0 3h8m-5 0h8m-4-2h8m-7-1h8m-37 7h8m-4 0h8m-9 5h8m-5 0h8m4 0h8m-7-1h8m-3-2h8m-7 3h8m-7-3h8m-4 3h8m-25 2h8m3 2h8m-23 6h8m5-2h8m-14 12h8" stroke="#1f70b4" stroke-width="8" opacity="0.6"/>
<path transform="scale(.1)" d="M3159 1551h8m6 1h8m-23 1h8m-2 2h8m0-2h8m-8 1h8m6-1h8m-1 1h8m-8 3h8m-47 1h8m-6 2h8m30 1h8m-3 1h8m-64 5h8m50-2h8m-69 5h8m-9 5h8m57-2h8m-7 2h8m-5-2h8m-8 4h8m-6-3h8m-7 0h8m-10 6h8m-5 1h8m-87 5h8m74-1h8m-95 6h8m76-3h8m-92 9h8m-6-3h8m77 1h8m-3 5h8m-6 2h8m-6 15h8m-7 0h8m-108 4h8m93-1h8m-8 1h8m-12 4h8m-102 4h8m85-1h8m-5 0h8m-7 2h8m-6-1h8m-111 5h8m-7 3h8m90-2h8m-5 0h8m-110 7h8m-7-4h8m90 3h8m-106 3h8m-7 11h8m-3-1h8m85 7h8m-106 4h8m-6-2h8m-5 0h8m-11 9h8m91-3h8m-12 6h8m-4 2h8m-107 5h8m91-3h8m-8 3h8m-106 5h8m89-4h8m-6 2h8m-104 6h8m89 1h8m-108 3h8m-3-1h8m88 2h8m-14 3h8m-103 9h8m-6 1h8m-7 7h8m83 6h8m-4-4h8m-100 6h8m80-1h8m-4 0h8m-7 0h8m-13 5h8m-91 6h8m-8 4h8m-7 4h8m68 0h8m-77 5h8m61 0h8m-82 2h8m-6 0h8m58 3h8m-6-3h8m-8 3h8m-6-3h8m-5-1h8m-79 7h8m-6-2h8m46 3h8m-8 1h8m0 0h8m-67 2h8m0 1h8m17 7h8m8-4h8m-38 8h8m-5-1h8m-6-2h8m-4 1h8m-8-1h8m-1 1h8m-1 2h8m-38 231h8m-12 5h8m-8-1h8m-2-2h8m-6 2h8m-10 6h8m-7 0h8m-7-2h8m-10 6h8m-7 1h8m-4-4h8m-17 9h8m0-3h8m-5 0h8m-19 4h8m-6 1h8m3-1h8m-5 3h8m-35 4h8m-4 1h8m-5-1h8m-3 1h8m-5-2h8m-3-1h8m-28 6h8m-6 1h8m2-1h8m-3 1h8m-28 3h8m-3 0h8m-2 4h8m6-3h8m-5 0h8m-6 1h8m-5 2h8m-39 1h8m-1 7h8m3 2h8m-2-3h8m-8-1h8m-5 0h8m-6 3h8m-38 3h8m18 1h8m-31 5h8m-5 2h8m-7-3h8m-14 4h8m-3 3h8m-12 3h8m-4-1h8m-6 3h8m6-3h8m-7 1h8m-2 2h8m-33 3h8m0 0h8m-6 3h8m-5-2h8m-5 0h8m0-1h8m-5 0h8m-26 8h8m4-2h8m-5-2h8m-7 0h8m-18 6h8m-3 1h8m-8-1h8m-7 1h8m-6-1h8m-30 5h8m-4 2h8m-9 5h8m-4-3h8m-3 3h8m-8 6h8m-10 1h8" stroke="#2282bc" stroke-width="8" opacity="0.6"/>
<path transform="scale(.1)" d="M3167 1557h8m6 0h8m-32 3h8m-3 1h8m-1-2h8m1-1h8m-20 5h8m-1 0h8m-7 0h8m-28 7h8m29 0h8m-1 0h8m-8 7h8m-2 0h8m-71 4h8m54-2h8m-7 0h8m-7 0h8m-6 1h8m-78 6h8m-5-3h8m-7 1h8m57 2h8m-76 3h8m64 0h8m-86 5h8m-4 0h8m65 0h8m-5 2h8m-7-1h8m-89 3h8m-8 4h8m76-2h8m-91 3h8m73 1h8m-7 2h8m-92 5h8m-7-2h8m78 3h8m-12 2h8m-5 1h8m-6-1h8m-98 4h8m-5 1h8m77 1h8m-7-1h8m-98 9h8m-5 4h8m-7-1h8m-7 4h8m79 6h8m-99 2h8m-4 2h8m-5 8h8m72 1h8m-3 6h8m-92 3h8m75 3h8m-92 4h8m75-1h8m-92 7h8m-7-2h8m-7 3h8m75-2h8m-94 7h8m-7-3h8m74 0h8m-91 5h8m-7-1h8m75 0h8m-88 7h8m72-2h8m-8 2h8m-90 7h8m-8-2h8m-8-2h8m77 2h8m-91 5h8m-9 3h8m-8 5h8m-4 3h8m69 1h8m-85 2h8m-7 1h8m71 1h8m-91 2h8m73 4h8m-8-3h8m-87 7h8m-5-1h8m-8 0h8m66-1h8m-10 8h8m-78 3h8m59 0h8m-8 2h8m-73 1h8m53 3h8m-7-2h8m-8 0h8m-7 1h8m-3-2h8m-75 7h8m0 2h8m41-4h8m-7 0h8m-59 5h8m-2 4h8m31-2h8m-7-1h8m-7-1h8m-1 1h8m-63 5h8m3 1h8m22-1h8m-7 3h8m-5-1h8m-39 6h8m4-3h8m-7 2h8m-4 1h8m-1-2h8m-6 2h8m-5-3h8m-38 5h8m-2-1h8m-5 2h8m-7 0h8m-8-1h8m-4-1h8m3 0h8" stroke="#2793bb" stroke-width="8" opacity="0.6"/>
<path transform="scale(.1)" d="M3159 1567h8m-7 0h8m-3-2h8m-6 1h8m-3 1h8m-5-2h8m-2 1h8m-29 6h8m1-4h8m1 0h8m-1 2h8m-7 2h8m-41 2h8m-8-1h8m-3 0h8m-7 0h8m22 0h8m-7 4h8m-7-2h8m-6-2h8m-6 1h8m-59 8h8m1-4h8m33 1h8m-5 1h8m-7-1h8m-8 2h8m-7 3h8m-7 1h8m-68 7h8m-8-3h8m-12 11h8m-6-1h8m-6 1h8m-7-2h8m57 0h8m-3 6h8m-86 13h8m-5 0h8m66-4h8m-6 7h8m-87 6h8m72 3h8m-7 3h8m-85 2h8m-7 3h8m-12 1h8m-4 2h8m65 2h8m-84 3h8m-3 1h8m61-2h8m-7 7h8m-81 4h8m-6 2h8m-6-1h8m61 1h8m-77 5h8m-8-4h8m-6 3h8m-8 1h8m58 0h8m-8-1h8m-78 4h8m-6-1h8m65 3h8m-8-4h8m-81 5h8m-7 0h8m65 2h8m-8 2h8m-78 2h8m57 3h8m-6-3h8m-79 5h8m62 2h8m-3-1h8m-82 4h8m-7 0h8m-8-1h8m64 0h8m-7 1h8m-83 12h8m-4-1h8m59 2h8m-4-2h8m-82 4h8m62 3h8m-7-4h8m-7 3h8m-79 2h8m63 3h8m-79 6h8m-6 0h8m-6 8h8m-11 4h8m-7 3h8m-6 1h8m-4 4h8m-7-3h8m-12 5h8m-6 1h8m-6 1h8m43 0h8m-6-3h8m-5 4h8m-62 4h8m38-1h8m-3 1h8m-58 4h8m-5-1h8m-4 1h8m30-2h8m-44 6h8m-3 2h8m-6 0h8m-7 0h8m8 0h8m-22 5h8m-8 0h8m-1-3h8m2 2h8" stroke="#2ea2b3" stroke-width="8" opacity="0.6"/>
<path transform="scale(.1)" d="M3168 1571h8m-3 1h8m-5 0h8m-24 1h8m-8 1h8m-6 0h8m-4-1h8m-2 3h8m-5 0h8m-4 1h8m-8-3h8m-32 7h8m-3-2h8m-7-1h8m22 0h8m-7 3h8m-52 4h8m-3-2h8m33 2h8m-57 8h8m-7 4h8m45-2h8m-8-2h8m-66 9h8m-7 0h8m-8 0h8m-9 1h8m-7 4h8m51-4h8m-5 2h8m-7 10h8m-7-2h8m-75 6h8m57 1h8m-8 0h8m-3 1h8m-79 2h8m-6 0h8m57 0h8m-6 2h8m-76 5h8m-7 2h8m-6-3h8m54 1h8m-70 4h8m-7 0h8m-8 2h8m55 1h8m-70 1h8m-7 3h8m51 0h8m-6-3h8m-11 6h8m-8 6h8m-3-2h8m-73 9h8m-6-2h8m-7 0h8m-9 7h8m-5-1h8m-10 4h8m-6 2h8m-6 0h8m50-2h8m-70 5h8m-9 5h8m-3 2h8m50-4h8m-9 5h8m-7 7h8m-69 5h8m-6 1h8m-8-1h8m49-2h8m-7 2h8m-4 2h8m-71 1h8m-7 1h8m50 1h8m-8 1h8m-4 0h8m-73 4h8m-4 2h8m-11 3h8m-6 4h8m54 0h8m-71 8h8m-6 2h8m-8 2h8m-8 1h8m50-4h8m-12 5h8m-4 2h8m-59 3h8m-7 1h8m-7 2h8m-8 0h8m34-3h8m-6 3h8m-8-2h8m-49 5h8m24 3h8m-5 0h8m-5-1h8m-45 3h8m-8 2h8m17 0h8m0-3h8m-42 5h8m-3 1h8m-7 1h8m-7 2h8m-4-2h8m-8-2h8m-7 4h8m-1-1h8m-7 1h8m0-1h8m-25 3h8m-1 1h8m-7-2h8m-2 0h8" stroke="#40af92" stroke-width="8" opacity="0.6"/>
<path transform="scale(.1)" d="M3161 1581h8m-6-1h8m-7 0h8m-8 0h8m3-2h8m-2 3h8m-2 1h8m-14 2h8m-6 2h8m-7-3h8m-7 4h8m-4 0h8m-8-1h8m-48 6h8m0-3h8m21-1h8m-2 1h8m-6 3h8m-54 2h8m-8 3h8m-7 4h8m39-3h8m-6 7h8m-8 0h8m-7 1h8m-7-1h8m-8-1h8m-63 7h8m-11 3h8m-5 2h8m-8 1h8m46-1h8m-6 1h8m-7 2h8m-67 5h8m-7 0h8m-9 5h8m-6 3h8m46-3h8m-7-1h8m-7 1h8m-7-1h8m-65 5h8m-6 0h8m45 3h8m-8-3h8m-6 3h8m-8-2h8m-62 4h8m42 1h8m-58 7h8m-8-3h8m43 1h8m-6 2h8m-60 3h8m40 1h8m-8 0h8m-54 7h8m-7-3h8m-7 2h8m35-2h8m-8-1h8m-49 7h8m33 1h8m-7-2h8m-4-1h8m-52 12h8m31-2h8m-7 3h8m-6-2h8m-5 0h8m-7 2h8m-8 1h8m-58 3h8m36-1h8m-7 2h8m-3-1h8m-59 6h8m-5-1h8m37-1h8m-57 4h8m42 1h8m-7 1h8m-58 7h8m42-2h8m-57 7h8m-6-2h8m-8 0h8m-10 7h8m41-4h8m-6 5h8m-55 5h8m38 4h8m-54 3h8m35 2h8m-8-2h8m-7 0h8m-5 0h8m-55 6h8m-8-3h8m-5 1h8m30 2h8m-4-3h8m-49 5h8m28 2h8m-7 2h8m-7 0h8m-48 2h8m-7-1h8m-4 3h8m20-2h8m-33 6h8m-5 1h8m-4-1h8m-7 1h8m-4 0h8m-1-2h8m-7 2h8m-7 0h8m-4-2h8m-7 3h8m-27 2h8m-4 2h8m-8-2h8m-8 2h8m-3-1h8m-8 0h8" stroke="#5ebb5a" stroke-width="8" opacity="0.6"/>
<path transform="scale(.1)" d="M3172 1584h8m-6-1h8m-21 8h8m-8-1h8m-7-2h8m-5 3h8m-6-2h8m1 1h8m-7-2h8m-6 3h8m-7-3h8m-3 6h8m-4 2h8m-44 2h8m-3 0h8m26 0h8m-8 2h8m-47 6h8m32 1h8m-7-1h8m-49 2h8m-12 9h8m-6-2h8m34 2h8m-5-4h8m-10 6h8m-4 3h8m-8-3h8m-58 8h8m-7 0h8m37-2h8m-6 0h8m-54 5h8m36 1h8m-8-2h8m-4-1h8m-55 7h8m-6-2h8m31 4h8m-5-4h8m-49 7h8m-9 3h8m-6 2h8m-5 2h8m25-1h8m-8 1h8m-42 5h8m24-2h8m-6-2h8m-7 0h8m-7 0h8m-6 0h8m-49 5h8m-5 4h8m-8 0h8m-7 0h8m-7-1h8m21-1h8m-4 1h8m-6 0h8m-41 3h8m18 0h8m-7 1h8m-1 0h8m-8-1h8m-44 8h8m-8-1h8m-3-2h8m-7 1h8m18-1h8m-6-1h8m-7 3h8m-45 5h8m-7 1h8m-6-3h8m22 3h8m-8-3h8m-6 0h8m-6 3h8m-38 5h8m-8-4h8m19 1h8m-7 2h8m-5 0h8m-42 4h8m-4 0h8m-8-2h8m21 4h8m-41 3h8m-6 1h8m-6-2h8m-14 6h8m-5 1h8m-8-2h8m-5 0h8m20-1h8m-40 8h8m27-2h8m-46 8h8m-7-1h8m27-1h8m-5-1h8m-8 1h8m-6 2h8m-46 5h8m25-4h8m-8 1h8m-7-1h8m-8 2h8m-4 2h8m-45 4h8m23 1h8m-7-2h8m-42 7h8m-7-2h8m-7 1h8m-7-3h8m-7 4h8m21-4h8m-6 0h8m-39 9h8m-4-2h8m-7 1h8m-7 0h8m18-1h8m-37 4h8m-8-1h8m-5 3h8m-8-1h8m-6 0h8m-6-1h8m-1 3h8m-7-1h8m2 0h8m-6-1h8m-32 6h8m-6 1h8m-2-3h8m-7 1h8m-8 1h8m-5-1h8m-6-1h8m-5 3h8m-22 1h8" stroke="#94ca43" stroke-width="8" opacity="0.6"/>
<path transform="scale(.1)" d="M3171 1592h8m-6-1h8m-6 1h8m-6 0h8m-6 0h8m-28 5h8m-4-3h8m-8-1h8m-6 1h8m-8 3h8m-1-1h8m-8-2h8m0 1h8m-5 2h8m-8-2h8m-32 7h8m-2-1h8m0-3h8m-4 1h8m-7 0h8m-8 0h8m-3 2h8m-7-3h8m-35 5h8m-8 0h8m-7 1h8m-6 2h8m21-2h8m-44 5h8m-6 0h8m24 3h8m-42 4h8m27 1h8m-7-2h8m-6-1h8m-44 7h8m-7 0h8m28-3h8m-8 2h8m-47 3h8m27 2h8m-43 4h8m-5-1h8m-7 6h8m-8 2h8m-4 0h8m-8 1h8m-7-1h8m15-2h8m-33 4h8m-6 3h8m16-2h8m-6-1h8m-36 7h8m-6-1h8m-4 2h8m-8-1h8m-4 2h8m4-4h8m-6 1h8m-29 8h8m-6 0h8m-5 0h8m-6-3h8m-7 3h8m-7-1h8m-3-2h8m-3 3h8m-7-2h8m-5 1h8m-28 3h8m-7 2h8m-5 1h8m-2-3h8m-4 3h8m-7 0h8m-7-4h8m-25 6h8m-8 3h8m-4-2h8m-6-1h8m-7 0h8m-7 3h8m-6 0h8m-5-2h8m-17 3h8m-3 3h8m0 1h8m-5-1h8m-23 5h8m-7-3h8m-6 2h8m-3 2h8m-5-4h8m-22 7h8m-3-2h8m-7 2h8m-8-2h8m-7 1h8m-4-1h8m-5 0h8m-5 0h8m-25 8h8m-3 0h8m-7-2h8m-6 3h8m-5-3h8m-6-1h8m-8 0h8m-4 1h8m-5 3h8m-26 1h8m-7 2h8m-8 0h8m-4 0h8m-5-1h8m-2 2h8m-5-2h8m-7 2h8m-28 4h8m-7-1h8m-6 0h8m-4 1h8m-8 2h8m-3-3h8m-5 0h8m-6 3h8m-7-2h8m-7 2h8m-7 0h8m-4-4h8m-33 9h8m-8-4h8m4 2h8m-4-2h8m-4 3h8m-26 4h8m-6 0h8m-7 1h8m-6 1h8m2 0h8m-7-4h8m-6 3h8m-5 1h8m-8-4h8m-7 0h8m-6 0h8m-31 5h8m-4 2h8m-6 2h8m-7-2h8m1-1h8m-8 0h8m-7 1h8m-28 6h8m2-2h8m-6 2h8m-6 0h8m-3 1h8m-7-4h8m-7 0h8m-28 6h8m-7-1h8m-7 4h8m-1-3h8m-1 0h8m-7-1h8m-6 0h8m-6 3h8m-8 0h8m-8-3h8m-20 5h8m-8 3h8m-6 0h8m1 0h8m-7-3h8m-7 0h8" stroke="#ced934" stroke-width="8" opacity="0.6"/>
<path transform="scale(.1)" d="M3169 1599h8m-5 1h8m-8 2h8m-5 0h8m-20 4h8m-8-1h8m-6 1h8m-6 1h8m-7-4h8m2 1h8m-4 0h8m-7 3h8m-27 1h8m-4 0h8m-5 4h8m4 0h8m-27 5h8m-6-4h8m-7 4h8m-8-4h8m-8 2h8m-6-1h8m-4-1h8m-3 3h8m-7-1h8m-5 2h8m-7-2h8m-8 0h8m-26 6h8m-6 0h8m-8-3h8m-7 0h8m2 0h8m-5 4h8m-8-4h8m-6 4h8m-6 0h8m-29 4h8m-6-1h8m-7-2h8m-8 1h8m2 2h8m-7-2h8m-22 4h8m-6 4h8m-7-4h8m-7 2h8m-4 0h8m-4-1h8m-7 2h8m-8-1h8m-8 1h8m-7-1h8m-8 1h8m-7-1h8m-8-1h8m-5 3h8m-22 1h8m-7 1h8m-4 2h8m-6-3h8m-6 0h8m-2 0h8m-25 5h8m-8 1h8m-5 1h8m-8-2h8m-5 4h8m-8-4h8m-6 0h8m-6 3h8m-6-2h8m-5 0h8m-19 5h8m-4 3h8m-3-4h8" stroke="#e6b82c" stroke-width="8" opacity="0.6"/>
<path transform="scale(.1)" d="M3169 1617h8m-7 0h8m-8-2h8m-6-2h8m-6 1h8m-7 2h8m-8 1h8m-8 4h8m-8-1h8m-12 5h8" stroke="#f38d28" stroke-width="8" opacity="0.6"/>
</g>
<rect x="308.60" y="145.40" width="48.70" height="38.80" fill="none" stroke="#333" stroke-width="0.9"/>
<rect x="308.60" y="187.90" width="48.70" height="38.10" fill="none" stroke="#333" stroke-width="0.9"/>
<text x="312.50" y="151.40" font-size="5.8" text-anchor="start" fill="#231f20" stroke="#231f20" stroke-width="0.17" textLength="39.70" lengthAdjust="spacingAndGlyphs" >Macrophages</text>
<line x1="433.40" y1="149.70" x2="400.90" y2="149.70" stroke="#231f20" stroke-width="1.1" />
<path d="M395.80 149.70 L402.40 146.40 L400.82 149.70 L402.40 153.00 Z" fill="#231f20"/>
<line x1="308.60" y1="224.30" x2="277.30" y2="224.30" stroke="#231f20" stroke-width="1.1" />
<path d="M272.20 224.30 L278.80 221.00 L277.22 224.30 L278.80 227.60 Z" fill="#231f20"/>
<path d="M307.90 141.50 H392.60 V227.40" stroke="#b8b8b8" stroke-width="0.7" fill="none"/>
<path d="M307.90 141.50 V227.40 H392.60" stroke="#555" stroke-width="0.5" fill="none"/>
<path d="M303.50 224.03H307.90M303.50 222.70H307.90M303.50 217.36H307.90M303.50 212.02H307.90M303.50 210.69H307.90M303.50 209.35H307.90M303.50 202.68H307.90M303.50 201.34H307.90M303.50 200.01H307.90M303.50 198.68H307.90M303.50 197.34H307.90M303.50 196.01H307.90M303.50 194.67H307.90M303.50 189.33H307.90M303.50 188.00H307.90M303.50 181.40H307.90M303.50 164.90H307.90M303.50 148.40H307.90" stroke="#231f20" stroke-width="1.5"/>
<path d="M305.60 226.70H307.90M305.60 225.37H307.90M305.60 221.36H307.90M305.60 220.03H307.90M305.60 218.69H307.90M305.60 216.02H307.90M305.60 214.69H307.90M305.60 213.36H307.90M305.60 208.02H307.90M305.60 206.68H307.90M305.60 205.35H307.90M305.60 204.01H307.90M305.60 193.34H307.90M305.60 192.00H307.90M305.60 190.67H307.90M305.60 186.37H307.90M305.60 185.06H307.90M305.60 183.96H307.90M305.60 183.00H307.90M305.60 182.15H307.90M305.60 176.43H307.90M305.60 173.53H307.90M305.60 171.47H307.90M305.60 169.87H307.90M305.60 168.56H307.90M305.60 167.46H307.90M305.60 166.50H307.90M305.60 165.65H307.90M305.60 159.93H307.90M305.60 157.03H307.90M305.60 154.97H307.90M305.60 153.37H307.90M305.60 152.06H307.90M305.60 150.96H307.90M305.60 150.00H307.90M305.60 149.15H307.90M305.60 143.43H307.90" stroke="#231f20" stroke-width="0.7"/>
<path d="M308.60 227.40V231.80M312.61 227.40V231.80M313.95 227.40V231.80M315.29 227.40V231.80M319.30 227.40V231.80M320.64 227.40V231.80M323.31 227.40V231.80M325.99 227.40V231.80M327.32 227.40V231.80M330.00 227.40V231.80M346.50 227.40V231.80M364.00 227.40V231.80M381.50 227.40V231.80" stroke="#231f20" stroke-width="1.5"/>
<path d="M309.94 227.40V229.70M311.27 227.40V229.70M316.62 227.40V229.70M317.96 227.40V229.70M321.97 227.40V229.70M324.65 227.40V229.70M328.66 227.40V229.70M334.27 227.40V229.70M337.35 227.40V229.70M339.54 227.40V229.70M341.23 227.40V229.70M342.62 227.40V229.70M343.79 227.40V229.70M344.80 227.40V229.70M345.70 227.40V229.70M351.77 227.40V229.70M354.85 227.40V229.70M357.04 227.40V229.70M358.73 227.40V229.70M360.12 227.40V229.70M361.29 227.40V229.70M362.30 227.40V229.70M363.20 227.40V229.70M369.27 227.40V229.70M372.35 227.40V229.70M374.54 227.40V229.70M376.23 227.40V229.70M377.62 227.40V229.70M378.79 227.40V229.70M379.80 227.40V229.70M380.70 227.40V229.70M386.77 227.40V229.70M389.85 227.40V229.70M392.04 227.40V229.70" stroke="#231f20" stroke-width="0.7"/>
<text x="287.95" y="152.30" font-size="5.3" text-anchor="start" fill="#231f20" stroke="#231f20" stroke-width="0.28" >10</text>
<text x="295.05" y="148.40" font-size="4.77" text-anchor="start" fill="#231f20" stroke="#231f20" stroke-width="0.28" >5</text>
<text x="287.95" y="167.90" font-size="5.3" text-anchor="start" fill="#231f20" stroke="#231f20" stroke-width="0.28" >10</text>
<text x="295.05" y="164.00" font-size="4.77" text-anchor="start" fill="#231f20" stroke="#231f20" stroke-width="0.28" >4</text>
<text x="287.95" y="183.60" font-size="5.3" text-anchor="start" fill="#231f20" stroke="#231f20" stroke-width="0.28" >10</text>
<text x="295.05" y="179.70" font-size="4.77" text-anchor="start" fill="#231f20" stroke="#231f20" stroke-width="0.28" >3</text>
<text x="292.30" y="202.40" font-size="5.3" text-anchor="middle" fill="#231f20" stroke="#231f20" stroke-width="0.16" >0</text>
<text x="289.20" y="223.70" font-size="5.3" text-anchor="middle" fill="#231f20" stroke="#231f20" stroke-width="0.16" >-10</text>
<text x="295.30" y="220.20" font-size="4.8" text-anchor="start" fill="#231f20" stroke="#231f20" stroke-width="0.14" >3</text>
<text x="319.00" y="242.60" font-size="5.2" text-anchor="middle" fill="#231f20" stroke="#231f20" stroke-width="0.16" >0</text>
<text x="347.35" y="242.60" font-size="5.3" text-anchor="start" fill="#231f20" stroke="#231f20" stroke-width="0.28" >10</text>
<text x="354.45" y="238.70" font-size="4.77" text-anchor="start" fill="#231f20" stroke="#231f20" stroke-width="0.28" >3</text>
<text x="381.05" y="242.60" font-size="5.3" text-anchor="start" fill="#231f20" stroke="#231f20" stroke-width="0.28" >10</text>
<text x="388.15" y="238.70" font-size="4.77" text-anchor="start" fill="#231f20" stroke="#231f20" stroke-width="0.28" >5</text>
<text x="351.50" y="251.40" font-size="6.5" text-anchor="middle" fill="#231f20" stroke="#231f20" stroke-width="0.20" textLength="58.00" lengthAdjust="spacingAndGlyphs" >CD16 APC /Cyanine7</text>
<text x="283.40" y="194.00" font-size="6.5" text-anchor="middle" fill="#231f20" stroke="#231f20" stroke-width="0.20" textLength="53.00" lengthAdjust="spacingAndGlyphs" transform="rotate(-90 283.40 194.00)" >CD14  PE-Texas Red</text>
<clipPath id="c9"><rect x="427.50" y="145.70" width="85.50" height="84.90"/></clipPath>
<g clip-path="url(#c9)">
<ellipse cx="468.00" cy="211.00" rx="19.00" ry="11.00" fill="#3a9ccc" filter="url(#b4)" opacity="0.75"/>
<ellipse cx="469.50" cy="210.80" rx="13.00" ry="7.50" fill="#6cbc58" filter="url(#b3)" opacity="0.9"/>
<ellipse cx="469.80" cy="210.60" rx="8.00" ry="5.00" fill="#c8d838" filter="url(#b2_2)" opacity="0.9"/>
<ellipse cx="470.00" cy="210.50" rx="4.50" ry="3.00" fill="#f0a030" filter="url(#b1_4)" opacity="0.9"/>
<path transform="scale(.1)" d="M4458 1458h8m62 1h8m-114 19h8m89 9h8m24-2h8m62 15h8m310-1h8m-481 6h8m-2 5h8m-65 10h8m74-2h8m-112 6h8m82 7h8m22 15h8m118 10h8m312-2h8m24 0h8m-582 8h8m-1-3h8m1 2h8m124-1h8m360 1h8m-79 15h8m-463 2h8m214 4h8m253 4h8m123 1h8m-638 4h8m383 1h8m161-2h8m-605 12h8m5 1h8m-3 2h8m471 5h8m-247 10h8m268 1h8m-265 7h8m-14 6h8m329 8h8m8 9h8m25-2h8m-728 8h8m49-2h8m599 0h8m-292 5h8m147-1h8m-2 1h8m-141 3h8m59 13h8m-430 2h8m-13 9h8m-36 6h8m327 3h8m8 3h8m5 3h8m103-4h8m185 2h8m-659 9h8m381 0h8m-75 9h8m3 8h8m-1-1h8m311 7h8m-264 3h8m-447 6h8m-1 5h8m365-2h8m53 0h8m-59 12h8m267 0h8m-295 2h8m282 3h8m7 7h8m-294 6h8m290 3h8m-663 10h8m350-1h8m39 15h8m208-1h8m5-1h8m-16 10h8m-639 12h8m353 5h8m-364 14h8m-49 4h8m5-1h8m35 2h8m325 2h8m265 0h8m44 0h8m-716 4h8m42 3h8m677-1h8m-349 6h8m-378 5h8m635 8h8m-9 8h8m-613 11h8m-13 6h8m572-1h8m-577 2h8m-23 7h8m1 8h8m583 7h8m-598 7h8m643 2h8m26 8h8m-721 1h8m635 11h8m-635 13h8m604-1h8m1-2h8m-45 7h8m-658 9h8m-1 7h8m37 4h8m-51 10h8m16-3h8m665 12h8m-49 13h8m13 1h8m0 2h8m-700 2h8m673 10h8m129 13h8m-122 4h8m28 9h8m-45 4h8m-7 18h8m64-2h8m-60 8h8m-742 3h8m706 4h8m32 2h8m5-2h8m-5 6h8m-56 5h8m-12 9h8m5 5h8m72 1h8m-80 4h8m-33 10h8m18 11h8m10 29h8m11 1h8m-56 10h8m-50 3h8m-7 0h8m3 2h8m-695 12h8m709-1h8m-61 6h8m21 16h8m12 9h8m-92 6h8m45 2h8m-7 3h8m69 8h8m-87 10h8m-73 3h8m-621 7h8m542 1h8m-1-3h8m40 6h8m-570 4h8m501 5h8m27 4h8m-526 6h8m440 3h8m34-4h8m-466 8h8m531 0h8m-379 3h8m170 1h8" stroke="#194d9a" stroke-width="8" opacity="0.8"/>
<path transform="scale(.1)" d="M4455 1555h8m11-2h8m18 2h8m25 6h8m-68 3h8m9 1h8m19 2h8m-106 5h8m-10 5h8m46 0h8m30-3h8m1 3h8m8-1h8m-77 9h8m-56 7h8m29-2h8m4 0h8m3-2h8m47 4h8m-104 3h8m71-1h8m-68 5h8m-28 5h8m-7 3h8m75-4h8m24 1h8m-142 5h8m-42 8h8m8-1h8m30 0h8m102-3h8m-3 3h8m25 0h8m-6 0h8m5 1h8m-187 2h8m165 3h8m-214 5h8m160-1h8m-142 4h8m-51 4h8m200 0h8m-223 8h8m205 0h8m24-3h8m-231 8h8m176-2h8m23-2h8m-28 7h8m271 0h8m0-1h8m-499 5h8m227 3h8m264-4h8m-511 8h8m448-2h8m5 3h8m32 0h8m-3-4h8m-8 2h8m-312 3h8m253 4h8m56-4h8m-573 8h8m-7 0h8m20-3h8m487 0h8m23 1h8m16 0h8m-2 2h8m-590 5h8m488-3h8m9 3h8m-2-1h8m-4 2h8m2-1h8m-38 3h8m16 2h8m-542 6h8m22 0h8m226 0h8m260-4h8m-1 2h8m-523 12h8m-5-3h8m-4-1h8m435 0h8m-6 4h8m-8-4h8m8 2h8m3-1h8m52 7h8m20-3h8m-594 9h8m443-3h8m2 1h8m90 0h8m-298 6h8m178-2h8m16 1h8m-19 3h8m82 1h8m-3 0h8m-558 8h8m250 3h8m172 2h8m126-4h8m-167 7h8m14-2h8m-7 4h8m0-4h8m-481 5h8m256 0h8m310 7h8m-7-1h8m-560 7h8m561 1h8m-339 2h8m12 3h8m154-1h8m-5 1h8m-452 5h8m421-3h8m5 3h8m121 0h8m-574 5h8m-8-3h8m7 2h8m241-1h8m-270 3h8m0 0h8m251 1h8m11 0h8m-286 7h8m235 1h8m-259 3h8m258 2h8m122-1h8m170 0h8m1 0h8m-610 3h8m7 2h8m8-3h8m255 3h8m-295 2h8m401 3h8m-2-1h8m153 1h8m-563 3h8m552 0h8m-582 7h8m248-3h8m15 1h8m121 3h8m-4-2h8m-6 0h8m155 1h8m-329 5h8m-3-2h8m5 0h8m-1 1h8m289 2h8m-308 4h8m114-2h8m168 4h8m-289 5h8m102 4h8m-421 3h8m25-1h8m547-1h8m-334 6h8m112 2h8m201 1h8m-584 3h8m2 0h8m228 2h8m133 0h8m160-3h8m-545 5h8m239 3h8m100-1h8m-3-1h8m-376 5h8m229-1h8m-236 7h8m265-2h8m86 3h8m176-3h8m-322 5h8m-242 17h8m198 1h8m24 0h8m-243 4h8m195-2h8m-4 1h8m9-1h8m111-1h8m1 0h8m166 1h8m-17 4h8m-224 5h8m-100 8h8m55-2h8m32 3h8m-321 5h8m-7-1h8m236-3h8m15 3h8m31 0h8m195 1h8m-522 1h8m7 3h8m222 1h8m9-2h8m-288 3h8m-1 0h8m34 1h8m231 1h8m-2 2h8m10-2h8m24 0h8m-304 4h8m289 0h8m6 1h8m-309 6h8m139 0h8m20-2h8m117 2h8m-6-1h8m-331 6h8m261-1h8m31-2h8m-301 8h8m143 0h8m108-1h8m14-1h8m-284 7h8m-32 5h8m151-2h8m90 0h8m19 0h8m185 0h8m-458 5h8m188 1h8m29-1h8m36 0h8m174-1h8m-474 6h8m1 1h8m231 2h8m-278 2h8m473 2h8m0-3h8m-499 6h8m26 1h8m154-1h8m2 2h8m-242 2h8m2 4h8m36-4h8m-79 6h8m-6-1h8m25 0h8m-33 8h8m2 6h8m34-2h8m473-1h8m-560 5h8m13 1h8m4-1h8m-8-1h8m-2 3h8m11 1h8m494-4h8m-573 8h8m55-3h8m-41 5h8m497 2h8m-2 0h8m-7-2h8m-8 7h8m-525 7h8m539-2h8m-590 6h8m534 0h8m8-2h8m-541 4h8m525 4h8m-587 7h8m15 2h8m565-3h8m-30 7h8m8 0h8m-568 3h8m-3 8h8m547-2h8m-590 4h8m617 2h8m-638 11h8m18 0h8m-14 2h8m-17 14h8m603-3h8m21 3h8m-661 3h8m2 4h8m-7 0h8m597 2h8m-5-3h8m-12 7h8m24 6h8m-686 3h8m4 0h8m641 3h8m28-2h8m-683 7h8m663-3h8m-663 9h8m-41 9h8m650 0h8m-654 5h8m634-1h8m-642 4h8m633 4h8m9 0h8m-31 6h8m1-1h8m-640 5h8m607-1h8m-660 8h8m-2-3h8m-1 3h8m9 0h8m631-2h8m-642 11h8m601 1h8m20-3h8m12 2h8m-669 5h8m628 12h8m8 5h8m-4-3h8m-36 10h8m-8 6h8m-660 7h8m17-3h8m572 6h8m-598 9h8m599 0h8m28 1h8m-645 3h8m22 4h8m529-4h8m34 3h8m-605 4h8m-11 4h8m1 2h8m539 1h8m-4-1h8m11-3h8m-1 0h8m-577 5h8m-2 15h8m472 2h8m10-2h8m3 3h8m8-3h8m32 0h8m-87 6h8m39 3h8m-511 5h8m450-1h8m-47 2h8m30 1h8m-2 3h8m31-3h8m-5 2h8m-548 5h8m11 0h8m5-1h8m-5-2h8m157 2h8m198 1h8m19-1h8m61 2h8m-508 2h8m8 2h8m5-1h8m146 1h8m-7-2h8m25-1h8m3 3h8m31 0h8m91 1h8m34-2h8m8 2h8m27-2h8m-464 4h8m166-1h8m14 4h8m25-3h8m56 3h8m79-4h8m-7 0h8m27 2h8m-3-2h8m-395 7h8m-7-1h8m13 2h8m7 1h8m76-4h8m8 0h8m44 1h8m107 1h8m-5 0h8m41-1h8m69 0h8m6 1h8m-423 3h8m2 2h8m1-1h8m8 1h8m79-2h8m2 2h8m26-2h8m112 2h8m117-1h8m-461 6h8m52 1h8m60 1h8m116 0h8m88-2h8m58-1h8m-191 4h8m29 4h8m87-1h8m49-3h8m-376 6h8m29 0h8m179 0h8m13-1h8m72 4h8m-353 4h8m118-3h8m9 4h8m73-2h8m-8-2h8m-213 5h8m116 0h8m3 3h8m125-3h8" stroke="#1b57a3" stroke-width="8" opacity="0.8"/>
<path transform="scale(.1)" d="M4462 1610h8m4-1h8m46 2h8m-93 6h8m58-3h8m-66 6h8m8-1h8m20 2h8m5-1h8m32 1h8m-7 1h8m-121 5h8m-5-3h8m3 1h8m29 2h8m-37 3h8m6-2h8m7 0h8m-6 0h8m32 1h8m18 3h8m-134 1h8m-6 0h8m15 2h8m0-1h8m25-1h8m15 3h8m-111 6h8m11-2h8m1 2h8m-8 0h8m13-1h8m48-1h8m0 0h8m22-2h8m1 2h8m-126 7h8m1-2h8m65 0h8m-4-2h8m-8 0h8m-7 3h8m-107 5h8m-3 0h8m4-3h8m89 2h8m-6 2h8m13-3h8m-167 8h8m143-3h8m-167 8h8m4-2h8m125-1h8m4 3h8m-5 0h8m-167 2h8m0 3h8m-16 3h8m8 2h8m116-4h8m10 1h8m-3 0h8m-150 7h8m119 1h8m-140 2h8m125 2h8m-174 6h8m17 0h8m-8 0h8m-20 2h8m157 1h8m304-1h8m3 2h8m-335 6h8m10-4h8m-196 5h8m-4 1h8m485 1h8m-508 5h8m-4 2h8m-3 0h8m173-1h8m305 0h8m-12 2h8m-315 9h8m252-2h8m-466 5h8m442-2h8m51 4h8m-4-3h8m-334 4h8m10 3h8m255-3h8m0 0h8m40 1h8m-5 2h8m-329 2h8m3 1h8m245 1h8m16 2h8m-498 5h8m430-3h8m19 1h8m-6 2h8m34-1h8m-7 1h8m-513 5h8m178-1h8m-4-3h8m224 2h8m64-1h8m-5 3h8m-1 0h8m-501 1h8m410 3h8m-4-2h8m-450 7h8m185 0h8m11-1h8m-3 0h8m-4 0h8m287-2h8m-7 1h8m7-1h8m-549 5h8m9 0h8m429 4h8m56-4h8m-3 0h8m9 3h8m-107 2h8m-6 3h8m92-3h8m-547 8h8m9 0h8m176-1h8m-210 5h8m423 0h8m-4 1h8m-434 5h8m-7 0h8m2 1h8m199-2h8m186 2h8m3-1h8m-421 6h8m177-3h8m0 0h8m-1 3h8m-8 0h8m-5-2h8m-228 5h8m-1 0h8m184 0h8m217-1h8m82 0h8m-498 7h8m162-1h8m-6 0h8m315-2h8m-518 8h8m-2 1h8m171-1h8m203-2h8m-4 3h8m-12 2h8m6 0h8m97 2h8m-507 5h8m180-3h8m175 3h8m10 0h8m93-1h8m-7-1h8m-2 3h8m-507 3h8m-7-2h8m165 2h8m16 0h8m183 0h8m101-2h8m-505 9h8m364 0h8m108-4h8m7 4h8m-517 1h8m180 4h8m-2-3h8m-2 2h8m293-1h8m1 1h8m-5 0h8m-525 4h8m170-2h8m-8 4h8m325-1h8m-7 1h8m-506 3h8m152-2h8m-4 4h8m-5-4h8m0 4h8m301 0h8m1-3h8m1 0h8m-153 4h8m-4 0h8m133 0h8m-499 8h8m144 1h8m-168 2h8m0 1h8m-3 0h8m132 0h8m5 2h8m-172 4h8m155-2h8m-7 1h8m8 0h8m164 1h8m-3-2h8m107 1h8m-345 7h8m-5-4h8m0 0h8m7 2h8m3 2h8m159-3h8m2-1h8m117 4h8m-461 4h8m147-3h8m158 3h8m3-3h8m108 1h8m-6-1h8m2 1h8m-492 7h8m-2-1h8m119-1h8m-6 1h8m-2 1h8m0-1h8m201-1h8m110 1h8m-476 7h8m7-4h8m4 4h8m94-1h8m9-1h8m-5 0h8m-4 0h8m301 2h8m7-3h8m-491 8h8m10-1h8m104 1h8m332-2h8m5-2h8m-334 9h8m3-3h8m289 0h8m0 2h8m1-1h8m-490 6h8m34-2h8m3 3h8m39 0h8m15-1h8m-5 1h8m-5-2h8m6 2h8m-3-3h8m10 0h8m302 0h8m-474 5h8m3 3h8m24 0h8m1-4h8m-5 2h8m20-1h8m-6 3h8m12-2h8m-5-1h8m201 2h8m12-2h8m115 3h8m-2 0h8m-5-4h8m-473 5h8m36 0h8m95 2h8m289 0h8m-443 7h8m-3-3h8m10 3h8m2-4h8m57 3h8m-7 0h8m-8-2h8m-5 1h8m329 2h8m-4 0h8m-465 2h8m41 3h8m20-1h8m-5-3h8m-7 4h8m37-1h8m-113 6h8m-1-3h8m44 2h8m-1-3h8m39 0h8m173 0h8m-2 3h8m-7 0h8m-7-1h8m-8-1h8m-2-1h8m-313 6h8m7 0h8m52-1h8m220 2h8m-294 7h8m37-4h8m8 1h8m1 2h8m13 1h8m160-2h8m12-2h8m-4 2h8m126-2h8m-449 7h8m272-1h8m19 2h8m108-1h8m-410 3h8m18 4h8m6-3h8m237 0h8m110 1h8m-3-1h8m-411 8h8m15-2h8m-4-1h8m-5-1h8m-2 4h8m-2-3h8m38 2h8m176-2h8m-272 7h8m28-2h8m4 0h8m8 2h8m174 1h8m-263 5h8m44-2h8m2-1h8m-2-1h8m184 4h8m5-4h8m112 2h8m-2 1h8m-419 3h8m22-1h8m8 3h8m-8 1h8m-4-1h8m-6 0h8m1 0h8m171 0h8m-4-3h8m-250 6h8m17-1h8m205 0h8m4 2h8m-197 6h8m-3-2h8m-8 2h8m59 1h8m-2-4h8m122 2h8m124-2h8m-5 3h8m-419 2h8m-5 3h8m84 0h8m35 1h8m11-1h8m40-1h8m4 2h8m6-1h8m2-3h8m10 3h8m130-3h8m-304 7h8m-7 0h8m27 0h8m19 1h8m17 0h8m9 1h8m-4-1h8m12-1h8m-4 0h8m16-1h8m-8 2h8m-289 3h8m-2 0h8m49 3h8m-2-4h8m29 1h8m36 0h8m47-1h8m14 4h8m2 0h8m174-1h8m-3-3h8m12 2h8m-432 3h8m1 4h8m-6-3h8m-2 0h8m19 3h8m18-3h8m-3 3h8m14-3h8m26 0h8m7 2h8m4-3h8m44 1h8m-245 8h8m-1-3h8m1 3h8m60-3h8m-2 0h8m7 3h8m14-3h8m-4 3h8m20-3h8m4 0h8m-194 8h8m17-2h8m-3 1h8m0-2h8m-4 3h8m3-3h8m38 3h8m42-1h8m5 1h8m269 0h8m-4-1h8m-2-1h8m0-1h8m-446 8h8m11-1h8m17-3h8m4 1h8m72 2h8m-93 6h8m-4-1h8m58-2h8m-7 0h8m304 0h8m-445 4h8m-3 3h8m8 0h8m-5 0h8m-5-3h8m396 4h8m10 0h8m-6 0h8m-498 2h8m-1 1h8m19-2h8m7 4h8m416 0h8m1-2h8m-479 3h8m-4 2h8m-3 0h8m467 6h8m-7 0h8m-25 4h8m-6 2h8m8 0h8m-499 3h8m-4 1h8m473-2h8m0-1h8m-533 14h8m512-3h8m-2 0h8m-4 2h8m-6 1h8m-529 5h8m-18 2h8m515 4h8m9 2h8m-559 12h8m558-3h8m-586 5h8m578 1h8m-597 7h8m-8-1h8m11-2h8m0 3h8m544-2h8m-564 6h8m547 0h8m-5 5h8m-18 5h8m-572 5h8m4-3h8m-6 2h8m-26 5h8m567-2h8m-4 3h8m7-3h8m-608 8h8m591-2h8m-9 4h8m-19 8h8m-576 2h8m-8 4h8m-4-3h8m-28 7h8m-4-2h8m1-1h8m553 2h8m-584 7h8m-1-1h8m570-3h8m-3 1h8m-583 7h8m570-3h8m-583 8h8m-3-1h8m562 2h8m-605 5h8m10 0h8m551-3h8m-8 0h8m-574 6h8m561 2h8m-5-2h8m-7 1h8m-571 2h8m-17 8h8m540-2h8m6 0h8m-553 5h8m535 3h8m-562 2h8m5 3h8m514-3h8m-1 3h8m4-1h8m-572 6h8m-6-2h8m561 1h8m-6-2h8m-556 4h8m496 4h8m8 10h8m-529 3h8m505 1h8m0 1h8m-512 3h8m475 2h8m-519 4h8m-4 0h8m501-1h8m-1 0h8m-4 2h8m-5-2h8m-522 7h8m3-2h8m1 0h8m461 0h8m14-2h8m-525 8h8m-6-2h8m-4 0h8m7 1h8m466-2h8m-490 7h8m-2 1h8m444-3h8m-471 5h8m22 2h8m-4-2h8m113 3h8m31-2h8m216 3h8m-375 5h8m110-1h8m7-3h8m4 4h8m7 0h8m5-2h8m186-2h8m18 3h8m-8-2h8m9 1h8m-465 3h8m58 3h8m45-1h8m11 1h8m3 1h8m66-4h8m-6 3h8m8 0h8m143 1h8m-384 1h8m100 3h8m10 1h8m15-1h8m19-2h8m0-1h8m-3 4h8m26 0h8m-3-3h8m2 1h8m-2-1h8m62 3h8m43-4h8m-353 9h8m27-3h8m-3 3h8m-3-3h8m3 2h8m5 1h8m5-1h8m93-3h8m-3 2h8m-6-2h8m11 4h8m45-4h8m29 1h8m-7-1h8m68 4h8m-358 5h8m14-2h8m0 2h8m9-3h8m4 3h8m92-4h8m2 3h8m-7 1h8m7-2h8m15-1h8m5 0h8m13-1h8m9 3h8m25 0h8m6-1h8m24-2h8m-7 0h8m-372 8h8m24 0h8m10 0h8m5-1h8m123 1h8m32-2h8m64 3h8m-6 0h8m1-2h8m7-1h8m1 1h8m-64 3h8m-6 1h8" stroke="#1d61ac" stroke-width="8" opacity="0.8"/>
<path transform="scale(.1)" d="M4489 1646h8m0-2h8m-46 6h8m4 1h8m31 1h8m-3-1h8m-4-1h8m-3 1h8m-4 1h8m-76 4h8m28-3h8m-3 2h8m2 1h8m-35 2h8m11 1h8m4 1h8m4 0h8m-5 0h8m-100 7h8m-4-1h8m11-3h8m68 4h8m-6-4h8m-101 7h8m8-1h8m-4-1h8m4 1h8m4-1h8m10 1h8m-4 1h8m-7 0h8m-1-1h8m-97 6h8m10 1h8m-1 1h8m0 0h8m-5-4h8m5 4h8m6 0h8m-8 0h8m46-2h8m-7 2h8m-128 5h8m-7 0h8m6-3h8m-6 2h8m44-2h8m-65 5h8m20-1h8m40 4h8m-2-1h8m-3 0h8m-4 0h8m1 1h8m-1-3h8m-130 7h8m22 1h8m72-2h8m0 0h8m5-1h8m-121 7h8m2-1h8m88 0h8m-124 7h8m5-2h8m-7 0h8m-6-2h8m-3 0h8m72 4h8m13-1h8m-144 3h8m0 0h8m-6 0h8m6-1h8m93 3h8m-7-1h8m-117 7h8m-3-1h8m-24 6h8m9-1h8m106-1h8m-153 4h8m14 3h8m-5 0h8m-15 3h8m107 0h8m3-2h8m-8 4h8m-8-1h8m-1 3h8m-146 7h8m-2 0h8m117 0h8m-146 3h8m137 1h8m287 1h8m6 1h8m-6-1h8m-473 3h8m7 3h8m125-1h8m-7-3h8m307 4h8m-471 1h8m-4 3h8m7-3h8m139 1h8m268 2h8m3-3h8m-7 2h8m-461 7h8m137 0h8m283-1h8m-7 0h8m-438 3h8m-5 2h8m448 0h8m-461 6h8m416-2h8m5 0h8m13 2h8m-480 2h8m-5 3h8m-8-4h8m9 2h8m139 2h8m240-1h8m9 0h8m30 1h8m1-2h8m-3-2h8m-480 5h8m136 2h8m242 2h8m-4-2h8m4 0h8m7 1h8m12-2h8m0 1h8m-7-1h8m7-1h8m-468 6h8m113 3h8m6-3h8m280 0h8m-445 4h8m11 1h8m127 1h8m-2-1h8m250 1h8m16-2h8m-3 4h8m-435 2h8m113 0h8m-5-1h8m267 4h8m8-2h8m6 0h8m3 0h8m-472 5h8m-1 2h8m-7-4h8m10 3h8m106-3h8m-3 0h8m256 4h8m-7-4h8m-1 0h8m49 0h8m-6 3h8m-484 3h8m129 1h8m9 2h8m238 0h8m-6-4h8m-5 4h8m-3-2h8m4-2h8m29 3h8m-3-3h8m-473 6h8m126 2h8m2-2h8m-136 5h8m-4 0h8m-5 0h8m2 3h8m118 0h8m228-2h8m60 2h8m-8-4h8m-5 4h8m-459 1h8m3 4h8m-7-2h8m112-2h8m-5 2h8m0 2h8m311-3h8m-477 7h8m12 0h8m4 1h8m70 0h8m8-4h8m-4 3h8m-4 0h8m250-1h8m53-1h8m-3 2h8m-5-2h8m-5 1h8m-450 7h8m-7-1h8m-7-3h8m80 4h8m0-3h8m2-1h8m-5 1h8m6 1h8m234 0h8m52-1h8m15 0h8m-469 4h8m0 1h8m13 2h8m57-1h8m23-1h8m226 1h8m72-1h8m-451 6h8m85 1h8m1-3h8m-4 1h8m245 1h8m-6 0h8m4-2h8m62 4h8m2 0h8m-461 3h8m-5-2h8m1 4h8m7-1h8m-8-2h8m5 3h8m50-2h8m252 0h8m-2-2h8m1 4h8m64-1h8m-428 3h8m11-1h8m2 2h8m10 2h8m9-4h8m-6 3h8m-2 0h8m-5-3h8m247 0h8m88 0h8m-5 0h8m-452 6h8m37 3h8m4-1h8m48 1h8m324-1h8m-444 5h8m-7-3h8m-7 0h8m-7 2h8m3 2h8m51-4h8m-6 0h8m259 3h8m84-2h8m-451 4h8m-3 1h8m-5 3h8m27 0h8m9-4h8m-6 0h8m0 3h8m22-1h8m-7-2h8m-4 1h8m234 1h8m3 1h8m64-1h8m0 1h8m-3-2h8m-424 7h8m-7-3h8m11 4h8m8-2h8m-7-1h8m-5 2h8m-7 0h8m359 1h8m-2 0h8m-414 3h8m33 2h8m18-3h8m229-1h8m-6 4h8m-1-1h8m-330 3h8m15 1h8m-4-2h8m5 0h8m9 3h8m246-3h8m93 4h8m-7 0h8m-410 4h8m33 0h8m243 0h8m6 1h8m-7-2h8m-7 2h8m72 0h8m-388 1h8m1 1h8m-7-1h8m277 3h8m-4-3h8m0 2h8m58-1h8m4 2h8m-6-3h8m-8 3h8m-92 2h8m62 1h8m-82 6h8m-3 0h8m69-2h8m-20 9h8m-15 10h8m-6-3h8m-95 4h8m6 3h8m-27 5h8m71 4h8m7 0h8m-1 2h8m-104 1h8m13 0h8m59 4h8m1-4h8m-112 8h8m-3-1h8m8-1h8m66-1h8m-7 4h8m-4-3h8m-21 7h8m-101 6h8m4-2h8m-4-1h8m-18 5h8m8-1h8m-4 2h8m38 2h8m-3 0h8m-83 1h8m14 0h8m35 3h8m0 0h8m1 1h8m-7-3h8m-69 5h8m50 2h8m-75 4h8m-7-2h8m-6 0h8m55 1h8m-5 1h8m-122 4h8m-6 3h8m4-4h8m-7 2h8m5-1h8m1 2h8m54-3h8m-3 4h8m1-2h8m-144 7h8m31-1h8m10-2h8m54-1h8m-5 2h8m5 2h8m-180 4h8m14-3h8m1 1h8m-1 3h8m34 0h8m-6-4h8m64 1h8m12 0h8m-218 8h8m6-1h8m-6 0h8m8-3h8m9 1h8m-8 0h8m28-1h8m12 0h8m83 1h8m1 2h8m-6-1h8m-219 5h8m0-1h8m-6 3h8m1-3h8m8 1h8m155 2h8m0-2h8m-245 7h8m11 0h8m11-1h8m42-2h8m134 3h8m-6 0h8m12-4h8m-286 5h8m-5 4h8m0-1h8m237-3h8m-5 1h8m-220 4h8m214 2h8m3-1h8m-388 5h8m11 0h8m2 2h8m5-1h8m17-2h8m-5 3h8m-3 0h8m-3 0h8m32-2h8m1 0h8m-8 0h8m234-1h8m-386 8h8m-1-3h8m8 0h8m4 0h8m14 4h8m9-1h8m-3-1h8m-5-1h8m22 1h8m255 1h8m10-3h8m-434 6h8m24-1h8m2 4h8m6-4h8m14 2h8m-2 0h8m-7-2h8m31 3h8m288 1h8m-7-4h8m-409 6h8m23 0h8m10-1h8m8 4h8m3-3h8m7-1h8m0 0h8m286 2h8m-7 1h8m5-1h8m-451 7h8m24-1h8m6 1h8m19-4h8m360 3h8m-463 5h8m29 0h8m32-2h8m-7 0h8m21-1h8m-6 2h8m-4 1h8m338-2h8m-472 8h8m-3-4h8m21 4h8m15-3h8m33 0h8m364 0h8m-1 1h8m-6 0h8m-449 3h8m-4 3h8m433 1h8m-6-4h8m-493 5h8m2 2h8m12 1h8m453 0h8m-481 5h8m445-2h8m-488 8h8m6 0h8m4 0h8m471-3h8m-510 8h8m7-2h8m-36 4h8m15-1h8m487 4h8m-506 5h8m-32 1h8m-2 0h8m-7 2h8m-13 5h8m-3-2h8m496 2h8m-2-2h8m-2 5h8m-1 4h8m-25 1h8m-1 1h8m-524 5h8m518-1h8m-527 6h8m508 0h8m-542 7h8m526 1h8m-5-3h8m-532 5h8m508 2h8m-540 3h8m3 3h8m0 0h8m496-4h8m-514 9h8m-7-3h8m-5 4h8m514 1h8m-552 7h8m3-3h8m2 3h8m-8 0h8m-21 2h8m-4 3h8m501-2h8m-7-1h8m-3 1h8m-532 6h8m2-2h8m-11 8h8m-1 2h8m495 2h8m-16 6h8m-3 1h8m3-1h8m-505 2h8m484 4h8m-522 1h8m5 6h8m6 2h8m455-1h8m-488 6h8m-3 0h8m-4-1h8m-1 2h8m-1-3h8m-7 8h8m450-2h8m-466 7h8m438 0h8m-5-3h8m-482 4h8m-6 0h8m-6 1h8m116 3h8m2-1h8m4-1h8m-136 3h8m16 2h8m-3 1h8m78-1h8m-3 2h8m-3 0h8m5-2h8m6-1h8m267-1h8m-443 7h8m-4 0h8m12-1h8m84-1h8m-3 0h8m-4 1h8m0 3h8m25-2h8m247 1h8m9 1h8m-420 3h8m-6 1h8m12-2h8m1 0h8m8-1h8m11 3h8m12 0h8m18-3h8m27 3h8m3-2h8m7 3h8m189 0h8m4 0h8m-2-1h8m-413 3h8m2 1h8m-5-2h8m-4 4h8m12-1h8m15 1h8m12-2h8m-3 2h8m9-3h8m15 0h8m-5 0h8m20 0h8m-8 1h8m7-2h8m-6 0h8m13 2h8m-1-1h8m-5 3h8m-5-3h8m6 3h8m172-1h8m-398 4h8m29 0h8m16 2h8m16 0h8m5 0h8m-7-2h8m4 1h8m10-1h8m27-1h8m-4 3h8m-7 0h8m6 0h8m140-2h8m7-2h8m25 1h8m-377 7h8m54-3h8m-6 1h8m10 1h8m115 1h8m3 1h8m7-4h8m-4 2h8m2-1h8m3 1h8m-7 2h8m35 0h8m2-3h8m1 3h8m-7-1h8m12-3h8m8 2h8m-3 0h8m-353 7h8m17 0h8m130-3h8m24 0h8m8 1h8m3 2h8m8-4h8m-6 4h8m12-2h8m-4-1h8m14 1h8m-2 1h8m24-2h8m-318 4h8m-1 0h8m10 0h8m151 1h8m-5-1h8m15 0h8m22 2h8m-3 4h8" stroke="#1f70b4" stroke-width="8" opacity="0.8"/>
<path transform="scale(.1)" d="M4493 1682h8m-4 0h8m-25 4h8m-8-1h8m4 2h8m-26 5h8m5 0h8m-4-4h8m-8 4h8m12-2h8m-62 7h8m13-2h8m26-2h8m0 2h8m-54 5h8m3 2h8m1-1h8m-6-2h8m-2 3h8m11-2h8m-60 7h8m5-2h8m21 0h8m10 0h8m-90 7h8m7-4h8m-5 1h8m-6 3h8m7-1h8m7-2h8m-5-1h8m10 0h8m-1 2h8m-3 1h8m-8 0h8m-51 6h8m-46 4h8m4-3h8m-2 4h8m-4-4h8m25 3h8m4 1h8m-6-4h8m12 3h8m-7 1h8m-106 2h8m18-1h8m-6 1h8m-3 3h8m0-4h8m3 4h8m-1 0h8m-7 0h8m-6 0h8m0-3h8m-5 3h8m-1 0h8m10 0h8m-102 3h8m-4 0h8m-5-1h8m7 3h8m-4-2h8m0 2h8m9 0h8m-6-1h8m0-2h8m-7 3h8m4-1h8m-3-3h8m7 3h8m-101 6h8m3-1h8m-5-2h8m20 0h8m-3 2h8m-6 1h8m0-4h8m-6 1h8m4 3h8m7-3h8m-3 0h8m-108 5h8m-4-1h8m25 3h8m-8-1h8m9 1h8m3-3h8m-52 5h8m4 4h8m-2-2h8m-7 2h8m-7 0h8m-6-3h8m-6 3h8m24-2h8m7 0h8m1 2h8m-109 1h8m3 2h8m5 1h8m-3-3h8m21 2h8m-7 0h8m-2 2h8m-2-1h8m3-1h8m-76 3h8m-3 2h8m-6 0h8m-6 1h8m12-2h8m-6 1h8m-6-2h8m-7 0h8m3 3h8m1-2h8m8 2h8m8-2h8m-101 5h8m1 2h8m3 1h8m9-1h8m27-1h8m3-2h8m7 2h8m-109 6h8m19 0h8m6-2h8m14 3h8m-75 4h8m1-1h8m-7-2h8m-4 2h8m3 2h8m7 0h8m1-3h8m-1 2h8m3-2h8m2 2h8m-4-2h8m-4 1h8m1 0h8m-103 3h8m-2 4h8m2-4h8m-1 2h8m3 1h8m-5-2h8m7 0h8m-1 0h8m5 1h8m4 2h8m-86 1h8m-5 2h8m10-1h8m9 2h8m30-3h8m-22 5h8m-5 0h8m-8 4h8m-3 0h8m-77 2h8m11 1h8m-6-1h8m8 3h8m-6-1h8m-5-1h8m-6 2h8m-6-3h8m-4 0h8m0 0h8m8 3h8m1-2h8m-1-2h8m-100 7h8m9 1h8m10 0h8m-5 1h8m-4-2h8m13 2h8m2-2h8m-6 0h8m11-1h8m297 1h8m7 2h8m-412 2h8m35 1h8m-4 1h8m17-1h8m-5 2h8m-7-4h8m-6 3h8m301-2h8m-1 0h8m-5 2h8m8 0h8m-399 2h8m-3 3h8m-2-1h8m-5 2h8m-1-4h8m-1 3h8m-8-1h8m-7 1h8m-6-2h8m-4 3h8m-5-1h8m311-3h8m15 2h8m-7-1h8m-399 8h8m1-1h8m-6 0h8m-1 0h8m-5-2h8m4 1h8m-5 1h8m9-1h8m0-2h8m-8 1h8m292 3h8m-7-2h8m-1 2h8m-3-3h8m-7 3h8m2-3h8m-3 2h8m4 0h8m-404 5h8m14-3h8m0 4h8m-1-3h8m335 1h8m4 2h8m-406 5h8m-3-1h8m-5 0h8m20 1h8m-4-1h8m-7-1h8m355 0h8m-400 3h8m-6 1h8m0 0h8m1 3h8m-2 0h8m11 0h8m316-3h8m1 3h8m-8-3h8m1 1h8m-376 3h8m17 4h8m288-2h8m0-2h8m-5 1h8m-2 1h8m-8-2h8m-5 1h8m5 0h8m5 1h8m-2-2h8m-367 6h8m303 1h8m-5-2h8m7 4h8m-367 1h8m-4 4h8m-3 0h8m314-3h8m-4-1h8m11 0h8m-7 2h8m-5-1h8m12 1h8m-60 7h8m5 0h8m-4-2h8m-8-2h8m-1 3h8m-7 1h8m-1-2h8m-5 2h8m13-4h8m-59 6h8m2-1h8m-7 2h8m3-2h8m-7 2h8m-6-1h8m7 2h8m2 0h8m-6-3h8m-57 5h8m-20 9h8m2-1h8m-8-2h8m-4-1h8m-6 4h8m-7-2h8m1 2h8m12-4h8m-52 6h8m3 1h8m3 2h8m-8-2h8m-4-1h8m-3-1h8m-3 3h8m6 1h8m-2-1h8m-60 4h8m0 1h8m-4-2h8m19 3h8m-8-1h8m1 0h8m-6 0h8m-69 5h8m-4-1h8m-6-2h8m-8 3h8m1-2h8m-5-1h8m6 4h8m0 0h8m-6-2h8m-4 0h8m-14 4h8m-4 2h8m3 1h8m-65 4h8m-8 1h8m-5-4h8m-3 4h8m-6-2h8m20 2h8m4-4h8m-51 8h8m0-1h8m3 1h8m-6-2h8m-1 0h8m-1 1h8m-53 6h8m-1 1h8m12-2h8m1-1h8m-41 6h8m-8 2h8m27-3h8m-43 5h8m-7 1h8m-7-1h8m4 1h8m5-1h8m4 0h8m-54 7h8m9-3h8m18 3h8m-2-3h8m-59 9h8m5-1h8m-7-3h8m-5 2h8m-8 5h8m7 1h8m6-3h8m-3 3h8m-31 2h8m-8 4h8m-1-2h8m-24 3h8m4 2h8m-3 1h8m-34 5h8m-3-1h8m-8 1h8m-7-3h8m-7 1h8m-5 0h8m-4 3h8m-2-2h8m-22 7h8m0 0h8m-7 0h8m0 0h8m-4-4h8m-45 9h8m5-1h8m-4 6h8m-24 8h8m-5 0h8m1 0h8m-7 2h8m-7-2h8m0 2h8m-35 4h8m-8 0h8m-7 0h8m5 0h8m-7 1h8m-7-4h8m-7 4h8m-38 4h8m-7 1h8m1-4h8m-2 0h8m-2 3h8m-27 6h8m9-3h8m10 3h8m-8-4h8m-4 3h8m-55 2h8m-6 4h8m12-3h8m-8-1h8m14 3h8m-72 2h8m-6 4h8m-8-4h8m18 0h8m-5 3h8m28-2h8m-112 8h8m4 0h8m35-1h8m30-2h8m5-1h8m-161 8h8m14-1h8m-3 2h8m-4 0h8m37-1h8m1-2h8m29 1h8m11-1h8m-184 7h8m7-1h8m56-1h8m0-1h8m-6 0h8m-6 3h8m-1-3h8m-8 4h8m9-2h8m-1-1h8m26 3h8m-5-1h8m-7-1h8m-179 6h8m19-1h8m10 1h8m-4-3h8m15 0h8m96 0h8m2 3h8m11-3h8m-236 8h8m13 1h8m-6-4h8m-7 3h8m9-1h8m0 0h8m-2 0h8m144-1h8m-230 8h8m-5-1h8m14-1h8m12-1h8m179 1h8m-244 7h8m16 0h8m-3-1h8m197-2h8m-3 2h8m12 0h8m-291 6h8m22-4h8m-7 4h8m-7-2h8m-8 0h8m224-1h8m1 2h8m-4-2h8m-2 2h8m-285 2h8m3 1h8m250 0h8m-7 2h8m-321 6h8m4-1h8m-3 0h8m2 1h8m-7-2h8m5 2h8m-5-3h8m-3 3h8m-3-3h8m0-1h8m247 3h8m0-1h8m-2 1h8m-383 5h8m5-1h8m10 0h8m0-2h8m-1 0h8m-4 4h8m-7-4h8m-6 3h8m13-2h8m292 1h8m-411 7h8m17-2h8m-8 2h8m11-4h8m14 4h8m-5-1h8m-5-3h8m-2 1h8m-5 0h8m-7 1h8m3 2h8m1 0h8m-1-1h8m-4-2h8m283 3h8m-418 4h8m14 0h8m-8 0h8m4 0h8m-1-2h8m-8 3h8m21-3h8m26 3h8m-125 1h8m-4 1h8m18-1h8m21 3h8m-4-1h8m10 2h8m-6-3h8m1 3h8m-5-3h8m1 3h8m313-3h8m-8-1h8m-417 6h8m1 0h8m-7 2h8m-1-1h8m13 2h8m-7-1h8m-3-2h8m2 3h8m0-1h8m6-1h8m329 1h8m-454 4h8m-3 1h8m-3 1h8m40 0h8m1-2h8m1-1h8m23 0h8m336 3h8m-455 3h8m11 1h8m8-1h8m1 0h8m3-2h8m6 2h8m22-2h8m335 1h8m-2 0h8m-462 6h8m19-1h8m-1-1h8m-3 3h8m-8 0h8m-2-3h8m-6 1h8m6-1h8m388 1h8m-7 1h8m-3-1h8m-6 3h8m-475 1h8m-8 3h8m5-3h8m-1 4h8m-7-4h8m-4 3h8m-7-1h8m-2-2h8m-37 6h8m4 0h8m-3 3h8m-7-1h8m-35 3h8m-1-1h8m-2 4h8m445-4h8m-6 2h8m0-2h8m-473 5h8m-7 2h8m447 1h8m1 0h8m-6 1h8m-492 1h8m-2 0h8m-8 3h8m-3-1h8m457 0h8m-11 4h8m2 0h8m-4-1h8m-483 8h8m466 0h8m-473 4h8m447 1h8m-4 6h8m2-1h8m-498 3h8m-1-1h8m4 2h8m447 1h8m-482 4h8m7-1h8m449 1h8m-6 2h8m-6-4h8m-4 4h8m-6-1h8m-494 5h8m-7-1h8m-6 2h8m-6-4h8m-5 4h8m-3-3h8m-1 8h8m452-2h8m-8 0h8m-23 7h8m-471 3h8m-6-2h8m3 0h8m-6 1h8m1 3h8m-4-4h8m423 4h8m-469 2h8m-6 0h8m0 1h8m-6-1h8m1 3h8m-7-1h8m-7-3h8m-5 3h8m428-1h8m-1 1h8m-6-2h8m-470 5h8m10 2h8m-6 1h8m-6-1h8m420 1h8m-5 0h8m-6 0h8m-464 3h8m0 0h8m-8 2h8m11-1h8m-7-2h8m-4 3h8m-2 0h8m67 0h8m322-1h8m-444 6h8m6-1h8m14 1h8m39 0h8m26 0h8m310-2h8m-3-1h8m-6-1h8m-442 7h8m-1-2h8m-2 2h8m7-2h8m1 1h8m-6 3h8m1-1h8m-3 1h8m7-3h8m29 2h8m-7-2h8m-6 2h8m20-1h8m-8 0h8m277-1h8m-6 1h8m-2-2h8m-7 2h8m-436 3h8m-8 1h8m23 0h8m-5 0h8m12 0h8m-3 3h8m-8 0h8m4-2h8m-3 0h8m17 0h8m0 0h8m-8 0h8m17 1h8m-1-3h8m260 3h8m-2-3h8m-397 7h8m-5-1h8m-6 0h8m2 0h8m-5 1h8m2-1h8m-4 3h8m33-2h8m7-2h8m0 4h8m3-4h8m-1 4h8m3-3h8m239 0h8m3 0h8m-418 7h8m-3 0h8m1-3h8m1 0h8m-4 3h8m6-2h8m25 0h8m-6 0h8m17-1h8m-8 2h8m17 1h8m2-2h8m3 2h8m-3-1h8m-139 4h8m-7 2h8m9 1h8m-6-4h8m58 1h8m4-1h8m2 0h8m16 0h8m-6 2h8m-3-2h8m203 4h8m6-1h8m-4-1h8m-3-1h8m-381 7h8m-7-1h8m-7 1h8m13-1h8m-4 0h8m13-1h8m-5 0h8m-7 2h8m-6 0h8m-4-1h8m0-2h8m81 1h8m5 1h8m0-1h8m174-1h8m-2 4h8m-363 2h8m1-1h8m-5 3h8m164 1h8m110 0h8m8-2h8m31-2h8m-184 6h8m0 3h8m4-1h8m-5-2h8m-2 2h8m-6 1h8m0 0h8m7-2h8m-6 1h8m-8 1h8m19-1h8m10 1h8m14-3h8m-8 1h8m19 2h8m-135 4h8m20-1h8m-8 1h8m7-1h8m3 0h8m-6-1h8m-7 0h8m-3 2h8m16-3h8m-8 4h8m6 0h8m7-4h8m-130 5h8m16 4h8m18 0h8m-6-2h8m-4-2h8m-8 2h8m-3 2h8m-7-2h8m13-1h8m-5 2h8m-8-3h8m-7 1h8m-55 4h8m16 0h8m-6 0h8" stroke="#2282bc" stroke-width="8" opacity="0.8"/>
<path transform="scale(.1)" d="M4489 1757h8m-6 0h8m244 245h8m1 0h8m-49 2h8m-3 0h8m-2 0h8m-5 2h8m-5 1h8m-6-1h8m-6-2h8m-1 1h8m8-2h8m-114 9h8m-2-2h8m8-2h8m11 3h8m-8-3h8m-2 0h8m-4 0h8m1 2h8m-8-2h8m5 2h8m0 2h8m-5-3h8m-8-1h8m11 0h8m6 0h8m-6 0h8m2 3h8m1 1h8m-156 2h8m-1 2h8m-7 1h8m-4 0h8m3 0h8m-5-2h8m-5 0h8m-6-1h8m5-1h8m-5 2h8m7-2h8m-4 2h8m1-1h8m5 0h8m13-1h8m-7 3h8m-2-1h8m-6 0h8m-5-1h8m-5 0h8m4 2h8m-7 0h8m-4-2h8m-4 1h8m-7 0h8m-186 4h8m5 2h8m-8 0h8m-1 1h8m0-2h8m-5 0h8m-3 1h8m-1-2h8m136 1h8m-215 7h8m-7 0h8m-6-2h8m1-2h8m-5 1h8m-2-1h8m-2 2h8m-3 0h8m-3 1h8m163 1h8m-6-4h8m-220 8h8m-3-2h8m-7 3h8m-28 3h8m-5-2h8m-5 0h8m2 4h8m-8-1h8m-2-2h8m0-1h8m194 3h8m-240 5h8m11-3h8m205 1h8m-257 8h8m-3-2h8m5-1h8m1-1h8m221 1h8m-7-1h8m-4 2h8m-3-1h8m-264 8h8m239-4h8m-7 2h8m-1-2h8m-6 2h8m-299 7h8m9 0h8m4-2h8m251 1h8m-2-2h8m-5 2h8m-5-3h8m-314 7h8m15-1h8m269 1h8m-309 5h8m-8 1h8m7-2h8m-2 1h8m-4-2h8m267 0h8m-7 3h8m-5-1h8m0-2h8m-6 2h8m-343 4h8m1 3h8m-4-3h8m-4 0h8m-3 1h8m-4 0h8m-5-2h8m-3 3h8m295-2h8m-7 0h8m-385 8h8m12-2h8m-6 0h8m-7-2h8m7 1h8m11 3h8m-7-1h8m310-2h8m-395 4h8m-8 0h8m6 3h8m-6-3h8m-3 0h8m16 0h8m-8 4h8m16-3h8m-6 1h8m-5-2h8m308 2h8m-7-1h8m-419 7h8m-4-2h8m15 2h8m0-2h8m-1 0h8m-4 2h8m20 1h8m-6-4h8m4 1h8m-6-1h8m-3 1h8m-7 3h8m310-3h8m-426 5h8m7 3h8m-2 0h8m-1-4h8m-3 3h8m15-1h8m-7-1h8m-7 2h8m-7 0h8m-4 1h8m2-4h8m13 2h8m310 0h8m-8 2h8m4-1h8m-442 6h8m-7-3h8m10 1h8m3-2h8m2 2h8m-4 2h8m-7-1h8m6 0h8m-8 0h8m-6 0h8m3-2h8m-4-1h8m-6 3h8m4-2h8m-8 3h8m-7-4h8m-1 4h8m313-4h8m-5 1h8m-6 0h8m-6 3h8m-2 0h8m-427 3h8m34-2h8m1 3h8m7-3h8m0 2h8m-3 1h8m-5-1h8m-8 2h8m321-4h8m-440 7h8m-6-1h8m-3-1h8m-6 4h8m6-4h8m-5 4h8m-6-2h8m5 0h8m-2-2h8m-5 0h8m0 3h8m1-3h8m-7 1h8m-5 3h8m-3-2h8m11 1h8m336 0h8m-418 4h8m0 0h8m-4 0h8m7 2h8m9-2h8m-7-1h8m0 2h8m-3-3h8m-4 4h8m0-3h8m329 1h8m-2-2h8m-450 7h8m9 0h8m-4 0h8m2 1h8m48 0h8m9 1h8m317-1h8m-427 5h8m3-1h8m25-2h8m-2 2h8m2 2h8m-1-3h8m11 1h8m-2-2h8m-3 2h8m321 2h8m-436 5h8m-2-2h8m-4-2h8m-7 3h8m-6 1h8m7-2h8m-6-2h8m-7 2h8m13 0h8m13 1h8m-3-2h8m11 3h8m-6-2h8m323 1h8m-4 1h8m-455 2h8m-7 2h8m-2-3h8m-5 4h8m40 0h8m-8-3h8m-6 3h8m-8-3h8m-4 0h8m9 2h8m-7-1h8m-5-1h8m3 0h8m-5-1h8m-4 2h8m-3 1h8m-6-3h8m-2 1h8m-123 7h8m2 0h8m8-1h8m-4-1h8m-5 2h8m3-1h8m3 2h8m-3-4h8m-5 3h8m7-3h8m4 4h8m-7-2h8m-5-1h8m-7-1h8m3 0h8m-3 2h8m311 1h8m-3 1h8m-2-3h8m-448 6h8m6-1h8m-7 3h8m15-1h8m-7-3h8m1 4h8m1-4h8m5 4h8m-3-3h8m-1 2h8m-6-1h8m2 2h8m2-1h8m-6-3h8m5 1h8m-8 2h8m-6 0h8m304-3h8m-421 8h8m-6 1h8m-7-1h8m6 0h8m2 0h8m17-1h8m-8-1h8m-3 0h8m-2 1h8m3 2h8m8-2h8m-5 1h8m1-2h8m-5 3h8m-8-3h8m-4 3h8m285 0h8m0 0h8m-4-4h8m-432 7h8m-8-1h8m2 1h8m3-1h8m2 1h8m-7-1h8m-3 3h8m-8-1h8m-6-2h8m7 1h8m-5-1h8m-4 2h8m15 0h8m5 1h8m-7 0h8m-8-4h8m-5 3h8m-6-1h8m304-1h8m-8 1h8m-6 2h8m-402 4h8m9-2h8m8 1h8m-2-2h8m-1 2h8m10-2h8m-6 3h8m-3 0h8m3-1h8m-6 1h8m-7 1h8m5-4h8m-2 4h8m272-2h8m-379 4h8m1 3h8m6 0h8m6-1h8m-8-2h8m-6 2h8m5-3h8m-1 1h8m-4 1h8m6-2h8m-5 2h8m-3-1h8m-6 1h8m-6-2h8m279 1h8m-393 8h8m10-4h8m0 3h8m1 0h8m-5-1h8m-3 1h8m41 0h8m269-2h8m-7-1h8m-4 0h8m-7 2h8m-6-1h8m-4 3h8m-401 1h8m-1 0h8m-7 2h8m8 2h8m87 0h8m244 0h8m-6-1h8m-5-2h8m-268 7h8m238-2h8m-8 2h8m-6-1h8m-8 1h8m-4-2h8m-4-1h8m-7 1h8m-5 1h8m0-2h8m-269 5h8m13 3h8m-6-2h8m-4 0h8m-1 0h8m190 2h8m8 1h8m-239 2h8m-5-1h8m10 3h8m182 0h8m-2 1h8m-5-4h8m-219 5h8m25 1h8m160 2h8m-189 4h8m-1 1h8m-2-2h8m-7-1h8m-1 2h8m-2 1h8m12 1h8m85-3h8m-7 2h8m-6-2h8m3-1h8m-6 0h8m10 2h8m-166 6h8m4-3h8m-8 1h8m-6 2h8m-8 1h8m-1-1h8m-4-2h8m40 2h8m-6-1h8m-5 1h8m-6-1h8m0 2h8m-6-1h8m0 0h8m0 0h8m13 0h8m2 0h8m-104 2h8m-6 4h8m-5-3h8m3 3h8m6-1h8m0-1h8m-7 0h8m3 0h8m-1 2h8m-1 0h8m12-2h8m-81 3h8m-4 0h8" stroke="#2793bb" stroke-width="8" opacity="0.8"/>
<path transform="scale(.1)" d="M4686 2017h8m1 0h8m29-2h8m-72 6h8m-8 0h8m-7-1h8m-6 1h8m3-3h8m-6 3h8m-7 1h8m-6-4h8m-2 1h8m-6-1h8m4 0h8m-7 0h8m10 1h8m-7 3h8m15-1h8m-5-2h8m5 3h8m-7-2h8m-4 2h8m-151 5h8m-3 0h8m-6 0h8m-6 0h8m-7-1h8m-6-2h8m-6 0h8m3-1h8m13 4h8m-7-4h8m-4 2h8m-6-2h8m1 3h8m1-1h8m9-2h8m-3 2h8m4 2h8m-2-2h8m2-2h8m-7 4h8m-5-3h8m-3-1h8m11 1h8m-166 8h8m4-4h8m-3 2h8m3 0h8m1-1h8m-6-1h8m92 0h8m1 1h8m-7 2h8m1-2h8m-7-1h8m-4 4h8m-187 5h8m3-4h8m1 2h8m-5 2h8m-4-4h8m135 2h8m-7-1h8m2 2h8m-7-2h8m-6 2h8m-203 3h8m3 3h8m169-2h8m4-1h8m-196 5h8m-7 1h8m182-1h8m-6 3h8m-3-2h8m-233 6h8m-7 1h8m-1-3h8m1 0h8m-8 1h8m196-2h8m-2 4h8m-247 2h8m-7 0h8m-2-1h8m-1 2h8m-1 1h8m207 0h8m-6-2h8m1 1h8m-243 7h8m224-1h8m-6-1h8m-262 6h8m3 1h8m-7-3h8m237 0h8m-5 3h8m-273 3h8m-5 0h8m-7-1h8m6 0h8m232 0h8m-2 1h8m-4-1h8m-281 7h8m2 1h8m-3-4h8m-8 2h8m250-2h8m-3 1h8m-294 6h8m6 1h8m256-2h8m-3 1h8m1 0h8m-306 6h8m-5-2h8m-4 0h8m-1 2h8m-1 1h8m-27 1h8m10 2h8m266 2h8m-1-3h8m-312 7h8m-7 1h8m-2-3h8m-7-1h8m5 3h8m267 0h8m-308 6h8m-5-2h8m-3-1h8m-2 3h8m276-2h8m-1 0h8m-1 0h8m-311 7h8m-2-1h8m-8 0h8m-6-1h8m-3 2h8m279-2h8m-318 6h8m3-1h8m-7-2h8m-4 1h8m-29 4h8m17 2h8m270-2h8m1 3h8m-316 2h8m-4 0h8m4 4h8m1-1h8m270 0h8m-8-1h8m-7 1h8m-2-1h8m-321 6h8m16-1h8m273-1h8m-2 3h8m-6-1h8m-295 6h8m-8-1h8m-4-3h8m263 2h8m4-2h8m-295 9h8m-7-3h8m263 2h8m-292 2h8m-5 2h8m6-2h8m-2 0h8m248 4h8m0-1h8m-292 3h8m-5 1h8m0-2h8m3 0h8m243 2h8m-6 1h8m0-3h8m-3 0h8m-282 5h8m-3 3h8m-4 1h8m-6-1h8m-5 0h8m-5 0h8m233 0h8m-1-1h8m-7 1h8m-276 3h8m1 0h8m239 0h8m-247 7h8m-8 1h8m3-4h8m217 4h8m-6-2h8m-6-1h8m-240 5h8m-6-1h8m-2 0h8m-7 0h8m190 4h8m-1 0h8m-6-4h8m-4 3h8m-4-2h8m-4 1h8m-230 4h8m-2 1h8m-3-1h8m-5 2h8m184 0h8m-204 3h8m-1 3h8m2 0h8m-2 0h8m153-1h8m-7-3h8m0 2h8m-7-2h8m-205 5h8m-8 0h8m-3 0h8m-4 4h8m3-3h8m-7-1h8m-4 2h8m129 2h8m-3-2h8m4-1h8m-6 0h8m-7 3h8m-157 4h8m-4-3h8m-6 2h8m0 1h8m-6-2h8m90 3h8m5-2h8m-134 6h8m-5-2h8m-4 0h8m-4-1h8m-2 0h8m-1 3h8m2-3h8m-3 2h8m-3-1h8m-4 1h8m29 0h8m0 0h8m-7 0h8m0 0h8m1-2h8m-105 5h8m1 1h8m-7 0h8m0 1h8m1 1h8m1-3h8m-6 0h8m-4 0h8m-8 4h8m-3-2h8m0 0h8m-3-2h8m0 2h8m15 1h8m-8 0h8m-7 0h8m-4-2h8m-62 5h8m26-1h8m-6 0h8" stroke="#2ea2b3" stroke-width="8" opacity="0.8"/>
<path transform="scale(.1)" d="M4708 2026h8m-2 1h8m-6-1h8m0 1h8m-2 0h8m-81 5h8m10-3h8m9-1h8m0 0h8m-6 1h8m6 1h8m-1 2h8m-6 0h8m-4 0h8m-1-2h8m0 1h8m-7-1h8m-5 0h8m-5 1h8m-117 6h8m-5 0h8m-5-1h8m-7 0h8m-7 0h8m-6-2h8m-6-1h8m-5 3h8m-3-1h8m-5-2h8m4 1h8m-3-1h8m-7 3h8m3-3h8m-2 0h8m2 0h8m5 0h8m-5 1h8m1-1h8m-6 2h8m-6 2h8m1-2h8m8 0h8m-7 1h8m-148 3h8m0 1h8m-2-2h8m1 2h8m-4 1h8m-5-2h8m-5-1h8m83 0h8m-7 1h8m2 3h8m-6-3h8m-6 1h8m2-2h8m-8 1h8m-170 6h8m-8 1h8m-2-3h8m-7 1h8m-2-1h8m-4 1h8m123-1h8m2 3h8m-184 6h8m1-1h8m0 1h8m153-3h8m-3 2h8m-6-2h8m-7 2h8m-5-2h8m-8-1h8m-5 1h8m-6 2h8m-8-1h8m-5-1h8m-201 4h8m-4 2h8m-6 1h8m-4-3h8m-7 2h8m164 0h8m-6 0h8m-3 0h8m-4-2h8m-5 3h8m-221 6h8m-5-1h8m-4 0h8m-8 1h8m-6-3h8m-1 3h8m-7-4h8m186 2h8m-6 2h8m-5-3h8m-225 4h8m-7 0h8m-5 1h8m-5 0h8m-8-1h8m-5 3h8m-7 1h8m203-2h8m-242 7h8m4-4h8m-5 1h8m-7 1h8m-4 0h8m204-2h8m-8 1h8m2 2h8m-251 4h8m-7-2h8m-6 1h8m-3 2h8m223-3h8m-8 4h8m-246 3h8m-7 1h8m-5 1h8m-2-3h8m223 2h8m-7-3h8m-263 7h8m-3 0h8m6 0h8m222 0h8m2 1h8m-4 1h8m-266 4h8m-7-1h8m-7-1h8m-4 3h8m231-3h8m-5 2h8m-1-2h8m-264 7h8m-4 0h8m-4-3h8m233 3h8m-7-3h8m-267 7h8m-8 1h8m-4-3h8m0 0h8m-3 2h8m239-2h8m-5 4h8m-7 1h8m-279 5h8m-5 1h8m-7-1h8m-7 2h8m2 1h8m244-2h8m-7 3h8m-275 3h8m-6 1h8m6 0h8m-6-2h8m-6 3h8m233 0h8m-255 5h8m-4 0h8m233-3h8m1-1h8m-272 7h8m-8-2h8m-7 0h8m-7 2h8m-2 0h8m-6 1h8m-3 1h8m-6-3h8m229-1h8m-3 4h8m-264 1h8m-4 1h8m-7 0h8m-8 1h8m-7 0h8m-7 2h8m-6-4h8m-8 2h8m-8-2h8m-3 4h8m-5-2h8m231 1h8m-257 2h8m5 2h8m-8 0h8m218 1h8m-6-3h8m-3 3h8m-254 3h8m-7 0h8m-7 1h8m-8 1h8m-1 0h8m222 1h8m-7-2h8m-5-1h8m-3-1h8m-254 7h8m8 0h8m-8-1h8m-6 0h8m208-1h8m-235 7h8m4-2h8m-1 4h8m197-3h8m-1-1h8m-225 8h8m-6-1h8m186 2h8m-5-3h8m-3 1h8m-215 5h8m2-1h8m-6-1h8m-5 3h8m-4 1h8m-2 0h8m166 0h8m-191 3h8m-7-1h8m-7 0h8m-6 0h8m-8-1h8m-7 2h8m-3 0h8m-6 0h8m143 2h8m-1-3h8m-3 0h8m5 0h8m-198 4h8m0 2h8m-7 1h8m-3-2h8m-8 1h8m136 1h8m-6-3h8m-3 1h8m-4 2h8m-1-1h8m-7 1h8m-6-2h8m-175 5h8m3 0h8m20 3h8m94-4h8m-8 3h8m-6-2h8m-121 7h8m1 1h8m-2 0h8m3 0h8m-7-3h8m-6 2h8m7 0h8m-7-1h8m10 2h8m12-2h8m-4-1h8m6 2h8m4-1h8m-116 4h8m0 0h8m-5 2h8m-7 1h8m3-3h8m5 1h8m-4 1h8m-2 1h8m-1-4h8m-6 4h8m-6-2h8m-5 0h8m-8 0h8m2-2h8m-4 0h8m13 0h8m-7 0h8m-73 5h8" stroke="#40af92" stroke-width="8" opacity="0.8"/>
<path transform="scale(.1)" d="M4678 2037h8m-4 0h8m2 0h8m4-1h8m5 0h8m-5 0h8m-63 3h8m-7 1h8m-7-1h8m-2-1h8m-7 4h8m0 0h8m-7-2h8m-6 2h8m-8 0h8m-5-2h8m-5 0h8m-6-2h8m-8 3h8m-4-2h8m-4 0h8m-3 2h8m-6-2h8m0 0h8m-7 3h8m-8-2h8m2 0h8m-5-2h8m6 3h8m-109 5h8m-7-1h8m-5-1h8m-7 1h8m-1 1h8m-8-3h8m-5 4h8m-1-1h8m-4-1h8m0 0h8m21-2h8m-7 1h8m-5 1h8m-6-1h8m-7 1h8m-1 0h8m-6-1h8m6 3h8m-2-4h8m-5 0h8m-3 2h8m0-1h8m-7 1h8m-3 2h8m-142 3h8m-1 0h8m-2 0h8m1 0h8m2-2h8m78 2h8m-3 0h8m-5 1h8m-8 1h8m-4-1h8m-5-3h8m-8 4h8m-2-3h8m-167 8h8m-5 0h8m10-2h8m-6-2h8m-8 3h8m0-3h8m106 0h8m-3 2h8m-163 6h8m-5 1h8m-4 0h8m-7-4h8m-5 2h8m-8-2h8m143 3h8m-5-2h8m-5 1h8m-2 1h8m-6-2h8m-191 6h8m-8-1h8m-4 1h8m-4 1h8m-4-3h8m153 1h8m-6 0h8m5 2h8m-17 3h8m-6-1h8m-3 0h8m-5 4h8m-8-4h8m-207 9h8m-6-4h8m-6 0h8m-5 4h8m-5-1h8m-5 1h8m-5-3h8m-8 0h8m182 0h8m-220 8h8m-8 0h8m-7-1h8m-8-2h8m-7 1h8m202 2h8m-6-3h8m-6 1h8m-6 1h8m-233 6h8m3-3h8m-3-1h8m193 3h8m-7-2h8m-4 0h8m-5 1h8m-7-1h8m-235 6h8m-7 1h8m-4 1h8m-5-3h8m-7-1h8m-7 2h8m208-2h8m-236 9h8m-5-2h8m-6 2h8m-7-1h8m-7-2h8m-8 2h8m-1-2h8m-7-1h8m-6 1h8m204 1h8m-5 0h8m-239 6h8m-7-1h8m-7-2h8m0 2h8m210-1h8m-7 3h8m-231 2h8m-3 0h8m208 3h8m-4-2h8m-240 5h8m-4 2h8m-8-4h8m-7 2h8m-7 1h8m-4 1h8m-7-2h8m207-1h8m-8-1h8m-6 2h8m-5 0h8m-240 4h8m217 0h8m-8 1h8m-3 1h8m-4 1h8m-5-4h8m-244 7h8m-8 2h8m-6 0h8m-8 0h8m-2-1h8m-1 0h8m202 0h8m-1-1h8m-8 2h8m-235 3h8m-8 2h8m-7 3h8m-8-1h8m-4 1h8m-7-1h8m-5-1h8m-7 1h8m195-1h8m2 4h8m-221 3h8m-3-2h8m190 2h8m-5 1h8m-3 1h8m-6-2h8m-219 7h8m-8-1h8m187-1h8m-197 3h8m-6 0h8m-7 4h8m-5-1h8m171 1h8m-3-3h8m-7 3h8m-200 3h8m-8 0h8m-6-2h8m6 4h8m151-3h8m-2 3h8m-7-4h8m0 1h8m-183 8h8m-7-1h8m146-2h8m5 2h8m-5-2h8m-172 7h8m-4 0h8m-3 1h8m-7-1h8m123 0h8m-5-1h8m-1 0h8m-3 0h8m-164 3h8m-1 2h8m-6 2h8m-7-3h8m-6 3h8m-8 0h8m-2-4h8m-3 3h8m-4 0h8m85-1h8m-2-1h8m-4-1h8m5 4h8m-134 1h8m0 4h8m-7-3h8m-8 3h8m-3-2h8m7 0h8m0 0h8m2 1h8m16 0h8m11-2h8m-7 2h8m4 1h8m-6-1h8m-5 1h8m-1-2h8m-102 4h8m-6 2h8m-6-3h8m-7 4h8m-8-2h8m2 1h8m-8 0h8m-5 0h8m2 0h8m-3-3h8m-5 4h8m-3-4h8m-1 0h8m-6 0h8m-6 3h8m-1 0h8m-6-2h8m-4-1h8m-46 6h8m8-1h8m1 0h8" stroke="#5ebb5a" stroke-width="8" opacity="0.8"/>
<path transform="scale(.1)" d="M4683 2047h8m4-1h8m-4 0h8m1 1h8m-3 0h8m-67 4h8m9 0h8m-7-1h8m-4 2h8m-8-1h8m-3-2h8m-5 2h8m11-1h8m-3-2h8m-7 3h8m8 1h8m-7-1h8m-2-3h8m-5 1h8m2 3h8m-5 0h8m-116 5h8m-1-2h8m7 0h8m-2-2h8m-3 0h8m-6 1h8m0 0h8m-6 0h8m-8 0h8m-5-1h8m34 3h8m-6-2h8m-6 3h8m0-4h8m-3 2h8m-2 1h8m-7-1h8m-136 6h8m-8 0h8m-7-1h8m-7 1h8m-7-1h8m-2 1h8m-7-1h8m-8 1h8m-4-2h8m-4 1h8m-1 2h8m-3-4h8m-4 0h8m68 0h8m15 1h8m-151 7h8m-7 1h8m-7-2h8m-6-1h8m-3 3h8m3 0h8m-7-1h8m-6-1h8m98-2h8m13 4h8m-1-1h8m-168 4h8m-7 2h8m-7 0h8m-5-4h8m-8 4h8m-5-3h8m-2 3h8m126-1h8m-2 1h8m-164 1h8m-7 2h8m-8 1h8m-6-3h8m-3 2h8m136-2h8m-7 0h8m-4 1h8m-5 3h8m-7-4h8m-5 0h8m-6 0h8m-8 4h8m-180 5h8m-4 0h8m157-1h8m-3-2h8m-6 0h8m-194 5h8m0-1h8m-2 3h8m161-3h8m-7 3h8m-6-1h8m-7-2h8m-7 0h8m-5 4h8m-5-1h8m-201 4h8m1-2h8m-5 2h8m163-1h8m-6 3h8m-3 0h8m-204 4h8m-6-3h8m-5 1h8m-7-1h8m-6 0h8m-2 0h8m-6 1h8m-21 5h8m-3 2h8m-7-2h8m175 3h8m-5-2h8m-7 1h8m-3 1h8m-212 3h8m-6-2h8m-7 4h8m-6-2h8m-6 1h8m-2-2h8m-6 3h8m173-2h8m-6-1h8m-5-1h8m-206 7h8m3 2h8m173-2h8m-7-2h8m-5 1h8m-6 0h8m-5 0h8m-8 0h8m-7 0h8m-7 1h8m-206 6h8m-6-2h8m-7 3h8m174-1h8m-4-2h8m-5 0h8m-6 2h8m-4-2h8m-206 8h8m-2-3h8m-4 2h8m165-1h8m-194 6h8m-8-3h8m-5 8h8m-3-3h8m-6 4h8m-6 0h8m-3 0h8m-7-1h8m155-1h8m-7 0h8m-6 1h8m-3 0h8m-4 0h8m-193 6h8m-6 0h8m-3-4h8m-6 3h8m150 1h8m2-4h8m-4 1h8m-174 7h8m-7-2h8m-6 1h8m-6 1h8m-6 1h8m138-1h8m-7 0h8m-3-2h8m-5 3h8m-7-4h8m-8 4h8m-172 2h8m-4-1h8m-8 2h8m-5-2h8m-7 3h8m141-2h8m-166 6h8m-7-2h8m-7 1h8m0 3h8m-4-2h8m-8 0h8m-1 0h8m-6 0h8m-3 2h8m100-3h8m-5-1h8m-6 3h8m-1-1h8m-7 2h8m-8-1h8m-149 2h8m-4 0h8m1 1h8m-6 0h8m-6 2h8m-6 0h8m-6-2h8m-6 0h8m77 3h8m-4-1h8m-5 1h8m-5-3h8m-7 1h8m-4-1h8m1 3h8m-8-4h8m0 0h8m-138 6h8m-7-1h8m1 2h8m-3 1h8m-8 0h8m-7-1h8m-5 2h8m-7-3h8m-7 2h8m-7-2h8m-5-1h8m-3 2h8m-8 1h8m5 1h8m21 0h8m12-1h8m-8-3h8m-6 2h8m-7-2h8m-8 1h8m-7-1h8m-6 0h8m-6 0h8m-6 1h8m-5 2h8m-8 1h8m-4-4h8m-95 5h8m-6 2h8m-5-1h8m-7 3h8m-3-3h8m-8 2h8m-6-1h8m-1-1h8m-8 3h8m-5-1h8m-5 1h8m-7-2h8m-7-2h8m-5 1h8m-4 3h8m4-2h8m4 2h8m-3-1h8m4-1h8m-6-2h8m-2 0h8m-5 0h8m-63 8h8m-5-1h8m-5-2h8m6 1h8m-5 0h8" stroke="#94ca43" stroke-width="8" opacity="0.8"/>
<path transform="scale(.1)" d="M4675 2057h8m2-2h8m-7 1h8m1 0h8m-3 1h8m-4-1h8m-2 0h8m-6 1h8m-6-1h8m-6 0h8m1 1h8m-62 2h8m3 1h8m-5 2h8m-5-2h8m-2 2h8m-7-3h8m-5 1h8m-4 1h8m-4-1h8m-4-2h8m-7 4h8m-4-4h8m-3 4h8m-5 0h8m-3-2h8m1 1h8m-104 5h8m-3-3h8m-7 1h8m-7 3h8m-8-2h8m-6 1h8m-6-1h8m-7 1h8m-8 1h8m-3 0h8m-5-3h8m-6 2h8m-6 0h8m-2-2h8m-7 2h8m-7-3h8m-5 2h8m-5-1h8m3 0h8m-1-1h8m-5 0h8m-3 0h8m-7 0h8m7 0h8m-8 1h8m-8-1h8m1 0h8m-5 1h8m-7-1h8m-7 3h8m-4-2h8m-5 1h8m-2 2h8m-127 5h8m-5 0h8m-6 0h8m-6-1h8m-8 1h8m-7-2h8m0 1h8m-7 0h8m-8-3h8m-3 0h8m-6 0h8m-8 2h8m4-2h8m63 2h8m-8 1h8m-5 0h8m-7 0h8m-8-3h8m-6 4h8m-4 0h8m-130 5h8m10-3h8m-8 2h8m103-2h8m-7 0h8m-4 0h8m-149 7h8m0 1h8m-8-4h8m-4 3h8m-7-3h8m-4 3h8m109-1h8m-7-2h8m-6 4h8m-5 0h8m-5-3h8m-7 3h8m-1-1h8m-6 0h8m-158 5h8m-6 0h8m-7-2h8m-3 3h8m-6-2h8m-8-1h8m122-1h8m-4 2h8m-7 0h8m-7-2h8m-153 5h8m-4 2h8m127-1h8m-5 0h8m-7 1h8m-1 1h8m-7-3h8m-172 5h8m-4 3h8m0-1h8m-5-2h8m136 4h8m-7-2h8m-168 5h8m4 1h8m-6-3h8m135 1h8m-5 1h8m-6-1h8m-174 4h8m-4 3h8m-6-2h8m-3-1h8m-3 4h8m138 0h8m-4-4h8m-6 0h8m-3 3h8m-179 3h8m-8 1h8m-7 2h8m-7-1h8m-8 0h8m-7-1h8m-4-1h8m-6-1h8m-6 1h8m-8 0h8m144 3h8m-8-4h8m1 3h8m-7-1h8m-183 6h8m-4 1h8m-8-4h8m-7 2h8m-6-2h8m-8 2h8m-5 1h8m-5-2h8m-7 1h8m142 1h8m-3-2h8m-170 7h8m-8-3h8m-4 4h8m-3 0h8m135-3h8m-6 2h8m2-1h8m-7 0h8m-8-1h8m-7 0h8m-172 4h8m-7 3h8m-4 1h8m-3-2h8m130-1h8m-4 2h8m-7-2h8m0 0h8m-8 2h8m-173 2h8m-2 1h8m-3 2h8m-8-1h8m-7 2h8m-5-3h8m-7-1h8m-7 1h8m-6 1h8m-8 2h8m-6 0h8m122-4h8m-6 4h8m-8-3h8m-6 0h8m-1 2h8m-163 2h8m-4 3h8m-8 1h8m-2-4h8m122 0h8m-5 0h8m-7 0h8m-6 3h8m-8-3h8m-2 1h8m-155 4h8m-1 0h8m-5 3h8m-2-1h8m-8-2h8m-7 2h8m-7-1h8m96 1h8m1 1h8m-4-1h8m-6 0h8m-8 2h8m-7-3h8m-140 5h8m-5 1h8m-7-2h8m-5 4h8m-7-1h8m0-2h8m-3 0h8m70 3h8m-3-2h8m-3-1h8m-6-1h8m0 1h8m1 0h8m-126 5h8m-5-1h8m-8 2h8m-5-2h8m-7 3h8m-7-1h8m1 2h8m0 0h8m-7-3h8m-7 3h8m-2-2h8m9 2h8m20-1h8m-4 1h8m-7 0h8m7-3h8m-6-1h8m-7 1h8m-7 1h8m-8-1h8m-7 1h8m-7 1h8m-2-3h8m-103 7h8m3 1h8m-3-2h8m-5 2h8m-7-2h8m-8 2h8m-8 1h8m-7 0h8m1-1h8m-5 0h8m-7-2h8m-4 3h8m-4-1h8m-6-1h8m-7 1h8m-1 0h8m-7 0h8m-7-1h8m-7 2h8m-4 0h8m3-1h8m-6-3h8m-7 4h8m-6-1h8m-5-3h8m-74 6h8m-2 0h8m-4-1h8m-4 2h8m-7 0h8m-3 1h8m18-1h8" stroke="#ced934" stroke-width="8" opacity="0.8"/>
<path transform="scale(.1)" d="M4673 2067h8m5 0h8m-2 0h8m-3-1h8m-7 1h8m-7-1h8m-6 0h8m-7-1h8m-4 1h8m-7 1h8m2 0h8m-58 2h8m7 2h8m-7 0h8m-5-2h8m-2 2h8m-7 1h8m-4-1h8m-5 1h8m-7 0h8m-6-3h8m-6 3h8m-2-3h8m-5 3h8m2 0h8m-4 0h8m-7 0h8m-87 5h8m-2-2h8m-5 1h8m-8-3h8m-7 1h8m-6 1h8m-6 0h8m-7-1h8m-7-1h8m-5 3h8m-7-3h8m-6 0h8m-4 2h8m6 0h8m-2 0h8m-4-2h8m-8 0h8m-4 1h8m-7 1h8m-6-2h8m-8 1h8m-6-1h8m-1 2h8m-8-1h8m-5 1h8m-7 1h8m1-1h8m-7 2h8m-1-2h8m-1 1h8m-110 2h8m-5 4h8m-7-2h8m-5 2h8m-8-1h8m-1 1h8m-7-2h8m-8 0h8m-8 2h8m-6 0h8m-7-2h8m-5-1h8m-8 3h8m-5-4h8m47 1h8m-7 1h8m-5 0h8m-6 1h8m-100 6h8m-6-4h8m-8 3h8m0 1h8m-5-3h8m-1-1h8m-5 0h8m69 1h8m-5 0h8m-8-1h8m-5 3h8m-7-2h8m-2 3h8m-5-3h8m-7 1h8m-7-1h8m-8 0h8m-129 6h8m-7-2h8m-3 4h8m-8-4h8m-7 2h8m-7-2h8m-8 0h8m-5 3h8m88-2h8m1-1h8m-7 1h8m-7 1h8m-2-1h8m-138 4h8m-7 2h8m-5-1h8m-3-1h8m-7 4h8m-7-4h8m-3 0h8m-6 0h8m-7 2h8m-7-2h8m90 0h8m-7 2h8m-6 0h8m-8 1h8m-5 1h8m3-1h8m-144 2h8m-7 0h8m-8 4h8m-2-2h8m-1 2h8m-7-4h8m98 2h8m-7 0h8m-7 1h8m-7 1h8m-5-1h8m-8 1h8m-6-4h8m-8 4h8m-5 0h8m-142 5h8m-5-1h8m-7-2h8m-5 0h8m-8 2h8m-5 1h8m-4-4h8m-7 1h8m101 2h8m-2 0h8m-4-2h8m-7 0h8m-7 2h8m-3 1h8m-151 5h8m-7-4h8m-8 3h8m-7 1h8m-4-3h8m-7 1h8m-5-2h8m-6 2h8m-7-2h8m-4 4h8m-7-2h8m-7 0h8m99 2h8m0 0h8m-6-1h8m-6 0h8m-8-3h8m-145 5h8m0 3h8m-8 1h8m-8-4h8m-6 3h8m-5-3h8m-8 2h8m106 0h8m-5 0h8m-4-2h8m-4 0h8m-142 7h8m-3-1h8m-3 1h8m112-1h8m-2 0h8m-141 7h8m-6-3h8m-7 3h8m-6-2h8m-5-1h8m-7 2h8m-6-1h8m-8-1h8m-4 0h8m-6 1h8m-6 3h8m80 0h8m-6 0h8m-7 0h8m-3-4h8m-6 0h8m-7 2h8m-7 2h8m-1 0h8m-8-2h8m-7 1h8m-7-3h8m-8 1h8m-134 6h8m-7 2h8m-8 0h8m4-4h8m-6 0h8m-5 2h8m-7-2h8m-7 4h8m76-1h8m-3 1h8m-7-4h8m-6 3h8m-6 1h8m-6 0h8m-8 0h8m-120 3h8m-4 1h8m-4-1h8m-1 1h8m0-3h8m-3 3h8m-6 1h8m45-1h8m2-1h8m-8-2h8m-6 0h8m-6 0h8m-4 4h8m-7-4h8m-3 2h8m-5 0h8m-4 0h8m-113 3h8m-7 2h8m-5-1h8m-7 2h8m-7 1h8m-7-1h8m-4-3h8m-7 4h8m-6-3h8m-5 1h8m-4 1h8m-4-1h8m-6 0h8m-7 0h8m-8-1h8m-7 2h8m-4 1h8m-5-1h8m-5 0h8m0 1h8m-4-1h8m3 0h8m-5 1h8m-3-3h8m-7 1h8m-6-2h8m-6 1h8m-6 0h8m-6 3h8m-1-4h8m-2 4h8m-5-1h8m-94 2h8m-2 0h8m-8 1h8m-1 0h8m-5 1h8m-4 2h8m-7-1h8m-7 0h8m-4-3h8m-7 2h8m-7 0h8m-4-1h8m-6-1h8m-5 0h8m-6 2h8m-2 2h8m1-1h8m3-2h8m-3 0h8m-4 1h8m-4 0h8m-74 3h8m-3 0h8m-5 1h8m-3 0h8m6 2h8m-6-2h8m-4 1h8m-8-2h8m-6 1h8m-5 2h8m1-3h8" stroke="#e6b82c" stroke-width="8" opacity="0.8"/>
<path transform="scale(.1)" d="M4681 2080h8m-7 1h8m-8 1h8m-6-3h8m-6 1h8m-3 2h8m-5-2h8m-7-1h8m-6 1h8m-6 0h8m-6-2h8m1 4h8m-8-1h8m-3-2h8m-66 7h8m-3 0h8m-7-2h8m-6 2h8m-7 1h8m-7-3h8m-3 1h8m-7-1h8m-4 2h8m-5 1h8m-8 0h8m-7 0h8m-7-3h8m-5 2h8m-7-3h8m-7 2h8m-6 0h8m-4-2h8m-8 4h8m-8 0h8m-3-4h8m-8 4h8m-6-2h8m-8 2h8m-8-1h8m-6-3h8m-7 4h8m2-4h8m-3 2h8m-6-1h8m-79 7h8m2 0h8m-3-1h8m-7 0h8m-6 0h8m-8 2h8m-7 0h8m-6-4h8m-6 0h8m-7 3h8m-3 0h8m-3-3h8m-8 4h8m-6-2h8m-6-2h8m-7 3h8m-6-3h8m-5 0h8m-5 1h8m-6 3h8m-1-1h8m-4 1h8m5-1h8m-5-1h8m-7-1h8m-7 1h8m-1-1h8m-7 0h8m-4 2h8m-99 2h8m-5 4h8m0-4h8m-4 3h8m-7-1h8m-4 2h8m-5-2h8m-7-2h8m-4 2h8m13-2h8m-7 0h8m-4 0h8m-3 2h8m-3 0h8m-7-2h8m-3 2h8m-5 0h8m-4 2h8m-8-4h8m-4 4h8m-3-3h8m-6 0h8m-94 8h8m-4-3h8m-5 0h8m-8 0h8m-8 1h8m-7-1h8m-3 0h8m-8 1h8m-6 2h8m-6-1h8m-3-2h8m-7 0h8m36-1h8m-5 3h8m-7 0h8m-7-2h8m-1 0h8m0-1h8m-7 2h8m-5 1h8m-7-3h8m-6 1h8m-111 8h8m-4-1h8m-6 1h8m-7-1h8m-5 0h8m-7 1h8m-7-4h8m-5 2h8m-6-1h8m-3 2h8m-7-1h8m-3-2h8m42 1h8m-5 2h8m-3 1h8m-6-1h8m-7-3h8m-5 4h8m-6-1h8m-8-2h8m-6 3h8m-7-4h8m-7 4h8m-8-2h8m-5 1h8m-4-2h8m-101 7h8m-6-1h8m-5 0h8m-4 2h8m-7-1h8m-8-1h8m-7-1h8m-8 3h8m-6 0h8m-6-2h8m-8 2h8m44-2h8m-7 2h8m-6-1h8m-7 1h8m-7-4h8m-7 4h8m-7-4h8m-8 1h8m-4-1h8m-7 1h8m-8 3h8m-5-3h8m-8 3h8m-2-1h8m-4 0h8m-7 1h8m-8-3h8m-111 7h8m-8-2h8m-8 2h8m-5-3h8m-7 1h8m-5 0h8m-3 2h8m-7-2h8m-5 0h8m-1-1h8m-6 1h8m-4 3h8m35 0h8m-5-2h8m-5 1h8m-5 0h8m-8-3h8m-7 2h8m-6-2h8m-7 1h8m-8-1h8m-6 2h8m-1 1h8m-3-1h8m-8 0h8m-7-2h8m-7 3h8m-105 6h8m-8-2h8m-5-2h8m-7 1h8m-1-1h8m-5 3h8m-6 0h8m-6 0h8m-8-3h8m-3 4h8m-1-1h8m27 1h8m-7 0h8m-8 0h8m-8-3h8m-7 1h8m-6-2h8m-7 2h8m-6 1h8m-5-1h8m-6 2h8m-6-3h8m-1 3h8m-7-2h8m-6 2h8m-5-2h8m-5-1h8m-101 5h8m-3 2h8m-5 0h8m0 0h8m-7-2h8m-5 2h8m-4 1h8m-7-4h8m-6 3h8m-8-1h8m-8 1h8m-7-3h8m-8 0h8m-7 4h8m-7-1h8m-6-3h8m-4 4h8m-6-4h8m-1 3h8m-7-2h8m-6 2h8m-5-1h8m-6 1h8m-7 1h8m-6-2h8m-7 1h8m-8-1h8m-4 0h8m-8-2h8m-8 2h8m-6-1h8m-6 0h8m-6 2h8m-7 1h8m-7-2h8m-5 2h8m-6-3h8m-5 1h8m-8 2h8m2-4h8m-85 6h8m-6-1h8m-7 3h8m-2-2h8m0 0h8m-5-1h8m-5 1h8m-7 2h8m-6-1h8m-7 1h8m-7 0h8m-6 0h8m-7-2h8m1 2h8m-2-1h8m0 1h8m-8-2h8m-7 0h8m-7 3h8m-6-2h8m-4-2h8m-5 1h8m-8-1h8m-7 4h8m-6-1h8m-6 0h8m-7-2h8m-5-1h8m-70 9h8m-6 0h8m-6-2h8m-8-1h8m4 3h8m-5-4h8m-3 2h8m3-2h8m-7 2h8m-5 0h8m-8-1h8m-3 1h8m-1-2h8m-7 0h8m-42 5h8m-4 2h8m-5 0h8" stroke="#f38d28" stroke-width="8" opacity="0.8"/>
<path transform="scale(.1)" d="M4696 2095h8m-8 0h8m-1 1h8m-6-1h8m-7 1h8m-5 0h8m-8 0h8m-45 5h8m-2-2h8m-6 2h8m-7-1h8m-6-1h8m-5-1h8m-8 1h8m-8 0h8m-7 2h8m-6-2h8m-4 0h8m-8-1h8m5 2h8m-8 2h8m-7-4h8m-8 1h8m-6 1h8m-6 0h8m-4 1h8m-8-1h8m-50 4h8m-6 0h8m-8 0h8m-4-1h8m-7 4h8m-5-2h8m-7 1h8m-4-2h8m-7 3h8m-8-4h8m0 2h8m-4 2h8m-6 0h8m-7-1h8m-8 1h8m-7-3h8m-8 1h8m-7-1h8m-6 1h8m0 2h8m-8-4h8m-8 2h8m-7-1h8m-7 0h8m-58 5h8m-7-1h8m-6 1h8m-7 1h8m-3-2h8m-6 0h8m-5 3h8m-4-3h8m-7 4h8m-4-1h8m-2 0h8m-5 0h8m-8-2h8m-8 0h8m-7 2h8m-7-2h8m-8 2h8m-3-1h8m-7-1h8m-4 0h8m-8 3h8m-5-4h8m-5 3h8m-8-3h8m-52 8h8m-8 0h8m-4-1h8m-6 0h8m-8-1h8m0 1h8m-3 0h8m-6-1h8m-6 2h8m-7-1h8m-7-1h8m-4 3h8m-8-4h8m-7 3h8m-3-2h8m-3 0h8m-46 4h8m-7 0h8m-6 0h8m-2 2h8m-7-1h8m-7 1h8m-8 2h8m-3-1h8m-6 0h8m-1 0h8m-3 0h8" stroke="#eb5d28" stroke-width="8" opacity="0.8"/>
</g>
<path d="M433.40 148.90 L465.40 148.90 L462.90 191.20 L433.70 192.30 Z" stroke="#231f20" stroke-width="0.9" fill="none" stroke-linejoin="miter" />
<text x="433.70" y="155.60" font-size="6.0" text-anchor="start" fill="#231f20" stroke="#231f20" stroke-width="0.18" textLength="69.80" lengthAdjust="spacingAndGlyphs" >Antigen  presenting cells</text>
<path d="M427.20 145.40 H513.00 V230.60" stroke="#b8b8b8" stroke-width="0.7" fill="none"/>
<path d="M427.20 145.40 V230.60 H513.00" stroke="#555" stroke-width="0.5" fill="none"/>
<path d="M422.80 227.06H427.20M422.80 225.64H427.20M422.80 219.95H427.20M422.80 214.26H427.20M422.80 212.84H427.20M422.80 211.42H427.20M422.80 192.60H427.20M422.80 173.60H427.20M422.80 154.60H427.20" stroke="#231f20" stroke-width="1.5"/>
<path d="M424.90 229.90H427.20M424.90 228.48H427.20M424.90 224.21H427.20M424.90 222.79H427.20M424.90 221.37H427.20M424.90 218.53H427.20M424.90 217.11H427.20M424.90 215.69H427.20M424.90 210.00H427.20M424.90 205.88H427.20M424.90 202.53H427.20M424.90 200.16H427.20M424.90 198.32H427.20M424.90 196.82H427.20M424.90 195.54H427.20M424.90 194.44H427.20M424.90 193.47H427.20M424.90 186.88H427.20M424.90 183.53H427.20M424.90 181.16H427.20M424.90 179.32H427.20M424.90 177.82H427.20M424.90 176.54H427.20M424.90 175.44H427.20M424.90 174.47H427.20M424.90 167.88H427.20M424.90 164.53H427.20M424.90 162.16H427.20M424.90 160.32H427.20M424.90 158.82H427.20M424.90 157.54H427.20M424.90 156.44H427.20M424.90 155.47H427.20M424.90 148.88H427.20" stroke="#231f20" stroke-width="0.7"/>
<path d="M427.90 230.60V235.00M431.91 230.60V235.00M433.25 230.60V235.00M434.59 230.60V235.00M438.60 230.60V235.00M439.94 230.60V235.00M442.62 230.60V235.00M445.30 230.60V235.00M446.63 230.60V235.00M449.31 230.60V235.00M453.32 230.60V235.00M454.66 230.60V235.00M457.50 230.60V235.00M475.50 230.60V235.00M493.50 230.60V235.00M511.50 230.60V235.00" stroke="#231f20" stroke-width="1.5"/>
<path d="M429.24 230.60V232.90M430.58 230.60V232.90M435.93 230.60V232.90M437.27 230.60V232.90M441.28 230.60V232.90M443.96 230.60V232.90M447.97 230.60V232.90M450.65 230.60V232.90M451.99 230.60V232.90M456.00 230.60V232.90M462.92 230.60V232.90M466.09 230.60V232.90M468.34 230.60V232.90M470.08 230.60V232.90M471.51 230.60V232.90M472.71 230.60V232.90M473.76 230.60V232.90M474.68 230.60V232.90M480.92 230.60V232.90M484.09 230.60V232.90M486.34 230.60V232.90M488.08 230.60V232.90M489.51 230.60V232.90M490.71 230.60V232.90M491.76 230.60V232.90M492.68 230.60V232.90M498.92 230.60V232.90M502.09 230.60V232.90M504.34 230.60V232.90M506.08 230.60V232.90M507.51 230.60V232.90M508.71 230.60V232.90M509.76 230.60V232.90M510.68 230.60V232.90" stroke="#231f20" stroke-width="0.7"/>
<text x="407.85" y="157.00" font-size="5.3" text-anchor="start" fill="#231f20" stroke="#231f20" stroke-width="0.28" >10</text>
<text x="414.95" y="153.10" font-size="4.77" text-anchor="start" fill="#231f20" stroke="#231f20" stroke-width="0.28" >5</text>
<text x="407.85" y="176.00" font-size="5.3" text-anchor="start" fill="#231f20" stroke="#231f20" stroke-width="0.28" >10</text>
<text x="414.95" y="172.10" font-size="4.77" text-anchor="start" fill="#231f20" stroke="#231f20" stroke-width="0.28" >4</text>
<text x="407.85" y="195.00" font-size="5.3" text-anchor="start" fill="#231f20" stroke="#231f20" stroke-width="0.28" >10</text>
<text x="414.95" y="191.10" font-size="4.77" text-anchor="start" fill="#231f20" stroke="#231f20" stroke-width="0.28" >3</text>
<text x="413.00" y="222.40" font-size="5.3" text-anchor="middle" fill="#231f20" stroke="#231f20" stroke-width="0.16" >0</text>
<text x="442.50" y="242.60" font-size="5.2" text-anchor="middle" fill="#231f20" stroke="#231f20" stroke-width="0.16" >0</text>
<text x="476.05" y="242.60" font-size="5.3" text-anchor="start" fill="#231f20" stroke="#231f20" stroke-width="0.28" >10</text>
<text x="483.15" y="238.70" font-size="4.77" text-anchor="start" fill="#231f20" stroke="#231f20" stroke-width="0.28" >3</text>
<text x="471.50" y="251.40" font-size="6.5" text-anchor="middle" fill="#231f20" stroke="#231f20" stroke-width="0.20" textLength="74.00" lengthAdjust="spacingAndGlyphs" >Lineage (CD3, 19, 20) FITC</text>
<text x="406.00" y="196.00" font-size="6.5" text-anchor="middle" fill="#231f20" stroke="#231f20" stroke-width="0.20" textLength="47.70" lengthAdjust="spacingAndGlyphs" transform="rotate(-90 406.00 196.00)" >HLA-DR Qdot 605</text>
<clipPath id="c10"><rect x="72.80" y="282.30" width="82.00" height="80.90"/></clipPath>
<g clip-path="url(#c10)">
<linearGradient id="q1fade" x1="0" y1="0" x2="1" y2="0"><stop offset="0" stop-color="#fff" stop-opacity="0"/><stop offset="0.52" stop-color="#fff" stop-opacity="0"/><stop offset="0.7" stop-color="#fff" stop-opacity="0.25"/><stop offset="1" stop-color="#fff" stop-opacity="0.42"/></linearGradient>
<path d="M73.00 282.00 L155.00 282.00 L155.00 344.00 L140.00 349.00 L125.00 353.00 L110.00 357.00 L95.00 361.00 L85.00 363.20 L73.00 363.20 Z" fill="#22559a" filter="url(#b1)"/>
<rect x="73" y="282" width="82" height="80" fill="url(#q1fade)"/>
<path d="M128.5 343.9h0.8M148.3 301.9h0.8M148.9 343.5h0.8M128.5 342.7h0.8M132.7 321.0h0.8M150.8 314.4h0.8M138.3 296.2h0.8M147.5 286.6h0.8M152.5 308.2h0.8M133.5 300.1h0.8M154.5 319.3h0.8M129.2 307.6h0.8M146.9 329.1h0.8M138.4 310.0h0.8M133.6 336.8h0.8M140.1 336.3h0.8M141.9 294.5h0.8M133.2 314.2h0.8M140.4 300.0h0.8M135.2 331.2h0.8M145.9 284.4h0.8M140.6 288.8h0.8M140.6 301.8h0.8M150.2 310.2h0.8M124.1 293.2h0.8M148.3 295.3h0.8M150.4 330.3h0.8M144.1 302.0h0.8M145.0 300.1h0.8M123.0 292.9h0.8M129.0 284.9h0.8M139.9 344.3h0.8M142.0 321.6h0.8M152.9 283.9h0.8M147.6 321.4h0.8M142.7 300.0h0.8M141.5 290.8h0.8M141.0 302.0h0.8M145.7 295.8h0.8M145.7 327.4h0.8M132.5 318.4h0.8M125.4 301.3h0.8M120.3 294.2h0.8M144.3 334.0h0.8M140.4 333.6h0.8M139.0 290.7h0.8M129.5 288.6h0.8M127.5 320.9h0.8M126.7 335.5h0.8M144.1 293.0h0.8M144.9 329.4h0.8M128.9 332.2h0.8M147.0 344.7h0.8M131.3 310.1h0.8M142.3 338.6h0.8M139.7 285.8h0.8M150.8 303.5h0.8M122.0 307.4h0.8M152.9 311.1h0.8M152.9 286.6h0.8M129.6 316.9h0.8M154.1 309.3h0.8M149.0 292.3h0.8M147.1 287.3h0.8M131.1 292.0h0.8M152.8 285.3h0.8M144.0 297.3h0.8M148.9 301.9h0.8M139.0 330.7h0.8M126.8 316.9h0.8M153.4 332.0h0.8M135.3 302.6h0.8M153.1 286.8h0.8M146.7 295.9h0.8M125.5 282.6h0.8M143.6 305.5h0.8M128.7 301.1h0.8M140.0 304.7h0.8M139.2 287.7h0.8M133.8 289.0h0.8M151.0 286.8h0.8M127.0 323.3h0.8M134.9 283.9h0.8M130.7 326.7h0.8M129.5 332.1h0.8M154.1 331.4h0.8M143.2 330.9h0.8M153.4 283.1h0.8M140.3 310.8h0.8M145.3 332.2h0.8M138.4 334.2h0.8M140.8 285.0h0.8M142.7 313.5h0.8M147.5 306.1h0.8M135.7 333.3h0.8M144.3 326.7h0.8M130.7 298.5h0.8M150.6 334.0h0.8M124.4 315.4h0.8M128.7 317.8h0.8M132.9 340.2h0.8M142.4 287.2h0.8M126.6 300.7h0.8M132.7 332.6h0.8M141.4 305.9h0.8M125.6 315.6h0.8M127.7 334.9h0.8M148.7 338.1h0.8M124.2 306.0h0.8M145.1 324.1h0.8M152.8 334.0h0.8M131.9 347.7h0.8M147.0 293.9h0.8M140.3 293.5h0.8M133.2 326.4h0.8M148.0 296.1h0.8M138.2 291.8h0.8M133.4 310.5h0.8M135.5 333.0h0.8M129.8 336.1h0.8M143.0 345.3h0.8M128.3 314.0h0.8M151.6 333.9h0.8M135.9 306.9h0.8M144.6 297.9h0.8M119.3 283.9h0.8M121.0 290.3h0.8M126.9 328.2h0.8M124.9 307.6h0.8M147.2 300.2h0.8M137.9 339.3h0.8M132.0 342.1h0.8M137.2 300.4h0.8M129.7 284.2h0.8M141.1 337.5h0.8M145.4 313.5h0.8M127.0 308.6h0.8M124.3 316.2h0.8M141.9 282.4h0.8M146.9 319.0h0.8M149.3 339.2h0.8M150.0 308.8h0.8M125.8 323.1h0.8M150.6 343.9h0.8M121.9 289.0h0.8M126.1 311.0h0.8M135.2 284.4h0.8M149.2 325.6h0.8M128.2 284.0h0.8M145.7 340.8h0.8M131.3 287.3h0.8M145.4 305.9h0.8M124.0 289.6h0.8M138.2 345.0h0.8M153.2 299.0h0.8M147.0 286.1h0.8M153.8 287.3h0.8M150.1 312.7h0.8M125.3 323.8h0.8M141.4 337.6h0.8M135.5 284.7h0.8M141.8 316.0h0.8M145.2 301.5h0.8M137.6 282.6h0.8M131.8 293.1h0.8M122.5 302.4h0.8M141.0 282.7h0.8M144.6 317.4h0.8M122.6 292.8h0.8M133.4 339.8h0.8M120.6 287.7h0.8M153.0 290.6h0.8M134.9 332.2h0.8M123.6 297.1h0.8M153.3 293.0h0.8M137.6 336.9h0.8M139.8 300.0h0.8M128.7 295.2h0.8M133.4 289.6h0.8M127.9 334.0h0.8M136.7 282.8h0.8M134.9 321.1h0.8M152.0 305.8h0.8M119.1 285.0h0.8M124.6 307.0h0.8M131.6 288.8h0.8M152.1 286.4h0.8M122.1 282.6h0.8M120.4 287.5h0.8M145.8 315.5h0.8M148.5 287.5h0.8M141.2 305.0h0.8M140.1 321.1h0.8M146.5 303.0h0.8M142.2 308.1h0.8M133.1 334.5h0.8M146.8 345.7h0.8M142.3 346.4h0.8M128.5 316.8h0.8M135.8 346.2h0.8M147.6 287.9h0.8M125.0 301.1h0.8M147.3 318.3h0.8M142.9 304.3h0.8M132.3 288.0h0.8M128.4 300.8h0.8M123.7 293.5h0.8M147.3 335.1h0.8M141.8 297.7h0.8M143.0 328.4h0.8M131.9 312.7h0.8M151.2 297.5h0.8M122.2 303.4h0.8M122.4 306.0h0.8M136.1 343.1h0.8M142.2 291.8h0.8M125.9 299.8h0.8M131.5 349.1h0.8M145.8 313.4h0.8M119.6 288.7h0.8M148.8 339.6h0.8M138.4 289.6h0.8M136.3 339.7h0.8M154.4 343.7h0.8M128.2 318.6h0.8M148.3 284.8h0.8M144.2 303.3h0.8M131.3 288.1h0.8M151.1 285.9h0.8M130.9 301.7h0.8M132.8 282.9h0.8M128.8 326.0h0.8M133.7 334.4h0.8M123.8 300.5h0.8M129.3 306.5h0.8M135.4 329.2h0.8M138.7 329.2h0.8M132.6 304.9h0.8M152.7 336.9h0.8M133.6 301.8h0.8M135.2 330.0h0.8M137.1 333.5h0.8M130.0 335.3h0.8M143.3 322.9h0.8M146.1 327.9h0.8M147.7 312.5h0.8M123.4 298.5h0.8M134.2 347.0h0.8M154.3 286.6h0.8M144.9 293.6h0.8M145.7 301.0h0.8M124.5 310.0h0.8M149.0 319.4h0.8M134.7 302.8h0.8M128.2 296.4h0.8M141.3 328.2h0.8M140.6 305.9h0.8M141.8 329.4h0.8M124.7 305.5h0.8M140.8 322.6h0.8M124.9 307.9h0.8M149.8 315.7h0.8M152.3 330.6h0.8M127.2 329.4h0.8M125.5 292.1h0.8M144.6 332.7h0.8M133.5 290.3h0.8M148.2 333.8h0.8M131.5 340.4h0.8M137.8 287.3h0.8M141.8 330.7h0.8M151.1 296.0h0.8M145.3 336.4h0.8M129.5 312.8h0.8M122.1 289.9h0.8M126.2 335.5h0.8M146.4 337.1h0.8M126.5 335.9h0.8M129.6 333.7h0.8M137.9 293.1h0.8M147.6 338.3h0.8M148.6 328.2h0.8M128.5 290.4h0.8M132.2 287.7h0.8M143.5 294.2h0.8M151.4 318.5h0.8M124.8 296.1h0.8M132.7 302.9h0.8M140.7 300.9h0.8M138.8 301.8h0.8M133.0 342.8h0.8M135.6 319.8h0.8M124.0 289.8h0.8M149.3 342.8h0.8M148.3 315.6h0.8M141.9 284.5h0.8M148.3 341.0h0.8M128.8 290.9h0.8M139.9 346.7h0.8M143.5 286.1h0.8M138.2 344.7h0.8M137.4 305.3h0.8M146.2 336.6h0.8M137.4 314.9h0.8M131.0 303.0h0.8M152.0 327.8h0.8M147.5 287.5h0.8M141.7 286.9h0.8M131.7 316.8h0.8M147.0 319.3h0.8M148.4 317.1h0.8M134.0 346.7h0.8M132.4 316.1h0.8M127.6 309.1h0.8M124.0 313.4h0.8M128.6 319.7h0.8M132.7 308.7h0.8M151.4 293.8h0.8M146.3 314.6h0.8M141.1 317.0h0.8M141.0 335.3h0.8M131.4 305.8h0.8M150.2 283.6h0.8M130.5 331.2h0.8M130.1 344.3h0.8M148.9 308.2h0.8M143.4 329.0h0.8M142.4 335.1h0.8M141.4 289.8h0.8M147.8 317.0h0.8M134.0 285.0h0.8M124.6 289.0h0.8M141.1 321.4h0.8M123.9 308.5h0.8M130.1 301.0h0.8M136.9 329.2h0.8M118.7 282.1h0.8M146.8 302.5h0.8M134.2 343.1h0.8M138.6 305.6h0.8M145.2 311.5h0.8M126.1 321.6h0.8M151.3 337.5h0.8M132.9 340.2h0.8M132.1 319.6h0.8M149.8 295.9h0.8M141.0 332.2h0.8M132.1 329.0h0.8M122.0 305.8h0.8M150.2 293.5h0.8M129.3 325.4h0.8M127.3 284.7h0.8M132.9 346.9h0.8M133.4 288.3h0.8M131.8 313.3h0.8M139.2 342.1h0.8M128.9 345.7h0.8M129.6 342.4h0.8M136.3 339.8h0.8M147.0 342.2h0.8M127.4 306.2h0.8M132.3 317.6h0.8M142.7 305.6h0.8M143.3 316.7h0.8M140.4 317.9h0.8M122.4 285.9h0.8M125.8 291.5h0.8M137.4 289.4h0.8M147.4 295.7h0.8M132.7 309.6h0.8M135.4 305.0h0.8M127.5 304.1h0.8M152.4 318.6h0.8M119.3 288.5h0.8M132.7 302.5h0.8M141.6 341.9h0.8M127.7 293.7h0.8M136.8 292.9h0.8M146.4 293.9h0.8M154.4 335.9h0.8M132.0 291.1h0.8M130.7 334.6h0.8M125.9 313.9h0.8M127.2 310.6h0.8M123.9 297.7h0.8M132.4 333.0h0.8M126.1 304.9h0.8M134.4 347.4h0.8M140.7 305.2h0.8M124.3 293.2h0.8M141.6 289.1h0.8M136.4 324.3h0.8M143.4 326.2h0.8M148.4 327.4h0.8M135.6 332.3h0.8M144.7 309.7h0.8M139.4 314.8h0.8M132.2 286.1h0.8M125.9 324.9h0.8M130.1 293.7h0.8M136.9 282.9h0.8M131.9 334.0h0.8M133.3 289.6h0.8M138.5 296.2h0.8M134.2 283.0h0.8M138.7 314.8h0.8M147.4 331.7h0.8M150.4 322.3h0.8M150.9 282.6h0.8M143.5 339.9h0.8M154.6 338.5h0.8M146.3 311.2h0.8M154.0 330.3h0.8M148.8 292.1h0.8M149.7 285.6h0.8M149.4 334.6h0.8M133.2 338.7h0.8M126.6 331.3h0.8M135.9 310.5h0.8M142.8 287.0h0.8M151.2 287.9h0.8M146.8 318.8h0.8M127.8 310.9h0.8M134.0 339.8h0.8M137.9 305.2h0.8M144.8 302.6h0.8M142.5 288.5h0.8M139.7 315.4h0.8M149.9 331.8h0.8M131.8 303.2h0.8M140.6 288.4h0.8M124.6 315.4h0.8M147.0 312.8h0.8M139.0 330.9h0.8M129.6 285.5h0.8M133.8 331.6h0.8M152.0 283.4h0.8M149.6 321.4h0.8M130.0 292.5h0.8M132.7 283.1h0.8M129.0 337.2h0.8M120.3 293.2h0.8M149.6 302.4h0.8M143.2 346.5h0.8M149.6 304.6h0.8M149.6 282.2h0.8M135.4 346.4h0.8M127.2 292.5h0.8M135.3 331.0h0.8M125.2 290.1h0.8M126.0 287.9h0.8M135.5 306.9h0.8M128.3 318.3h0.8M133.5 297.0h0.8M130.7 305.9h0.8M124.7 308.9h0.8M130.5 314.0h0.8M128.3 306.6h0.8M134.4 305.2h0.8M144.8 324.6h0.8M135.7 316.4h0.8M141.7 305.4h0.8M131.3 285.2h0.8M131.2 298.4h0.8M139.7 307.4h0.8M134.3 332.1h0.8M151.5 309.8h0.8M147.3 329.9h0.8M121.0 284.6h0.8M134.5 300.8h0.8M138.1 322.7h0.8M144.2 295.9h0.8M144.2 330.7h0.8M136.8 294.4h0.8M144.9 284.0h0.8M126.1 306.0h0.8M154.8 291.8h0.8M140.8 312.5h0.8M134.0 331.3h0.8M130.5 301.6h0.8M133.5 283.6h0.8M146.6 331.8h0.8M125.0 283.6h0.8M128.3 292.7h0.8M142.8 340.9h0.8M151.5 319.0h0.8M152.5 309.6h0.8M133.9 304.5h0.8M128.5 299.8h0.8M132.2 326.2h0.8M129.8 346.8h0.8M148.8 304.0h0.8M137.0 332.9h0.8M131.5 298.1h0.8M138.4 334.9h0.8M148.7 287.8h0.8M136.0 292.8h0.8M134.2 284.8h0.8M147.8 290.2h0.8M141.5 329.0h0.8M130.6 327.6h0.8M143.2 306.7h0.8M147.2 298.1h0.8M149.7 300.8h0.8M144.1 339.7h0.8M129.1 296.3h0.8M141.0 291.1h0.8M154.9 338.7h0.8M129.3 347.3h0.8M150.5 327.6h0.8M142.0 321.1h0.8M121.8 294.7h0.8M142.6 303.3h0.8M126.2 307.8h0.8M134.7 301.2h0.8M148.6 294.3h0.8M127.0 335.5h0.8M146.2 321.2h0.8M137.9 315.5h0.8M141.4 300.0h0.8M148.2 339.4h0.8M140.7 316.6h0.8M137.4 292.9h0.8M145.7 318.0h0.8M144.9 321.6h0.8M145.6 339.4h0.8M145.5 319.1h0.8M152.2 296.2h0.8M154.8 300.2h0.8M133.8 346.6h0.8M127.9 336.5h0.8M121.5 284.7h0.8M144.4 316.6h0.8M134.8 290.7h0.8M126.7 301.8h0.8M146.4 285.8h0.8M148.3 316.5h0.8M136.1 296.3h0.8M149.0 335.7h0.8M133.8 341.0h0.8M154.6 289.1h0.8M125.3 307.8h0.8M127.4 332.1h0.8M133.4 313.6h0.8M147.1 326.8h0.8M124.9 304.9h0.8M147.0 325.8h0.8M128.1 306.5h0.8M147.7 310.2h0.8M128.5 332.9h0.8M125.1 301.3h0.8M129.5 297.6h0.8M127.3 325.9h0.8M124.8 283.0h0.8M147.5 308.5h0.8M128.2 303.3h0.8M145.8 317.4h0.8M142.0 310.6h0.8M131.3 327.4h0.8M146.3 320.9h0.8M138.9 312.4h0.8M133.3 305.4h0.8M137.6 331.2h0.8M146.5 286.2h0.8M141.7 346.3h0.8M154.1 311.3h0.8M154.9 342.5h0.8M130.6 301.0h0.8M141.2 298.4h0.8M136.5 334.5h0.8M141.2 332.3h0.8M131.4 310.7h0.8M149.4 306.4h0.8M149.1 283.8h0.8M131.4 283.4h0.8M140.7 310.5h0.8M127.4 329.1h0.8M130.1 290.4h0.8M122.9 301.8h0.8M123.9 292.2h0.8M120.2 288.1h0.8M147.3 304.1h0.8M133.6 282.6h0.8M128.1 317.7h0.8M135.0 290.8h0.8M151.2 310.4h0.8M130.0 342.2h0.8M145.6 340.9h0.8M141.5 300.9h0.8M129.5 283.7h0.8M142.2 291.8h0.8M138.9 344.3h0.8M144.7 329.4h0.8M148.5 308.0h0.8M147.5 287.8h0.8M142.9 320.8h0.8M153.4 329.2h0.8M150.1 335.4h0.8M128.7 286.1h0.8M126.5 319.7h0.8M151.7 328.8h0.8M136.6 347.3h0.8M127.2 290.0h0.8M137.6 293.3h0.8M129.2 292.9h0.8M133.3 325.9h0.8M150.2 344.0h0.8M146.5 319.8h0.8M127.4 295.6h0.8M121.8 287.4h0.8M150.6 329.0h0.8M146.1 319.8h0.8M135.1 343.4h0.8M144.9 296.2h0.8M152.8 320.6h0.8M128.2 337.0h0.8M150.6 305.8h0.8M140.1 321.5h0.8M130.3 319.8h0.8M122.8 309.3h0.8M142.8 301.6h0.8M144.5 301.2h0.8M138.7 302.7h0.8M144.8 282.0h0.8M121.4 295.8h0.8M126.0 289.0h0.8M154.0 288.7h0.8M153.2 283.8h0.8M136.7 300.5h0.8M135.4 319.4h0.8M144.7 308.0h0.8M139.3 322.3h0.8M143.4 315.1h0.8M128.7 300.6h0.8M128.8 300.3h0.8M139.6 327.1h0.8M145.5 321.2h0.8M130.4 341.5h0.8M131.2 311.3h0.8M143.2 306.6h0.8M134.5 283.5h0.8M153.4 324.4h0.8M132.3 290.3h0.8M152.2 306.4h0.8M139.2 317.0h0.8M151.8 343.7h0.8M136.5 333.1h0.8M132.8 288.9h0.8M132.1 301.0h0.8M129.7 319.2h0.8M138.5 292.1h0.8M140.0 330.3h0.8M142.6 340.3h0.8M121.9 305.1h0.8M140.3 344.9h0.8M123.0 296.7h0.8M131.7 339.5h0.8M128.9 344.6h0.8M125.1 315.6h0.8M147.2 314.8h0.8M130.7 336.1h0.8M141.2 320.8h0.8M137.3 321.9h0.8M134.8 326.1h0.8M145.8 338.6h0.8M154.0 334.5h0.8M134.9 346.2h0.8M139.0 347.3h0.8M140.9 331.7h0.8M134.5 325.8h0.8M140.2 322.1h0.8M154.8 286.8h0.8M142.7 338.1h0.8M144.0 284.0h0.8M130.4 306.1h0.8M129.0 307.0h0.8M131.9 287.0h0.8M153.4 326.4h0.8M141.4 312.8h0.8M141.2 336.2h0.8M121.5 303.4h0.8M148.2 344.5h0.8M145.4 298.1h0.8M146.4 292.0h0.8M124.4 283.0h0.8M148.7 344.3h0.8M154.7 324.5h0.8M141.5 293.0h0.8M128.6 320.3h0.8M150.5 286.6h0.8M137.4 307.4h0.8M142.4 330.8h0.8M148.9 282.9h0.8M138.6 282.3h0.8M153.0 336.9h0.8M141.3 317.2h0.8M138.9 324.7h0.8M140.2 332.1h0.8M151.8 329.2h0.8M140.7 315.7h0.8M133.9 345.8h0.8M148.8 301.4h0.8M135.0 342.9h0.8M129.5 293.6h0.8M135.1 300.6h0.8M128.2 314.7h0.8M139.5 291.0h0.8M152.5 285.3h0.8M130.5 310.4h0.8M153.3 295.5h0.8M119.6 284.8h0.8M127.7 302.6h0.8M149.4 310.8h0.8M122.9 303.3h0.8M149.0 341.9h0.8M124.8 311.9h0.8M127.9 296.7h0.8M131.3 323.6h0.8M143.0 344.6h0.8M129.9 310.4h0.8M147.9 312.1h0.8M125.5 283.3h0.8M122.8 285.9h0.8M130.0 328.8h0.8M140.4 335.0h0.8M154.2 343.1h0.8M134.8 295.6h0.8M144.7 286.6h0.8M145.6 316.1h0.8M154.1 305.6h0.8M143.3 310.6h0.8M130.2 324.7h0.8M144.6 301.0h0.8M139.6 329.5h0.8M136.9 301.7h0.8M135.4 313.0h0.8M129.1 301.9h0.8M146.9 329.7h0.8M149.0 316.4h0.8M135.3 295.3h0.8M126.3 296.1h0.8M127.9 293.1h0.8M124.1 294.9h0.8M145.3 333.1h0.8M122.5 305.6h0.8M132.8 323.9h0.8M138.4 286.5h0.8M141.7 308.9h0.8M150.1 303.7h0.8M145.4 330.4h0.8" stroke="#fff" stroke-width="0.8" opacity="0.75"/>
<path d="M125.3 349.6h0.7M153.5 349.7h0.7M108.2 355.3h0.7M110.7 357.7h0.7M133.3 348.5h0.7M143.6 346.3h0.7M141.4 351.3h0.7M105.4 357.4h0.7M113.9 355.2h0.7M146.4 345.2h0.7M149.0 343.9h0.7M138.0 354.1h0.7M110.3 356.8h0.7M147.2 342.5h0.7M123.4 352.4h0.7M132.9 349.2h0.7M149.3 343.5h0.7M120.2 351.5h0.7M104.6 357.1h0.7M132.0 350.8h0.7M135.9 351.9h0.7M150.0 343.1h0.7M110.2 357.1h0.7M148.5 343.4h0.7M151.8 342.5h0.7M132.4 347.2h0.7M112.8 355.9h0.7M125.0 352.0h0.7M106.6 354.5h0.7M104.5 358.4h0.7M115.7 357.5h0.7M101.4 355.9h0.7M141.3 351.8h0.7M152.8 341.3h0.7M117.6 354.1h0.7M134.9 350.8h0.7M128.0 348.2h0.7M154.6 344.8h0.7M138.7 346.0h0.7M127.3 349.3h0.7M135.9 354.8h0.7M111.6 360.3h0.7M133.1 347.4h0.7M114.5 359.0h0.7M151.2 347.0h0.7M119.0 356.9h0.7M137.2 347.1h0.7M107.1 356.3h0.7M125.4 357.6h0.7M143.6 348.8h0.7M120.3 355.3h0.7M108.9 358.2h0.7M154.4 342.6h0.7M126.1 351.8h0.7M134.7 350.2h0.7M140.2 353.5h0.7M117.3 356.4h0.7M144.1 343.2h0.7M137.3 345.6h0.7M150.1 345.0h0.7M111.8 356.8h0.7M105.7 358.0h0.7M114.5 359.0h0.7M106.0 357.1h0.7M109.9 356.3h0.7M140.5 350.1h0.7M119.7 356.0h0.7M149.4 347.8h0.7M140.5 347.5h0.7M107.5 357.2h0.7M107.1 358.5h0.7M140.9 346.8h0.7M153.6 344.8h0.7M147.2 345.8h0.7M123.6 354.8h0.7M137.9 350.4h0.7M127.3 353.6h0.7M135.0 352.1h0.7M119.7 352.2h0.7M151.2 343.9h0.7M128.3 353.4h0.7M120.5 357.6h0.7M119.8 351.9h0.7M122.2 351.7h0.7M137.5 350.7h0.7M118.3 351.4h0.7M119.7 354.1h0.7M139.4 350.2h0.7M153.0 349.8h0.7M116.0 357.2h0.7M117.6 359.8h0.7M147.5 344.1h0.7M115.8 358.6h0.7M132.2 347.1h0.7M126.2 354.7h0.7M127.9 351.2h0.7M140.0 345.8h0.7M148.3 344.0h0.7M135.0 355.2h0.7M139.4 349.6h0.7M132.4 348.1h0.7M153.0 345.3h0.7M123.1 355.2h0.7M121.0 352.2h0.7M147.5 343.8h0.7M116.4 353.8h0.7M131.1 351.9h0.7M128.3 350.2h0.7M149.5 346.2h0.7M112.1 361.4h0.7M133.7 355.3h0.7M124.9 352.4h0.7M124.9 354.2h0.7M150.5 345.7h0.7M117.9 354.1h0.7M113.8 360.2h0.7M115.4 358.8h0.7M152.8 348.2h0.7M128.9 351.3h0.7M128.5 350.1h0.7M147.8 344.1h0.7M149.1 346.5h0.7M136.5 349.5h0.7M127.7 351.5h0.7M143.3 350.0h0.7M137.5 346.4h0.7M138.9 344.7h0.7M124.2 355.3h0.7M118.7 351.7h0.7M101.6 355.6h0.7M126.5 354.2h0.7M107.8 356.1h0.7M145.7 348.7h0.7M131.7 353.2h0.7M111.5 357.9h0.7M130.2 354.9h0.7M149.0 349.9h0.7M137.3 353.6h0.7M149.3 348.8h0.7M153.1 341.9h0.7M123.9 357.3h0.7M131.4 350.5h0.7M130.0 354.2h0.7M133.5 352.7h0.7M127.8 353.6h0.7M138.1 351.9h0.7M148.8 347.0h0.7M111.2 353.0h0.7M141.2 349.1h0.7M121.0 351.6h0.7M137.4 353.5h0.7M150.8 346.8h0.7M145.3 344.7h0.7M107.7 355.3h0.7M152.9 342.7h0.7M108.2 357.8h0.7M142.4 345.5h0.7M128.6 356.7h0.7M130.4 356.1h0.7M119.7 356.7h0.7M144.6 351.2h0.7M123.1 354.7h0.7M143.6 343.6h0.7M140.8 346.6h0.7M148.9 346.9h0.7M132.2 347.3h0.7M135.5 347.1h0.7M151.7 344.6h0.7M121.7 357.6h0.7M110.8 358.5h0.7M118.6 353.1h0.7M149.6 348.5h0.7M136.6 353.9h0.7M107.5 355.1h0.7M120.5 357.2h0.7M124.8 348.8h0.7M138.4 354.3h0.7M114.9 358.9h0.7M145.3 348.8h0.7M136.8 354.7h0.7M126.0 350.6h0.7M150.1 345.3h0.7M111.4 355.9h0.7M108.9 358.6h0.7M118.8 351.8h0.7M138.7 352.4h0.7M138.3 346.7h0.7M141.2 350.7h0.7M151.1 348.7h0.7M137.0 351.1h0.7M109.4 353.4h0.7M113.6 359.7h0.7M119.6 358.0h0.7M140.2 349.8h0.7M114.8 353.9h0.7M137.7 350.0h0.7M137.8 349.4h0.7M121.5 350.0h0.7M140.5 345.5h0.7M132.9 346.9h0.7" stroke="#22559a" stroke-width="0.7" opacity="0.8"/>
<path d="M77.2 283.7h0.8M75.5 289.7h0.8M73.3 301.7h0.8M73.2 282.1h0.8M77.5 283.0h0.8M74.1 286.6h0.8M76.5 291.8h0.8M76.2 297.7h0.8M75.3 282.6h0.8M76.5 291.2h0.8M74.9 287.7h0.8M77.5 283.3h0.8M73.0 284.6h0.8M79.0 285.7h0.8M74.6 298.2h0.8M73.7 284.3h0.8M77.0 283.2h0.8M76.9 288.0h0.8M75.1 283.3h0.8M77.6 290.9h0.8M76.2 294.6h0.8M73.5 282.6h0.8M75.5 287.7h0.8M73.4 292.4h0.8M76.6 283.7h0.8M75.3 295.4h0.8M73.4 303.7h0.8M76.3 287.3h0.8M75.7 294.1h0.8M74.0 290.0h0.8M79.2 285.0h0.8M73.3 289.1h0.8M73.0 297.7h0.8M73.8 284.2h0.8M73.5 290.7h0.8M79.7 282.7h0.8M73.6 300.7h0.8M77.5 290.7h0.8M77.5 288.5h0.8M77.1 293.1h0.8M75.3 285.5h0.8M76.7 291.8h0.8M73.9 297.8h0.8M77.2 293.6h0.8M74.9 284.1h0.8M76.7 291.0h0.8M73.1 296.3h0.8M74.4 300.7h0.8M78.0 290.8h0.8M74.5 292.1h0.8M73.3 299.9h0.8M74.6 296.0h0.8M75.5 293.3h0.8M78.3 289.5h0.8M76.6 296.1h0.8M76.6 284.2h0.8M73.4 285.7h0.8M75.0 291.8h0.8M76.5 290.3h0.8M74.0 297.8h0.8" stroke="#fff" stroke-width="0.8" opacity="0.7"/>
<ellipse cx="98.00" cy="320.00" rx="22.00" ry="24.00" fill="#2a6cb4" filter="url(#b6)" opacity="0.8"/>
<ellipse cx="86.00" cy="333.00" rx="10.00" ry="18.00" fill="#2aa6d8" filter="url(#b4)" transform="rotate(-25 86.00 333.00)"/>
<ellipse cx="80.00" cy="345.00" rx="7.00" ry="12.00" fill="#35b0c0" filter="url(#b3)"/>
<ellipse cx="80.00" cy="348.00" rx="8.00" ry="11.00" fill="#62b94a" filter="url(#b2_5)" transform="rotate(-20 80.00 348.00)"/>
<ellipse cx="76.00" cy="357.00" rx="5.00" ry="5.50" fill="#e0d838" filter="url(#b1_5)"/>
<ellipse cx="75.20" cy="359.50" rx="3.60" ry="3.50" fill="#f0a030" filter="url(#b1)"/>
<ellipse cx="74.50" cy="361.00" rx="2.20" ry="2.00" fill="#e8452e" filter="url(#b0_8)"/>
<ellipse cx="107.80" cy="351.10" rx="10.50" ry="4.60" fill="#2fa8d0" filter="url(#b1_6)"/>
<ellipse cx="107.80" cy="351.10" rx="6.00" ry="2.60" fill="#58bc9a" filter="url(#b1_2)"/>
<ellipse cx="107.80" cy="351.10" rx="3.00" ry="1.40" fill="#7cc060" filter="url(#b0_8)"/>
</g>
<ellipse cx="107.80" cy="351.10" rx="12.10" ry="5.80" fill="none"/>
<ellipse cx="107.8" cy="351.1" rx="12.1" ry="5.8" fill="none" stroke="#231f20" stroke-width="0.9"/>
<line x1="119.90" y1="351.20" x2="154.80" y2="351.20" stroke="#231f20" stroke-width="0.9" />
<line x1="150.00" y1="351.30" x2="155.50" y2="351.30" stroke="#231f20" stroke-width="1.1" />
<path d="M160.60 351.30 L154.00 354.60 L155.58 351.30 L154.00 348.00 Z" fill="#231f20"/>
<text x="110.80" y="362.60" font-size="6.4" text-anchor="start" fill="#231f20" stroke="#231f20" stroke-width="0.19" textLength="49.70" lengthAdjust="spacingAndGlyphs" >Cells/lymphocytes</text>
<path d="M72.50 282.00 H154.80 V363.20" stroke="#b8b8b8" stroke-width="0.7" fill="none"/>
<path d="M72.50 282.00 V363.20 H154.80" stroke="#555" stroke-width="0.5" fill="none"/>
<line x1="67.90" y1="362.70" x2="72.50" y2="362.70" stroke="#231f20" stroke-width="1.6"/>
<text x="63.50" y="365.00" font-size="5.8" text-anchor="end" fill="#231f20" stroke="#231f20" stroke-width="0.30" >0</text>
<line x1="67.90" y1="347.24" x2="72.50" y2="347.24" stroke="#231f20" stroke-width="1.6"/>
<text x="63.50" y="349.54" font-size="5.8" text-anchor="end" fill="#231f20" stroke="#231f20" stroke-width="0.30" >50K</text>
<line x1="67.90" y1="331.78" x2="72.50" y2="331.78" stroke="#231f20" stroke-width="1.6"/>
<text x="63.50" y="334.08" font-size="5.8" text-anchor="end" fill="#231f20" stroke="#231f20" stroke-width="0.30" >100K</text>
<line x1="67.90" y1="316.32" x2="72.50" y2="316.32" stroke="#231f20" stroke-width="1.6"/>
<text x="63.50" y="318.62" font-size="5.8" text-anchor="end" fill="#231f20" stroke="#231f20" stroke-width="0.30" >150K</text>
<line x1="67.90" y1="300.86" x2="72.50" y2="300.86" stroke="#231f20" stroke-width="1.6"/>
<text x="63.50" y="303.16" font-size="5.8" text-anchor="end" fill="#231f20" stroke="#231f20" stroke-width="0.30" >200K</text>
<line x1="67.90" y1="285.40" x2="72.50" y2="285.40" stroke="#231f20" stroke-width="1.6"/>
<text x="63.50" y="287.70" font-size="5.8" text-anchor="end" fill="#231f20" stroke="#231f20" stroke-width="0.30" >250K</text>
<path d="M70.30 359.61H72.50M70.30 356.52H72.50M70.30 353.42H72.50M70.30 350.33H72.50M70.30 344.15H72.50M70.30 341.06H72.50M70.30 337.96H72.50M70.30 334.87H72.50M70.30 328.69H72.50M70.30 325.60H72.50M70.30 322.50H72.50M70.30 319.41H72.50M70.30 313.23H72.50M70.30 310.14H72.50M70.30 307.04H72.50M70.30 303.95H72.50M70.30 297.77H72.50M70.30 294.68H72.50M70.30 291.58H72.50M70.30 288.49H72.50M70.30 282.31H72.50" stroke="#231f20" stroke-width="0.7"/>
<line x1="72.60" y1="363.20" x2="72.60" y2="367.80" stroke="#231f20" stroke-width="1.6"/>
<text x="72.60" y="375.20" font-size="5.8" text-anchor="middle" fill="#231f20" stroke="#231f20" stroke-width="0.30" >0</text>
<line x1="88.05" y1="363.20" x2="88.05" y2="367.80" stroke="#231f20" stroke-width="1.6"/>
<line x1="103.50" y1="363.20" x2="103.50" y2="367.80" stroke="#231f20" stroke-width="1.6"/>
<text x="103.50" y="375.20" font-size="5.8" text-anchor="middle" fill="#231f20" stroke="#231f20" stroke-width="0.30" >100K</text>
<line x1="118.95" y1="363.20" x2="118.95" y2="367.80" stroke="#231f20" stroke-width="1.6"/>
<line x1="134.40" y1="363.20" x2="134.40" y2="367.80" stroke="#231f20" stroke-width="1.6"/>
<text x="134.40" y="375.20" font-size="5.8" text-anchor="middle" fill="#231f20" stroke="#231f20" stroke-width="0.30" >200K</text>
<line x1="149.85" y1="363.20" x2="149.85" y2="367.80" stroke="#231f20" stroke-width="1.6"/>
<path d="M75.69 363.20V365.20M78.78 363.20V365.20M81.87 363.20V365.20M84.96 363.20V365.20M91.14 363.20V365.20M94.23 363.20V365.20M97.32 363.20V365.20M100.41 363.20V365.20M106.59 363.20V365.20M109.68 363.20V365.20M112.77 363.20V365.20M115.86 363.20V365.20M122.04 363.20V365.20M125.13 363.20V365.20M128.22 363.20V365.20M131.31 363.20V365.20M137.49 363.20V365.20M140.58 363.20V365.20M143.67 363.20V365.20M146.76 363.20V365.20M152.94 363.20V365.20" stroke="#231f20" stroke-width="0.7"/>
<text x="107.20" y="385.60" font-size="6.5" text-anchor="middle" fill="#231f20" stroke="#231f20" stroke-width="0.20" textLength="16.50" lengthAdjust="spacingAndGlyphs" >FSC-H</text>
<text x="47.60" y="319.90" font-size="6.0" text-anchor="middle" fill="#231f20" stroke="#231f20" stroke-width="0.18" textLength="16.00" lengthAdjust="spacingAndGlyphs" transform="rotate(-90 47.60 319.90)" >SSC-A</text>
<clipPath id="c11"><rect x="187.00" y="283.00" width="82.10" height="80.90"/></clipPath>
<g clip-path="url(#c11)">
<path transform="scale(.1)" d="M2220 3381h8m52 13h8m46 0h8m34 2h8m190-3h8m-223 10h8m70 2h8m85 0h8m-313 5h8m-2 7h8m216-1h8m93-2h8m-208 6h8m-86 3h8m70 1h8m5 3h8m-7-3h8m-8-1h8m38 2h8m-4-2h8m32 4h8m54-1h8m24-3h8m-5 1h8m-369 4h8m46 2h8m-6 2h8m48-3h8m12-1h8m112 2h8m-4-2h8m8 4h8m27-4h8m89 1h8m-394 8h8m3-2h8m-6 2h8m30-1h8m18 0h8m-2-2h8m2 3h8m32-2h8m132-2h8m17 1h8m-298 8h8m-4-2h8m11-2h8m331 3h8m-395 2h8m9 3h8m348 2h8m-351 8h8m311 2h8m-353 7h8m9 2h8m323-4h8m2 4h8m5-4h8m-1 3h8m-385 11h8m375-1h8m-4 3h8m-4 4h8m4 2h8m-24 10h8m40 1h8m-18 4h8m-76 14h8m23 1h8m6 3h8m47 1h8m-477 6h8m-1 0h8m-8-2h8m490 0h8m-148 7h8m40 1h8m-408 6h8m322 0h8m-348 5h8m37-1h8m282-2h8m33-1h8m-348 9h8m295-3h8m-346 6h8m50 2h8m-32 2h8m2 3h8m22-4h8m16 2h8m-6 1h8m164 1h8m6 0h8m36-1h8m10-3h8m-305 6h8m19 2h8m9 0h8m-3-3h8m86 4h8m50-2h8m38 1h8m-246 5h8m45 1h8m9 0h8m55-2h8m68 1h8m16 0h8m104 1h8m-158 4h8m8-2h8m-1 0h8m22-1h8m-38 7h8m53 2h8m-171 5h8m73-1h8m-189 3h8m191 3h8m-256 4h8m13-3h8m141 13h8m-124 2h8m2 8h8m88 8h8" stroke="#194d9a" stroke-width="8" opacity="0.45"/>
<path transform="scale(.1)" d="M2413 3430h8m-22 3h8m27 2h8m39 2h8m-143 4h8m30 0h8m54 1h8m26-3h8m13 2h8m-212 2h8m56 0h8m-1 4h8m-2-3h8m3 3h8m-2-1h8m12-3h8m-3 4h8m34 0h8m1-4h8m-184 8h8m29 1h8m23-1h8m9-1h8m3-2h8m89 0h8m-170 8h8m11 0h8m16-3h8m86 1h8m-6 0h8m5-1h8m-7 3h8m-216 2h8m22 3h8m3-3h8m4 3h8m4 0h8m-1-2h8m129-1h8m-5 0h8m-1 3h8m-5-2h8m-266 6h8m23 2h8m20-3h8m-60 4h8m41 2h8m212-2h8m33 3h8m-333 3h8m287-1h8m10 2h8m-267 4h8m253-1h8m-2 2h8m-345 7h8m-8-1h8m16 0h8m3 1h8m-52 2h8m319 1h8m-304 6h8m292 0h8m-310 4h8m1 2h8m1-3h8m9-1h8m-6 2h8m260-2h8m12 2h8m-336 3h8m-3 4h8m8-1h8m269-1h8m4 0h8m-292 4h8m12 0h8m278-1h8m-344 9h8m6-3h8m0 1h8m278 2h8m9-2h8m-306 3h8m13 4h8m233-4h8m14 0h8m-306 6h8m7 3h8m36 0h8m208-3h8m8-1h8m-307 7h8m40 0h8m7-2h8m-62 8h8m37-3h8m5 3h8m-1 0h8m175 0h8m29-1h8m-249 5h8m29-2h8m45 4h8m40-4h8m1 3h8m5-2h8m8 3h8m8-4h8m-227 6h8m1 1h8m25 1h8m-4-3h8m0 1h8m27 1h8m16 1h8m30 0h8m16-3h8m-6 4h8m20 0h8m39-4h8m-241 6h8m23-1h8m-6 4h8m2-3h8m20 3h8m6-3h8m8 0h8m6-1h8m0 2h8m0 2h8m9-3h8m18 3h8m34-3h8m-8 1h8m-194 4h8m19-1h8m71 4h8m-66 2h8" stroke="#1b57a3" stroke-width="8" opacity="0.45"/>
<path transform="scale(.1)" d="M2356 3457h8m1-1h8m6 1h8m23-3h8m18-1h8m-1 2h8m-91 7h8m17 0h8m-2 0h8m2-4h8m3 1h8m-7 3h8m5-4h8m2 0h8m-2 4h8m5-1h8m-128 5h8m5-3h8m11 0h8m-6 0h8m1 3h8m15-3h8m2 3h8m19-2h8m13 1h8m-4 0h8m-1 0h8m0-1h8m-155 6h8m44 2h8m18-3h8m19 1h8m6 0h8m-7-2h8m-1 4h8m1-3h8m-2 1h8m1 2h8m-191 2h8m12 2h8m24-2h8m119 2h8m12 1h8m-3-3h8m-219 5h8m12-1h8m16 4h8m-4-1h8m9-2h8m108 0h8m-1 3h8m-201 1h8m34 1h8m139-1h8m2 1h8m-2 2h8m-3-2h8m-226 4h8m9 1h8m4 3h8m164-3h8m6 0h8m-231 5h8m-6 3h8m-7 0h8m39-1h8m170 0h8m-219 3h8m27 0h8m-2-1h8m139 0h8m9 3h8m-7 0h8m-233 3h8m-6-1h8m9 2h8m2-2h8m-7 1h8m0 1h8m16-1h8m126 1h8m0 2h8m1-1h8m-6 0h8m13 1h8m-237 2h8m2 1h8m-3 0h8m-1-2h8m10 0h8m11 2h8m4-1h8m-2 1h8m95-1h8m12 3h8m-187 5h8m-5 0h8m0-4h8m-3 3h8m41-3h8m-6 2h8m66 0h8m21 2h8m-2 0h8m-1 0h8m-2-1h8m-7-3h8m-6 0h8m-207 6h8m4 3h8m10-1h8m8-3h8m-1 1h8m14 0h8m1-1h8m21 2h8m11 1h8m-8-1h8m-6 2h8m28-4h8m-1 0h8m13 3h8m-192 3h8m-8 1h8m4 0h8m26 2h8m-4 0h8m3 0h8m20-2h8m9 0h8m-7 0h8m-6 2h8m30 0h8m-132 3h8m-3 0h8m28 0h8m-3 0h8m-1-2h8m26 3h8m-19 2h8m-7 4h8m5-2h8m9-1h8" stroke="#1d61ac" stroke-width="8" opacity="0.45"/>
<path transform="scale(.1)" d="M2409 3472h8m0 0h8m-46 5h8m-2-1h8m3 1h8m0 0h8m-52 5h8m1-2h8m-5 2h8m1 0h8m38 0h8m7-4h8m-1 3h8m-91 5h8m5 1h8m-5 0h8m25-3h8m10 2h8m-4-3h8m9 2h8m-78 5h8m-8 1h8m-5-2h8m8 2h8m-6 1h8m8 0h8m1 0h8m-6-3h8m2-1h8m3 3h8m-118 5h8m2-1h8m34-1h8m3-1h8m6 3h8m-7-2h8m-79 4h8m-3 2h8m3 2h8m36-2h8m-5 0h8m23 1h8m3 1h8m-94 2h8m13 1h8m16 2h8m29-2h8m-2-1h8m-104 7h8m1 0h8m-1 0h8m24-2h8m-7-1h8m23 3h8m-70 4h8m-1-2h8m24 3h8m4-2h8m-8-1h8" stroke="#1f70b4" stroke-width="8" opacity="0.45"/>
<path d="M188.50 343.50 L200.00 342.00 L215.00 342.00 L219.50 345.00 L219.50 357.00 L210.00 359.50 L195.00 359.50 L188.50 358.00 Z" fill="#2a62aa" filter="url(#b1_2)"/>
<ellipse cx="204.50" cy="351.50" rx="11.00" ry="6.00" fill="#2f8fd0" filter="url(#b2)"/>
<ellipse cx="204.50" cy="352.00" rx="7.00" ry="3.80" fill="#5abf90" filter="url(#b1_5)"/>
<ellipse cx="204.50" cy="352.00" rx="4.50" ry="2.60" fill="#d8dc40" filter="url(#b1)"/>
<ellipse cx="204.50" cy="352.00" rx="2.60" ry="1.50" fill="#e8452e" filter="url(#b0_7)"/>
<path transform="scale(.1)" d="M1987 3403h8m5 0h8m66 3h8m28-1h8m-181 7h8m86-1h8m8-1h8m153-2h8m-211 7h8m75 0h8m47 2h8m-3-2h8m-204 5h8m-84 7h8m80 0h8m18-3h8m-2 3h8m14-2h8m-1-1h8m-5 1h8m15-2h8m15 1h8m-3 3h8m-7 0h8m26-3h8m21-1h8m53 4h8m-291 2h8m126-1h8m25 0h8m1 2h8m42 2h8m-36 3h8m48 0h8m-6 1h8m-5 1h8m-301 4h8m70-1h8m152 0h8m47 2h8m-264 4h8m242-1h8m-7 0h8m-2 2h8m3-3h8m-319 4h8m7 1h8m11-1h8m225 0h8m36 1h8m-327 8h8m295-3h8m-5 1h8m-5 1h8m14 1h8m8-1h8m-57 4h8m-6-2h8m2 3h8m-11 4h8m-280 5h8m281 2h8m-3 5h8m-2-3h8m-3 2h8m-25 6h8m13 1h8m-5 2h8m-23 18h8m-7 2h8m0 3h8m-3 8h8m-340 6h8m-4-1h8m-6 3h8m-8 3h8m310-4h8m-334 11h8m-4 3h8m304-2h8m-339 4h8m330 3h8m-7-3h8m-345 6h8m7 0h8m296 1h8m-12 6h8m-314 2h8m27 8h8m254-2h8m20-2h8m-8 0h8m4 1h8m-63 8h8m17-4h8m-298 5h8m266 1h8m-240 8h8m230-4h8m-312 8h8m-3-2h8m-8-1h8m5 2h8m10 2h8m223-3h8m2 0h8m3 0h8m-267 11h8m271-1h8m-256 4h8m21 1h8m121-1h8m27 3h8m51-2h8m-242 8h8m33-4h8m90 0h8m27 2h8m-113 9h8m92 3h8m82-4h8m-306 8h8m109-1h8m50 0h8m14 2h8" stroke="#194d9a" stroke-width="8" opacity="0.6"/>
<path transform="scale(.1)" d="M2058 3429h8m-75 6h8m12 0h8m19 2h8m23-3h8m-6 2h8m10-3h8m-2 2h8m-99 5h8m-2 0h8m20-2h8m-4 1h8m8 0h8m0 0h8m7 0h8m-2 3h8m-4-1h8m4 0h8m9 1h8m-152 1h8m-7 1h8m3 1h8m90 0h8m7-2h8m10 3h8m-152 5h8m150 1h8m-6-2h8m5 1h8m-20 4h8m-6 0h8m6 1h8m-13 3h8m-7 2h8m-5-3h8m0 2h8m-26 5h8m-3 0h8m2-2h8m-240 7h8m-1 1h8m-6-3h8m219 0h8m-4 2h8m-24 3h8m-2 0h8m0 0h8m3 2h8m-7 2h8m0 3h8m-277 4h8m248 0h8m-6 2h8m2-1h8m-7-2h8m2 0h8m-6 0h8m-282 6h8m240 1h8m-4 2h8m-6-3h8m2-1h8m-2 1h8m-298 8h8m261 0h8m-5-2h8m1 2h8m-3-2h8m-13 3h8m-1 0h8m-4 4h8m-4-4h8m-308 9h8m14-2h8m263 2h8m2 0h8m-306 1h8m287 4h8m-24 2h8m8 0h8m-4 1h8m-312 5h8m269 0h8m5-2h8m5 3h8m-7-3h8m-291 7h8m265-2h8m-290 9h8m4 4h8m264 0h8m-33 4h8m-7 2h8m8-2h8m-283 4h8m241 3h8m-4-2h8m-1-1h8m-4 8h8m-5-3h8m-251 7h8m202 0h8m-3-2h8m-6-1h8m7 1h8m-233 5h8m-8 1h8m208 1h8m-1-1h8m-7-2h8m-216 9h8m167 0h8m-6 0h8m7-2h8m-23 4h8m-3 8h8m-54 5h8m9-1h8m-145 3h8m15 0h8m-7 2h8m-6 1h8m13-1h8m53-2h8m8 2h8m-111 3h8m-5 1h8m36 2h8m-2-4h8m-21 5h8" stroke="#1b57a3" stroke-width="8" opacity="0.6"/>
<path transform="scale(.1)" d="M2056 3442h8m-43 2h8m19 3h8m-5-2h8m16 2h8m-6-2h8m-91 5h8m-5 0h8m33-2h8m1 0h8m23 4h8m2-4h8m-7 1h8m-3 1h8m-8-1h8m-4 1h8m-126 3h8m113 2h8m-2 1h8m-150 4h8m9 0h8m111 0h8m0 0h8m2 2h8m-7-2h8m-8 0h8m-3 1h8m-6 1h8m-20 1h8m5 6h8m-6 0h8m-202 8h8m-7 0h8m11-4h8m172 1h8m-5 0h8m-1-1h8m-218 6h8m194 0h8m-7 2h8m0-3h8m-2 0h8m-219 8h8m196-1h8m-2 2h8m-8-3h8m-8 1h8m-7 1h8m-7-1h8m-1 1h8m-18 5h8m-231 4h8m214 2h8m-226 10h8m219-4h8m-7 1h8m-249 6h8m-4 1h8m231-2h8m-4 1h8m-248 5h8m-7-2h8m218 4h8m3-4h8m-6 2h8m-250 6h8m221 1h8m-4-1h8m-6-1h8m-15 7h8m-6-3h8m-5 2h8m-240 3h8m-5 1h8m0 2h8m211 4h8m-223 6h8m192 0h8m7-4h8m-6 2h8m-26 7h8m-6-2h8m-5 1h8m-205 2h8m-1 7h8m-4 2h8m-13 1h8m1 1h8m144 3h8m0 0h8m-167 1h8m-4 2h8m120 4h8m3 3h8m-119 2h8m9 2h8m-7 0h8m62-1h8m11 0h8m-125 3h8m22 1h8m5 1h8m21 2h8m-1-2h8" stroke="#1d61ac" stroke-width="8" opacity="0.6"/>
<path transform="scale(.1)" d="M2049 3451h8m-56 6h8m13-3h8m-4 2h8m-7-3h8m-2 2h8m-5-1h8m7 1h8m7 0h8m-91 6h8m2-2h8m-5-1h8m-2 1h8m57-1h8m5 1h8m-8-1h8m18 4h8m-118 1h8m101 2h8m-139 7h8m-7-4h8m-5 3h8m-3-3h8m113 0h8m-6 0h8m-7 1h8m2 1h8m-3 2h8m-164 2h8m152 0h8m-174 7h8m-4-3h8m150 0h8m-3 2h8m-182 5h8m166-1h8m-4 3h8m-2-4h8m-6 0h8m-205 6h8m-6 0h8m-1-1h8m186 2h8m-212 7h8m-7 0h8m190-3h8m-7 3h8m-8-2h8m-1 0h8m-7 1h8m-11 2h8m-7 4h8m-5-2h8m-17 16h8m-4 5h8m-5-3h8m-6 1h8m-19 8h8m-6-4h8m-210 7h8m-1 1h8m182 0h8m-7 0h8m-6-3h8m-5 1h8m-206 7h8m-3-2h8m181 0h8m-192 6h8m-7 1h8m174-3h8m-195 9h8m176-4h8m-7 2h8m-188 3h8m158 0h8m2 1h8m-174 4h8m139 1h8m-7 2h8m-146 6h8m118-1h8m-1-1h8m-139 4h8m103 1h8m-6-1h8m-6 1h8m-107 3h8m-2 2h8m9 2h8m5 0h8m8 0h8m8 0h8m17-2h8m-7-2h8m-79 5h8m0 1h8m8-1h8m9 3h8m-4-3h8" stroke="#1f70b4" stroke-width="8" opacity="0.6"/>
<path transform="scale(.1)" d="M2049 3457h8m-37 4h8m12-1h8m3 0h8m-3 0h8m-2 2h8m-62 4h8m63-1h8m-7-2h8m-7 4h8m-98 1h8m83 0h8m11 3h8m-7 0h8m-6 1h8m-13 2h8m-3-1h8m-1 3h8m-153 6h8m-6-2h8m-4 2h8m127-4h8m-2 5h8m-6 2h8m-7 0h8m-7 1h8m-6 2h8m-5 3h8m-5 1h8m-176 2h8m160 1h8m-8-1h8m-7-1h8m-5 7h8m-190 3h8m-5 3h8m-7-2h8m170 0h8m-7 7h8m-6 0h8m-7-3h8m-5 1h8m-6 1h8m-196 9h8m174 1h8m-185 6h8m165-3h8m-6 9h8m-7-3h8m-182 4h8m-10 5h8m1 4h8m151 0h8m-5-3h8m-166 12h8m-2 0h8m128 0h8m-4-1h8m-144 4h8m121 2h8m-122 4h8m89-2h8m-1 1h8m-4 0h8m-100 5h8m-4 3h8m9 0h8m-25 2h8" stroke="#2282bc" stroke-width="8" opacity="0.6"/>
<path transform="scale(.1)" d="M2008 3467h8m-4 0h8m8-2h8m1 1h8m-1-2h8m5 1h8m-2 1h8m-3 0h8m-78 4h8m-2 0h8m-4 2h8m6-3h8m45 0h8m-5 1h8m7 5h8m-116 5h8m101-1h8m-6-1h8m-1 0h8m-7 3h8m-5 5h8m-5 5h8m-155 5h8m-7-1h8m142-2h8m-7 3h8m-1-2h8m-166 7h8m146-3h8m-7 0h8m-8 2h8m-166 7h8m157 0h8m-176 4h8m162 1h8m-8-3h8m-9 7h8m-7-2h8m-178 7h8m161 0h8m-174 2h8m-6 3h8m-7 6h8m-5-2h8m142 3h8m-157 9h8m0-1h8m-10 2h8m0 4h8m111 0h8m-6-4h8m-17 6h8m-25 7h8m5-1h8m-5-1h8m-99 6h8m-1 2h8m-6-1h8m5-1h8m1 1h8m-8 0h8m7 1h8m15-3h8m-31 6h8" stroke="#2793bb" stroke-width="8" opacity="0.6"/>
<path transform="scale(.1)" d="M2018 3471h8m-5-1h8m1-2h8m-1 0h8m-6 0h8m-6 3h8m-3 1h8m-3-3h8m-60 8h8m0-1h8m-7 0h8m-4-1h8m4-2h8m38 0h8m-8 2h8m0 1h8m-91 3h8m85 3h8m-2-2h8m-120 6h8m111 0h8m-8 1h8m-132 1h8m-5 2h8m114 2h8m-2-2h8m-7 2h8m-138 2h8m119 0h8m-144 7h8m-7 1h8m-6-4h8m-15 14h8m-6-4h8m-6 0h8m140 0h8m-160 11h8m-6 2h8m-10 2h8m-5 3h8m132 4h8m-2 0h8m-143 6h8m117-2h8m-5-1h8m-139 8h8m-7-3h8m-7 1h8m109 3h8m-116 1h8m-6 3h8m-8 1h8m-5-1h8m99-3h8m-120 5h8m-4 1h8m-5-1h8m-6 4h8m-8 0h8m-3-1h8m-1 1h8m65-2h8m-86 4h8m-5 1h8m-3 1h8m-1-1h8m-2 2h8m1-1h8m-15 2h8m-4 2h8m-4 0h8m5-1h8" stroke="#2ea2b3" stroke-width="8" opacity="0.6"/>
<path transform="scale(.1)" d="M2009 3477h8m1-1h8m16-3h8m-4 2h8m-6-2h8m-5 3h8m-8-2h8m-59 7h8m1 0h8m-8-2h8m-8 3h8m5-4h8m-5 0h8m23 0h8m-3 0h8m-72 9h8m77-4h8m-6 1h8m-8 1h8m-1 1h8m-111 4h8m-5-2h8m95 3h8m-1 1h8m-127 5h8m-4-2h8m101-1h8m-6 3h8m-1 0h8m-129 3h8m110 0h8m-6-2h8m-8 4h8m-5-1h8m-7-1h8m-136 3h8m-11 5h8m121 4h8m-142 4h8m-7-3h8m130 6h8m-143 5h8m-8 3h8m-3-2h8m114 1h8m-2 1h8m-136 1h8m-8 4h8m-6-2h8m-3 5h8m107-1h8m-119 6h8m-6 0h8m91 1h8m-108 2h8m-2 2h8m-5-1h8m77 0h8m-89 5h8m-1 3h8m20 0h8m19-3h8m6-1h8m-59 7h8m-4-2h8m7 2h8m-3 0h8m-3-2h8" stroke="#40af92" stroke-width="8" opacity="0.6"/>
<path transform="scale(.1)" d="M2012 3482h8m-2-1h8m-4 0h8m-6-1h8m-7 1h8m-2-1h8m1 2h8m0-3h8m-7 3h8m4-1h8m-63 3h8m-2 1h8m-2-1h8m-5-1h8m44 3h8m-4-2h8m-4 2h8m-10 2h8m-3 4h8m-3 4h8m-3-2h8m-117 8h8m-8-3h8m103 2h8m-5 1h8m-8 0h8m-124 4h8m-8-3h8m-6 1h8m100-1h8m-5 4h8m-118 3h8m109 0h8m-131 5h8m115 0h8m-7-2h8m-131 6h8m-8 3h8m-3 4h8m-7-3h8m99 0h8m-6 1h8m-8 2h8m-7-2h8m-117 5h8m93 3h8m-7 0h8m-4-4h8m-104 7h8m-6 2h8m81-1h8m-96 2h8m3 7h8m-8-2h8m4 4h8m-8 0h8m15 0h8m7-1h8m-2-1h8m-50 5h8m1 0h8m10-2h8" stroke="#5ebb5a" stroke-width="8" opacity="0.6"/>
<path transform="scale(.1)" d="M2019 3487h8m3-1h8m-5-3h8m-7 0h8m-8 4h8m-4-4h8m1 3h8m-2-3h8m0 3h8m-4 1h8m-13 2h8m2 1h8m-6 0h8m-7 2h8m-8-2h8m-7-1h8m-7 4h8m-7 2h8m-4 2h8m-93 2h8m-7-1h8m82 2h8m-6 1h8m-6 0h8m-9 4h8m-5-1h8m-8 5h8m-8-1h8m-7 1h8m-114 4h8m-8 3h8m-1-1h8m-12 5h8m88 2h8m-5-2h8m-6 0h8m-109 6h8m90-1h8m-6 0h8m-14 5h8m-2-2h8m-94 5h8m0 3h8m60-2h8m-3-1h8m-74 6h8m-8 1h8m-7 1h8m-7 1h8m-7-1h8m-8 1h8m0 0h8m-7 0h8m-7 0h8m18-1h8m-2 0h8m-5-2h8m-58 4h8m-1 1h8m3 2h8m-7-1h8m-8 0h8m-4 1h8m-8-3h8m1 1h8m-4 1h8m-7-1h8" stroke="#94ca43" stroke-width="8" opacity="0.6"/>
<path transform="scale(.1)" d="M2040 3487h8m-34 5h8m-3-2h8m-7 1h8m-6 0h8m-5-1h8m0 0h8m-5 0h8m6 1h8m2 1h8m-3 0h8m-63 5h8m-7-1h8m-1-2h8m-8 1h8m33-2h8m-5 2h8m0 1h8m-75 6h8m61-2h8m-8 1h8m-2-2h8m-8 0h8m-7 2h8m-8 1h8m-88 4h8m-1-3h8m-8 1h8m62-1h8m-84 5h8m-8 7h8m72 0h8m-90 4h8m-8 0h8m-7-1h8m-6 4h8m-6-4h8m68 2h8m-7 1h8m-11 4h8m-6 2h8m-80 5h8m-5 0h8m-7-1h8m-8 0h8m-5 1h8m48 0h8m-7-2h8m-7-1h8m1-1h8m-38 9h8m-1 0h8m-3-3h8m0 1h8m-46 4h8m-7 1h8m-7-2h8m-5 0h8m-6 3h8m-4-2h8m-5 3h8m-5-3h8m-1-1h8" stroke="#ced934" stroke-width="8" opacity="0.6"/>
<path transform="scale(.1)" d="M2020 3497h8m0-2h8m-6 2h8m-8-3h8m-7 1h8m-7 1h8m-7 1h8m-3-4h8m-7 1h8m0-1h8m-4 2h8m-7-1h8m-49 7h8m-1 1h8m3-4h8m24 2h8m-7 0h8m-3 1h8m-69 5h8m-4 3h8m-7 3h8m-11 1h8m-7 2h8m52-2h8m-4 1h8m-3 3h8m-7-3h8m-77 7h8m-10 5h8m-5 1h8m44-1h8m-2-3h8m-6 4h8m-5-3h8m-8 1h8m-72 3h8m-7 0h8m-6 1h8m0 3h8m0-2h8m-3 1h8m14 0h8m-6 1h8m-3-1h8m-2-3h8" stroke="#e6b82c" stroke-width="8" opacity="0.6"/>
<path transform="scale(.1)" d="M2026 3502h8m-3 0h8m4-1h8m-26 2h8m-2 2h8m-3-1h8m-8 1h8m0-1h8m-8 1h8m-3-1h8m-7 3h8m4 0h8m-53 3h8m-6 0h8m-8 2h8m-6-4h8m-7 1h8m27 0h8m-6 1h8m-5 0h8m-6 1h8m-58 6h8m-5-3h8m-6 3h8m-4-4h8m-6 2h8m23 0h8m-7 2h8m-5-4h8m0 2h8m-61 5h8m0 2h8m-8-2h8m-4 2h8m12 0h8m-3 0h8m-3-1h8m-6-1h8m-7 0h8m-7 1h8m-7 0h8m-45 5h8m-7-2h8m-6 2h8m-6 1h8m-1-1h8m17-1h8m-46 3h8m-6 0h8m6 2h8m-4-1h8" stroke="#f38d28" stroke-width="8" opacity="0.6"/>
<path transform="scale(.1)" d="M2041 3512h8m-2-2h8m-6-2h8m-27 9h8m2 0h8m-4 0h8m-3-2h8m-5-2h8m-19 7h8m-2 0h8m-6 1h8" stroke="#eb5d28" stroke-width="8" opacity="0.6"/>
</g>
<rect x="187.10" y="337.20" width="35.60" height="23.20" fill="none" stroke="#333" stroke-width="0.9"/>
<line x1="222.70" y1="340.40" x2="272.70" y2="340.40" stroke="#231f20" stroke-width="1.1" />
<path d="M277.80 340.40 L271.20 343.70 L272.78 340.40 L271.20 337.10 Z" fill="#231f20"/>
<text x="190.00" y="335.60" font-size="5.8" text-anchor="start" fill="#231f20" stroke="#231f20" stroke-width="0.17" textLength="23.80" lengthAdjust="spacingAndGlyphs" >Live cells</text>
<path d="M186.70 282.70 H269.10 V363.90" stroke="#b8b8b8" stroke-width="0.7" fill="none"/>
<path d="M186.70 282.70 V363.90 H269.10" stroke="#555" stroke-width="0.5" fill="none"/>
<line x1="182.10" y1="363.60" x2="186.70" y2="363.60" stroke="#231f20" stroke-width="1.6"/>
<text x="176.50" y="365.90" font-size="5.8" text-anchor="end" fill="#231f20" stroke="#231f20" stroke-width="0.30" >0</text>
<line x1="182.10" y1="348.08" x2="186.70" y2="348.08" stroke="#231f20" stroke-width="1.6"/>
<text x="176.50" y="350.38" font-size="5.8" text-anchor="end" fill="#231f20" stroke="#231f20" stroke-width="0.30" >50K</text>
<line x1="182.10" y1="332.56" x2="186.70" y2="332.56" stroke="#231f20" stroke-width="1.6"/>
<text x="176.50" y="334.86" font-size="5.8" text-anchor="end" fill="#231f20" stroke="#231f20" stroke-width="0.30" >100K</text>
<line x1="182.10" y1="317.04" x2="186.70" y2="317.04" stroke="#231f20" stroke-width="1.6"/>
<text x="176.50" y="319.34" font-size="5.8" text-anchor="end" fill="#231f20" stroke="#231f20" stroke-width="0.30" >150K</text>
<line x1="182.10" y1="301.52" x2="186.70" y2="301.52" stroke="#231f20" stroke-width="1.6"/>
<text x="176.50" y="303.82" font-size="5.8" text-anchor="end" fill="#231f20" stroke="#231f20" stroke-width="0.30" >200K</text>
<line x1="182.10" y1="286.00" x2="186.70" y2="286.00" stroke="#231f20" stroke-width="1.6"/>
<text x="176.50" y="288.30" font-size="5.8" text-anchor="end" fill="#231f20" stroke="#231f20" stroke-width="0.30" >250K</text>
<path d="M184.50 360.50H186.70M184.50 357.39H186.70M184.50 354.29H186.70M184.50 351.18H186.70M184.50 344.98H186.70M184.50 341.87H186.70M184.50 338.77H186.70M184.50 335.66H186.70M184.50 329.46H186.70M184.50 326.35H186.70M184.50 323.25H186.70M184.50 320.14H186.70M184.50 313.94H186.70M184.50 310.83H186.70M184.50 307.73H186.70M184.50 304.62H186.70M184.50 298.42H186.70M184.50 295.31H186.70M184.50 292.21H186.70M184.50 289.10H186.70M184.50 282.90H186.70" stroke="#231f20" stroke-width="0.7"/>
<path d="M187.40 363.90V368.30M191.50 363.90V368.30M192.87 363.90V368.30M194.23 363.90V368.30M198.33 363.90V368.30M199.70 363.90V368.30M202.43 363.90V368.30M205.17 363.90V368.30M206.53 363.90V368.30M209.27 363.90V368.30M223.00 363.90V368.30M240.50 363.90V368.30M258.00 363.90V368.30" stroke="#231f20" stroke-width="1.5"/>
<path d="M188.77 363.90V366.20M190.13 363.90V366.20M195.60 363.90V366.20M196.97 363.90V366.20M201.07 363.90V366.20M203.80 363.90V366.20M207.90 363.90V366.20M210.63 363.90V366.20M212.00 363.90V366.20M213.85 363.90V366.20M216.04 363.90V366.20M217.73 363.90V366.20M219.12 363.90V366.20M220.29 363.90V366.20M221.30 363.90V366.20M222.20 363.90V366.20M228.27 363.90V366.20M231.35 363.90V366.20M233.54 363.90V366.20M235.23 363.90V366.20M236.62 363.90V366.20M237.79 363.90V366.20M238.80 363.90V366.20M239.70 363.90V366.20M245.77 363.90V366.20M248.85 363.90V366.20M251.04 363.90V366.20M252.73 363.90V366.20M254.12 363.90V366.20M255.29 363.90V366.20M256.30 363.90V366.20M257.20 363.90V366.20M263.27 363.90V366.20M266.35 363.90V366.20M268.54 363.90V366.20" stroke="#231f20" stroke-width="0.7"/>
<text x="198.40" y="378.40" font-size="5.3" text-anchor="middle" fill="#231f20" stroke="#231f20" stroke-width="0.16" >0</text>
<text x="223.95" y="378.40" font-size="5.3" text-anchor="start" fill="#231f20" stroke="#231f20" stroke-width="0.28" >10</text>
<text x="231.05" y="374.50" font-size="4.77" text-anchor="start" fill="#231f20" stroke="#231f20" stroke-width="0.28" >3</text>
<text x="258.15" y="378.40" font-size="5.3" text-anchor="start" fill="#231f20" stroke="#231f20" stroke-width="0.28" >10</text>
<text x="265.25" y="374.50" font-size="4.77" text-anchor="start" fill="#231f20" stroke="#231f20" stroke-width="0.28" >5</text>
<text x="222.60" y="386.80" font-size="6.5" text-anchor="middle" fill="#231f20" stroke="#231f20" stroke-width="0.20" textLength="12.50" lengthAdjust="spacingAndGlyphs" >DAPI</text>
<text x="161.90" y="321.20" font-size="6.0" text-anchor="middle" fill="#231f20" stroke="#231f20" stroke-width="0.18" textLength="16.00" lengthAdjust="spacingAndGlyphs" transform="rotate(-90 161.90 321.20)" >SSC-A</text>
<clipPath id="c12"><rect x="308.10" y="282.30" width="81.80" height="82.10"/></clipPath>
<g clip-path="url(#c12)">
<path d="M318.9 344.1h0.7M314.7 353.6h0.7M318.7 343.5h0.7M318.9 345.9h0.7M316.9 346.4h0.7M317.0 344.2h0.7M318.0 345.3h0.7M316.5 349.6h0.7M316.4 344.9h0.7M318.6 344.9h0.7M319.8 343.5h0.7M318.4 343.8h0.7M317.9 347.8h0.7M313.0 358.4h0.7M317.5 343.8h0.7M316.6 346.1h0.7M316.6 347.6h0.7M312.2 360.3h0.7M318.3 346.1h0.7M317.5 343.4h0.7M315.6 348.0h0.7M316.3 348.5h0.7M314.3 352.4h0.7M316.3 348.5h0.7M319.1 345.4h0.7M315.9 350.6h0.7M316.1 349.0h0.7M313.7 356.1h0.7M313.4 356.5h0.7M315.8 348.3h0.7M317.4 346.0h0.7M315.0 348.4h0.7M315.6 348.0h0.7M313.7 353.9h0.7M316.6 345.8h0.7M315.9 349.8h0.7M315.8 350.7h0.7M318.2 344.2h0.7M313.4 355.8h0.7M317.7 348.1h0.7M314.3 353.5h0.7M316.1 351.3h0.7M314.7 352.3h0.7M317.5 347.8h0.7M315.7 348.5h0.7M314.6 351.2h0.7M316.2 349.5h0.7M315.3 353.2h0.7M315.7 350.8h0.7M314.2 352.5h0.7M318.0 344.1h0.7M317.9 346.1h0.7M313.7 355.2h0.7M316.0 346.9h0.7M317.2 349.1h0.7M320.4 342.5h0.7M319.1 345.0h0.7M317.1 347.5h0.7M315.2 351.2h0.7M318.8 343.7h0.7M317.1 347.8h0.7M319.9 343.3h0.7M319.9 343.1h0.7M320.3 342.4h0.7M318.2 347.4h0.7M316.9 343.9h0.7M315.5 349.2h0.7M315.2 351.0h0.7M316.2 345.1h0.7M312.5 359.5h0.7M314.9 350.7h0.7M320.8 342.2h0.7M313.7 355.7h0.7M318.0 343.6h0.7M317.4 345.7h0.7M316.5 347.9h0.7M312.8 358.4h0.7M314.8 352.5h0.7M313.6 354.5h0.7M314.7 352.3h0.7" stroke="#4a7cc0" stroke-width="0.7" opacity="1"/>
<path d="M311.50 362.00 L321.00 346.00 L326.00 342.50 L331.00 342.80 L313.00 362.00 Z" fill="#22559a" filter="url(#b0_6)"/>
<path d="M312.00 361.00 L325.00 345.00 L329.00 345.00 L314.00 361.00 Z" fill="#2f8fcf" filter="url(#b0_8)"/>
<path d="M312.50 361.00 L322.00 350.00 L324.00 350.00 L314.00 360.00 Z" fill="#3fb0a0" filter="url(#b0_6)"/>
</g>
<path d="M311.30 362.00 L323.90 342.80 L332.70 342.80 L329.20 345.80 Z" stroke="#231f20" stroke-width="0.9" fill="none" stroke-linejoin="miter" />
<text x="319.90" y="339.80" font-size="5.8" text-anchor="start" fill="#231f20" stroke="#231f20" stroke-width="0.17" textLength="21.60" lengthAdjust="spacingAndGlyphs" >Singlets</text>
<line x1="329.20" y1="346.20" x2="388.80" y2="346.20" stroke="#231f20" stroke-width="1.1" />
<path d="M393.90 346.20 L387.30 349.50 L388.88 346.20 L387.30 342.90 Z" fill="#231f20"/>
<path d="M307.80 282.00 H389.90 V364.40" stroke="#b8b8b8" stroke-width="0.7" fill="none"/>
<path d="M307.80 282.00 V364.40 H389.90" stroke="#555" stroke-width="0.5" fill="none"/>
<line x1="303.20" y1="363.80" x2="307.80" y2="363.80" stroke="#231f20" stroke-width="1.6"/>
<text x="298.50" y="366.10" font-size="5.8" text-anchor="end" fill="#231f20" stroke="#231f20" stroke-width="0.30" >0</text>
<line x1="303.20" y1="348.14" x2="307.80" y2="348.14" stroke="#231f20" stroke-width="1.6"/>
<text x="298.50" y="350.44" font-size="5.8" text-anchor="end" fill="#231f20" stroke="#231f20" stroke-width="0.30" >50K</text>
<line x1="303.20" y1="332.48" x2="307.80" y2="332.48" stroke="#231f20" stroke-width="1.6"/>
<text x="298.50" y="334.78" font-size="5.8" text-anchor="end" fill="#231f20" stroke="#231f20" stroke-width="0.30" >100K</text>
<line x1="303.20" y1="316.82" x2="307.80" y2="316.82" stroke="#231f20" stroke-width="1.6"/>
<text x="298.50" y="319.12" font-size="5.8" text-anchor="end" fill="#231f20" stroke="#231f20" stroke-width="0.30" >150K</text>
<line x1="303.20" y1="301.16" x2="307.80" y2="301.16" stroke="#231f20" stroke-width="1.6"/>
<text x="298.50" y="303.46" font-size="5.8" text-anchor="end" fill="#231f20" stroke="#231f20" stroke-width="0.30" >200K</text>
<line x1="303.20" y1="285.50" x2="307.80" y2="285.50" stroke="#231f20" stroke-width="1.6"/>
<text x="298.50" y="287.80" font-size="5.8" text-anchor="end" fill="#231f20" stroke="#231f20" stroke-width="0.30" >250K</text>
<path d="M305.60 360.67H307.80M305.60 357.54H307.80M305.60 354.40H307.80M305.60 351.27H307.80M305.60 345.01H307.80M305.60 341.88H307.80M305.60 338.74H307.80M305.60 335.61H307.80M305.60 329.35H307.80M305.60 326.22H307.80M305.60 323.08H307.80M305.60 319.95H307.80M305.60 313.69H307.80M305.60 310.56H307.80M305.60 307.42H307.80M305.60 304.29H307.80M305.60 298.03H307.80M305.60 294.90H307.80M305.60 291.76H307.80M305.60 288.63H307.80M305.60 282.37H307.80" stroke="#231f20" stroke-width="0.7"/>
<line x1="308.10" y1="364.40" x2="308.10" y2="369.00" stroke="#231f20" stroke-width="1.6"/>
<text x="308.10" y="376.50" font-size="5.8" text-anchor="middle" fill="#231f20" stroke="#231f20" stroke-width="0.30" >0</text>
<line x1="323.55" y1="364.40" x2="323.55" y2="369.00" stroke="#231f20" stroke-width="1.6"/>
<line x1="339.00" y1="364.40" x2="339.00" y2="369.00" stroke="#231f20" stroke-width="1.6"/>
<text x="339.00" y="376.50" font-size="5.8" text-anchor="middle" fill="#231f20" stroke="#231f20" stroke-width="0.30" >100K</text>
<line x1="354.45" y1="364.40" x2="354.45" y2="369.00" stroke="#231f20" stroke-width="1.6"/>
<line x1="369.90" y1="364.40" x2="369.90" y2="369.00" stroke="#231f20" stroke-width="1.6"/>
<text x="369.90" y="376.50" font-size="5.8" text-anchor="middle" fill="#231f20" stroke="#231f20" stroke-width="0.30" >200K</text>
<line x1="385.35" y1="364.40" x2="385.35" y2="369.00" stroke="#231f20" stroke-width="1.6"/>
<path d="M311.19 364.40V366.40M314.28 364.40V366.40M317.37 364.40V366.40M320.46 364.40V366.40M326.64 364.40V366.40M329.73 364.40V366.40M332.82 364.40V366.40M335.91 364.40V366.40M342.09 364.40V366.40M345.18 364.40V366.40M348.27 364.40V366.40M351.36 364.40V366.40M357.54 364.40V366.40M360.63 364.40V366.40M363.72 364.40V366.40M366.81 364.40V366.40M372.99 364.40V366.40M376.08 364.40V366.40M379.17 364.40V366.40M382.26 364.40V366.40M388.44 364.40V366.40" stroke="#231f20" stroke-width="0.7"/>
<text x="343.30" y="385.40" font-size="6.5" text-anchor="middle" fill="#231f20" stroke="#231f20" stroke-width="0.20" textLength="16.00" lengthAdjust="spacingAndGlyphs" >SSC-H</text>
<text x="281.50" y="329.00" font-size="6.0" text-anchor="middle" fill="#231f20" stroke="#231f20" stroke-width="0.18" textLength="15.60" lengthAdjust="spacingAndGlyphs" transform="rotate(-90 281.50 329.00)" >SSC-A</text>
<clipPath id="c13"><rect x="424.00" y="281.80" width="82.00" height="80.90"/></clipPath>
<g clip-path="url(#c13)">
<ellipse cx="443.00" cy="350.00" rx="17.00" ry="4.50" fill="#23599e" filter="url(#b2_2)" opacity="0.85"/>
<ellipse cx="450.00" cy="350.00" rx="8.00" ry="2.50" fill="#2f88c4" filter="url(#b2)" opacity="0.6"/>
<ellipse cx="473.80" cy="351.00" rx="10.00" ry="6.00" fill="#2f8fd0" filter="url(#b1_8)"/>
<ellipse cx="473.80" cy="351.00" rx="7.00" ry="4.20" fill="#62b94a" filter="url(#b1_4)"/>
<ellipse cx="473.60" cy="351.10" rx="4.20" ry="2.60" fill="#e0d838" filter="url(#b1)"/>
<ellipse cx="473.60" cy="351.10" rx="2.50" ry="1.60" fill="#e8452e" filter="url(#b0_7)"/>
<path transform="scale(.1)" d="M4763 3351h8m42 20h8m-180 16h8m84 1h8m75 0h8m-400 9h8m286-2h8m-240 10h8m233-1h8m-433 4h8m93 4h8m114-2h8m-3 1h8m148 0h8m145 1h8m-485 1h8m74 2h8m236 2h8m-420 3h8m-5 2h8m-5-1h8m11-1h8m-3 2h8m-4-1h8m38-2h8m37 0h8m39-1h8m106 3h8m69 1h8m-387 4h8m11 1h8m9-4h8m-1 1h8m2 3h8m41-2h8m19 1h8m86 1h8m345-4h8m2 3h8m-577 2h8m-3 3h8m-6 1h8m8-2h8m10-1h8m11-1h8m-8 0h8m57 4h8m34-4h8m91 2h8m295 0h8m-583 4h8m13-1h8m7 4h8m57 0h8m40-2h8m78 0h8m79-2h8m15 4h8m-3 0h8m247-2h8m-627 3h8m17 2h8m-8 1h8m4 1h8m2-2h8m-7 1h8m2-3h8m-6 2h8m-3-1h8m-3-1h8m-5 3h8m-4 0h8m-5-1h8m-8 2h8m8-1h8m-5 0h8m-7 1h8m22-1h8m-7 0h8m0-1h8m1 0h8m13 2h8m8-3h8m6 2h8m-173 6h8m-5-3h8m-5-1h8m37 2h8m10 1h8m-7-3h8m-2 2h8m5-1h8m1 2h8m33-3h8m10 3h8m9-3h8m62 3h8m-3 1h8m50-3h8m251 1h8m7 0h8m0-1h8m-649 6h8m15-2h8m12 3h8m6 1h8m13-1h8m-5 1h8m1 0h8m-2-4h8m-4 1h8m1 1h8m-3-2h8m-3 3h8m14-2h8m112 2h8m-2-3h8m-6 2h8m24 0h8m17 2h8m-330 1h8m-6 0h8m6 3h8m-5-2h8m-2 1h8m-6 1h8m-6 1h8m5 0h8m6-3h8m-3 0h8m-3 1h8m-5-1h8m-7 1h8m-3-2h8m0 1h8m10-1h8m210 4h8m14-1h8m-326 5h8m-8-1h8m-1 1h8m15-2h8m-3 1h8m1 1h8m-3 0h8m-3-3h8m-3 0h8m-88 8h8m3-3h8m-4 0h8m11 0h8m-1 2h8m-4 0h8m3 0h8m-8 2h8m-3-2h8m575 2h8m-659 5h8m-4 0h8m8-2h8m13-1h8m2 3h8m-3-2h8m-8-1h8m-7 0h8m-4-1h8m627 2h8m-691 6h8m11-3h8m-8 0h8m3 0h8m-6 4h8m-32 1h8m2 2h8m-7 2h8m0-4h8m-3 2h8m-43 6h8m-3 1h8m-7-4h8m-7 2h8m-4-1h8m-6 2h8m1-2h8m-5 1h8m610 1h8m-657 5h8m-4 1h8m4-3h8m-1 2h8m0-3h8m637 2h8m-684 6h8m10-3h8m1 3h8m-6 1h8m-7-4h8m-42 8h8m10 1h8m-5-1h8m-5 1h8m-2 0h8m-6-3h8m-16 7h8m-6-3h8m-7 2h8m-6 2h8m659-2h8m-703 3h8m-3 4h8m-3-1h8m-2-1h8m-7 1h8m10 1h8m-44 3h8m0 0h8m-3 1h8m4-1h8m-7-2h8m-6 4h8m-1-4h8m-40 5h8m-7 0h8m-7 3h8m-2 0h8m-6-3h8m9 2h8m-7-1h8m-7 3h8m-3-2h8m-4 1h8m-49 3h8m-3 2h8m-5 1h8m-4-3h8m-5 0h8m1 0h8m0 1h8m-2-1h8m616 3h8m-668 5h8m-2-4h8m6 4h8m4-3h8m-3 2h8m-4-1h8m-8 1h8m2-3h8m0 3h8m-45 4h8m7 2h8m-5-4h8m-2 1h8m-6 0h8m-6 2h8m-5-3h8m10 4h8m-6 0h8m-71 4h8m-4-3h8m5 2h8m-2 0h8m4 2h8m-3-2h8m-7 2h8m-2-3h8m-7 2h8m15-1h8m-1 1h8m609 0h8m-707 3h8m-2 3h8m3-4h8m26 4h8m-2-4h8m-6 4h8m-4-1h8m-3-3h8m-7 1h8m-7 2h8m-3-3h8m-6 1h8m-4 3h8m-7-4h8m-7 1h8m202 2h8m12 1h8m-282 4h8m-4-2h8m6 1h8m-2 1h8m-3-1h8m-7 0h8m-5-1h8m-8 2h8m-5-3h8m1 1h8m-4 2h8m-4-2h8m-1 1h8m-4 1h8m-8-2h8m-4 1h8m-5-1h8m-3 2h8m1-2h8m1 1h8m113-2h8m-7 0h8m-3 1h8m20-1h8m-6 1h8m-2 1h8m2 2h8m322-2h8m-647 6h8m11-1h8m7 2h8m6-3h8m-5 2h8m-5-2h8m-6 1h8m-4 1h8m1-3h8m-5 4h8m-1-3h8m-7 1h8m-3 0h8m1 2h8m-7-3h8m4 3h8m2-3h8m5 1h8m-3-1h8m9-1h8m9 1h8m6 3h8m3 0h8m27-1h8m-1-1h8m2 2h8m1-1h8m10-3h8m9 2h8m367 0h8m-654 3h8m0 1h8m7 0h8m15 2h8m-4-3h8m-1 3h8m17-1h8m27 2h8m56-3h8m1-1h8m21 2h8m-7-1h8m-1-1h8m378 3h8m7-1h8m-659 5h8m4 1h8m28-2h8m-4 3h8m-1-1h8m2 1h8m38-1h8m-8 0h8m38-3h8m4 0h8m3 0h8m10 2h8m11 1h8m5 0h8m14-1h8m71 0h8m16 0h8m-354 5h8m14 1h8m9 1h8m17-4h8m-7 2h8m30-2h8m12 3h8m10 1h8m4-2h8m7 0h8m5-1h8m13-1h8m-5 2h8m12-2h8m-2 2h8m54 1h8m-310 3h8m26 2h8m-7 0h8m-2 1h8m27-1h8m-7-1h8m21 0h8m-3-1h8m69 2h8m-8-3h8m15 2h8m1-1h8m27 1h8m375-2h8m-579 9h8m-4 0h8m103-2h8m7 1h8m63 1h8m410-1h8m-695 2h8m7 2h8m76-1h8m19-1h8m196 1h8m-307 6h8m-1 1h8m29-1h8m54 0h8m3-1h8m221-1h8m212 0h8m-560 7h8m220 0h8m139 1h8m151 1h8m-8 0h8m1-1h8m48 1h8m-211 4h8m110-2h8m-310 5h8m3 3h8m251 0h8m12-3h8m21 1h8m-171 3h8m-126 8h8m206-3h8m-76 6h8m112 0h8" stroke="#194d9a" stroke-width="8" opacity="0.7"/>
<path transform="scale(.1)" d="M4715 3422h8m-6-2h8m-4 1h8m-3 6h8m7 0h8m7-1h8m15-2h8m-132 8h8m41-1h8m-61 5h8m24-3h8m113 3h8m2-1h8m-193 4h8m8 3h8m170-1h8m6 0h8m-227 3h8m22 2h8m168-1h8m14 1h8m-475 5h8m12 1h8m-6-4h8m-7 0h8m-2 1h8m-3 0h8m39 1h8m0 2h8m6-1h8m7 1h8m328-4h8m0 4h8m-7-3h8m-494 8h8m-6 0h8m12 0h8m-7-4h8m10 1h8m9 2h8m21 0h8m2-2h8m-1 3h8m8-4h8m-3 4h8m-1-2h8m139 0h8m208-2h8m-8 3h8m-523 5h8m-6-1h8m-3 2h8m-7-2h8m-6 2h8m-8-2h8m2-2h8m2 2h8m25 1h8m7-2h8m1 2h8m-7-1h8m-2-2h8m-4 0h8m3 3h8m26-1h8m23 1h8m38 1h8m13-1h8m-5-1h8m23-1h8m2 3h8m-305 3h8m-6-1h8m9 2h8m-2-1h8m13 1h8m-1 1h8m-5 0h8m-2-1h8m8-2h8m0-1h8m-4 4h8m12-1h8m-7 1h8m-4 0h8m2-3h8m15-1h8m1 3h8m8 0h8m29-3h8m3 2h8m20 2h8m-6-2h8m26-2h8m-313 6h8m-8 3h8m-2-1h8m2-2h8m1 3h8m-6-2h8m8-1h8m-7-1h8m-7 1h8m-7 3h8m-2-1h8m8-2h8m1 0h8m-7 1h8m-8 2h8m-8 0h8m-7 0h8m-6-3h8m-5-1h8m5 4h8m-6-3h8m-7 2h8m-6 0h8m-8-3h8m1 2h8m16-1h8m-8-1h8m-5 3h8m-7-1h8m-6-2h8m9 1h8m5 1h8m-5 2h8m-1-1h8m0 0h8m6-2h8m-3 0h8m-5-1h8m-7 1h8m0 0h8m-5 0h8m-229 8h8m1-2h8m-7 2h8m-3-3h8m-4 2h8m-7 0h8m-4 0h8m-6-3h8m-6 2h8m-1 2h8m-5-3h8m-5 0h8m-2-1h8m-4 1h8m9 3h8m-1-4h8m-8 1h8m-5 0h8m-2-1h8m6 0h8m-1 1h8m21 3h8m8-3h8m-8 3h8m-1-4h8m22 2h8m-7 0h8m-5-2h8m-8 0h8m10 0h8m-6 0h8m-3 4h8m-5 0h8m-6-2h8m-4-1h8m6 1h8m-4 2h8m34-2h8m2 1h8m-325 5h8m-6 1h8m-5 0h8m-7 0h8m-6-1h8m-8 0h8m-4-3h8m1 4h8m1-1h8m-6 1h8m-8-4h8m-2 3h8m1 1h8m-5-4h8m-6 1h8m-6 0h8m0 1h8m-3 2h8m0 0h8m-4-4h8m-5 2h8m-6 1h8m-7-3h8m-7 0h8m-1 3h8m-8-1h8m8-2h8m-7 4h8m-2 0h8m-8-4h8m0 2h8m-7 1h8m-8 0h8m-3 0h8m-2 0h8m-8 0h8m-7-1h8m-5 0h8m-5-1h8m-4 1h8m-6-1h8m2 2h8m-4-2h8m-2 2h8m4-2h8m-6 0h8m-7 1h8m-3-2h8m-4 4h8m-7-1h8m-8 0h8m-4-2h8m-7-1h8m-2 3h8m-6-2h8m-2 1h8m20 0h8m-8 0h8m-6 2h8m-3 0h8m-4 0h8m34-3h8m-6-1h8m-308 6h8m-5 2h8m-6 1h8m-6-3h8m-6-1h8m-7 1h8m-1-1h8m-6 3h8m-4-2h8m-5 2h8m-5-3h8m-7 2h8m-7-2h8m-7 1h8m-2-1h8m-7 3h8m-5-3h8m6 1h8m-4 2h8m-5 1h8m2-1h8m-6-2h8m-3 1h8m-8-1h8m-4 1h8m1-1h8m1 1h8m-4 2h8m-6-2h8m66 0h8m-3 0h8m7 0h8m5-1h8m13 2h8m3-3h8m-8 0h8m9 3h8m-5-1h8m1-2h8m-7 3h8m-3-3h8m15 4h8m-312 2h8m-4 1h8m-5 2h8m-4-3h8m-6 3h8m6-1h8m-7 1h8m-6-3h8m-3-1h8m-2 1h8m-5 0h8m-6 2h8m-7-2h8m-4 2h8m-2-1h8m-4 2h8m7 0h8m-6-1h8m0-2h8m-7-1h8m-4 1h8m-7 3h8m-4-2h8m-7 2h8m-6-4h8m97 1h8m-4 0h8m3 0h8m-7 3h8m4-2h8m-2 1h8m-5-3h8m-7 0h8m-5 4h8m-6-3h8m8 1h8m0 2h8m18-2h8m-4-1h8m-6 1h8m286-2h8m-611 7h8m-1 1h8m0 1h8m-6-4h8m-4 0h8m-8 0h8m3 0h8m-5 2h8m-6-1h8m3 0h8m-3 2h8m-6 1h8m-3-3h8m-7 0h8m-8 2h8m-3-2h8m-7 0h8m-7 1h8m-5-2h8m-6 4h8m-5-4h8m1 3h8m-7-3h8m-6 2h8m-7 1h8m2 0h8m-6 0h8m102 1h8m-3-4h8m-8 3h8m-7-3h8m-4 2h8m-2-2h8m-5 0h8m-7 2h8m32-1h8m-7-1h8m-4 1h8m-4 3h8m27-4h8m289 3h8m-618 5h8m-4 1h8m-8-3h8m-5 2h8m-2 0h8m-7-3h8m-7 4h8m1-1h8m-2-2h8m-3 0h8m-7-1h8m-7 1h8m-7 3h8m4-4h8m-5 1h8m2-1h8m-7 4h8m-8-1h8m-4 0h8m-6 1h8m-1-4h8m-4 1h8m-5 3h8m0-4h8m-7 2h8m-8 2h8m-7 0h8m-7 0h8m-8-2h8m-7 2h8m106-2h8m-8-2h8m-6 0h8m-4 3h8m3-3h8m-6 4h8m8-4h8m-5 4h8m-7-3h8m27 3h8m3-4h8m301 3h8m-603 3h8m-6 1h8m-5 0h8m2 0h8m-2-1h8m-8 1h8m-4 2h8m-1-3h8m7 2h8m-6 1h8m-8-1h8m-6-2h8m17 0h8m112 3h8m-7 0h8m-7-4h8m-6 4h8m3-1h8m-7 1h8m-5-1h8m8-1h8m-6 2h8m3-2h8m-7 1h8m-3-2h8m0-1h8m-6 0h8m-5 2h8m6 0h8m-4-1h8m6 3h8m-5-1h8m-305 6h8m-2-1h8m-6-2h8m-7-1h8m-8 1h8m-8 0h8m-6 2h8m-5-1h8m-7-2h8m-3 3h8m5 1h8m-7-4h8m-6 1h8m-7 3h8m-5-2h8m-6-2h8m-6 3h8m-5-2h8m-7 3h8m-4-2h8m-7 1h8m-7-2h8m-8 3h8m-4 0h8m-8-2h8m-5 1h8m0-1h8m-7-2h8m-1 3h8m14 0h8m87 1h8m-3-1h8m-7-2h8m-8 0h8m1 1h8m-4 2h8m0-3h8m-3 2h8m-4 1h8m-4-2h8m-3 1h8m-5-2h8m-4 3h8m-7 0h8m5-4h8m-6 2h8m-3 1h8m19-1h8m-6 0h8m-6 0h8m292 1h8m-615 2h8m-7 1h8m-3 2h8m-5 1h8m-5-4h8m-2 3h8m-2-2h8m-6-1h8m-5 4h8m-5-4h8m-6 1h8m-7 0h8m-5-1h8m-6 4h8m-7-1h8m-5 1h8m-7 0h8m-6 0h8m-3-4h8m-6 4h8m-1-4h8m-1 2h8m-2 1h8m-7-3h8m-7 3h8m-4 0h8m-3-1h8m-6 0h8m-4 0h8m6 0h8m-5-2h8m-7 2h8m-5 2h8m5-1h8m54 1h8m-1-3h8m-2 2h8m-7-2h8m-1 0h8m-1 3h8m-6-4h8m-2 3h8m-4-1h8m19 0h8m4 1h8m-1-2h8m-6 1h8m-3 2h8m23-3h8m279 0h8m-594 4h8m-6 4h8m-6-1h8m-6 0h8m-2-2h8m-4 0h8m12 3h8m-7-1h8m6-1h8m15 2h8m-5-1h8m-8-1h8m9 0h8m-8 0h8m-5-1h8m26 1h8m-2 2h8m-7-1h8m12-3h8m-4 1h8m-8 3h8m-6-3h8m-2 1h8m-3-2h8m1 3h8m-7-3h8m3 0h8m-6 1h8m-5 0h8m-6 0h8m-7 0h8m-8-1h8m-4 0h8m-8 3h8m-4-1h8m-6 2h8m-7-4h8m10 2h8m-6 1h8m5 0h8m12-2h8m-5-1h8m-280 5h8m-3 4h8m9-3h8m-5 3h8m-7-2h8m-8 1h8m1-2h8m-3 1h8m1 2h8m-6-3h8m0-1h8m-3 0h8m-7 4h8m-4-4h8m-4 0h8m-8 1h8m-2-1h8m-4 0h8m0 2h8m-3 1h8m-4-3h8m0 1h8m-1 3h8m1-4h8m-1 3h8m4-3h8m3 3h8m-5 0h8m-8 1h8m1-2h8m-1-2h8m-3 1h8m0-1h8m-5 4h8m-4-1h8m0 1h8m15-4h8m2 0h8m-4 4h8m-5-4h8m8 1h8m5 1h8m11 2h8m-1-2h8m-2 0h8m-7 1h8m277-1h8m-7 1h8m-578 3h8m6 1h8m2-1h8m-4 2h8m3-3h8m-3 4h8m-7-4h8m-6 1h8m3 1h8m-6 1h8m6-1h8m-6-2h8m3 4h8m3-1h8m-7 1h8m-6-3h8m-8 1h8m2 0h8m0-1h8m-6 1h8m5-1h8m-5 3h8m2 0h8m11-3h8m-7 3h8m-7-2h8m1 1h8m-5-3h8m2 1h8m-6 1h8m14 1h8m9-3h8m18 2h8m-3 2h8m304 0h8m-580 1h8m0 2h8m0 1h8m22-3h8m15 2h8m-2-2h8m7 4h8m-5-2h8m-5-1h8m-3 3h8m-3-3h8m-3 0h8m-5-1h8m-1 1h8m-5 1h8m7-2h8m50 3h8m-7 1h8m-4-2h8m-4 2h8m-2-3h8m-8 3h8m-2 0h8m-6 0h8m-6-1h8m-2 1h8m-2-1h8m-8-3h8m-7 2h8m7-1h8m-3 3h8m-4-1h8m1-2h8m4 3h8m-272 2h8m42 2h8m5-3h8m-6 1h8m-7 2h8m3-1h8m-6 2h8m-7-1h8m-6 0h8m13 1h8m-4-3h8m-8 3h8m7-2h8m-2 1h8m-5-1h8m23-2h8m34 0h8m0 1h8m12 1h8m311 0h8m-530 4h8m0 2h8m-2-1h8m-2-2h8m-7 4h8m-6-2h8m0 1h8m-7 1h8m7-2h8m-6 1h8m0 1h8m-1-2h8m16-1h8m-6-1h8m-7 3h8m1-1h8m-2-2h8m-2 0h8m-5 0h8m-2 4h8m-7-3h8m-7 1h8m3 0h8m11-2h8m77 1h8m11 3h8m-244 1h8m18 0h8m21 2h8m7 2h8m13-2h8m135 1h8m254 0h8m-268 2h8m1 3h8m-18 3h8m226 3h8m5-1h8m-20 6h8m-216 12h8m7 3h8m0-4h8m147 3h8m-143 9h8m19 2h8m45 4h8m-7-1h8m-13 4h8m-5 1h8" stroke="#1b57a3" stroke-width="8" opacity="0.7"/>
<path transform="scale(.1)" d="M4692 3437h8m35-2h8m8-2h8m1 2h8m0-1h8m3-1h8m-4 4h8m7 0h8m-130 3h8m0 2h8m-2 0h8m-2-3h8m-2 0h8m-5 0h8m-7 0h8m65 1h8m-2 2h8m17 0h8m-146 2h8m-27 4h8m-6 1h8m-6 0h8m164 3h8m-12 1h8m-191 5h8m182 1h8m-212 7h8m-6 0h8m-23 5h8m-9 2h8m226 0h8m-422 9h8m161 0h8m12-3h8m216 0h8m-447 7h8m1-2h8m-2 3h8m-6 0h8m9-1h8m-5 0h8m-7 1h8m2 0h8m137-1h8m12 0h8m228-2h8m-482 8h8m-6-1h8m2 1h8m-5-2h8m-7 2h8m-6-2h8m6 1h8m-6 1h8m-5-1h8m-2-3h8m15 4h8m-7 0h8m-8-4h8m-8 1h8m2-1h8m-3 2h8m-6 1h8m-5-2h8m-5 2h8m114-2h8m-222 7h8m-3-2h8m-2 0h8m-3 1h8m2-1h8m-6 0h8m-5 2h8m-7 1h8m-5-2h8m-4 0h8m-3 0h8m-6 0h8m-3-1h8m-7 2h8m-7-3h8m-6 4h8m-2-4h8m-6 3h8m-8-3h8m0 4h8m14-4h8m-8 2h8m-7 1h8m-7-1h8m-4-1h8m-4 3h8m372-3h8m-488 8h8m-6-2h8m-7 0h8m-5 2h8m-5-4h8m0 2h8m1 2h8m-7-3h8m1 2h8m-7-1h8m-3-2h8m0 0h8m9 1h8m-4-1h8m-7 2h8m-4 2h8m3-2h8m115 1h8m-7-3h8m9 0h8m-240 7h8m4-1h8m1 1h8m-1 2h8m-8 0h8m-7-4h8m-1 2h8m-1 1h8m-3 1h8m-3 0h8m-2-1h8m-6-1h8m19 1h8m-5 0h8m-3-2h8m-7 2h8m-7 0h8m-103 3h8m-7-1h8m0 4h8m-6-1h8m-7-1h8m-7 1h8m-7-3h8m-8 3h8m-6-3h8m-8 4h8m-5-1h8m4 0h8m-1-2h8m-7 1h8m6-2h8m-7 4h8m-2 0h8m-7 0h8m1 0h8m-1-2h8m1 1h8m-5-2h8m-7 1h8m-7-1h8m-4 0h8m-93 4h8m-4 0h8m-5 1h8m-7 0h8m-2 0h8m-4 2h8m-4-2h8m-5 1h8m0-2h8m-4 3h8m1-2h8m-8 3h8m-4 0h8m-8-2h8m-4-1h8m-2-1h8m145 3h8m-5-3h8m-7 1h8m-21 5h8m6 3h8m240-2h8m-254 6h8m239 1h8m-260 5h8m-7-4h8m-3 3h8m220 19h8m3-1h8m-6-1h8m-231 5h8m-4 4h8m195-2h8m-7 2h8m-204 2h8m178 1h8m-178 5h8m172-2h8m-199 8h8m12 1h8m145-3h8m-31 7h8m6-3h8m-137 9h8m3-1h8m3 1h8m55 0h8m12 0h8m-108 1h8m-3 4h8m2-4h8m6 4h8m2-4h8m-6 1h8m-2 0h8m18 1h8m10 0h8m-69 6h8" stroke="#1d61ac" stroke-width="8" opacity="0.7"/>
<path transform="scale(.1)" d="M4739 3439h8m-5 3h8m-6-2h8m-2-1h8m-5 2h8m-3 0h8m-59 4h8m9-1h8m27 0h8m5 0h8m8 0h8m-122 7h8m-17 2h8m-2 4h8m128-2h8m0 0h8m-161 7h8m142-1h8m-5-2h8m-170 7h8m163 1h8m-3-2h8m-198 5h8m7-2h8m170 4h8m-209 5h8m196-3h8m-5 1h8m-1 2h8m-217 4h8m-13 5h8m-20 6h8m-4-1h8m216-3h8m-239 9h8m-6-3h8m0 1h8m-17 3h8m-2 4h8m-7 0h8m-3-1h8m-13 2h8m223 3h8m-239 3h8m222 4h8m-5 1h8m-8 0h8m-13 4h8m-7 9h8m-226 5h8m-15 2h8m1 3h8m197-1h8m-15 3h8m-4 3h8m-207 3h8m-8 1h8m6 9h8m-6-2h8m154 4h8m5-4h8m-186 8h8m-5 0h8m-2 1h8m154-2h8m-152 7h8m-2 0h8m117-3h8m-129 8h8m26 5h8m-1-1h8m1 1h8m40-1h8m-95 2h8m16 0h8m15 2h8" stroke="#1f70b4" stroke-width="8" opacity="0.7"/>
<path transform="scale(.1)" d="M4763 3447h8m-76 4h8m-6 1h8m-8-1h8m7 0h8m20-3h8m33 4h8m-103 3h8m9 0h8m100 7h8m-154 1h8m128 1h8m-158 13h8m167-3h8m-184 4h8m176 4h8m-11 7h8m0-1h8m-7 4h8m-212 7h8m-3 2h8m-8-1h8m-18 5h8m-6 0h8m-5 2h8m-7 0h8m-7-4h8m-8 0h8m-15 8h8m-6-2h8m-3 1h8m193-2h8m-9 11h8m-207 8h8m-1 3h8m-11 5h8m-7 0h8m-6 2h8m177-1h8m-3 1h8m-6-3h8m-16 5h8m-187 7h8m-3 1h8m144 5h8m8-3h8m-158 6h8m119 1h8m-126 2h8m110 3h8m-102 6h8m64-3h8m-84 4h8m-6 2h8m-3 1h8m-3-3h8m2 1h8m1 3h8m14-2h8m-4 0h8m-5-2h8m-7 4h8m-7-1h8m-2-2h8m-5 0h8" stroke="#2282bc" stroke-width="8" opacity="0.7"/>
<path transform="scale(.1)" d="M4729 3452h8m14 0h8m-51 4h8m-5-2h8m6 3h8m-3-2h8m8 1h8m-56 3h8m-26 4h8m3 2h8m108 7h8m-153 4h8m-6-2h8m137 1h8m-156 7h8m-10 1h8m-19 7h8m-2 2h8m157-4h8m-181 7h8m171-1h8m-4 2h8m-193 6h8m174 2h8m0-1h8m-194 7h8m-8-1h8m-13 5h8m182-1h8m-196 8h8m-3 1h8m-9 5h8m174-2h8m-183 11h8m155-2h8m-164 4h8m-7 1h8m145 1h8m-158 6h8m138-1h8m-150 5h8m7 6h8m-7 1h8m98-2h8m4-2h8m-121 5h8m16 4h8m55-1h8m-82 4h8m19 0h8m-5 0h8m0 2h8m0-3h8m3 1h8m-7-2h8" stroke="#2793bb" stroke-width="8" opacity="0.7"/>
<path transform="scale(.1)" d="M4727 3457h8m-33 5h8m12-4h8m2 1h8m-3 3h8m-8-3h8m9 0h8m-7 3h8m-8-1h8m-4 0h8m-7 1h8m-73 4h8m56-3h8m-79 6h8m98 1h8m-123 6h8m-6 1h8m-6-3h8m115 3h8m-8 1h8m-150 6h8m-5 1h8m-11 4h8m144 2h8m-161 2h8m151 3h8m-8 2h8m-6 8h8m-176 4h8m157 0h8m-3 1h8m-179 5h8m-9 6h8m-2-1h8m149-1h8m-7 1h8m-6 0h8m-8 0h8m-172 4h8m146 7h8m-4 3h8m-8-1h8m-7-1h8m-155 5h8m-7 2h8m-5 1h8m114 4h8m-7 2h8m-6-1h8m-6 0h8m-7 1h8m-117 1h8m100 0h8m-111 7h8m-2 2h8m-8-2h8m-5-2h8m-2 2h8m10 2h8m25 0h8m6-3h8m-58 7h8m8 1h8m-4-4h8" stroke="#2ea2b3" stroke-width="8" opacity="0.7"/>
<path transform="scale(.1)" d="M4718 3464h8m-7 1h8m0 2h8m-7-4h8m7 0h8m-5 3h8m5-2h8m-6 2h8m-7 1h8m0 0h8m-76 3h8m-7 2h8m-4-1h8m42-2h8m-5 0h8m13 3h8m-90 2h8m76 3h8m-6-1h8m-4 0h8m-5 6h8m-5-3h8m-5 4h8m1 3h8m-146 5h8m-2-1h8m118-2h8m-2 1h8m-5 1h8m-145 3h8m-12 8h8m-6-2h8m132-1h8m-7 3h8m-152 10h8m-7 0h8m134-3h8m-6 9h8m-5-3h8m-161 5h8m137-1h8m-6 4h8m-10 2h8m-147 8h8m124-2h8m-125 10h8m-8 0h8m-4-1h8m10 8h8m77-4h8m-96 6h8m-8-1h8m-1 4h8m52 0h8m-6-3h8m-43 6h8m13-1h8m-8 0h8" stroke="#40af92" stroke-width="8" opacity="0.7"/>
<path transform="scale(.1)" d="M4713 3472h8m0 0h8m6-1h8m-7 1h8m-6-4h8m-6 0h8m3 4h8m10 0h8m-74 4h8m-8-3h8m-2 2h8m-7-2h8m-3 2h8m-4-1h8m21-1h8m11 4h8m-3-1h8m-7-2h8m-82 4h8m-7 3h8m-23 4h8m-2 0h8m-8 1h8m-5-3h8m90 3h8m-3 1h8m-125 5h8m-4-1h8m103-3h8m-127 9h8m-4 0h8m113 0h8m-6-4h8m-136 9h8m-5-1h8m115-2h8m-136 8h8m-10 8h8m-4-2h8m-6 0h8m-7 1h8m117 2h8m-134 2h8m116 2h8m-7 0h8m-6-1h8m-136 4h8m115 4h8m-125 1h8m-6 0h8m-8 4h8m-7-4h8m104 4h8m-123 1h8m6 4h8m93-4h8m-117 5h8m93 1h8m-99 5h8m0 0h8m-2 1h8m-5 0h8m0 2h8m11 0h8m13 0h8m-3-3h8m2 0h8m-4-1h8m-68 7h8m-2 1h8m8 0h8" stroke="#5ebb5a" stroke-width="8" opacity="0.7"/>
<path transform="scale(.1)" d="M4722 3477h8m-5-2h8m4 1h8m-6-2h8m-7 0h8m-6 1h8m-6 0h8m-5 1h8m0 0h8m-49 4h8m-6-1h8m3 0h8m19 0h8m-1-1h8m5 1h8m-80 8h8m-4-2h8m60 0h8m-3-2h8m-8 3h8m-8 0h8m-4 0h8m-102 6h8m-7-4h8m-8 3h8m-1 0h8m-4-3h8m73 1h8m1 3h8m-112 3h8m94-1h8m-5-1h8m-119 8h8m-5 1h8m-4 0h8m95-4h8m-2 1h8m-126 6h8m-7-2h8m-5 0h8m100 0h8m-1 3h8m-8-1h8m-6 2h8m-124 2h8m102 0h8m-7 0h8m-6 0h8m-126 5h8m0-1h8m98 4h8m-2-2h8m-124 3h8m-5 3h8m-4 1h8m93-1h8m-6-2h8m-5 2h8m-111 5h8m94-2h8m-112 8h8m80 0h8m-2-2h8m-7 0h8m-95 3h8m-2 4h8m64-2h8m-79 3h8m-5 3h8m16 1h8m35-3h8m-53 5h8m9 0h8m-7 0h8m-5 1h8m-2-1h8m-8-1h8m-7 0h8" stroke="#94ca43" stroke-width="8" opacity="0.7"/>
<path transform="scale(.1)" d="M4727 3479h8m0 2h8m4-1h8m-3 1h8m-53 5h8m12-3h8m-7 1h8m17 1h8m-2 1h8m6 0h8m-81 4h8m-6-2h8m-5 4h8m-7-4h8m-7 2h8m0-1h8m54 0h8m-8 0h8m-86 7h8m67-2h8m2-1h8m-8 4h8m-7-2h8m-7 2h8m-99 4h8m79-3h8m-100 7h8m91 0h8m-109 3h8m-8 4h8m90-4h8m-5 4h8m-101 2h8m-11 7h8m84 1h8m-5-3h8m-102 4h8m2 2h8m65 1h8m-7-2h8m-6 0h8m-8-1h8m-85 7h8m5 2h8m50-1h8m-8 0h8m-7 0h8m-4-2h8m-79 6h8m-3 2h8m-5-3h8m-1 1h8m9 2h8m-1-1h8m-2-1h8m-2-1h8m-7 2h8m-7 1h8m-3-4h8m-5 0h8m-49 8h8m-7-3h8m-1 0h8m3 0h8m-6 3h8m-6-2h8m-3 0h8m-8-1h8" stroke="#ced934" stroke-width="8" opacity="0.7"/>
<path transform="scale(.1)" d="M4739 3484h8m-4 3h8m-6-3h8m-4 1h8m-7 2h8m-49 5h8m-1-3h8m-3 2h8m-6-3h8m3 2h8m-5 0h8m-8 0h8m-42 6h8m-4-2h8m-7 0h8m-8 3h8m-3 0h8m36-4h8m-2 1h8m-7 3h8m-5-3h8m-7 3h8m-8-1h8m-2 1h8m-81 2h8m61 0h8m-2-1h8m-8 4h8m-6-3h8m-87 7h8m-4-1h8m-6 1h8m-8 1h8m-8-2h8m-7-2h8m57 0h8m-3 3h8m-8-3h8m-4 1h8m-91 8h8m-4-2h8m-7-2h8m-6 1h8m-7 3h8m-8-2h8m59-1h8m-2 2h8m-87 6h8m-4 0h8m-6-3h8m57 0h8m-8 0h8m-7 3h8m-2-3h8m-7 2h8m-5-2h8m-88 5h8m-1 1h8m-8 0h8m-9 6h8m-8-3h8m-8 3h8m-8-2h8m-7 1h8m-6 2h8m-7 0h8m41-2h8m-8 0h8m-3-1h8m-56 4h8m1 3h8m-7-2h8m7 1h8m4 0h8m-2 1h8m-5 0h8m-37 5h8m-6-3h8m1 1h8m-3 0h8m-2-1h8m-8 0h8m-7 0h8" stroke="#e6b82c" stroke-width="8" opacity="0.7"/>
<path transform="scale(.1)" d="M4737 3492h8m-2 0h8m-6 0h8m-32 5h8m-5-2h8m-7 1h8m-7-3h8m-1 0h8m-7 4h8m0-1h8m-6 1h8m-7-2h8m-7 0h8m-7-2h8m-1 3h8m-49 4h8m-7 2h8m-7-2h8m-7-1h8m-3-1h8m1 3h8m-5-1h8m-6-1h8m-1 0h8m11 2h8m-6-3h8m-6 2h8m-6 2h8m-64 1h8m1 4h8m-3-1h8m-7-1h8m21 2h8m-55 3h8m-7-2h8m3 4h8m27-2h8m-3-1h8m0-1h8m-6 3h8m-8-1h8m-63 7h8m-5-4h8m-7 2h8m-4 0h8m-4 1h8m-7 0h8m15 1h8m-5-4h8m-5 4h8m-52 1h8m2 0h8m-8 1h8m-6 0h8m-6 3h8m11-4h8m-7 3h8m-4 0h8m-5-2h8m-2 3h8m-7-2h8m-6 1h8m-5-2h8m-48 5h8m-5 0h8m-7 0h8m-7 2h8m-7-2h8m-7-1h8m-8 2h8m-5 1h8m-4 1h8m-7 0h8m-2 0h8m-7 0h8m-3-1h8m-6-2h8" stroke="#f38d28" stroke-width="8" opacity="0.7"/>
<path transform="scale(.1)" d="M4742 3502h8m-5 0h8m-25 5h8m-4-3h8m-7 3h8m-4-3h8m-3 0h8m-8 1h8m-22 7h8m2-4h8m-4 2h8m-4 0h8m-6 0h8m-26 5h8m-7-2h8m-7 1h8m-4 1h8m-6 0h8m-6 2h8m-3 0h8" stroke="#eb5d28" stroke-width="8" opacity="0.7"/>
</g>
<ellipse cx="475.9" cy="350.4" rx="14.6" ry="8.6" fill="none" stroke="#231f20" stroke-width="0.9"/>
<line x1="489.60" y1="354.00" x2="489.60" y2="392.90" stroke="#231f20" stroke-width="1.1" />
<path d="M489.60 398.00 L486.30 391.40 L489.60 392.98 L492.90 391.40 Z" fill="#231f20"/>
<text x="463.80" y="340.20" font-size="5.8" text-anchor="start" fill="#231f20" stroke="#231f20" stroke-width="0.17" textLength="30.70" lengthAdjust="spacingAndGlyphs" >Leukocytes</text>
<path d="M423.70 281.50 H506.00 V362.70" stroke="#b8b8b8" stroke-width="0.7" fill="none"/>
<path d="M423.70 281.50 V362.70 H506.00" stroke="#555" stroke-width="0.5" fill="none"/>
<line x1="419.10" y1="361.60" x2="423.70" y2="361.60" stroke="#231f20" stroke-width="1.6"/>
<text x="415.10" y="363.90" font-size="5.8" text-anchor="end" fill="#231f20" stroke="#231f20" stroke-width="0.30" >0</text>
<line x1="419.10" y1="346.32" x2="423.70" y2="346.32" stroke="#231f20" stroke-width="1.6"/>
<text x="415.10" y="348.62" font-size="5.8" text-anchor="end" fill="#231f20" stroke="#231f20" stroke-width="0.30" >50K</text>
<line x1="419.10" y1="331.04" x2="423.70" y2="331.04" stroke="#231f20" stroke-width="1.6"/>
<text x="415.10" y="333.34" font-size="5.8" text-anchor="end" fill="#231f20" stroke="#231f20" stroke-width="0.30" >100K</text>
<line x1="419.10" y1="315.76" x2="423.70" y2="315.76" stroke="#231f20" stroke-width="1.6"/>
<text x="415.10" y="318.06" font-size="5.8" text-anchor="end" fill="#231f20" stroke="#231f20" stroke-width="0.30" >150K</text>
<line x1="419.10" y1="300.48" x2="423.70" y2="300.48" stroke="#231f20" stroke-width="1.6"/>
<text x="415.10" y="302.78" font-size="5.8" text-anchor="end" fill="#231f20" stroke="#231f20" stroke-width="0.30" >200K</text>
<line x1="419.10" y1="285.20" x2="423.70" y2="285.20" stroke="#231f20" stroke-width="1.6"/>
<text x="415.10" y="287.50" font-size="5.8" text-anchor="end" fill="#231f20" stroke="#231f20" stroke-width="0.30" >250K</text>
<path d="M421.50 358.54H423.70M421.50 355.49H423.70M421.50 352.43H423.70M421.50 349.38H423.70M421.50 343.26H423.70M421.50 340.21H423.70M421.50 337.15H423.70M421.50 334.10H423.70M421.50 327.98H423.70M421.50 324.93H423.70M421.50 321.87H423.70M421.50 318.82H423.70M421.50 312.70H423.70M421.50 309.65H423.70M421.50 306.59H423.70M421.50 303.54H423.70M421.50 297.42H423.70M421.50 294.37H423.70M421.50 291.31H423.70M421.50 288.26H423.70M421.50 282.14H423.70" stroke="#231f20" stroke-width="0.7"/>
<path d="M424.40 362.70V367.10M428.55 362.70V367.10M429.93 362.70V367.10M431.32 362.70V367.10M435.47 362.70V367.10M436.85 362.70V367.10M439.62 362.70V367.10M442.50 362.70V367.10M460.00 362.70V367.10M477.50 362.70V367.10M495.00 362.70V367.10" stroke="#231f20" stroke-width="1.5"/>
<path d="M425.78 362.70V365.00M427.17 362.70V365.00M432.70 362.70V365.00M434.08 362.70V365.00M438.23 362.70V365.00M441.00 362.70V365.00M447.77 362.70V365.00M450.85 362.70V365.00M453.04 362.70V365.00M454.73 362.70V365.00M456.12 362.70V365.00M457.29 362.70V365.00M458.30 362.70V365.00M459.20 362.70V365.00M465.27 362.70V365.00M468.35 362.70V365.00M470.54 362.70V365.00M472.23 362.70V365.00M473.62 362.70V365.00M474.79 362.70V365.00M475.80 362.70V365.00M476.70 362.70V365.00M482.77 362.70V365.00M485.85 362.70V365.00M488.04 362.70V365.00M489.73 362.70V365.00M491.12 362.70V365.00M492.29 362.70V365.00M493.30 362.70V365.00M494.20 362.70V365.00M500.27 362.70V365.00M503.35 362.70V365.00" stroke="#231f20" stroke-width="0.7"/>
<text x="436.50" y="377.60" font-size="5.2" text-anchor="middle" fill="#231f20" stroke="#231f20" stroke-width="0.16" >0</text>
<text x="459.85" y="377.60" font-size="5.3" text-anchor="start" fill="#231f20" stroke="#231f20" stroke-width="0.28" >10</text>
<text x="466.95" y="373.70" font-size="4.77" text-anchor="start" fill="#231f20" stroke="#231f20" stroke-width="0.28" >3</text>
<text x="495.05" y="377.60" font-size="5.3" text-anchor="start" fill="#231f20" stroke="#231f20" stroke-width="0.28" >10</text>
<text x="502.15" y="373.70" font-size="4.77" text-anchor="start" fill="#231f20" stroke="#231f20" stroke-width="0.28" >5</text>
<text x="461.00" y="385.60" font-size="6.5" text-anchor="middle" fill="#231f20" stroke="#231f20" stroke-width="0.20" textLength="53.50" lengthAdjust="spacingAndGlyphs" >CD45 Pacific orange</text>
<text x="399.50" y="328.00" font-size="6.0" text-anchor="middle" fill="#231f20" stroke="#231f20" stroke-width="0.18" textLength="16.00" lengthAdjust="spacingAndGlyphs" transform="rotate(-90 399.50 328.00)" >SSC-A</text>
<clipPath id="c14"><rect x="306.30" y="405.00" width="81.70" height="81.20"/></clipPath>
<g clip-path="url(#c14)">
<path d="M335.5 477.4h0.8M333.2 479.9h0.8M335.4 473.3h0.8M332.3 477.7h0.8M336.8 476.5h0.8M327.7 472.5h0.8M336.3 473.0h0.8M339.2 470.8h0.8M327.5 475.6h0.8M337.0 469.8h0.8M328.2 472.8h0.8M339.8 475.8h0.8M336.2 471.2h0.8M328.3 476.9h0.8M330.0 468.6h0.8M345.2 471.9h0.8M318.6 471.4h0.8M330.2 474.7h0.8M339.0 475.2h0.8M333.1 477.9h0.8M343.1 478.0h0.8M343.7 469.3h0.8M335.7 477.8h0.8M337.6 472.3h0.8M336.2 468.3h0.8M337.1 475.4h0.8M341.1 474.2h0.8M335.1 473.2h0.8M336.1 471.3h0.8M340.0 474.4h0.8M336.0 475.9h0.8M331.6 469.0h0.8M342.7 477.3h0.8M337.3 475.5h0.8M334.5 473.4h0.8M342.0 471.9h0.8M338.8 473.4h0.8M347.6 476.8h0.8M334.3 468.2h0.8M330.9 473.1h0.8M337.5 471.0h0.8M340.0 469.8h0.8M334.5 470.9h0.8M336.8 473.8h0.8M326.6 464.9h0.8M318.5 470.9h0.8M338.6 473.2h0.8M335.3 470.0h0.8M331.6 477.4h0.8M337.3 470.5h0.8M321.1 465.7h0.8M339.7 469.9h0.8M328.5 472.9h0.8M338.8 469.7h0.8M334.9 471.5h0.8M345.6 472.3h0.8M330.1 466.7h0.8M337.8 469.3h0.8M340.8 472.8h0.8M338.8 474.4h0.8M340.3 477.8h0.8M333.0 473.6h0.8M337.0 474.1h0.8M344.2 467.5h0.8M340.6 463.4h0.8M326.1 474.4h0.8M333.7 463.7h0.8M337.4 470.8h0.8M336.1 480.1h0.8M333.0 471.6h0.8M339.7 468.4h0.8M332.3 476.1h0.8M332.7 471.7h0.8M334.6 471.1h0.8M343.9 470.5h0.8M342.0 464.9h0.8M326.2 470.6h0.8M336.1 468.2h0.8M341.9 472.7h0.8M336.0 471.0h0.8M338.2 469.0h0.8M324.0 473.8h0.8M347.5 472.7h0.8M346.5 476.7h0.8M335.2 469.9h0.8M326.8 475.3h0.8M336.8 474.4h0.8M335.7 469.8h0.8M321.1 478.8h0.8M342.2 470.1h0.8M330.6 470.5h0.8M332.5 482.1h0.8M340.4 471.6h0.8M334.8 470.5h0.8M326.4 471.5h0.8M330.6 471.5h0.8" stroke="#5aa0b0" stroke-width="0.8"/>
<path d="M342.1 471.9h0.8M334.8 473.7h0.8M334.6 473.5h0.8M342.0 475.5h0.8M340.1 470.3h0.8M333.8 472.7h0.8M332.1 471.7h0.8M335.2 474.6h0.8M330.1 472.4h0.8M343.2 473.9h0.8M337.0 474.5h0.8M334.3 474.0h0.8M333.9 464.3h0.8M340.2 475.2h0.8M334.4 477.9h0.8M340.2 477.3h0.8M327.2 471.6h0.8M333.7 474.8h0.8M338.6 469.8h0.8M334.9 477.4h0.8M332.1 474.6h0.8M349.3 470.8h0.8M341.3 472.1h0.8M338.1 474.8h0.8M337.9 475.7h0.8M340.4 473.2h0.8M350.6 473.2h0.8M355.8 472.6h0.8M344.5 469.0h0.8M340.5 470.1h0.8M332.0 471.3h0.8M340.2 469.3h0.8M334.3 471.4h0.8M331.0 477.7h0.8M331.6 472.4h0.8M337.5 472.1h0.8M337.0 471.5h0.8M332.2 477.2h0.8M339.7 466.9h0.8M324.7 478.2h0.8M326.9 470.8h0.8M335.8 476.3h0.8M335.2 473.9h0.8M344.5 475.5h0.8M338.8 472.4h0.8M343.0 470.3h0.8M339.7 472.4h0.8M344.6 470.5h0.8M337.4 475.9h0.8M336.6 468.5h0.8M348.0 475.2h0.8M332.6 471.2h0.8M341.6 475.8h0.8M327.1 475.4h0.8M336.0 474.1h0.8M332.4 470.9h0.8M340.9 470.8h0.8M344.6 476.9h0.8M347.6 475.6h0.8M341.1 471.5h0.8M332.8 475.2h0.8M341.0 473.5h0.8M341.7 478.4h0.8M338.4 469.9h0.8M339.1 469.4h0.8M329.0 475.5h0.8M338.7 472.2h0.8M337.4 476.1h0.8M342.0 473.7h0.8M330.9 472.8h0.8M343.6 477.1h0.8M344.9 468.2h0.8M337.6 477.2h0.8M334.8 466.9h0.8M334.2 470.2h0.8M349.2 470.9h0.8" stroke="#3fa0a0" stroke-width="0.8"/>
<path d="M338.6 468.5h0.8M349.3 471.6h0.8M347.8 478.8h0.8M344.5 473.0h0.8M345.6 471.1h0.8M331.9 477.1h0.8M339.8 469.3h0.8M346.3 470.9h0.8M341.9 471.7h0.8M333.6 474.7h0.8M327.3 475.4h0.8M332.5 474.7h0.8M337.3 473.8h0.8M331.5 466.8h0.8M332.9 474.1h0.8M345.0 475.6h0.8M339.7 474.9h0.8M338.9 470.9h0.8M328.9 478.1h0.8M344.5 467.7h0.8M337.4 477.0h0.8M336.3 463.2h0.8M348.8 471.7h0.8M330.4 471.9h0.8M331.2 473.9h0.8M333.5 471.3h0.8M342.3 478.0h0.8M339.6 470.6h0.8M333.7 474.3h0.8M338.5 474.7h0.8M344.6 469.2h0.8M335.1 475.7h0.8M331.4 472.2h0.8M333.7 470.0h0.8M339.7 470.4h0.8M330.2 475.5h0.8M332.5 470.4h0.8M332.6 476.2h0.8M335.2 476.1h0.8M341.4 473.8h0.8M339.6 479.4h0.8M341.0 468.6h0.8M333.0 477.2h0.8M335.8 473.9h0.8M338.9 470.3h0.8M336.5 471.0h0.8M341.5 473.0h0.8M331.3 470.9h0.8M349.3 471.0h0.8M332.3 470.0h0.8M335.6 475.3h0.8M330.3 472.4h0.8M346.3 475.3h0.8M340.7 481.7h0.8M344.6 472.8h0.8M339.0 467.6h0.8M345.8 472.1h0.8M341.8 469.4h0.8M338.6 473.3h0.8M331.4 473.2h0.8M344.7 473.3h0.8M331.3 478.6h0.8M332.6 473.0h0.8M344.3 469.9h0.8M331.7 476.3h0.8M343.4 467.2h0.8M338.8 469.4h0.8M331.6 467.8h0.8M333.3 475.9h0.8M335.5 473.1h0.8" stroke="#6a9ad0" stroke-width="0.8"/>
<path d="M335.7 482.2h0.8M344.5 471.3h0.8M333.3 475.3h0.8M337.7 468.1h0.8M327.4 480.3h0.8M336.2 473.0h0.8M322.8 480.0h0.8M329.0 477.0h0.8M341.5 473.1h0.8M338.3 474.4h0.8M337.3 471.6h0.8M348.5 471.9h0.8M335.2 473.6h0.8M335.4 473.8h0.8M329.2 471.8h0.8M340.8 472.7h0.8M327.9 462.3h0.8M327.7 472.8h0.8M335.8 480.1h0.8M344.2 477.6h0.8M343.5 478.0h0.8M336.6 473.6h0.8M340.1 469.4h0.8M325.8 473.1h0.8M332.6 466.6h0.8M327.4 472.0h0.8M319.9 465.6h0.8M339.2 472.5h0.8M347.7 467.7h0.8M341.2 474.1h0.8M333.4 475.1h0.8M338.9 474.8h0.8M331.0 482.1h0.8M339.1 475.7h0.8M329.0 478.4h0.8M343.4 470.6h0.8M331.7 472.1h0.8M340.0 470.8h0.8M336.3 475.7h0.8M336.3 470.1h0.8M350.9 473.0h0.8M336.4 470.3h0.8M326.4 473.9h0.8M335.9 470.5h0.8M346.2 479.0h0.8M343.5 473.9h0.8M329.4 471.5h0.8M327.1 474.7h0.8M329.8 477.3h0.8M340.7 472.0h0.8M345.8 473.8h0.8M331.3 475.8h0.8M326.1 480.9h0.8M336.4 472.3h0.8M341.4 470.9h0.8M338.5 472.2h0.8M337.5 468.2h0.8M329.7 476.0h0.8M328.3 470.4h0.8M346.0 472.8h0.8M334.6 471.4h0.8M337.5 475.8h0.8M342.6 474.3h0.8M343.7 471.9h0.8M338.6 474.3h0.8M337.1 478.4h0.8M329.9 471.9h0.8M334.8 473.5h0.8M338.4 474.5h0.8M330.2 473.5h0.8M338.1 478.4h0.8M343.3 469.9h0.8M346.4 471.6h0.8M346.9 473.6h0.8M340.5 475.5h0.8M330.2 471.9h0.8M334.8 473.9h0.8M322.0 468.0h0.8M330.1 472.7h0.8M335.7 470.5h0.8M339.1 476.3h0.8M342.6 472.4h0.8M341.4 471.0h0.8M342.6 472.7h0.8M342.1 475.6h0.8M342.4 470.9h0.8M334.4 477.3h0.8M345.0 482.1h0.8M331.9 474.1h0.8M327.4 466.3h0.8M344.5 468.3h0.8" stroke="#a9c0dc" stroke-width="0.8"/>
<path d="M337.4 472.3h0.8M329.1 471.7h0.8M339.0 473.8h0.8M333.2 471.4h0.8M325.8 472.6h0.8M332.0 470.8h0.8M347.1 475.4h0.8M334.3 468.9h0.8M338.9 478.5h0.8M330.0 469.3h0.8M336.5 471.0h0.8M334.8 475.4h0.8M333.8 475.1h0.8M332.8 476.6h0.8M333.3 471.4h0.8M335.4 472.3h0.8M340.6 472.4h0.8M333.1 477.0h0.8M342.6 478.8h0.8M330.6 477.2h0.8M339.1 470.7h0.8M342.2 468.4h0.8M326.9 472.6h0.8M335.9 467.1h0.8M337.3 472.7h0.8M330.2 472.0h0.8M335.2 470.5h0.8M328.6 467.3h0.8M337.3 473.9h0.8M335.7 470.1h0.8M332.7 476.2h0.8M335.3 473.3h0.8M335.0 476.1h0.8M346.4 474.2h0.8M342.6 468.7h0.8M325.5 467.3h0.8M327.5 470.1h0.8M340.2 472.6h0.8M332.8 471.6h0.8M337.4 476.4h0.8M331.0 471.3h0.8M335.8 475.4h0.8M354.2 473.4h0.8M338.6 471.7h0.8M327.8 467.2h0.8M331.2 470.5h0.8M328.1 478.3h0.8M326.8 469.7h0.8M335.9 468.2h0.8M339.7 475.6h0.8M334.5 473.4h0.8M348.1 473.1h0.8M336.3 474.2h0.8M340.8 474.3h0.8M333.2 473.2h0.8M327.9 467.7h0.8M334.6 472.6h0.8M339.3 471.1h0.8M345.9 478.5h0.8M337.5 476.1h0.8M320.6 473.6h0.8M352.4 477.9h0.8M321.6 467.7h0.8M340.6 475.0h0.8M328.0 476.7h0.8M329.4 469.6h0.8M336.0 472.8h0.8M319.8 473.8h0.8M338.7 476.4h0.8M335.0 469.8h0.8M326.6 474.7h0.8M328.0 471.1h0.8M335.9 473.1h0.8M339.7 473.7h0.8M336.0 467.7h0.8M334.0 471.8h0.8M342.5 475.7h0.8M324.9 466.7h0.8M337.7 477.9h0.8M330.7 476.4h0.8M339.3 475.2h0.8" stroke="#4a8cc8" stroke-width="0.8"/>
<path d="M338.5 474.5h0.8M332.2 467.5h0.8M342.9 468.4h0.8M337.9 472.4h0.8M340.5 472.0h0.8M337.2 474.0h0.8M351.6 467.2h0.8M343.6 470.4h0.8M332.0 478.9h0.8M326.5 474.2h0.8M326.9 473.6h0.8M332.2 471.7h0.8M345.9 474.0h0.8M332.7 468.9h0.8M334.8 471.3h0.8M334.9 475.2h0.8M327.1 468.3h0.8M335.1 475.0h0.8M334.8 477.2h0.8M336.6 471.4h0.8M333.4 481.5h0.8M331.9 464.4h0.8M329.2 473.7h0.8M315.5 474.4h0.8M336.9 473.9h0.8M346.0 475.5h0.8M331.9 474.1h0.8M331.4 477.0h0.8M339.5 474.0h0.8M339.4 475.9h0.8M330.5 474.5h0.8M336.3 470.0h0.8M324.3 477.8h0.8M328.3 478.6h0.8M341.6 481.9h0.8M340.9 478.6h0.8M339.3 467.7h0.8M345.0 471.9h0.8M336.7 468.5h0.8M325.5 472.7h0.8M342.3 473.9h0.8M336.7 470.2h0.8M342.0 467.8h0.8M330.8 471.6h0.8M344.4 478.5h0.8M339.7 473.6h0.8M338.5 471.7h0.8M336.3 472.9h0.8M342.2 475.1h0.8M345.0 475.7h0.8M331.3 470.5h0.8M343.1 465.9h0.8M332.7 476.1h0.8M333.0 471.0h0.8M334.3 469.9h0.8M332.6 474.6h0.8M339.8 472.5h0.8M338.9 480.0h0.8M343.8 472.1h0.8M341.8 474.5h0.8M337.6 471.8h0.8M351.0 470.5h0.8M328.8 478.1h0.8M329.3 474.8h0.8M333.4 478.5h0.8M330.7 468.2h0.8M331.1 478.1h0.8M347.0 473.6h0.8M329.2 474.6h0.8M350.8 474.7h0.8M337.9 474.3h0.8M345.7 473.2h0.8M340.0 465.1h0.8M341.2 475.8h0.8M345.3 476.3h0.8M329.0 473.9h0.8M340.4 468.3h0.8M336.8 476.9h0.8M329.8 477.5h0.8M326.9 469.1h0.8M334.8 474.2h0.8M329.9 477.7h0.8M338.7 471.9h0.8M333.7 473.4h0.8M329.9 471.3h0.8M336.7 475.9h0.8" stroke="#8fb0d0" stroke-width="0.8"/>
<path d="M369.5 475.3h0.8M359.1 478.4h0.8M354.5 475.2h0.8M358.4 478.8h0.8M370.9 472.9h0.8M373.8 474.0h0.8M357.3 483.2h0.8M361.6 478.9h0.8M368.1 475.0h0.8M360.5 481.0h0.8M365.9 473.9h0.8M361.9 473.2h0.8M364.5 477.5h0.8M372.7 470.0h0.8M367.7 478.3h0.8M377.1 471.8h0.8M376.9 472.6h0.8M354.5 471.7h0.8M375.0 474.5h0.8M364.7 474.0h0.8M376.5 472.9h0.8M368.8 476.6h0.8M362.2 477.0h0.8M366.2 475.3h0.8M362.4 475.0h0.8M368.1 474.7h0.8M366.5 476.8h0.8M362.8 474.2h0.8M372.6 473.3h0.8M363.6 476.2h0.8M359.7 475.7h0.8M369.0 475.0h0.8M364.4 474.5h0.8M364.6 474.5h0.8M350.8 473.5h0.8M365.8 475.7h0.8M368.7 478.2h0.8M378.9 479.4h0.8M382.6 474.5h0.8M364.5 472.8h0.8M359.1 479.9h0.8M372.7 475.7h0.8M373.3 478.8h0.8M362.4 480.3h0.8M370.8 472.7h0.8M365.8 476.3h0.8M361.1 471.7h0.8M366.1 474.3h0.8M363.2 477.9h0.8M363.8 472.9h0.8M374.4 476.7h0.8M363.3 474.8h0.8M364.4 476.1h0.8M385.0 472.2h0.8M364.6 478.0h0.8M372.6 468.8h0.8M362.8 470.5h0.8M367.0 476.9h0.8M373.4 474.0h0.8M364.2 471.2h0.8M368.7 472.6h0.8M376.2 477.0h0.8M368.8 477.8h0.8M368.7 481.8h0.8M366.2 474.4h0.8M365.8 472.9h0.8M359.7 479.2h0.8M371.3 476.3h0.8M371.4 475.3h0.8M365.0 473.4h0.8M359.1 475.7h0.8M378.2 472.8h0.8M358.8 471.6h0.8M365.5 474.0h0.8M364.8 472.8h0.8M375.2 476.8h0.8M358.6 476.7h0.8M376.5 472.7h0.8M374.9 472.5h0.8M377.0 470.3h0.8M368.4 470.8h0.8M371.3 474.5h0.8M370.7 470.1h0.8M371.6 472.5h0.8M361.8 481.1h0.8M368.3 473.4h0.8M361.0 473.3h0.8M381.2 475.1h0.8M359.9 476.4h0.8M361.9 478.1h0.8M372.9 475.0h0.8M374.6 478.5h0.8M368.5 475.3h0.8M374.1 479.3h0.8M372.6 478.2h0.8M363.5 472.5h0.8M369.3 472.1h0.8M367.1 473.2h0.8M359.9 483.2h0.8M378.7 483.0h0.8M359.4 480.5h0.8M381.9 476.9h0.8M358.4 480.2h0.8M369.1 474.0h0.8M360.0 474.9h0.8M368.4 470.4h0.8M369.8 478.8h0.8M361.1 480.8h0.8M356.0 474.0h0.8M358.8 472.0h0.8M375.8 471.5h0.8M365.9 474.9h0.8M357.5 479.3h0.8M380.4 470.9h0.8M369.5 478.1h0.8M374.1 475.6h0.8M363.5 477.6h0.8M369.5 465.0h0.8M350.9 470.0h0.8M369.9 473.3h0.8M360.3 481.2h0.8M364.2 482.4h0.8M361.9 475.8h0.8M365.4 476.8h0.8M373.7 473.3h0.8M364.9 473.9h0.8M359.6 467.6h0.8M371.5 473.7h0.8M356.0 477.6h0.8M372.2 477.0h0.8M383.3 473.1h0.8M366.2 470.5h0.8" stroke="#4a8cc8" stroke-width="0.8"/>
<path d="M367.0 478.5h0.8M359.1 476.1h0.8M380.8 472.6h0.8M361.7 471.9h0.8M373.3 477.4h0.8M364.6 473.1h0.8M367.5 473.5h0.8M367.5 469.6h0.8M364.2 473.6h0.8M377.4 474.1h0.8M375.6 476.4h0.8M357.0 473.2h0.8M376.6 475.0h0.8M381.1 480.6h0.8M366.7 478.8h0.8M368.1 474.1h0.8M364.0 474.5h0.8M360.3 476.6h0.8M374.4 471.0h0.8M363.2 475.9h0.8M375.7 477.8h0.8M378.8 477.0h0.8M377.8 473.8h0.8M371.3 470.8h0.8M363.1 476.4h0.8M374.5 471.8h0.8M359.1 477.5h0.8M377.5 470.9h0.8M372.7 477.6h0.8M375.9 474.2h0.8M360.9 474.7h0.8M362.6 478.0h0.8M361.7 473.1h0.8M371.4 474.0h0.8M365.2 474.0h0.8M368.0 481.8h0.8M360.5 473.2h0.8M375.5 476.1h0.8M372.2 477.0h0.8M373.7 472.3h0.8M377.3 478.4h0.8M378.8 474.8h0.8M357.3 473.0h0.8M375.1 471.8h0.8M370.4 474.3h0.8M358.7 471.2h0.8M381.1 472.8h0.8M366.6 478.6h0.8M363.9 472.4h0.8M361.3 478.2h0.8M383.2 475.8h0.8M379.4 469.0h0.8M365.4 474.8h0.8M375.4 470.4h0.8M378.5 469.2h0.8M370.7 474.0h0.8M366.1 470.6h0.8M362.0 473.3h0.8M370.1 474.8h0.8M370.2 471.7h0.8M365.1 478.1h0.8M370.6 474.0h0.8M383.7 464.7h0.8M372.4 469.5h0.8M378.9 473.5h0.8M374.5 473.7h0.8M363.3 477.0h0.8M357.9 474.4h0.8M362.3 475.1h0.8M366.5 476.4h0.8M377.0 472.9h0.8M371.2 480.0h0.8M367.9 482.2h0.8M363.4 478.8h0.8M360.7 474.3h0.8M370.0 474.0h0.8M368.6 473.7h0.8M368.5 476.7h0.8M368.9 472.2h0.8M366.4 476.7h0.8M377.9 470.3h0.8M359.6 479.2h0.8M356.6 481.4h0.8M382.6 467.9h0.8M376.6 472.8h0.8M374.4 475.9h0.8M356.9 483.4h0.8M358.9 478.1h0.8M368.2 477.2h0.8M362.9 473.6h0.8M369.5 476.3h0.8M366.7 476.2h0.8M371.4 471.6h0.8M382.5 468.7h0.8M364.1 469.4h0.8M373.0 475.5h0.8M378.1 471.0h0.8M361.6 477.9h0.8M352.8 483.9h0.8M365.8 477.8h0.8M364.5 476.9h0.8M353.0 474.3h0.8M363.5 480.6h0.8M352.4 476.7h0.8M365.2 473.7h0.8M368.6 469.2h0.8M382.9 476.0h0.8M363.1 480.2h0.8M375.1 476.0h0.8M381.0 481.5h0.8M376.0 475.5h0.8M361.2 475.6h0.8M358.1 484.4h0.8M370.0 474.7h0.8M384.0 469.9h0.8M363.7 472.9h0.8M368.1 473.0h0.8M369.5 477.6h0.8M369.1 471.4h0.8M373.9 474.1h0.8M372.5 473.5h0.8M363.1 477.9h0.8M365.0 474.0h0.8M360.3 472.3h0.8M380.9 471.5h0.8M375.2 476.7h0.8M358.6 473.6h0.8M359.9 474.9h0.8M374.2 480.6h0.8M379.4 473.4h0.8M369.2 475.9h0.8M368.7 474.1h0.8M361.1 478.0h0.8M361.2 479.0h0.8M363.4 478.2h0.8M376.1 475.3h0.8M372.3 473.5h0.8M361.0 471.8h0.8M357.9 478.5h0.8M372.7 468.2h0.8M371.9 475.6h0.8M358.1 472.4h0.8M359.6 470.2h0.8M371.6 476.4h0.8M369.2 474.8h0.8" stroke="#6a9ad0" stroke-width="0.8"/>
<path d="M360.0 478.7h0.8M363.5 478.6h0.8M362.1 479.6h0.8M349.8 470.1h0.8M364.1 478.7h0.8M365.4 474.9h0.8M368.2 470.3h0.8M365.6 475.2h0.8M369.9 473.9h0.8M373.0 473.4h0.8M366.1 473.5h0.8M378.9 475.5h0.8M366.7 478.8h0.8M369.3 468.3h0.8M367.5 476.1h0.8M371.2 474.8h0.8M365.8 472.9h0.8M369.8 475.2h0.8M367.2 472.6h0.8M360.5 472.0h0.8M383.0 471.9h0.8M372.4 475.2h0.8M356.9 475.3h0.8M365.0 474.3h0.8M358.5 472.0h0.8M356.2 478.5h0.8M368.0 472.1h0.8M375.3 468.7h0.8M373.4 470.3h0.8M367.8 478.5h0.8M361.1 474.6h0.8M378.3 470.5h0.8M361.3 477.7h0.8M369.7 472.3h0.8M366.2 472.7h0.8M384.7 471.6h0.8M366.7 470.7h0.8M368.7 479.7h0.8M367.3 477.9h0.8M351.7 478.0h0.8M388.4 474.4h0.8M366.5 476.1h0.8M357.7 479.5h0.8M363.1 475.5h0.8M381.8 472.1h0.8M375.2 476.5h0.8M375.7 473.2h0.8M362.0 478.6h0.8M372.1 477.6h0.8M362.4 476.3h0.8M366.1 484.0h0.8M374.8 469.6h0.8M368.8 475.0h0.8M374.6 475.6h0.8M365.2 480.0h0.8M370.4 474.9h0.8M366.4 475.2h0.8M376.7 476.0h0.8M373.8 473.7h0.8M374.7 476.4h0.8M361.8 479.4h0.8M371.4 467.7h0.8M369.2 472.2h0.8M370.8 479.6h0.8M350.9 478.8h0.8M377.8 470.0h0.8M364.8 475.1h0.8M360.8 475.4h0.8M363.1 475.9h0.8M373.9 476.3h0.8M375.1 472.6h0.8M369.4 476.3h0.8M375.6 474.4h0.8M376.0 477.4h0.8M375.2 474.4h0.8M354.4 480.8h0.8M368.0 479.9h0.8M370.1 472.5h0.8M372.6 470.1h0.8M366.5 471.9h0.8M351.7 478.4h0.8M363.9 472.1h0.8M358.9 477.8h0.8M366.8 473.1h0.8M361.5 472.6h0.8M363.5 474.2h0.8M373.6 477.1h0.8M371.2 475.4h0.8M358.7 475.6h0.8M376.6 471.3h0.8M369.8 472.2h0.8M365.5 477.5h0.8M366.7 478.7h0.8M364.9 480.1h0.8M377.6 469.7h0.8M363.5 474.0h0.8M368.1 476.4h0.8M373.2 477.2h0.8M358.7 481.4h0.8M365.5 474.1h0.8M373.2 476.3h0.8M367.1 475.3h0.8M372.4 477.8h0.8M368.5 480.1h0.8M355.2 475.3h0.8M369.3 473.8h0.8M369.1 474.4h0.8M368.1 479.6h0.8M375.3 474.1h0.8M374.4 475.5h0.8M367.9 473.4h0.8M361.5 474.3h0.8M367.4 475.8h0.8M359.9 473.8h0.8M364.8 472.8h0.8M365.9 475.9h0.8M370.1 472.7h0.8M366.8 473.4h0.8M357.9 479.4h0.8M362.9 476.0h0.8M371.9 472.3h0.8M376.5 473.7h0.8M363.5 477.3h0.8M378.9 471.4h0.8M377.5 474.1h0.8M365.4 474.3h0.8M360.6 480.4h0.8M375.3 477.2h0.8M362.5 478.3h0.8M368.6 476.3h0.8M359.4 475.1h0.8M370.1 475.7h0.8M362.6 471.0h0.8M359.6 475.4h0.8M372.1 481.8h0.8M374.6 471.3h0.8M365.3 476.2h0.8M373.3 471.6h0.8M366.7 473.9h0.8M365.8 476.1h0.8M364.8 476.5h0.8M365.5 476.9h0.8M359.1 478.8h0.8M369.5 472.1h0.8M366.1 476.2h0.8M368.1 476.9h0.8M361.2 476.1h0.8M367.8 468.9h0.8M368.2 476.8h0.8M368.5 470.0h0.8M355.4 478.3h0.8M362.5 476.0h0.8M367.0 474.7h0.8M349.2 477.1h0.8M368.1 468.8h0.8" stroke="#8fb0d0" stroke-width="0.8"/>
<path d="M362.7 469.7h0.8M356.4 476.9h0.8M368.9 478.6h0.8M365.8 474.0h0.8M372.5 474.4h0.8M362.5 477.5h0.8M371.7 477.3h0.8M371.4 474.6h0.8M360.9 475.7h0.8M365.9 475.1h0.8M358.7 480.4h0.8M365.2 476.9h0.8M369.7 471.5h0.8M358.6 474.8h0.8M364.4 473.1h0.8M367.6 470.9h0.8M368.4 475.5h0.8M351.3 475.0h0.8M367.4 473.7h0.8M368.5 470.5h0.8M376.3 475.5h0.8M381.0 470.0h0.8M372.6 480.4h0.8M371.7 476.9h0.8M361.7 481.3h0.8M366.0 478.7h0.8M385.3 472.2h0.8M367.9 474.9h0.8M369.5 474.7h0.8M365.1 472.9h0.8M363.3 475.4h0.8M370.1 475.8h0.8M360.2 474.8h0.8M369.0 477.6h0.8M381.8 474.6h0.8M355.2 477.0h0.8M368.8 474.7h0.8M370.9 472.4h0.8M371.6 472.9h0.8M371.1 473.8h0.8M366.4 473.0h0.8M381.6 476.5h0.8M377.0 473.0h0.8M373.2 475.1h0.8M375.7 469.3h0.8M379.2 475.7h0.8M377.2 474.5h0.8M364.1 478.2h0.8M377.7 477.4h0.8M365.3 472.7h0.8M369.6 475.6h0.8M369.1 483.2h0.8M361.6 474.9h0.8M363.3 474.5h0.8M374.9 475.5h0.8M375.6 473.8h0.8M372.9 473.0h0.8M367.5 476.8h0.8M372.1 473.3h0.8M362.7 479.1h0.8M375.1 469.2h0.8M375.6 468.6h0.8M360.6 476.7h0.8M372.2 475.3h0.8M353.6 475.0h0.8M371.0 478.8h0.8M370.5 471.9h0.8M377.4 478.2h0.8M360.0 476.9h0.8M387.7 475.0h0.8M372.6 477.8h0.8M364.3 471.6h0.8M359.7 473.5h0.8M374.8 473.3h0.8M363.6 479.7h0.8M375.3 473.6h0.8M375.5 481.2h0.8M362.6 478.9h0.8M376.0 479.9h0.8M372.2 474.4h0.8M375.1 479.8h0.8M373.0 474.6h0.8M370.5 476.1h0.8M377.8 478.5h0.8M365.5 478.3h0.8M353.3 475.4h0.8M362.6 473.6h0.8M358.7 478.8h0.8M365.6 476.5h0.8M362.2 477.6h0.8M371.2 479.1h0.8M364.5 477.0h0.8M353.6 482.0h0.8M364.4 475.4h0.8M371.8 476.6h0.8M373.1 476.9h0.8M370.1 473.7h0.8M370.6 471.6h0.8M372.8 473.9h0.8M370.3 473.3h0.8M369.4 471.1h0.8M363.0 482.4h0.8M368.7 472.6h0.8M366.6 469.1h0.8M361.7 479.0h0.8M378.6 468.8h0.8M373.4 472.5h0.8M371.6 473.8h0.8M372.6 476.4h0.8M364.4 479.7h0.8M371.8 475.4h0.8M361.4 471.4h0.8M372.6 476.2h0.8M370.6 476.2h0.8M365.3 474.9h0.8M370.9 476.7h0.8M360.8 472.5h0.8M365.7 474.8h0.8M364.9 470.0h0.8M378.3 469.5h0.8M372.8 473.5h0.8M363.0 477.1h0.8M363.0 475.1h0.8M368.2 478.7h0.8M364.2 477.2h0.8M374.9 472.8h0.8" stroke="#5aa0b0" stroke-width="0.8"/>
<path d="M363.8 473.1h0.8M369.2 471.9h0.8M375.1 469.0h0.8M360.8 474.7h0.8M360.2 475.3h0.8M360.8 481.5h0.8M371.1 471.2h0.8M367.6 477.3h0.8M364.7 475.1h0.8M375.5 467.5h0.8M363.4 473.1h0.8M378.3 472.2h0.8M347.4 477.0h0.8M349.7 479.0h0.8M372.7 477.0h0.8M369.6 480.7h0.8M373.2 480.5h0.8M362.4 476.9h0.8M375.8 471.1h0.8M376.6 473.9h0.8M372.7 472.7h0.8M371.7 476.1h0.8M360.2 479.7h0.8M371.3 473.6h0.8M361.7 470.5h0.8M380.3 473.1h0.8M370.2 473.2h0.8M366.7 473.6h0.8M357.7 481.5h0.8M364.4 474.3h0.8M375.1 475.4h0.8M365.8 471.2h0.8M367.4 475.7h0.8M370.2 473.7h0.8M358.8 476.8h0.8M373.2 474.2h0.8M370.6 474.6h0.8M373.3 475.7h0.8M357.1 477.3h0.8M355.9 481.1h0.8M372.5 478.3h0.8M374.6 476.0h0.8M367.4 470.7h0.8M373.9 479.3h0.8M365.2 475.1h0.8M377.0 478.1h0.8M375.7 473.6h0.8M358.7 478.3h0.8M363.1 478.5h0.8M374.2 472.6h0.8M370.5 475.7h0.8M365.1 472.7h0.8M363.3 476.6h0.8M367.2 470.7h0.8M379.8 473.9h0.8M377.6 471.0h0.8M367.7 470.8h0.8M364.8 476.7h0.8M367.8 474.7h0.8M375.8 483.6h0.8M375.9 473.0h0.8M362.9 472.5h0.8M362.1 478.1h0.8M359.5 476.4h0.8M359.6 478.5h0.8M359.8 480.8h0.8M363.6 473.4h0.8M368.6 477.4h0.8M351.3 478.8h0.8M374.8 473.2h0.8M361.6 480.5h0.8M373.3 477.6h0.8M375.8 475.4h0.8M357.5 474.6h0.8M377.4 469.3h0.8M366.3 481.8h0.8M378.3 471.5h0.8M368.5 475.0h0.8M359.6 480.6h0.8M360.8 473.8h0.8M371.9 475.5h0.8M366.9 477.7h0.8M359.4 482.2h0.8M358.0 478.8h0.8M365.8 477.2h0.8M371.3 470.2h0.8M372.2 473.2h0.8M369.5 472.3h0.8M375.6 471.0h0.8M383.3 480.3h0.8M370.2 472.0h0.8M370.0 471.3h0.8M369.5 476.7h0.8M360.8 477.7h0.8M358.0 475.3h0.8M371.8 472.5h0.8M363.4 470.1h0.8M370.2 471.1h0.8M369.0 473.8h0.8M365.2 475.7h0.8M374.3 478.1h0.8M372.9 478.2h0.8M366.9 479.1h0.8M364.4 477.7h0.8M367.6 476.7h0.8M379.9 470.0h0.8M370.4 474.2h0.8M367.5 474.3h0.8M354.4 480.8h0.8M373.8 478.5h0.8M355.3 478.8h0.8M369.9 473.5h0.8M376.9 470.4h0.8M386.9 473.1h0.8M360.9 478.8h0.8M374.3 475.2h0.8M366.3 476.5h0.8M373.5 474.6h0.8M367.5 476.5h0.8M371.7 477.5h0.8M370.6 472.0h0.8M371.4 477.7h0.8M375.9 477.2h0.8M369.4 475.5h0.8M362.8 482.5h0.8M372.6 475.9h0.8M368.8 473.3h0.8M371.9 477.9h0.8M364.9 481.0h0.8M359.3 476.3h0.8M370.7 473.5h0.8M364.3 478.2h0.8M366.7 476.2h0.8M363.8 478.1h0.8M358.4 477.6h0.8M378.4 473.1h0.8M364.7 473.4h0.8M347.0 478.0h0.8M363.3 472.1h0.8M369.7 471.1h0.8M369.8 477.1h0.8M375.1 473.8h0.8" stroke="#3fa0a0" stroke-width="0.8"/>
<ellipse cx="368.00" cy="475.50" rx="6.00" ry="2.20" fill="#6ab060" filter="url(#b1_2)" opacity="0.8"/>
<ellipse cx="369.00" cy="475.50" rx="3.50" ry="1.40" fill="#f39a2b" filter="url(#b0_8)" opacity="0.8"/>
</g>
<rect x="351.70" y="464.60" width="32.70" height="17.40" fill="none" stroke="#333" stroke-width="0.9"/>
<text x="357.70" y="462.80" font-size="5.8" text-anchor="start" fill="#231f20" stroke="#231f20" stroke-width="0.17" textLength="21.40" lengthAdjust="spacingAndGlyphs" >NK cells</text>
<path d="M306.00 404.70 H388.00 V486.20" stroke="#b8b8b8" stroke-width="0.7" fill="none"/>
<path d="M306.00 404.70 V486.20 H388.00" stroke="#555" stroke-width="0.5" fill="none"/>
<line x1="301.40" y1="483.90" x2="306.00" y2="483.90" stroke="#231f20" stroke-width="1.6"/>
<text x="297.00" y="486.20" font-size="5.8" text-anchor="end" fill="#231f20" stroke="#231f20" stroke-width="0.30" >0</text>
<line x1="301.40" y1="469.00" x2="306.00" y2="469.00" stroke="#231f20" stroke-width="1.6"/>
<text x="297.00" y="471.30" font-size="5.8" text-anchor="end" fill="#231f20" stroke="#231f20" stroke-width="0.30" >50K</text>
<line x1="301.40" y1="454.10" x2="306.00" y2="454.10" stroke="#231f20" stroke-width="1.6"/>
<text x="297.00" y="456.40" font-size="5.8" text-anchor="end" fill="#231f20" stroke="#231f20" stroke-width="0.30" >100K</text>
<line x1="301.40" y1="439.20" x2="306.00" y2="439.20" stroke="#231f20" stroke-width="1.6"/>
<text x="297.00" y="441.50" font-size="5.8" text-anchor="end" fill="#231f20" stroke="#231f20" stroke-width="0.30" >150K</text>
<line x1="301.40" y1="424.30" x2="306.00" y2="424.30" stroke="#231f20" stroke-width="1.6"/>
<text x="297.00" y="426.60" font-size="5.8" text-anchor="end" fill="#231f20" stroke="#231f20" stroke-width="0.30" >200K</text>
<line x1="301.40" y1="409.40" x2="306.00" y2="409.40" stroke="#231f20" stroke-width="1.6"/>
<text x="297.00" y="411.70" font-size="5.8" text-anchor="end" fill="#231f20" stroke="#231f20" stroke-width="0.30" >250K</text>
<path d="M303.80 480.92H306.00M303.80 477.94H306.00M303.80 474.96H306.00M303.80 471.98H306.00M303.80 466.02H306.00M303.80 463.04H306.00M303.80 460.06H306.00M303.80 457.08H306.00M303.80 451.12H306.00M303.80 448.14H306.00M303.80 445.16H306.00M303.80 442.18H306.00M303.80 436.22H306.00M303.80 433.24H306.00M303.80 430.26H306.00M303.80 427.28H306.00M303.80 421.32H306.00M303.80 418.34H306.00M303.80 415.36H306.00M303.80 412.38H306.00M303.80 406.42H306.00" stroke="#231f20" stroke-width="0.7"/>
<path d="M306.70 486.20V490.60M310.66 486.20V490.60M311.98 486.20V490.60M313.30 486.20V490.60M317.27 486.20V490.60M318.59 486.20V490.60M321.23 486.20V490.60M323.87 486.20V490.60M325.19 486.20V490.60M327.83 486.20V490.60M331.79 486.20V490.60M333.11 486.20V490.60M337.08 486.20V490.60M338.40 486.20V490.60M339.72 486.20V490.60M341.04 486.20V490.60M342.36 486.20V490.60M343.68 486.20V490.60M345.00 486.20V490.60M362.00 486.20V490.60M379.50 486.20V490.60M312.00 486.20V490.60M318.00 486.20V490.60M324.00 486.20V490.60" stroke="#231f20" stroke-width="1.5"/>
<path d="M308.02 486.20V488.50M309.34 486.20V488.50M314.62 486.20V488.50M315.94 486.20V488.50M319.91 486.20V488.50M322.55 486.20V488.50M326.51 486.20V488.50M329.15 486.20V488.50M330.47 486.20V488.50M334.43 486.20V488.50M335.76 486.20V488.50M349.77 486.20V488.50M352.85 486.20V488.50M355.04 486.20V488.50M356.73 486.20V488.50M358.12 486.20V488.50M359.29 486.20V488.50M360.30 486.20V488.50M361.20 486.20V488.50M367.27 486.20V488.50M370.35 486.20V488.50M372.54 486.20V488.50M374.23 486.20V488.50M375.62 486.20V488.50M376.79 486.20V488.50M377.80 486.20V488.50M378.70 486.20V488.50M384.77 486.20V488.50" stroke="#231f20" stroke-width="0.7"/>
<text x="337.30" y="500.60" font-size="5.2" text-anchor="middle" fill="#231f20" stroke="#231f20" stroke-width="0.16" >0</text>
<text x="366.55" y="500.60" font-size="5.3" text-anchor="start" fill="#231f20" stroke="#231f20" stroke-width="0.28" >10</text>
<text x="373.65" y="496.70" font-size="4.77" text-anchor="start" fill="#231f20" stroke="#231f20" stroke-width="0.28" >4</text>
<text x="339.00" y="510.50" font-size="6.5" text-anchor="middle" fill="#231f20" stroke="#231f20" stroke-width="0.20" textLength="21.50" lengthAdjust="spacingAndGlyphs" >CD56 PE</text>
<text x="281.10" y="451.90" font-size="6.0" text-anchor="middle" fill="#231f20" stroke="#231f20" stroke-width="0.18" textLength="16.00" lengthAdjust="spacingAndGlyphs" transform="rotate(-90 281.10 451.90)" >SSC-A</text>
<clipPath id="c15"><rect x="425.10" y="406.90" width="80.90" height="81.00"/></clipPath>
<g clip-path="url(#c15)">
<path d="M438.5 463.7h0.7M434.9 459.6h0.7M452.1 454.5h0.7M447.8 443.3h0.7M447.4 445.1h0.7M454.9 456.2h0.7M427.5 459.2h0.7M450.8 447.0h0.7M447.9 447.8h0.7M429.0 449.4h0.7M449.1 445.5h0.7M437.0 457.6h0.7M446.8 444.1h0.7M437.9 454.4h0.7M431.9 449.1h0.7M454.5 459.2h0.7M450.2 462.3h0.7M447.6 460.4h0.7M459.7 449.2h0.7M449.3 454.0h0.7M433.8 454.0h0.7M448.0 458.7h0.7M454.3 459.7h0.7M459.4 455.4h0.7M469.3 448.8h0.7M445.5 457.4h0.7M444.9 454.5h0.7M463.4 452.1h0.7M460.7 463.7h0.7M444.8 441.1h0.7M452.6 445.5h0.7M438.3 455.3h0.7M455.0 452.0h0.7M451.7 450.3h0.7M430.5 452.1h0.7M455.6 450.3h0.7M462.1 446.9h0.7M439.5 450.8h0.7M454.9 454.3h0.7M445.0 459.2h0.7M429.2 446.6h0.7M466.0 459.3h0.7M445.9 447.3h0.7M452.7 449.7h0.7M457.3 457.2h0.7" stroke="#7f9cc2" stroke-width="0.7"/>
<path d="M444.7 449.7h0.7M443.2 454.1h0.7M455.8 453.3h0.7M471.1 447.8h0.7M451.5 446.5h0.7M458.6 447.8h0.7M441.8 447.1h0.7M431.8 461.6h0.7M466.1 444.4h0.7M453.0 456.5h0.7M444.4 432.9h0.7M464.2 457.9h0.7M466.5 459.3h0.7M438.5 443.3h0.7M437.9 457.0h0.7M443.0 443.1h0.7M447.0 462.2h0.7M447.6 451.0h0.7M452.0 451.0h0.7M462.4 442.9h0.7M444.5 447.4h0.7M447.3 468.9h0.7M446.8 451.6h0.7M445.9 453.3h0.7M452.9 451.3h0.7M433.5 468.1h0.7M442.9 454.8h0.7M445.1 450.9h0.7M439.6 447.1h0.7M453.6 459.1h0.7M457.7 445.3h0.7M452.1 458.7h0.7M439.5 460.2h0.7M441.9 442.9h0.7M440.1 454.6h0.7M443.3 459.3h0.7M452.5 450.8h0.7M441.9 456.5h0.7M457.3 448.3h0.7M461.7 462.6h0.7M460.7 444.5h0.7M462.3 448.0h0.7M457.8 452.9h0.7M443.9 446.5h0.7M456.2 454.2h0.7M440.7 450.2h0.7M454.7 443.0h0.7M433.0 450.8h0.7M442.1 449.4h0.7M445.9 452.8h0.7M444.9 448.7h0.7M464.3 453.5h0.7M446.1 459.3h0.7M447.0 461.9h0.7M433.1 455.6h0.7M435.9 450.1h0.7M445.2 449.7h0.7M428.5 446.3h0.7M438.6 450.0h0.7M456.9 443.8h0.7M475.0 437.5h0.7" stroke="#9fb6d3" stroke-width="0.7"/>
<path d="M444.8 450.2h0.7M461.1 460.5h0.7M443.7 453.3h0.7M439.2 452.7h0.7M451.4 457.8h0.7M446.1 442.9h0.7M444.6 466.8h0.7M458.9 457.0h0.7M446.8 452.3h0.7M449.8 446.4h0.7M455.0 454.5h0.7M457.3 443.8h0.7M442.2 460.6h0.7M461.3 451.0h0.7M422.1 447.9h0.7M446.4 456.4h0.7M461.0 454.7h0.7M447.7 453.8h0.7M462.1 469.2h0.7M447.0 457.6h0.7M450.2 448.6h0.7M451.9 445.4h0.7M448.3 447.6h0.7M444.5 461.6h0.7M472.2 450.0h0.7M455.7 445.6h0.7M457.2 448.4h0.7M465.9 464.8h0.7M443.4 441.4h0.7M466.2 448.5h0.7M431.6 447.0h0.7M459.3 451.9h0.7M442.4 461.0h0.7M450.7 452.5h0.7M423.6 460.4h0.7M444.1 451.4h0.7M465.4 455.9h0.7M459.2 439.9h0.7M457.8 440.8h0.7M440.6 465.0h0.7M447.2 452.6h0.7M449.0 454.8h0.7M454.1 454.6h0.7M463.9 440.9h0.7M467.3 455.9h0.7M441.6 452.2h0.7M449.6 452.0h0.7M429.5 452.3h0.7" stroke="#b7c7dc" stroke-width="0.7"/>
<path d="M449.4 450.6h0.7M458.9 460.1h0.7M457.0 448.2h0.7M457.0 461.2h0.7M446.3 455.5h0.7M455.3 457.8h0.7M449.4 451.7h0.7M445.2 453.9h0.7M448.7 451.3h0.7M452.9 455.5h0.7M478.9 451.6h0.7M436.8 459.2h0.7M456.4 459.2h0.7M448.3 449.3h0.7M453.9 445.0h0.7M435.7 454.6h0.7M414.9 465.8h0.7M456.9 451.2h0.7M459.0 450.5h0.7M453.3 456.7h0.7M438.7 443.8h0.7M449.5 464.1h0.7M438.4 437.2h0.7M437.0 444.9h0.7M450.1 452.4h0.7M453.7 459.3h0.7M428.2 451.0h0.7M451.4 457.8h0.7M441.5 452.7h0.7M468.9 452.0h0.7M450.8 448.5h0.7M462.0 447.4h0.7M462.2 457.1h0.7M454.6 459.6h0.7M433.9 441.9h0.7M453.0 453.6h0.7M456.6 454.8h0.7M451.5 451.3h0.7M439.8 453.6h0.7M444.1 456.7h0.7M459.8 450.1h0.7M451.3 448.7h0.7M458.2 454.8h0.7M458.6 457.1h0.7M451.6 446.8h0.7M445.8 453.2h0.7M453.1 459.9h0.7M464.4 447.2h0.7M459.9 455.8h0.7" stroke="#c5d2e2" stroke-width="0.7"/>
<path d="M455.1 451.9h0.7M446.4 451.6h0.7M448.2 459.6h0.7M451.1 451.4h0.7M462.9 458.0h0.7M427.7 450.9h0.7M447.0 444.6h0.7M466.0 459.0h0.7M460.3 445.7h0.7M461.3 449.5h0.7M453.2 451.9h0.7M443.4 451.4h0.7M468.9 458.7h0.7M450.9 453.5h0.7M434.4 457.0h0.7M458.8 453.2h0.7M447.2 461.3h0.7M464.1 456.4h0.7M452.6 449.4h0.7M459.8 454.8h0.7M457.1 444.5h0.7M456.2 460.8h0.7M431.2 447.1h0.7M439.2 452.6h0.7M422.1 452.3h0.7M456.9 452.6h0.7M437.2 451.1h0.7M460.3 446.2h0.7M452.3 458.3h0.7M465.9 447.4h0.7M453.9 447.1h0.7M449.9 454.5h0.7M462.3 447.9h0.7M458.3 451.1h0.7M449.4 456.5h0.7M461.4 456.2h0.7M443.3 446.0h0.7M447.5 445.5h0.7M453.7 459.1h0.7M452.2 456.4h0.7M444.6 443.1h0.7M435.2 465.2h0.7M439.5 453.9h0.7M453.6 454.9h0.7M437.5 458.0h0.7M466.2 460.9h0.7M443.0 453.1h0.7" stroke="#8aa5c8" stroke-width="0.7"/>
<path d="M442.5 471.3h0.7M447.7 480.8h0.7M438.7 472.7h0.7M465.4 478.7h0.7M436.3 475.4h0.7M432.7 479.1h0.7M448.3 480.8h0.7M453.0 476.8h0.7M446.4 474.8h0.7M448.8 470.4h0.7M431.3 474.6h0.7M444.3 478.6h0.7M457.5 482.1h0.7M449.5 476.6h0.7M430.8 477.6h0.7M439.3 478.2h0.7M442.3 474.7h0.7M457.6 482.2h0.7M443.0 478.6h0.7M445.7 480.3h0.7M458.0 482.7h0.7M445.1 476.4h0.7M436.6 483.1h0.7M433.7 482.7h0.7M457.0 477.0h0.7M453.6 472.5h0.7M432.1 480.4h0.7M446.4 479.0h0.7M440.0 477.8h0.7M446.8 478.3h0.7M446.1 476.5h0.7M422.1 480.2h0.7M452.3 480.3h0.7M448.1 475.7h0.7M437.1 484.1h0.7M451.1 479.3h0.7M439.5 473.6h0.7M454.3 475.7h0.7M442.6 484.7h0.7M433.5 479.6h0.7M443.4 477.9h0.7M445.6 484.8h0.7M441.2 479.8h0.7M436.5 481.1h0.7M448.6 481.2h0.7M436.9 480.6h0.7M437.2 473.0h0.7M445.3 478.6h0.7M427.4 476.6h0.7M437.7 478.8h0.7M437.2 474.2h0.7M454.9 480.8h0.7M433.8 481.5h0.7M450.5 478.6h0.7M434.8 484.5h0.7M442.0 478.7h0.7M437.1 475.0h0.7M458.6 478.8h0.7M455.8 472.6h0.7M447.5 477.7h0.7M437.8 482.7h0.7M442.9 483.3h0.7M442.8 473.7h0.7M445.3 476.0h0.7M443.7 474.3h0.7M454.3 481.7h0.7M443.9 481.2h0.7M447.1 478.1h0.7M442.7 474.1h0.7M437.3 476.3h0.7M450.1 473.9h0.7" stroke="#8aa5c8" stroke-width="0.7"/>
<path d="M452.1 478.5h0.7M446.3 480.9h0.7M448.7 480.1h0.7M446.2 479.2h0.7M445.4 481.7h0.7M450.8 475.4h0.7M449.1 477.2h0.7M441.3 477.5h0.7M440.6 476.7h0.7M438.0 482.6h0.7M434.8 474.1h0.7M441.4 474.4h0.7M446.2 480.1h0.7M438.5 478.5h0.7M444.3 483.2h0.7M437.5 481.3h0.7M441.2 478.4h0.7M441.9 476.6h0.7M442.5 483.8h0.7M438.8 474.2h0.7M445.5 477.1h0.7M438.7 475.8h0.7M445.6 476.2h0.7M447.8 479.7h0.7M455.6 475.9h0.7M429.1 479.8h0.7M448.0 476.3h0.7M442.5 476.0h0.7M445.5 476.9h0.7M439.6 480.6h0.7M430.7 474.3h0.7M430.4 479.7h0.7M457.3 479.0h0.7M443.8 477.7h0.7M441.3 475.7h0.7M434.8 481.1h0.7M441.5 482.3h0.7M433.9 479.9h0.7M438.8 481.2h0.7M457.5 482.5h0.7M431.0 474.4h0.7M447.5 474.2h0.7M450.4 474.5h0.7M441.4 484.2h0.7M444.9 477.0h0.7M449.8 474.1h0.7M447.4 482.7h0.7M438.5 482.8h0.7M432.3 474.4h0.7M444.4 474.6h0.7M436.9 473.8h0.7M459.3 476.7h0.7M435.2 480.7h0.7M438.2 478.0h0.7M436.9 476.0h0.7M438.2 477.8h0.7M443.9 482.4h0.7M464.4 480.2h0.7M430.1 480.1h0.7M453.6 476.9h0.7M445.3 473.6h0.7M453.5 480.9h0.7M444.0 483.7h0.7" stroke="#c5d2e2" stroke-width="0.7"/>
<path d="M443.4 474.1h0.7M452.6 478.7h0.7M443.6 483.9h0.7M467.9 476.4h0.7M445.8 478.1h0.7M442.5 476.3h0.7M449.7 474.5h0.7M440.3 478.7h0.7M459.0 479.3h0.7M448.9 477.5h0.7M420.4 478.3h0.7M455.8 481.9h0.7M465.7 480.1h0.7M464.7 477.1h0.7M435.0 477.6h0.7M447.9 479.3h0.7M457.8 475.4h0.7M437.7 478.1h0.7M449.2 477.9h0.7M443.1 479.8h0.7M440.4 476.2h0.7M451.2 478.4h0.7M444.5 480.7h0.7M459.1 481.5h0.7M452.1 475.2h0.7M463.5 479.7h0.7M441.0 477.3h0.7M467.5 472.4h0.7M440.8 477.0h0.7M424.7 482.2h0.7M438.3 479.4h0.7M438.3 476.9h0.7M427.1 479.5h0.7M429.3 476.6h0.7M449.7 482.6h0.7M453.1 478.3h0.7M441.9 473.9h0.7M459.5 483.3h0.7M445.9 471.6h0.7M441.4 480.9h0.7M441.6 480.2h0.7M454.9 480.2h0.7M449.2 478.1h0.7M446.1 479.8h0.7M445.5 480.5h0.7M443.4 474.0h0.7M452.4 476.1h0.7M448.2 475.4h0.7M449.2 475.8h0.7M452.0 479.5h0.7M452.4 478.1h0.7M441.4 478.6h0.7M443.2 480.5h0.7M453.4 476.1h0.7M452.6 480.2h0.7" stroke="#9fb6d3" stroke-width="0.7"/>
<path d="M454.9 476.7h0.7M442.5 476.2h0.7M448.2 482.8h0.7M448.8 481.6h0.7M449.7 478.8h0.7M416.5 472.2h0.7M426.7 479.1h0.7M436.0 478.7h0.7M438.4 477.9h0.7M434.7 474.2h0.7M437.2 478.5h0.7M423.7 474.6h0.7M454.5 474.0h0.7M446.6 479.4h0.7M440.9 476.7h0.7M443.0 481.0h0.7M432.2 481.8h0.7M447.7 475.0h0.7M436.4 481.0h0.7M445.2 477.2h0.7M434.7 477.9h0.7M451.6 475.4h0.7M444.1 482.5h0.7M446.9 475.4h0.7M454.5 481.9h0.7M428.3 478.5h0.7M443.4 481.1h0.7M421.6 475.2h0.7M442.3 479.5h0.7M453.9 482.4h0.7M435.5 478.0h0.7M437.4 478.5h0.7M436.3 471.4h0.7M448.7 468.8h0.7M448.1 477.7h0.7M443.9 487.9h0.7M444.1 479.3h0.7M459.0 482.5h0.7M441.6 480.6h0.7M445.9 476.8h0.7M446.5 481.5h0.7M435.8 479.2h0.7M439.3 475.8h0.7M422.3 482.1h0.7M443.0 480.6h0.7M451.8 480.6h0.7M459.8 477.2h0.7M440.0 475.8h0.7M445.4 476.0h0.7M442.8 476.8h0.7M450.2 479.2h0.7M452.1 477.6h0.7M435.4 480.2h0.7M439.2 474.9h0.7M442.7 478.7h0.7" stroke="#b7c7dc" stroke-width="0.7"/>
<path d="M454.8 476.5h0.7M448.7 476.6h0.7M431.7 481.3h0.7M442.3 482.8h0.7M450.4 488.1h0.7M441.4 475.3h0.7M447.1 475.2h0.7M435.6 474.8h0.7M429.0 480.1h0.7M442.3 480.1h0.7M434.0 474.5h0.7M447.3 478.9h0.7M440.6 473.3h0.7M442.1 481.9h0.7M434.9 475.7h0.7M438.4 481.1h0.7M431.4 476.2h0.7M455.6 479.8h0.7M458.6 477.5h0.7M436.6 483.3h0.7M440.0 474.1h0.7M446.5 476.9h0.7M454.1 483.9h0.7M451.5 473.1h0.7M452.3 479.7h0.7M443.2 470.9h0.7M447.7 477.8h0.7M460.1 481.8h0.7M440.7 476.2h0.7M442.0 478.2h0.7M466.9 486.3h0.7M460.8 475.2h0.7M435.2 481.4h0.7M433.1 475.7h0.7M446.2 482.0h0.7M451.5 474.2h0.7M447.0 476.6h0.7M449.5 482.9h0.7M442.7 480.1h0.7M428.3 480.7h0.7M445.4 479.1h0.7M443.7 473.0h0.7M449.1 478.0h0.7M447.9 473.4h0.7M434.6 479.4h0.7M444.8 475.6h0.7M451.2 477.1h0.7M439.5 471.8h0.7M441.0 486.4h0.7M462.3 475.6h0.7M449.9 478.6h0.7M432.0 478.2h0.7M445.7 477.7h0.7M440.8 479.4h0.7M438.6 479.3h0.7M462.1 477.3h0.7" stroke="#7f9cc2" stroke-width="0.7"/>
<path d="M483.3 468.4h0.7M483.6 460.0h0.7M492.7 462.0h0.7M495.0 464.3h0.7M489.5 460.7h0.7M487.8 468.9h0.7M497.7 465.2h0.7M480.0 464.3h0.7M493.7 463.7h0.7" stroke="#9fb6d3" stroke-width="0.7"/>
<path d="M493.0 450.4h0.7M489.6 459.2h0.7M491.7 456.2h0.7M481.4 471.7h0.7M492.0 465.5h0.7M493.1 461.3h0.7M481.9 464.7h0.7M482.9 466.5h0.7M505.8 475.4h0.7M487.3 465.0h0.7M487.2 455.4h0.7M502.1 461.2h0.7" stroke="#8aa5c8" stroke-width="0.7"/>
<path d="M478.2 459.0h0.7M483.9 445.5h0.7M495.7 464.1h0.7M490.7 450.2h0.7M486.8 479.9h0.7M475.2 467.2h0.7M488.1 457.0h0.7M481.7 457.5h0.7M480.7 460.8h0.7M485.3 453.9h0.7M487.6 458.7h0.7" stroke="#b7c7dc" stroke-width="0.7"/>
<path d="M495.7 462.5h0.7M485.5 459.8h0.7M493.5 467.0h0.7M496.6 462.2h0.7M489.3 462.8h0.7" stroke="#7f9cc2" stroke-width="0.7"/>
<path d="M495.1 462.0h0.7M486.5 462.2h0.7M484.9 464.6h0.7" stroke="#c5d2e2" stroke-width="0.7"/>
<path d="M442.00 476.00 L460.00 474.50 L470.00 474.00 L472.00 480.00 L460.00 482.00 L442.00 481.00 Z" fill="#2a6ab4" filter="url(#b1_8)" opacity="0.85"/>
<ellipse cx="459.00" cy="478.20" rx="9.00" ry="2.40" fill="#3aa0d8" filter="url(#b1_5)"/>
<ellipse cx="479.40" cy="478.60" rx="7.50" ry="5.00" fill="#2f8fd0" filter="url(#b1_2)"/>
<ellipse cx="479.40" cy="478.60" rx="5.50" ry="3.60" fill="#62b94a" filter="url(#b1)"/>
<ellipse cx="479.40" cy="478.60" rx="3.50" ry="2.20" fill="#f2e435" filter="url(#b0_8)"/>
<ellipse cx="479.40" cy="478.60" rx="2.00" ry="1.30" fill="#e8452e" filter="url(#b0_6)"/>
</g>
<rect x="430.60" y="437.50" width="38.80" height="26.70" fill="none" stroke="#333" stroke-width="0.9"/>
<rect x="436.40" y="469.30" width="33.00" height="16.70" fill="none" stroke="#333" stroke-width="0.9"/>
<rect x="470.80" y="470.00" width="17.40" height="17.20" fill="none" stroke="#333" stroke-width="0.9"/>
<line x1="436.40" y1="484.40" x2="396.90" y2="484.40" stroke="#231f20" stroke-width="1.1" />
<path d="M391.80 484.40 L398.40 481.10 L396.82 484.40 L398.40 487.70 Z" fill="#231f20"/>
<text x="436.00" y="433.40" font-size="5.8" text-anchor="start" fill="#231f20" stroke="#231f20" stroke-width="0.17" textLength="17.10" lengthAdjust="spacingAndGlyphs" >B cells</text>
<text x="471.70" y="469.00" font-size="5.8" text-anchor="start" fill="#231f20" stroke="#231f20" stroke-width="0.17" textLength="16.30" lengthAdjust="spacingAndGlyphs" >T cells</text>
<path d="M424.80 406.60 H506.00 V487.90" stroke="#b8b8b8" stroke-width="0.7" fill="none"/>
<path d="M424.80 406.60 V487.90 H506.00" stroke="#555" stroke-width="0.5" fill="none"/>
<path d="M420.40 484.33H424.80M420.40 482.90H424.80M420.40 477.17H424.80M420.40 471.43H424.80M420.40 470.00H424.80M420.40 453.00H424.80M420.40 435.00H424.80M420.40 417.00H424.80" stroke="#231f20" stroke-width="1.5"/>
<path d="M422.50 487.20H424.80M422.50 485.77H424.80M422.50 481.47H424.80M422.50 480.03H424.80M422.50 478.60H424.80M422.50 475.73H424.80M422.50 474.30H424.80M422.50 472.87H424.80M422.50 465.58H424.80M422.50 462.41H424.80M422.50 460.16H424.80M422.50 458.42H424.80M422.50 456.99H424.80M422.50 455.79H424.80M422.50 454.74H424.80M422.50 453.82H424.80M422.50 447.58H424.80M422.50 444.41H424.80M422.50 442.16H424.80M422.50 440.42H424.80M422.50 438.99H424.80M422.50 437.79H424.80M422.50 436.74H424.80M422.50 435.82H424.80M422.50 429.58H424.80M422.50 426.41H424.80M422.50 424.16H424.80M422.50 422.42H424.80M422.50 420.99H424.80M422.50 419.79H424.80M422.50 418.74H424.80M422.50 417.82H424.80M422.50 411.58H424.80M422.50 408.41H424.80" stroke="#231f20" stroke-width="0.7"/>
<path d="M425.50 487.90V492.30M429.48 487.90V492.30M430.81 487.90V492.30M432.14 487.90V492.30M436.12 487.90V492.30M437.45 487.90V492.30M440.11 487.90V492.30M442.77 487.90V492.30M444.09 487.90V492.30M446.75 487.90V492.30M450.73 487.90V492.30M452.06 487.90V492.30M456.05 487.90V492.30M457.38 487.90V492.30M458.70 487.90V492.30M460.03 487.90V492.30M461.36 487.90V492.30M462.69 487.90V492.30M464.02 487.90V492.30M465.34 487.90V492.30M466.67 487.90V492.30M468.00 487.90V492.30M470.00 487.90V492.30M487.50 487.90V492.30" stroke="#231f20" stroke-width="1.5"/>
<path d="M426.83 487.90V490.20M428.16 487.90V490.20M433.47 487.90V490.20M434.80 487.90V490.20M438.78 487.90V490.20M441.44 487.90V490.20M445.42 487.90V490.20M448.08 487.90V490.20M449.41 487.90V490.20M453.39 487.90V490.20M454.72 487.90V490.20M469.20 487.90V490.20M475.27 487.90V490.20M478.35 487.90V490.20M480.54 487.90V490.20M482.23 487.90V490.20M483.62 487.90V490.20M484.79 487.90V490.20M485.80 487.90V490.20M486.70 487.90V490.20M492.77 487.90V490.20M495.85 487.90V490.20M498.04 487.90V490.20M499.73 487.90V490.20M501.12 487.90V490.20M502.29 487.90V490.20M503.30 487.90V490.20M504.20 487.90V490.20" stroke="#231f20" stroke-width="0.7"/>
<text x="407.65" y="418.60" font-size="5.3" text-anchor="start" fill="#231f20" stroke="#231f20" stroke-width="0.28" >10</text>
<text x="414.75" y="414.70" font-size="4.77" text-anchor="start" fill="#231f20" stroke="#231f20" stroke-width="0.28" >5</text>
<text x="407.65" y="436.50" font-size="5.3" text-anchor="start" fill="#231f20" stroke="#231f20" stroke-width="0.28" >10</text>
<text x="414.75" y="432.60" font-size="4.77" text-anchor="start" fill="#231f20" stroke="#231f20" stroke-width="0.28" >4</text>
<text x="407.65" y="455.00" font-size="5.3" text-anchor="start" fill="#231f20" stroke="#231f20" stroke-width="0.28" >10</text>
<text x="414.75" y="451.10" font-size="4.77" text-anchor="start" fill="#231f20" stroke="#231f20" stroke-width="0.28" >3</text>
<text x="411.00" y="481.70" font-size="5.3" text-anchor="middle" fill="#231f20" stroke="#231f20" stroke-width="0.16" >0</text>
<text x="452.20" y="503.30" font-size="5.2" text-anchor="middle" fill="#231f20" stroke="#231f20" stroke-width="0.16" >0</text>
<text x="486.05" y="503.30" font-size="5.3" text-anchor="start" fill="#231f20" stroke="#231f20" stroke-width="0.28" >10</text>
<text x="493.15" y="499.40" font-size="4.77" text-anchor="start" fill="#231f20" stroke="#231f20" stroke-width="0.28" >4</text>
<text x="449.20" y="510.60" font-size="6.5" text-anchor="middle" fill="#231f20" stroke="#231f20" stroke-width="0.20" textLength="60.40" lengthAdjust="spacingAndGlyphs" >CD3 PerCP/Cyanine5.5</text>
<text x="403.60" y="453.60" font-size="6.5" text-anchor="middle" fill="#231f20" stroke="#231f20" stroke-width="0.20" textLength="36.00" lengthAdjust="spacingAndGlyphs" transform="rotate(-90 403.60 453.60)" >CD19, 20 FITC</text>
<path d="M532.40 42.70 H593.30 V104.00" stroke="#aaa" stroke-width="0.6" fill="none"/>
<path d="M532.40 42.70 V104.00 H593.30" stroke="#333" stroke-width="0.6" fill="none"/>
<path d="M530.80 104.00H532.40M531.60 102.81H532.40M531.60 101.63H532.40M531.60 100.44H532.40M531.60 99.26H532.40M531.60 98.07H532.40M531.60 96.88H532.40M531.60 95.70H532.40M531.60 94.51H532.40M531.60 93.33H532.40M530.80 92.14H532.40M531.60 90.95H532.40M531.60 89.77H532.40M531.60 88.58H532.40M531.60 87.40H532.40M531.60 86.21H532.40M531.60 85.02H532.40M531.60 83.84H532.40M531.60 82.65H532.40M531.60 81.47H532.40M530.80 80.28H532.40M531.60 79.09H532.40M531.60 77.91H532.40M531.60 76.72H532.40M531.60 75.54H532.40M531.60 74.35H532.40M531.60 73.16H532.40M531.60 71.98H532.40M531.60 70.79H532.40M531.60 69.61H532.40M530.80 68.42H532.40M531.60 67.23H532.40M531.60 66.05H532.40M531.60 64.86H532.40M531.60 63.68H532.40M531.60 62.49H532.40M531.60 61.30H532.40M531.60 60.12H532.40M531.60 58.93H532.40M531.60 57.75H532.40M530.80 56.56H532.40M531.60 55.37H532.40M531.60 54.19H532.40M531.60 53.00H532.40M531.60 51.82H532.40M531.60 50.63H532.40M531.60 49.44H532.40M531.60 48.26H532.40M531.60 47.07H532.40M531.60 45.89H532.40M530.80 44.70H532.40" stroke="#333" stroke-width="0.35"/>
<text x="530.50" y="105.00" font-size="3.0" text-anchor="end" fill="#333" stroke="#333" stroke-width="0.05" >0</text>
<text x="530.50" y="93.14" font-size="3.0" text-anchor="end" fill="#333" stroke="#333" stroke-width="0.05" >20</text>
<text x="530.50" y="81.28" font-size="3.0" text-anchor="end" fill="#333" stroke="#333" stroke-width="0.05" >40</text>
<text x="530.50" y="69.42" font-size="3.0" text-anchor="end" fill="#333" stroke="#333" stroke-width="0.05" >60</text>
<text x="530.50" y="57.56" font-size="3.0" text-anchor="end" fill="#333" stroke="#333" stroke-width="0.05" >80</text>
<text x="530.50" y="45.70" font-size="3.0" text-anchor="end" fill="#333" stroke="#333" stroke-width="0.05" >100</text>
<path d="M535.44 104.00V105.60M538.93 104.00V104.80M540.97 104.00V104.80M542.41 104.00V104.80M543.53 104.00V104.80M544.45 104.00V104.80M545.22 104.00V104.80M545.89 104.00V104.80M546.49 104.00V104.80M547.02 104.00V105.60M550.50 104.00V104.80M552.54 104.00V104.80M553.98 104.00V104.80M555.10 104.00V104.80M556.02 104.00V104.80M556.79 104.00V104.80M557.47 104.00V104.80M558.06 104.00V104.80M558.59 104.00V105.60M562.07 104.00V104.80M564.11 104.00V104.80M565.55 104.00V104.80M566.67 104.00V104.80M567.59 104.00V104.80M568.37 104.00V104.80M569.04 104.00V104.80M569.63 104.00V104.80M570.16 104.00V105.60M573.64 104.00V104.80M575.68 104.00V104.80M577.12 104.00V104.80M578.25 104.00V104.80M579.16 104.00V104.80M579.94 104.00V104.80M580.61 104.00V104.80M581.20 104.00V104.80M581.73 104.00V105.60M585.21 104.00V104.80M587.25 104.00V104.80M588.70 104.00V104.80M589.82 104.00V104.80M590.73 104.00V104.80M591.51 104.00V104.80M592.18 104.00V104.80M592.77 104.00V104.80" stroke="#333" stroke-width="0.35"/>
<text x="540.32" y="108.80" font-size="3.0" text-anchor="middle" fill="#333" stroke="#333" stroke-width="0.05" >0</text>
<text x="556.15" y="108.80" font-size="3.0" text-anchor="middle" fill="#333" stroke="#333" stroke-width="0.05" >10²</text>
<text x="567.72" y="108.80" font-size="3.0" text-anchor="middle" fill="#333" stroke="#333" stroke-width="0.05" >10³</text>
<text x="579.29" y="108.80" font-size="3.0" text-anchor="middle" fill="#333" stroke="#333" stroke-width="0.05" >10⁴</text>
<text x="590.86" y="108.80" font-size="3.0" text-anchor="middle" fill="#333" stroke="#333" stroke-width="0.05" >10⁵</text>
<path d="M532.44 104.00 L532.44 104.04 L532.44 101.61 L533.80 97.55 L535.83 92.13 L537.86 88.07 L539.89 84.01 L541.92 77.25 L543.95 71.83 L545.30 65.07 L546.65 55.59 L548.01 50.18 L549.36 46.80 L550.44 50.18 L551.39 52.89 L552.07 56.95 L553.42 67.77 L554.77 78.60 L556.13 89.43 L557.48 97.55 L558.83 101.61 L560.19 104.04 L560.19 104.00 Z" fill="#c9c9c5" stroke="none"/>
<path d="M532.44 104.04 L532.44 101.61 L533.80 97.55 L535.83 92.13 L537.86 88.07 L539.89 84.01 L541.92 77.25 L543.95 71.83 L545.30 65.07 L546.65 55.59 L548.01 50.18 L549.36 46.80 L550.44 50.18 L551.39 52.89 L552.07 56.95 L553.42 67.77 L554.77 78.60 L556.13 89.43 L557.48 97.55 L558.83 101.61 L560.19 104.04" fill="none" stroke="#555" stroke-width="0.7" stroke-linejoin="round"/>
<path d="M532.44 104.04 L535.83 102.28 L539.89 100.25 L543.95 98.22 L548.01 94.84 L552.07 91.46 L554.77 86.72 L557.48 78.60 L559.51 70.48 L560.86 63.71 L562.22 58.30 L563.57 52.89 L564.92 48.83 L565.87 46.80 L566.95 50.18 L568.04 49.50 L568.98 54.24 L570.34 58.30 L571.69 65.07 L573.72 73.19 L575.75 81.31 L577.78 86.72 L579.81 92.13 L581.84 96.19 L583.87 100.25 L585.90 102.96 L587.93 104.04 L593.34 104.04" fill="none" stroke="#e0282e" stroke-width="1.25" stroke-linejoin="round"/>
<path d="M532.44 100.25 L533.12 93.49 L534.47 84.01 L535.83 78.60 L537.18 81.31 L538.53 78.60 L539.21 69.13 L539.89 63.71 L541.24 67.77 L542.59 62.36 L543.27 69.13 L543.95 71.83 L545.30 59.65 L546.65 55.59 L548.01 65.07 L549.36 69.13 L550.71 55.59 L552.07 51.53 L553.42 56.95 L554.10 54.24 L554.77 58.30 L555.04 77.25 L556.80 78.60 L558.16 79.95 L560.19 85.37 L561.27 94.84 L562.22 104.04 L593.34 104.04" fill="none" stroke="#4fb748" stroke-width="1.25" stroke-linejoin="round"/>
<path d="M532.44 103.64 L533.12 98.90 L534.47 90.78 L535.83 82.66 L537.18 88.07 L538.53 88.07 L539.89 82.66 L541.24 71.83 L541.92 65.07 L542.59 55.59 L543.27 50.18 L543.95 46.80 L544.62 48.83 L545.30 51.53 L545.98 58.30 L546.65 65.07 L548.01 69.13 L549.36 70.48 L550.04 74.54 L550.71 81.31 L552.07 89.43 L552.74 96.19 L553.42 101.61 L554.77 103.64 L560.19 104.04" fill="none" stroke="#2450a0" stroke-width="1.25" stroke-linejoin="round"/>
<text x="559.30" y="119.90" font-size="9" text-anchor="middle" fill="#231f20" stroke="#231f20" stroke-width="0.27" textLength="35.80" lengthAdjust="spacingAndGlyphs" >CD163 PE</text>
<path d="M616.60 39.30 H677.50 V96.20" stroke="#aaa" stroke-width="0.6" fill="none"/>
<path d="M616.60 39.30 V96.20 H677.50" stroke="#333" stroke-width="0.6" fill="none"/>
<path d="M615.00 96.20H616.60M615.80 95.10H616.60M615.80 94.00H616.60M615.80 92.91H616.60M615.80 91.81H616.60M615.80 90.71H616.60M615.80 89.61H616.60M615.80 88.51H616.60M615.80 87.42H616.60M615.80 86.32H616.60M615.00 85.22H616.60M615.80 84.12H616.60M615.80 83.02H616.60M615.80 81.93H616.60M615.80 80.83H616.60M615.80 79.73H616.60M615.80 78.63H616.60M615.80 77.53H616.60M615.80 76.44H616.60M615.80 75.34H616.60M615.00 74.24H616.60M615.80 73.14H616.60M615.80 72.04H616.60M615.80 70.95H616.60M615.80 69.85H616.60M615.80 68.75H616.60M615.80 67.65H616.60M615.80 66.55H616.60M615.80 65.46H616.60M615.80 64.36H616.60M615.00 63.26H616.60M615.80 62.16H616.60M615.80 61.06H616.60M615.80 59.97H616.60M615.80 58.87H616.60M615.80 57.77H616.60M615.80 56.67H616.60M615.80 55.57H616.60M615.80 54.48H616.60M615.80 53.38H616.60M615.00 52.28H616.60M615.80 51.18H616.60M615.80 50.08H616.60M615.80 48.99H616.60M615.80 47.89H616.60M615.80 46.79H616.60M615.80 45.69H616.60M615.80 44.59H616.60M615.80 43.50H616.60M615.80 42.40H616.60M615.00 41.30H616.60" stroke="#333" stroke-width="0.35"/>
<text x="614.70" y="97.20" font-size="3.0" text-anchor="end" fill="#333" stroke="#333" stroke-width="0.05" >0</text>
<text x="614.70" y="86.22" font-size="3.0" text-anchor="end" fill="#333" stroke="#333" stroke-width="0.05" >20</text>
<text x="614.70" y="75.24" font-size="3.0" text-anchor="end" fill="#333" stroke="#333" stroke-width="0.05" >40</text>
<text x="614.70" y="64.26" font-size="3.0" text-anchor="end" fill="#333" stroke="#333" stroke-width="0.05" >60</text>
<text x="614.70" y="53.28" font-size="3.0" text-anchor="end" fill="#333" stroke="#333" stroke-width="0.05" >80</text>
<text x="614.70" y="42.30" font-size="3.0" text-anchor="end" fill="#333" stroke="#333" stroke-width="0.05" >100</text>
<path d="M619.64 96.20V97.80M623.13 96.20V97.00M625.17 96.20V97.00M626.61 96.20V97.00M627.73 96.20V97.00M628.65 96.20V97.00M629.42 96.20V97.00M630.09 96.20V97.00M630.69 96.20V97.00M631.22 96.20V97.80M634.70 96.20V97.00M636.74 96.20V97.00M638.18 96.20V97.00M639.30 96.20V97.00M640.22 96.20V97.00M640.99 96.20V97.00M641.67 96.20V97.00M642.26 96.20V97.00M642.79 96.20V97.80M646.27 96.20V97.00M648.31 96.20V97.00M649.75 96.20V97.00M650.87 96.20V97.00M651.79 96.20V97.00M652.57 96.20V97.00M653.24 96.20V97.00M653.83 96.20V97.00M654.36 96.20V97.80M657.84 96.20V97.00M659.88 96.20V97.00M661.32 96.20V97.00M662.45 96.20V97.00M663.36 96.20V97.00M664.14 96.20V97.00M664.81 96.20V97.00M665.40 96.20V97.00M665.93 96.20V97.80M669.41 96.20V97.00M671.45 96.20V97.00M672.90 96.20V97.00M674.02 96.20V97.00M674.93 96.20V97.00M675.71 96.20V97.00M676.38 96.20V97.00M676.97 96.20V97.00" stroke="#333" stroke-width="0.35"/>
<text x="624.52" y="101.00" font-size="3.0" text-anchor="middle" fill="#333" stroke="#333" stroke-width="0.05" >0</text>
<text x="640.35" y="101.00" font-size="3.0" text-anchor="middle" fill="#333" stroke="#333" stroke-width="0.05" >10²</text>
<text x="651.92" y="101.00" font-size="3.0" text-anchor="middle" fill="#333" stroke="#333" stroke-width="0.05" >10³</text>
<text x="663.49" y="101.00" font-size="3.0" text-anchor="middle" fill="#333" stroke="#333" stroke-width="0.05" >10⁴</text>
<text x="675.06" y="101.00" font-size="3.0" text-anchor="middle" fill="#333" stroke="#333" stroke-width="0.05" >10⁵</text>
<path d="M616.61 96.20 L616.61 96.24 L616.61 73.47 L617.26 89.26 L617.92 84.00 L619.24 73.47 L620.55 65.58 L621.87 64.26 L623.18 56.37 L624.50 49.79 L625.82 48.47 L626.47 52.42 L627.13 45.84 L628.05 42.55 L628.84 43.21 L629.37 48.47 L630.16 60.32 L631.08 65.58 L631.74 72.16 L633.05 81.37 L634.37 89.26 L635.42 93.87 L637.00 95.18 L638.97 95.84 L640.29 96.24 L640.29 96.20 Z" fill="#c9c9c5" stroke="none"/>
<path d="M616.61 96.24 L616.61 73.47 L617.26 89.26 L617.92 84.00 L619.24 73.47 L620.55 65.58 L621.87 64.26 L623.18 56.37 L624.50 49.79 L625.82 48.47 L626.47 52.42 L627.13 45.84 L628.05 42.55 L628.84 43.21 L629.37 48.47 L630.16 60.32 L631.08 65.58 L631.74 72.16 L633.05 81.37 L634.37 89.26 L635.42 93.87 L637.00 95.18 L638.97 95.84 L640.29 96.24" fill="none" stroke="#555" stroke-width="0.7" stroke-linejoin="round"/>
<path d="M616.61 96.24 L640.29 96.24 L642.92 95.84 L645.55 94.79 L647.53 91.89 L649.50 87.95 L651.47 86.63 L652.79 82.68 L654.11 77.42 L655.42 70.84 L656.74 62.95 L657.79 53.74 L658.45 47.16 L659.11 45.84 L659.63 49.79 L660.16 46.50 L660.68 43.21 L661.74 42.55 L662.66 49.79 L663.32 57.68 L663.97 65.58 L664.89 64.92 L665.68 69.53 L666.47 77.42 L667.26 86.63 L668.32 93.21 L669.89 95.84 L671.87 96.24 L677.53 96.24" fill="none" stroke="#e0282e" stroke-width="1.25" stroke-linejoin="round"/>
<text x="644.40" y="113.90" font-size="9" text-anchor="middle" fill="#231f20" stroke="#231f20" stroke-width="0.27" textLength="32.60" lengthAdjust="spacingAndGlyphs" >CD64 PE</text>
<path d="M530.80 145.10 H596.60 V202.60" stroke="#aaa" stroke-width="0.6" fill="none"/>
<path d="M530.80 145.10 V202.60 H596.60" stroke="#333" stroke-width="0.6" fill="none"/>
<path d="M529.20 202.60H530.80M530.00 201.49H530.80M530.00 200.38H530.80M530.00 199.27H530.80M530.00 198.16H530.80M530.00 197.05H530.80M530.00 195.94H530.80M530.00 194.83H530.80M530.00 193.72H530.80M530.00 192.61H530.80M529.20 191.50H530.80M530.00 190.39H530.80M530.00 189.28H530.80M530.00 188.17H530.80M530.00 187.06H530.80M530.00 185.95H530.80M530.00 184.84H530.80M530.00 183.73H530.80M530.00 182.62H530.80M530.00 181.51H530.80M529.20 180.40H530.80M530.00 179.29H530.80M530.00 178.18H530.80M530.00 177.07H530.80M530.00 175.96H530.80M530.00 174.85H530.80M530.00 173.74H530.80M530.00 172.63H530.80M530.00 171.52H530.80M530.00 170.41H530.80M529.20 169.30H530.80M530.00 168.19H530.80M530.00 167.08H530.80M530.00 165.97H530.80M530.00 164.86H530.80M530.00 163.75H530.80M530.00 162.64H530.80M530.00 161.53H530.80M530.00 160.42H530.80M530.00 159.31H530.80M529.20 158.20H530.80M530.00 157.09H530.80M530.00 155.98H530.80M530.00 154.87H530.80M530.00 153.76H530.80M530.00 152.65H530.80M530.00 151.54H530.80M530.00 150.43H530.80M530.00 149.32H530.80M530.00 148.21H530.80M529.20 147.10H530.80" stroke="#333" stroke-width="0.35"/>
<text x="528.90" y="203.60" font-size="3.0" text-anchor="end" fill="#333" stroke="#333" stroke-width="0.05" >0</text>
<text x="528.90" y="192.50" font-size="3.0" text-anchor="end" fill="#333" stroke="#333" stroke-width="0.05" >20</text>
<text x="528.90" y="181.40" font-size="3.0" text-anchor="end" fill="#333" stroke="#333" stroke-width="0.05" >40</text>
<text x="528.90" y="170.30" font-size="3.0" text-anchor="end" fill="#333" stroke="#333" stroke-width="0.05" >60</text>
<text x="528.90" y="159.20" font-size="3.0" text-anchor="end" fill="#333" stroke="#333" stroke-width="0.05" >80</text>
<text x="528.90" y="148.10" font-size="3.0" text-anchor="end" fill="#333" stroke="#333" stroke-width="0.05" >100</text>
<path d="M534.09 202.60V204.20M537.85 202.60V203.40M540.05 202.60V203.40M541.62 202.60V203.40M542.83 202.60V203.40M543.82 202.60V203.40M544.66 202.60V203.40M545.38 202.60V203.40M546.02 202.60V203.40M546.59 202.60V204.20M550.36 202.60V203.40M552.56 202.60V203.40M554.12 202.60V203.40M555.33 202.60V203.40M556.32 202.60V203.40M557.16 202.60V203.40M557.88 202.60V203.40M558.52 202.60V203.40M559.09 202.60V204.20M562.86 202.60V203.40M565.06 202.60V203.40M566.62 202.60V203.40M567.83 202.60V203.40M568.82 202.60V203.40M569.66 202.60V203.40M570.38 202.60V203.40M571.02 202.60V203.40M571.60 202.60V204.20M575.36 202.60V203.40M577.56 202.60V203.40M579.12 202.60V203.40M580.33 202.60V203.40M581.32 202.60V203.40M582.16 202.60V203.40M582.89 202.60V203.40M583.53 202.60V203.40M584.10 202.60V204.20M587.86 202.60V203.40M590.06 202.60V203.40M591.62 202.60V203.40M592.84 202.60V203.40M593.83 202.60V203.40M594.66 202.60V203.40M595.39 202.60V203.40M596.03 202.60V203.40" stroke="#333" stroke-width="0.35"/>
<text x="539.35" y="207.40" font-size="3.0" text-anchor="middle" fill="#333" stroke="#333" stroke-width="0.05" >0</text>
<text x="556.46" y="207.40" font-size="3.0" text-anchor="middle" fill="#333" stroke="#333" stroke-width="0.05" >10²</text>
<text x="568.96" y="207.40" font-size="3.0" text-anchor="middle" fill="#333" stroke="#333" stroke-width="0.05" >10³</text>
<text x="581.47" y="207.40" font-size="3.0" text-anchor="middle" fill="#333" stroke="#333" stroke-width="0.05" >10⁴</text>
<text x="593.97" y="207.40" font-size="3.0" text-anchor="middle" fill="#333" stroke="#333" stroke-width="0.05" >10⁵</text>
<path d="M530.83 202.60 L530.83 202.56 L530.83 192.34 L532.74 191.07 L534.66 187.24 L536.57 184.68 L538.49 182.13 L540.40 179.58 L542.32 173.19 L543.60 168.09 L544.87 161.70 L546.15 156.60 L547.43 152.77 L548.45 148.94 L549.34 151.49 L550.62 156.60 L551.89 160.43 L552.53 165.53 L553.17 171.92 L554.45 180.85 L555.72 188.51 L557.00 194.90 L558.28 200.00 L558.92 202.56 L558.92 202.60 Z" fill="#c9c9c5" stroke="none"/>
<path d="M530.83 202.56 L530.83 192.34 L532.74 191.07 L534.66 187.24 L536.57 184.68 L538.49 182.13 L540.40 179.58 L542.32 173.19 L543.60 168.09 L544.87 161.70 L546.15 156.60 L547.43 152.77 L548.45 148.94 L549.34 151.49 L550.62 156.60 L551.89 160.43 L552.53 165.53 L553.17 171.92 L554.45 180.85 L555.72 188.51 L557.00 194.90 L558.28 200.00 L558.92 202.56" fill="none" stroke="#555" stroke-width="0.7" stroke-linejoin="round"/>
<path d="M564.02 202.56 L566.58 201.28 L568.49 197.45 L569.77 191.07 L571.04 184.68 L572.32 177.02 L573.60 170.64 L575.26 164.26 L576.53 156.60 L577.43 153.40 L578.32 152.13 L579.34 155.32 L580.36 161.70 L581.26 169.36 L582.15 178.30 L583.17 188.51 L584.19 196.17 L585.09 200.00 L586.36 202.56" fill="none" stroke="#4fb748" stroke-width="1.25" stroke-linejoin="round"/>
<path d="M530.83 202.56 L558.92 202.56 L562.75 202.30 L565.30 201.66 L567.21 200.64 L569.13 198.09 L571.04 193.62 L572.96 187.24 L574.49 178.30 L575.90 168.09 L577.04 159.15 L578.07 152.77 L578.83 148.94 L579.60 151.49 L580.62 156.60 L581.64 159.15 L582.53 165.53 L583.43 175.75 L584.45 187.24 L585.47 196.17 L586.36 201.28 L587.64 202.56" fill="none" stroke="#e0282e" stroke-width="1.25" stroke-linejoin="round"/>
<path d="M530.83 145.11 L530.83 202.56 L530.83 200.00 L532.74 198.73 L534.66 198.09 L536.57 200.00 L538.49 197.45 L540.40 196.81 L542.32 196.17 L544.23 193.62 L546.15 191.07 L548.06 188.51 L549.34 183.41 L550.62 178.30 L551.89 170.64 L553.17 164.26 L554.45 163.62 L555.09 165.53 L556.11 159.15 L557.00 150.21 L557.64 148.94 L558.28 156.60 L558.92 168.09 L559.94 175.75 L560.83 180.85 L562.11 185.96 L563.38 192.34 L564.66 197.45 L565.94 200.64 L567.21 202.56 L596.58 202.56" fill="none" stroke="#2450a0" stroke-width="1.25" stroke-linejoin="round"/>
<text x="565.50" y="218.90" font-size="9" text-anchor="middle" fill="#231f20" stroke="#231f20" stroke-width="0.27" textLength="45.20" lengthAdjust="spacingAndGlyphs" >SIRPα/β PE</text>
<path d="M618.30 144.20 H675.20 V202.10" stroke="#aaa" stroke-width="0.6" fill="none"/>
<path d="M618.30 144.20 V202.10 H675.20" stroke="#333" stroke-width="0.6" fill="none"/>
<path d="M616.70 202.10H618.30M617.50 200.98H618.30M617.50 199.86H618.30M617.50 198.75H618.30M617.50 197.63H618.30M617.50 196.51H618.30M617.50 195.39H618.30M617.50 194.27H618.30M617.50 193.16H618.30M617.50 192.04H618.30M616.70 190.92H618.30M617.50 189.80H618.30M617.50 188.68H618.30M617.50 187.57H618.30M617.50 186.45H618.30M617.50 185.33H618.30M617.50 184.21H618.30M617.50 183.09H618.30M617.50 181.98H618.30M617.50 180.86H618.30M616.70 179.74H618.30M617.50 178.62H618.30M617.50 177.50H618.30M617.50 176.39H618.30M617.50 175.27H618.30M617.50 174.15H618.30M617.50 173.03H618.30M617.50 171.91H618.30M617.50 170.80H618.30M617.50 169.68H618.30M616.70 168.56H618.30M617.50 167.44H618.30M617.50 166.32H618.30M617.50 165.21H618.30M617.50 164.09H618.30M617.50 162.97H618.30M617.50 161.85H618.30M617.50 160.73H618.30M617.50 159.62H618.30M617.50 158.50H618.30M616.70 157.38H618.30M617.50 156.26H618.30M617.50 155.14H618.30M617.50 154.03H618.30M617.50 152.91H618.30M617.50 151.79H618.30M617.50 150.67H618.30M617.50 149.55H618.30M617.50 148.44H618.30M617.50 147.32H618.30M616.70 146.20H618.30" stroke="#333" stroke-width="0.35"/>
<text x="616.40" y="203.10" font-size="3.0" text-anchor="end" fill="#333" stroke="#333" stroke-width="0.05" >0</text>
<text x="616.40" y="191.92" font-size="3.0" text-anchor="end" fill="#333" stroke="#333" stroke-width="0.05" >20</text>
<text x="616.40" y="180.74" font-size="3.0" text-anchor="end" fill="#333" stroke="#333" stroke-width="0.05" >40</text>
<text x="616.40" y="169.56" font-size="3.0" text-anchor="end" fill="#333" stroke="#333" stroke-width="0.05" >60</text>
<text x="616.40" y="158.38" font-size="3.0" text-anchor="end" fill="#333" stroke="#333" stroke-width="0.05" >80</text>
<text x="616.40" y="147.20" font-size="3.0" text-anchor="end" fill="#333" stroke="#333" stroke-width="0.05" >100</text>
<path d="M621.14 202.10V203.70M624.40 202.10V202.90M626.30 202.10V202.90M627.65 202.10V202.90M628.70 202.10V202.90M629.56 202.10V202.90M630.28 202.10V202.90M630.91 202.10V202.90M631.46 202.10V202.90M631.96 202.10V203.70M635.21 202.10V202.90M637.11 202.10V202.90M638.46 202.10V202.90M639.51 202.10V202.90M640.37 202.10V202.90M641.09 202.10V202.90M641.72 202.10V202.90M642.27 202.10V202.90M642.77 202.10V203.70M646.02 202.10V202.90M647.93 202.10V202.90M649.28 202.10V202.90M650.32 202.10V202.90M651.18 202.10V202.90M651.90 202.10V202.90M652.53 202.10V202.90M653.08 202.10V202.90M653.58 202.10V203.70M656.83 202.10V202.90M658.74 202.10V202.90M660.09 202.10V202.90M661.13 202.10V202.90M661.99 202.10V202.90M662.71 202.10V202.90M663.34 202.10V202.90M663.89 202.10V202.90M664.39 202.10V203.70M667.64 202.10V202.90M669.55 202.10V202.90M670.90 202.10V202.90M671.95 202.10V202.90M672.80 202.10V202.90M673.53 202.10V202.90M674.15 202.10V202.90M674.71 202.10V202.90" stroke="#333" stroke-width="0.35"/>
<text x="625.70" y="206.90" font-size="3.0" text-anchor="middle" fill="#333" stroke="#333" stroke-width="0.05" >0</text>
<text x="640.49" y="206.90" font-size="3.0" text-anchor="middle" fill="#333" stroke="#333" stroke-width="0.05" >10²</text>
<text x="651.30" y="206.90" font-size="3.0" text-anchor="middle" fill="#333" stroke="#333" stroke-width="0.05" >10³</text>
<text x="662.11" y="206.90" font-size="3.0" text-anchor="middle" fill="#333" stroke="#333" stroke-width="0.05" >10⁴</text>
<text x="672.92" y="206.90" font-size="3.0" text-anchor="middle" fill="#333" stroke="#333" stroke-width="0.05" >10⁵</text>
<path d="M618.28 202.10 L618.28 202.15 L618.28 193.46 L619.84 190.87 L621.78 188.27 L623.73 185.68 L625.67 181.79 L626.97 177.90 L628.91 171.42 L630.86 164.93 L632.41 158.45 L633.45 151.97 L634.36 148.08 L635.14 151.97 L636.04 157.15 L637.08 162.34 L637.99 168.82 L639.29 177.90 L640.58 186.98 L641.88 194.76 L643.18 199.94 L644.08 202.15 L644.08 202.10 Z" fill="#c9c9c5" stroke="none"/>
<path d="M618.28 202.15 L618.28 193.46 L619.84 190.87 L621.78 188.27 L623.73 185.68 L625.67 181.79 L626.97 177.90 L628.91 171.42 L630.86 164.93 L632.41 158.45 L633.45 151.97 L634.36 148.08 L635.14 151.97 L636.04 157.15 L637.08 162.34 L637.99 168.82 L639.29 177.90 L640.58 186.98 L641.88 194.76 L643.18 199.94 L644.08 202.15" fill="none" stroke="#555" stroke-width="0.7" stroke-linejoin="round"/>
<path d="M618.28 144.19 L618.28 202.15 L618.28 185.68 L619.84 183.09 L621.78 179.20 L623.73 177.90 L625.67 171.42 L627.62 166.23 L629.56 162.34 L631.51 155.86 L633.19 150.67 L634.10 148.08 L635.14 153.26 L636.30 159.75 L637.34 166.23 L638.64 172.71 L639.93 179.20 L641.23 186.98 L642.53 193.46 L644.47 198.00 L647.07 199.30 L649.66 199.94 L652.90 200.59 L655.49 201.24 L658.74 202.15" fill="none" stroke="#e0282e" stroke-width="1.25" stroke-linejoin="round"/>
<path d="M618.28 179.20 L618.93 192.16 L620.48 193.46 L622.43 192.16 L624.37 190.87 L626.32 183.09 L627.62 179.20 L628.91 172.71 L630.21 170.12 L631.51 164.93 L632.80 158.45 L634.10 151.97 L635.40 148.08 L636.30 153.26 L637.34 150.67 L638.38 159.75 L639.29 164.93 L640.58 171.42 L641.49 174.01 L642.53 181.79 L643.82 189.57 L645.12 193.46 L646.42 190.87 L647.45 196.05 L649.01 199.30 L651.60 199.94 L655.49 200.98 L658.74 202.15" fill="none" stroke="#4fb748" stroke-width="1.25" stroke-linejoin="round"/>
<path d="M618.28 202.15 L643.18 202.15 L644.47 198.65 L645.77 194.76 L647.07 189.57 L647.97 184.38 L649.01 179.20 L650.05 171.42 L650.96 163.64 L651.60 158.45 L652.38 157.15 L652.90 151.97 L653.42 147.43 L654.20 153.26 L654.98 158.45 L655.75 167.53 L656.53 176.60 L657.44 186.98 L658.09 194.76 L659.12 199.94 L660.03 202.15 L675.20 202.15" fill="none" stroke="#2450a0" stroke-width="1.25" stroke-linejoin="round"/>
<text x="647.80" y="218.80" font-size="9" text-anchor="middle" fill="#231f20" stroke="#231f20" stroke-width="0.27" textLength="30.20" lengthAdjust="spacingAndGlyphs" >CD26 PE</text>
<path d="M530.10 245.20 H587.90" stroke="#aaa" stroke-width="0.6" fill="none"/>
<path d="M530.10 245.20 V303.00 H587.90" stroke="#333" stroke-width="0.6" fill="none"/>
<path d="M528.50 303.00H530.10M529.30 301.88H530.10M529.30 300.77H530.10M529.30 299.65H530.10M529.30 298.54H530.10M529.30 297.42H530.10M529.30 296.30H530.10M529.30 295.19H530.10M529.30 294.07H530.10M529.30 292.96H530.10M528.50 291.84H530.10M529.30 290.72H530.10M529.30 289.61H530.10M529.30 288.49H530.10M529.30 287.38H530.10M529.30 286.26H530.10M529.30 285.14H530.10M529.30 284.03H530.10M529.30 282.91H530.10M529.30 281.80H530.10M528.50 280.68H530.10M529.30 279.56H530.10M529.30 278.45H530.10M529.30 277.33H530.10M529.30 276.22H530.10M529.30 275.10H530.10M529.30 273.98H530.10M529.30 272.87H530.10M529.30 271.75H530.10M529.30 270.64H530.10M528.50 269.52H530.10M529.30 268.40H530.10M529.30 267.29H530.10M529.30 266.17H530.10M529.30 265.06H530.10M529.30 263.94H530.10M529.30 262.82H530.10M529.30 261.71H530.10M529.30 260.59H530.10M529.30 259.48H530.10M528.50 258.36H530.10M529.30 257.24H530.10M529.30 256.13H530.10M529.30 255.01H530.10M529.30 253.90H530.10M529.30 252.78H530.10M529.30 251.66H530.10M529.30 250.55H530.10M529.30 249.43H530.10M529.30 248.32H530.10M528.50 247.20H530.10" stroke="#333" stroke-width="0.35"/>
<text x="528.20" y="304.00" font-size="3.0" text-anchor="end" fill="#333" stroke="#333" stroke-width="0.05" >0</text>
<text x="528.20" y="292.84" font-size="3.0" text-anchor="end" fill="#333" stroke="#333" stroke-width="0.05" >20</text>
<text x="528.20" y="281.68" font-size="3.0" text-anchor="end" fill="#333" stroke="#333" stroke-width="0.05" >40</text>
<text x="528.20" y="270.52" font-size="3.0" text-anchor="end" fill="#333" stroke="#333" stroke-width="0.05" >60</text>
<text x="528.20" y="259.36" font-size="3.0" text-anchor="end" fill="#333" stroke="#333" stroke-width="0.05" >80</text>
<text x="528.20" y="248.20" font-size="3.0" text-anchor="end" fill="#333" stroke="#333" stroke-width="0.05" >100</text>
<path d="M532.99 303.00V304.60M536.30 303.00V303.80M538.23 303.00V303.80M539.60 303.00V303.80M540.67 303.00V303.80M541.54 303.00V303.80M542.27 303.00V303.80M542.91 303.00V303.80M543.47 303.00V303.80M543.97 303.00V304.60M547.28 303.00V303.80M549.21 303.00V303.80M550.58 303.00V303.80M551.65 303.00V303.80M552.52 303.00V303.80M553.25 303.00V303.80M553.89 303.00V303.80M554.45 303.00V303.80M554.95 303.00V304.60M558.26 303.00V303.80M560.19 303.00V303.80M561.57 303.00V303.80M562.63 303.00V303.80M563.50 303.00V303.80M564.23 303.00V303.80M564.87 303.00V303.80M565.43 303.00V303.80M565.94 303.00V304.60M569.24 303.00V303.80M571.18 303.00V303.80M572.55 303.00V303.80M573.61 303.00V303.80M574.48 303.00V303.80M575.22 303.00V303.80M575.85 303.00V303.80M576.42 303.00V303.80M576.92 303.00V304.60M580.22 303.00V303.80M582.16 303.00V303.80M583.53 303.00V303.80M584.59 303.00V303.80M585.46 303.00V303.80M586.20 303.00V303.80M586.84 303.00V303.80M587.40 303.00V303.80" stroke="#333" stroke-width="0.35"/>
<text x="537.61" y="307.80" font-size="3.0" text-anchor="middle" fill="#333" stroke="#333" stroke-width="0.05" >0</text>
<text x="552.64" y="307.80" font-size="3.0" text-anchor="middle" fill="#333" stroke="#333" stroke-width="0.05" >10²</text>
<text x="563.62" y="307.80" font-size="3.0" text-anchor="middle" fill="#333" stroke="#333" stroke-width="0.05" >10³</text>
<text x="574.61" y="307.80" font-size="3.0" text-anchor="middle" fill="#333" stroke="#333" stroke-width="0.05" >10⁴</text>
<text x="585.59" y="307.80" font-size="3.0" text-anchor="middle" fill="#333" stroke="#333" stroke-width="0.05" >10⁵</text>
<path d="M530.09 303.00 L530.09 303.02 L530.09 294.34 L531.74 293.07 L533.66 289.24 L535.57 286.68 L537.49 282.85 L539.40 279.02 L541.06 273.92 L542.60 267.53 L544.51 261.15 L546.43 254.77 L547.96 249.66 L548.98 253.49 L550.26 258.60 L551.53 267.53 L552.81 276.47 L554.09 284.13 L555.36 290.51 L556.64 295.62 L557.92 300.73 L558.94 303.02 L558.94 303.00 Z" fill="#c9c9c5" stroke="none"/>
<path d="M530.09 303.02 L530.09 294.34 L531.74 293.07 L533.66 289.24 L535.57 286.68 L537.49 282.85 L539.40 279.02 L541.06 273.92 L542.60 267.53 L544.51 261.15 L546.43 254.77 L547.96 249.66 L548.98 253.49 L550.26 258.60 L551.53 267.53 L552.81 276.47 L554.09 284.13 L555.36 290.51 L556.64 295.62 L557.92 300.73 L558.94 303.02" fill="none" stroke="#555" stroke-width="0.7" stroke-linejoin="round"/>
<path d="M530.09 245.19 L530.09 303.02 L530.09 286.68 L531.74 284.13 L533.66 280.30 L535.57 279.02 L537.49 275.19 L538.77 271.36 L540.68 267.53 L542.60 263.70 L544.51 258.60 L546.43 253.49 L547.70 250.30 L548.98 249.02 L550.00 253.49 L551.53 261.15 L552.81 268.81 L554.09 276.47 L555.36 284.13 L556.64 290.51 L558.55 296.90 L560.47 300.09 L563.02 300.73 L565.58 302.00 L569.41 302.64 L573.24 303.02" fill="none" stroke="#e0282e" stroke-width="1.25" stroke-linejoin="round"/>
<path d="M530.09 280.30 L530.60 295.62 L532.38 294.34 L534.30 293.07 L536.21 294.34 L538.13 290.51 L540.04 284.13 L541.96 280.30 L543.23 273.92 L544.51 276.47 L545.79 270.09 L547.06 263.70 L548.34 257.32 L549.24 249.66 L550.00 254.77 L550.89 252.21 L551.53 250.94 L552.17 259.87 L553.06 267.53 L554.34 268.81 L555.36 275.19 L556.64 279.02 L557.92 285.41 L559.19 289.24 L560.47 295.62 L561.75 293.07 L563.02 291.15 L564.30 298.17 L566.85 300.73 L569.41 302.00 L571.96 302.64 L574.51 302.00 L577.07 303.02" fill="none" stroke="#4fb748" stroke-width="1.25" stroke-linejoin="round"/>
<path d="M530.09 303.02 L558.55 303.02 L559.83 300.09 L561.49 295.62 L563.02 291.79 L564.30 285.41 L565.58 280.30 L566.85 272.64 L567.87 264.98 L568.77 258.60 L569.41 254.77 L569.92 249.02 L570.43 253.49 L570.94 258.60 L571.96 262.43 L572.73 271.36 L573.49 280.30 L574.51 290.51 L575.53 298.17 L576.56 302.00 L577.70 303.02 L587.92 303.02" fill="none" stroke="#2450a0" stroke-width="1.25" stroke-linejoin="round"/>
<text x="563.90" y="319.90" font-size="9" text-anchor="middle" fill="#231f20" stroke="#231f20" stroke-width="0.27" textLength="34.00" lengthAdjust="spacingAndGlyphs" >CD26 PE</text>
<path d="M608.90 249.50 H666.30 V306.70" stroke="#aaa" stroke-width="0.6" fill="none"/>
<path d="M608.90 249.50 V306.70 H666.30" stroke="#333" stroke-width="0.6" fill="none"/>
<path d="M607.30 306.70H608.90M608.10 305.60H608.90M608.10 304.49H608.90M608.10 303.39H608.90M608.10 302.28H608.90M608.10 301.18H608.90M608.10 300.08H608.90M608.10 298.97H608.90M608.10 297.87H608.90M608.10 296.76H608.90M607.30 295.66H608.90M608.10 294.56H608.90M608.10 293.45H608.90M608.10 292.35H608.90M608.10 291.24H608.90M608.10 290.14H608.90M608.10 289.04H608.90M608.10 287.93H608.90M608.10 286.83H608.90M608.10 285.72H608.90M607.30 284.62H608.90M608.10 283.52H608.90M608.10 282.41H608.90M608.10 281.31H608.90M608.10 280.20H608.90M608.10 279.10H608.90M608.10 278.00H608.90M608.10 276.89H608.90M608.10 275.79H608.90M608.10 274.68H608.90M607.30 273.58H608.90M608.10 272.48H608.90M608.10 271.37H608.90M608.10 270.27H608.90M608.10 269.16H608.90M608.10 268.06H608.90M608.10 266.96H608.90M608.10 265.85H608.90M608.10 264.75H608.90M608.10 263.64H608.90M607.30 262.54H608.90M608.10 261.44H608.90M608.10 260.33H608.90M608.10 259.23H608.90M608.10 258.12H608.90M608.10 257.02H608.90M608.10 255.92H608.90M608.10 254.81H608.90M608.10 253.71H608.90M608.10 252.60H608.90M607.30 251.50H608.90" stroke="#333" stroke-width="0.35"/>
<text x="607.00" y="307.70" font-size="3.0" text-anchor="end" fill="#333" stroke="#333" stroke-width="0.05" >0</text>
<text x="607.00" y="296.66" font-size="3.0" text-anchor="end" fill="#333" stroke="#333" stroke-width="0.05" >20</text>
<text x="607.00" y="285.62" font-size="3.0" text-anchor="end" fill="#333" stroke="#333" stroke-width="0.05" >40</text>
<text x="607.00" y="274.58" font-size="3.0" text-anchor="end" fill="#333" stroke="#333" stroke-width="0.05" >60</text>
<text x="607.00" y="263.54" font-size="3.0" text-anchor="end" fill="#333" stroke="#333" stroke-width="0.05" >80</text>
<text x="607.00" y="252.50" font-size="3.0" text-anchor="end" fill="#333" stroke="#333" stroke-width="0.05" >100</text>
<path d="M611.77 306.70V308.30M615.05 306.70V307.50M616.97 306.70V307.50M618.34 306.70V307.50M619.39 306.70V307.50M620.26 306.70V307.50M620.99 306.70V307.50M621.62 306.70V307.50M622.18 306.70V307.50M622.68 306.70V308.30M625.96 306.70V307.50M627.88 306.70V307.50M629.24 306.70V307.50M630.30 306.70V307.50M631.16 306.70V307.50M631.89 306.70V307.50M632.53 306.70V307.50M633.08 306.70V307.50M633.58 306.70V308.30M636.87 306.70V307.50M638.79 306.70V307.50M640.15 306.70V307.50M641.20 306.70V307.50M642.07 306.70V307.50M642.80 306.70V307.50M643.43 306.70V307.50M643.99 306.70V307.50M644.49 306.70V308.30M647.77 306.70V307.50M649.69 306.70V307.50M651.05 306.70V307.50M652.11 306.70V307.50M652.97 306.70V307.50M653.70 306.70V307.50M654.34 306.70V307.50M654.89 306.70V307.50M655.39 306.70V308.30M658.68 306.70V307.50M660.60 306.70V307.50M661.96 306.70V307.50M663.02 306.70V307.50M663.88 306.70V307.50M664.61 306.70V307.50M665.24 306.70V307.50M665.80 306.70V307.50" stroke="#333" stroke-width="0.35"/>
<text x="616.36" y="311.50" font-size="3.0" text-anchor="middle" fill="#333" stroke="#333" stroke-width="0.05" >0</text>
<text x="631.29" y="311.50" font-size="3.0" text-anchor="middle" fill="#333" stroke="#333" stroke-width="0.05" >10²</text>
<text x="642.19" y="311.50" font-size="3.0" text-anchor="middle" fill="#333" stroke="#333" stroke-width="0.05" >10³</text>
<text x="653.10" y="311.50" font-size="3.0" text-anchor="middle" fill="#333" stroke="#333" stroke-width="0.05" >10⁴</text>
<text x="664.00" y="311.50" font-size="3.0" text-anchor="middle" fill="#333" stroke="#333" stroke-width="0.05" >10⁵</text>
<path d="M608.94 306.70 L608.94 306.66 L608.94 264.15 L608.94 298.62 L610.47 297.34 L612.38 292.24 L614.30 290.96 L616.21 288.41 L618.13 280.75 L619.40 273.09 L620.68 264.15 L621.96 257.77 L622.60 255.21 L623.49 257.77 L624.51 255.21 L625.79 253.94 L626.43 260.32 L627.45 270.53 L628.72 280.75 L630.00 290.96 L631.28 298.62 L632.55 303.73 L634.09 306.66 L634.09 306.70 Z" fill="#c9c9c5" stroke="none"/>
<path d="M608.94 306.66 L608.94 264.15 L608.94 298.62 L610.47 297.34 L612.38 292.24 L614.30 290.96 L616.21 288.41 L618.13 280.75 L619.40 273.09 L620.68 264.15 L621.96 257.77 L622.60 255.21 L623.49 257.77 L624.51 255.21 L625.79 253.94 L626.43 260.32 L627.45 270.53 L628.72 280.75 L630.00 290.96 L631.28 298.62 L632.55 303.73 L634.09 306.66" fill="none" stroke="#555" stroke-width="0.7" stroke-linejoin="round"/>
<path d="M608.94 303.73 L611.11 302.45 L613.66 299.90 L616.21 292.24 L617.49 288.41 L618.77 289.68 L620.04 292.24 L621.06 285.85 L621.96 270.53 L622.60 261.60 L623.49 256.49 L624.51 253.94 L625.41 255.21 L626.17 262.87 L627.06 273.09 L627.96 283.30 L629.24 290.96 L630.89 298.62 L632.81 303.73 L635.36 306.66" fill="none" stroke="#e0282e" stroke-width="1.25" stroke-linejoin="round"/>
<path d="M608.94 305.00 L611.11 302.45 L613.66 301.17 L616.21 297.34 L618.77 290.96 L620.68 283.30 L621.96 275.64 L623.23 270.53 L624.51 262.87 L625.41 256.49 L626.43 253.94 L627.45 256.49 L628.34 261.60 L629.24 267.98 L630.26 273.09 L631.28 275.64 L632.17 283.30 L633.06 292.24 L634.09 301.17 L635.36 305.64 L637.92 306.66 L666.26 306.66" fill="none" stroke="#4fb748" stroke-width="1.25" stroke-linejoin="round"/>
<path d="M608.94 279.47 L608.94 306.66 L608.94 301.17 L610.47 299.90 L612.38 298.62 L614.94 296.07 L617.49 290.96 L620.04 285.85 L621.96 280.75 L623.87 274.36 L625.79 267.98 L627.06 260.32 L627.96 255.21 L628.72 253.30 L629.62 259.04 L630.89 261.60 L632.17 266.70 L633.06 273.09 L634.09 278.19 L635.11 284.58 L636.38 290.96 L637.66 296.07 L639.19 298.62 L641.11 302.45 L643.02 305.00 L645.58 306.66" fill="none" stroke="#2450a0" stroke-width="1.25" stroke-linejoin="round"/>
<text x="637.10" y="322.90" font-size="9" text-anchor="middle" fill="#231f20" stroke="#231f20" stroke-width="0.27" textLength="30.40" lengthAdjust="spacingAndGlyphs" >CD83 PE</text>
<text x="672.30" y="254.20" font-size="3.2" text-anchor="middle" fill="#333" stroke="#333" stroke-width="0.05" >10</text>
<text x="672.30" y="265.00" font-size="3.2" text-anchor="middle" fill="#333" stroke="#333" stroke-width="0.05" >8</text>
<text x="672.30" y="275.80" font-size="3.2" text-anchor="middle" fill="#333" stroke="#333" stroke-width="0.05" >6</text>
<text x="672.30" y="286.60" font-size="3.2" text-anchor="middle" fill="#333" stroke="#333" stroke-width="0.05" >4</text>
<text x="672.30" y="297.40" font-size="3.2" text-anchor="middle" fill="#333" stroke="#333" stroke-width="0.05" >2</text>
<path d="M530.90 341.80 H594.60 V398.30" stroke="#aaa" stroke-width="0.6" fill="none"/>
<path d="M530.90 341.80 V398.30 H594.60" stroke="#333" stroke-width="0.6" fill="none"/>
<path d="M529.30 398.30H530.90M530.10 397.21H530.90M530.10 396.12H530.90M530.10 395.03H530.90M530.10 393.94H530.90M530.10 392.85H530.90M530.10 391.76H530.90M530.10 390.67H530.90M530.10 389.58H530.90M530.10 388.49H530.90M529.30 387.40H530.90M530.10 386.31H530.90M530.10 385.22H530.90M530.10 384.13H530.90M530.10 383.04H530.90M530.10 381.95H530.90M530.10 380.86H530.90M530.10 379.77H530.90M530.10 378.68H530.90M530.10 377.59H530.90M529.30 376.50H530.90M530.10 375.41H530.90M530.10 374.32H530.90M530.10 373.23H530.90M530.10 372.14H530.90M530.10 371.05H530.90M530.10 369.96H530.90M530.10 368.87H530.90M530.10 367.78H530.90M530.10 366.69H530.90M529.30 365.60H530.90M530.10 364.51H530.90M530.10 363.42H530.90M530.10 362.33H530.90M530.10 361.24H530.90M530.10 360.15H530.90M530.10 359.06H530.90M530.10 357.97H530.90M530.10 356.88H530.90M530.10 355.79H530.90M529.30 354.70H530.90M530.10 353.61H530.90M530.10 352.52H530.90M530.10 351.43H530.90M530.10 350.34H530.90M530.10 349.25H530.90M530.10 348.16H530.90M530.10 347.07H530.90M530.10 345.98H530.90M530.10 344.89H530.90M529.30 343.80H530.90" stroke="#333" stroke-width="0.35"/>
<text x="529.00" y="399.30" font-size="3.0" text-anchor="end" fill="#333" stroke="#333" stroke-width="0.05" >0</text>
<text x="529.00" y="388.40" font-size="3.0" text-anchor="end" fill="#333" stroke="#333" stroke-width="0.05" >20</text>
<text x="529.00" y="377.50" font-size="3.0" text-anchor="end" fill="#333" stroke="#333" stroke-width="0.05" >40</text>
<text x="529.00" y="366.60" font-size="3.0" text-anchor="end" fill="#333" stroke="#333" stroke-width="0.05" >60</text>
<text x="529.00" y="355.70" font-size="3.0" text-anchor="end" fill="#333" stroke="#333" stroke-width="0.05" >80</text>
<text x="529.00" y="344.80" font-size="3.0" text-anchor="end" fill="#333" stroke="#333" stroke-width="0.05" >100</text>
<path d="M534.09 398.30V399.90M537.73 398.30V399.10M539.86 398.30V399.10M541.37 398.30V399.10M542.54 398.30V399.10M543.50 398.30V399.10M544.31 398.30V399.10M545.02 398.30V399.10M545.63 398.30V399.10M546.19 398.30V399.90M549.83 398.30V399.10M551.96 398.30V399.10M553.47 398.30V399.10M554.65 398.30V399.10M555.61 398.30V399.10M556.42 398.30V399.10M557.12 398.30V399.10M557.74 398.30V399.10M558.29 398.30V399.90M561.93 398.30V399.10M564.07 398.30V399.10M565.58 398.30V399.10M566.75 398.30V399.10M567.71 398.30V399.10M568.52 398.30V399.10M569.22 398.30V399.10M569.84 398.30V399.10M570.39 398.30V399.90M574.04 398.30V399.10M576.17 398.30V399.10M577.68 398.30V399.10M578.85 398.30V399.10M579.81 398.30V399.10M580.62 398.30V399.10M581.32 398.30V399.10M581.94 398.30V399.10M582.50 398.30V399.90M586.14 398.30V399.10M588.27 398.30V399.10M589.78 398.30V399.10M590.96 398.30V399.10M591.91 398.30V399.10M592.73 398.30V399.10M593.43 398.30V399.10M594.05 398.30V399.10" stroke="#333" stroke-width="0.35"/>
<text x="539.18" y="403.10" font-size="3.0" text-anchor="middle" fill="#333" stroke="#333" stroke-width="0.05" >0</text>
<text x="555.74" y="403.10" font-size="3.0" text-anchor="middle" fill="#333" stroke="#333" stroke-width="0.05" >10²</text>
<text x="567.85" y="403.10" font-size="3.0" text-anchor="middle" fill="#333" stroke="#333" stroke-width="0.05" >10³</text>
<text x="579.95" y="403.10" font-size="3.0" text-anchor="middle" fill="#333" stroke="#333" stroke-width="0.05" >10⁴</text>
<text x="592.05" y="403.10" font-size="3.0" text-anchor="middle" fill="#333" stroke="#333" stroke-width="0.05" >10⁵</text>
<path d="M530.85 398.30 L530.85 398.26 L530.85 389.07 L532.38 386.51 L534.30 383.96 L536.21 381.41 L538.13 378.85 L540.04 375.02 L541.96 368.64 L543.62 362.26 L545.15 355.87 L546.43 352.04 L547.45 348.21 L548.34 345.66 L549.24 347.57 L550.26 350.77 L551.28 357.15 L552.17 363.53 L553.45 373.75 L554.72 382.68 L556.00 389.07 L557.28 394.17 L558.55 397.36 L559.45 398.26 L559.45 398.30 Z" fill="#c9c9c5" stroke="none"/>
<path d="M530.85 398.26 L530.85 389.07 L532.38 386.51 L534.30 383.96 L536.21 381.41 L538.13 378.85 L540.04 375.02 L541.96 368.64 L543.62 362.26 L545.15 355.87 L546.43 352.04 L547.45 348.21 L548.34 345.66 L549.24 347.57 L550.26 350.77 L551.28 357.15 L552.17 363.53 L553.45 373.75 L554.72 382.68 L556.00 389.07 L557.28 394.17 L558.55 397.36 L559.45 398.26" fill="none" stroke="#555" stroke-width="0.7" stroke-linejoin="round"/>
<path d="M530.85 398.26 L548.98 398.26 L552.17 397.36 L554.72 394.81 L556.64 391.62 L558.17 386.51 L559.45 380.13 L560.72 373.75 L562.00 363.53 L563.02 354.60 L564.04 350.77 L564.94 346.94 L565.58 345.66 L566.21 352.04 L566.85 355.87 L567.49 363.53 L568.38 376.30 L569.41 386.51 L570.68 394.17 L572.21 396.73 L574.51 397.75 L577.07 398.26" fill="none" stroke="#e0282e" stroke-width="1.25" stroke-linejoin="round"/>
<path d="M530.85 398.26 L538.77 398.00 L542.60 396.09 L546.43 392.90 L548.98 387.79 L550.89 381.41 L552.81 375.02 L554.72 368.64 L556.00 361.62 L557.28 353.32 L558.17 345.66 L558.94 350.77 L559.45 359.70 L560.21 364.81 L561.11 367.36 L561.75 373.75 L562.77 381.41 L563.66 389.07 L564.94 392.90 L566.85 394.17 L568.77 396.73 L570.68 397.75 L574.51 398.00 L579.62 398.00 L594.56 398.26" fill="none" stroke="#4fb748" stroke-width="1.25" stroke-linejoin="round"/>
<path d="M530.85 398.26 L534.94 397.75 L537.49 396.73 L540.04 395.45 L541.96 392.90 L543.23 390.34 L544.51 389.70 L545.79 390.34 L547.06 387.79 L547.96 382.68 L548.98 376.30 L550.00 366.09 L550.89 354.60 L552.17 352.68 L553.45 350.77 L554.34 345.66 L555.11 349.49 L556.00 360.98 L557.28 369.92 L558.55 376.30 L559.83 386.51 L561.11 391.62 L562.38 394.17 L564.30 396.09 L566.85 397.36 L569.41 398.26" fill="none" stroke="#2450a0" stroke-width="1.25" stroke-linejoin="round"/>
<text x="564.80" y="414.80" font-size="9" text-anchor="middle" fill="#231f20" stroke="#231f20" stroke-width="0.27" textLength="32.80" lengthAdjust="spacingAndGlyphs" >CD86 PE</text>
<text x="605.20" y="356.80" font-size="8.6" text-anchor="start" fill="#8a8a8a" stroke="#8a8a8a" stroke-width="0.10" textLength="46.90" lengthAdjust="spacingAndGlyphs" >FMO control</text>
<text x="605.20" y="366.40" font-size="8.6" text-anchor="start" fill="#d2232a" stroke="#d2232a" stroke-width="0.10" textLength="78.20" lengthAdjust="spacingAndGlyphs" >CD14<tspan font-size="5" dy="-3">+</tspan><tspan dy="3"> macrophages</tspan></text>
<text x="605.20" y="375.40" font-size="8.6" text-anchor="start" fill="#3aa635" stroke="#3aa635" stroke-width="0.10" textLength="36.40" lengthAdjust="spacingAndGlyphs" >CD1c<tspan font-size="5" dy="-3">+</tspan><tspan dy="3"> DC</tspan></text>
<text x="605.20" y="383.80" font-size="8.6" text-anchor="start" fill="#2e3192" stroke="#2e3192" stroke-width="0.10" textLength="42.30" lengthAdjust="spacingAndGlyphs" >CD141<tspan font-size="5" dy="-3">+</tspan><tspan dy="3"> DC</tspan></text>
<text x="38.00" y="519.00" font-size="5" text-anchor="start" fill="#555" stroke="#555" stroke-width="0.15" >B</text>
</svg></body></html>
